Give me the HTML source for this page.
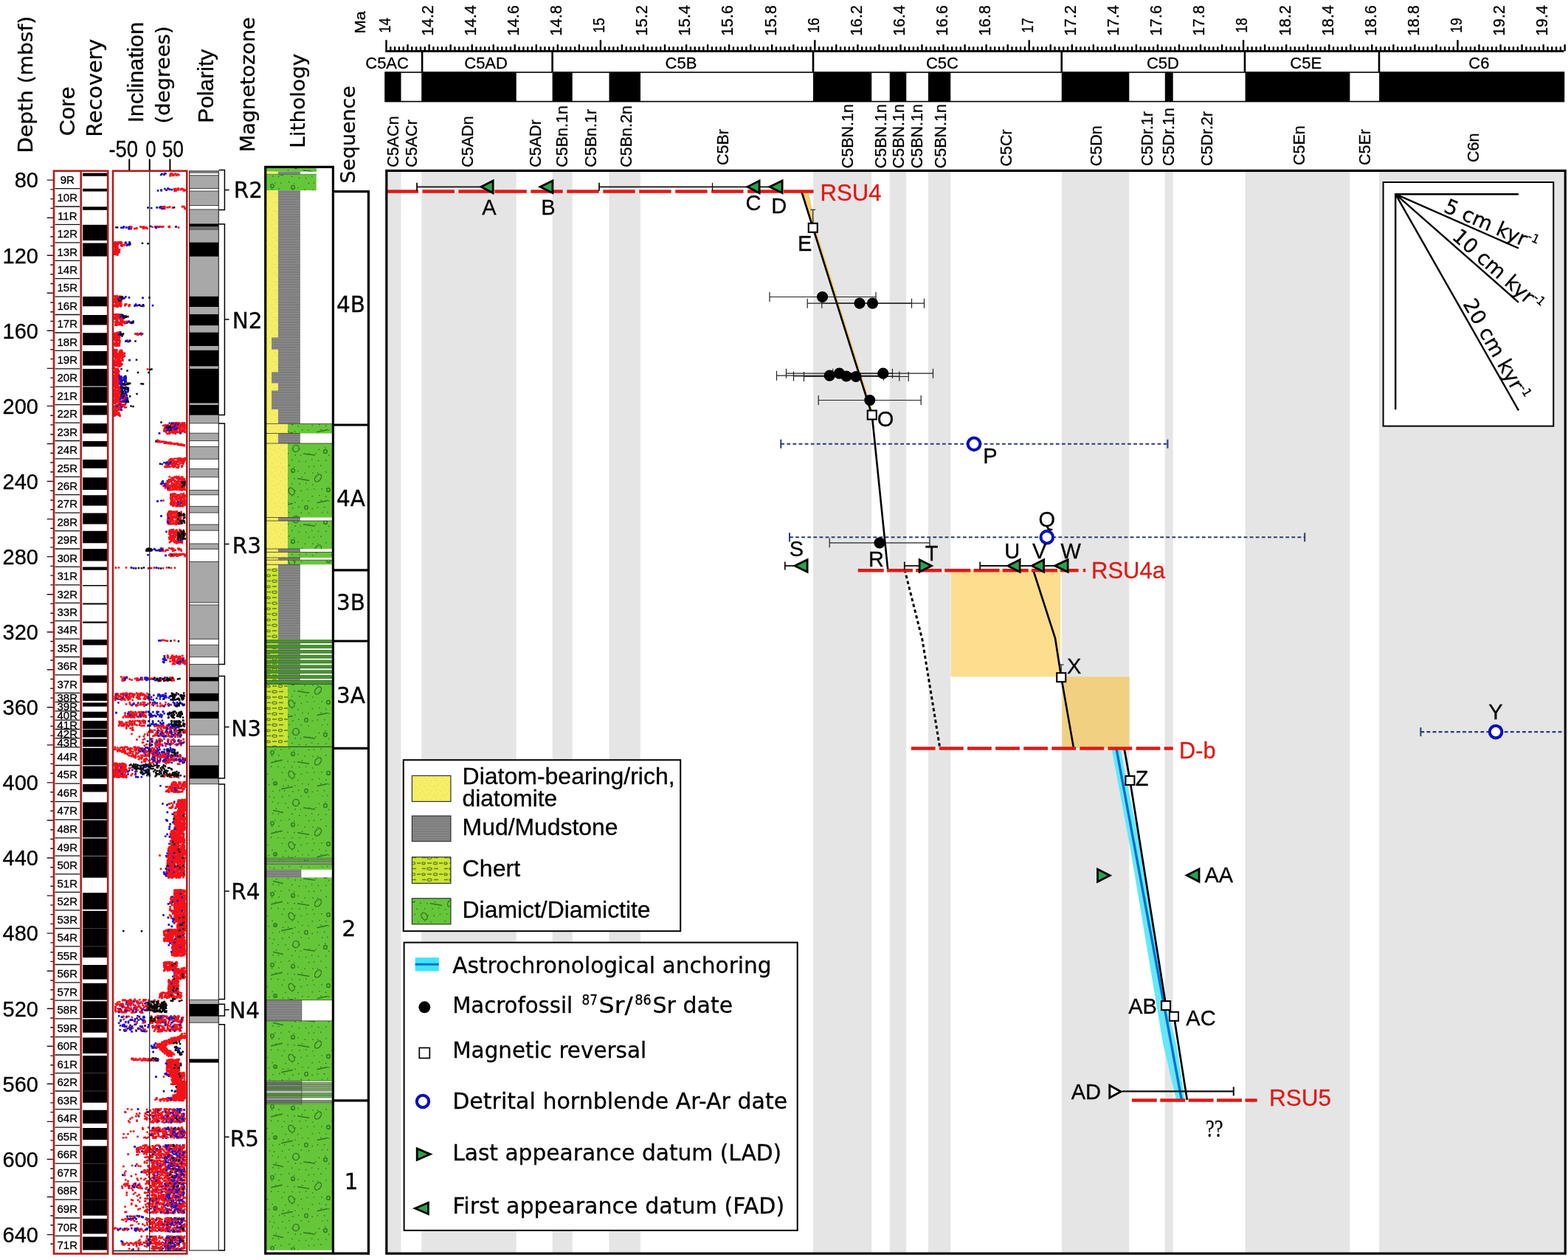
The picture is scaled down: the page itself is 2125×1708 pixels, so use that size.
<!DOCTYPE html>
<html lang="en">
<head>
<meta charset="utf-8">
<title>Age-depth model</title>
<style>html,body{margin:0;padding:0;background:#fff}svg{display:block}</style>
</head>
<body>
<svg width="2125" height="1708" viewBox="0 0 2125 1708" role="img" aria-label="Age-depth model with core recovery, inclination, polarity, lithology and sequence columns">
<defs>
<pattern id="pd" width="90" height="96" patternUnits="userSpaceOnUse" x="361" y="1012"><rect width="90" height="96" fill="#66c63a"/><path d="M11.9 4.0h0M20.0 4.0h0M30.9 2.7h0M37.7 5.0h0M57.5 4.4h0M64.4 4.1h0M74.0 3.2h0M7.6 12.4h0M17.0 11.9h0M35.2 11.4h0M42.8 10.6h0M52.2 13.1h0M63.0 13.1h0M69.6 13.3h0M81.0 11.7h0M88.9 12.9h0M12.8 18.8h0M19.7 18.6h0M29.0 20.2h0M38.0 20.7h0M48.5 18.8h0M6.6 27.2h0M16.0 27.3h0M24.2 28.3h0M34.8 27.6h0M45.0 27.9h0M53.7 27.0h0M62.8 29.0h0M88.8 27.7h0M1.5 37.5h0M21.3 35.3h0M30.7 34.6h0M39.2 37.1h0M47.3 37.3h0M55.5 35.3h0M64.6 35.0h0M75.2 34.8h0M85.3 37.5h0M8.1 44.3h0M26.1 45.5h0M34.9 43.9h0M42.9 45.6h0M62.3 44.7h0M71.8 43.5h0M80.8 45.2h0M89.4 45.2h0M3.4 51.6h0M12.3 50.7h0M22.6 53.2h0M29.6 52.8h0M38.8 53.1h0M48.8 50.5h0M56.9 51.1h0M74.2 50.4h0M84.6 51.0h0M8.8 60.5h0M17.8 59.4h0M24.5 59.8h0M35.8 61.2h0M43.8 59.4h0M62.2 61.4h0M69.4 59.8h0M78.6 59.7h0M4.5 67.8h0M10.5 69.2h0M21.7 68.2h0M30.9 66.5h0M47.2 66.9h0M57.4 67.8h0M75.6 67.0h0M83.0 66.4h0M8.2 75.0h0M16.0 76.6h0M25.9 76.8h0M35.4 77.3h0M44.9 76.7h0M71.4 77.4h0M80.0 75.1h0M89.5 76.5h0M13.5 84.1h0M29.5 82.7h0M39.2 84.9h0M46.5 85.0h0M58.0 83.0h0M66.9 82.8h0M84.6 85.4h0M8.9 90.7h0M16.6 91.3h0M34.7 91.4h0M44.6 93.3h0M53.6 93.5h0M61.7 91.0h0M70.5 92.3h0M81.0 92.1h0M89.5 92.2h0" stroke="#2c7a1c" stroke-width="1.7" stroke-linecap="round" fill="none"/><path d="M6.7 21.8L21.3 18.2M42.6 20.7L57.4 23.3M69.2 53.5L82.8 50.5M20.7 57.6L35.3 54.4M50.6 83.0L65.4 85.0M9.6 86.6L22.4 89.4" stroke="#2c7a1c" stroke-width="1.5" stroke-linecap="round" fill="none"/><ellipse cx="8" cy="8" rx="2.2" ry="2.4" transform="rotate(0 8 8)" fill="none" stroke="#2c7a1c" stroke-width="1.4"/><ellipse cx="36" cy="10" rx="2.3" ry="2.6" transform="rotate(0 36 10)" fill="none" stroke="#2c7a1c" stroke-width="1.4"/><ellipse cx="70" cy="20" rx="3.6" ry="5.6" transform="rotate(38 70 20)" fill="none" stroke="#2c7a1c" stroke-width="1.4"/><ellipse cx="34" cy="38" rx="3.6" ry="5.2" transform="rotate(-30 34 38)" fill="none" stroke="#2c7a1c" stroke-width="1.4"/><ellipse cx="84" cy="36" rx="2.3" ry="2.5" transform="rotate(0 84 36)" fill="none" stroke="#2c7a1c" stroke-width="1.4"/><ellipse cx="12" cy="50" rx="2.3" ry="2.3" transform="rotate(0 12 50)" fill="none" stroke="#2c7a1c" stroke-width="1.4"/><ellipse cx="54" cy="60" rx="2.2" ry="2.6" transform="rotate(0 54 60)" fill="none" stroke="#2c7a1c" stroke-width="1.4"/><ellipse cx="40" cy="76" rx="4.2" ry="4.6" transform="rotate(15 40 76)" fill="none" stroke="#2c7a1c" stroke-width="1.4"/><ellipse cx="80" cy="80" rx="2.3" ry="2.5" transform="rotate(0 80 80)" fill="none" stroke="#2c7a1c" stroke-width="1.4"/></pattern>
<pattern id="py" width="12" height="12" patternUnits="userSpaceOnUse"><rect width="12" height="12" fill="#f5ee66"/><path d="M2 2h1.2M8 4h1.2M5 8h1.2M10.5 10h1.2M1 10.5h1" stroke="#dcd250" stroke-width="1.2"/></pattern>
<pattern id="pm" width="16" height="3.4" patternUnits="userSpaceOnUse"><rect width="16" height="3.4" fill="#898989"/><path d="M0 1.7h16" stroke="#6e6e6e" stroke-width="0.9"/></pattern>
<pattern id="pc" width="30" height="15" patternUnits="userSpaceOnUse" x="361" y="770"><rect width="30" height="15" fill="#cce432"/><path d="M1 2.5h5M17 2.5h6M8 10h6M24 10h5" stroke="#5f7f14" stroke-width="1.3"/><ellipse cx="11" cy="2.8" rx="3.2" ry="1.6" fill="none" stroke="#5f7f14" stroke-width="1.2"/><ellipse cx="19" cy="10.2" rx="2.6" ry="1.5" fill="none" stroke="#5f7f14" stroke-width="1.2"/><ellipse cx="3" cy="10.2" rx="2.2" ry="1.4" fill="none" stroke="#5f7f14" stroke-width="1.2"/></pattern>
</defs>
<rect x="0.00" y="0.00" width="2125.00" height="1708.00" fill="#fff" />
<text transform="translate(44.3 207.5) rotate(-90)" font-family='"DejaVu Sans", Verdana, sans-serif' font-size="27.2" fill="#000" stroke="#000" stroke-width="0.3" textLength="185.7" lengthAdjust="spacingAndGlyphs" >Depth (mbsf)</text>
<text transform="translate(101.2 184.2) rotate(-90)" font-family='"Liberation Sans", Arial, Helvetica, sans-serif' font-size="30" fill="#000" stroke="#000" stroke-width="0.3" textLength="66.7" lengthAdjust="spacingAndGlyphs" >Core</text>
<text transform="translate(137.6 185.7) rotate(-90)" font-family='"DejaVu Sans", Verdana, sans-serif' font-size="28.5" fill="#000" stroke="#000" stroke-width="0.3" textLength="133" lengthAdjust="spacingAndGlyphs" >Recovery</text>
<text transform="translate(194.1 166.3) rotate(-90)" font-family='"Liberation Sans", Arial, Helvetica, sans-serif' font-size="29" fill="#000" stroke="#000" stroke-width="0.3" textLength="136.3" lengthAdjust="spacingAndGlyphs" >Inclination</text>
<text transform="translate(230 167.5) rotate(-90)" font-family='"DejaVu Sans", Verdana, sans-serif' font-size="27" fill="#000" stroke="#000" stroke-width="0.3" textLength="132.2" lengthAdjust="spacingAndGlyphs" >(degrees)</text>
<text transform="translate(288.8 166.8) rotate(-90)" font-family='"Liberation Sans", Arial, Helvetica, sans-serif' font-size="29" fill="#000" stroke="#000" stroke-width="0.3" textLength="100.1" lengthAdjust="spacingAndGlyphs" >Polarity</text>
<text transform="translate(344.9 206.2) rotate(-90)" font-family='"DejaVu Sans", Verdana, sans-serif' font-size="27.2" fill="#000" stroke="#000" stroke-width="0.3" textLength="183" lengthAdjust="spacingAndGlyphs" >Magnetozone</text>
<text transform="translate(413.4 200.7) rotate(-90)" font-family='"DejaVu Sans", Verdana, sans-serif' font-size="27.2" fill="#000" stroke="#000" stroke-width="0.3" textLength="128" lengthAdjust="spacingAndGlyphs" >Lithology</text>
<text transform="translate(481.2 248.6) rotate(-90)" font-family='"DejaVu Sans", Verdana, sans-serif' font-size="27.2" fill="#000" stroke="#000" stroke-width="0.3" textLength="132.4" lengthAdjust="spacingAndGlyphs" >Sequence</text>
<text x="52" y="254.4" font-family='"Liberation Sans", Arial, Helvetica, sans-serif' font-size="29" fill="#000" stroke="#000" stroke-width="0.3" text-anchor="end" >80</text>
<text x="52" y="356.5" font-family='"Liberation Sans", Arial, Helvetica, sans-serif' font-size="29" fill="#000" stroke="#000" stroke-width="0.3" text-anchor="end" >120</text>
<text x="52" y="458.6" font-family='"Liberation Sans", Arial, Helvetica, sans-serif' font-size="29" fill="#000" stroke="#000" stroke-width="0.3" text-anchor="end" >160</text>
<text x="52" y="560.7" font-family='"Liberation Sans", Arial, Helvetica, sans-serif' font-size="29" fill="#000" stroke="#000" stroke-width="0.3" text-anchor="end" >200</text>
<text x="52" y="662.8" font-family='"Liberation Sans", Arial, Helvetica, sans-serif' font-size="29" fill="#000" stroke="#000" stroke-width="0.3" text-anchor="end" >240</text>
<text x="52" y="764.9" font-family='"Liberation Sans", Arial, Helvetica, sans-serif' font-size="29" fill="#000" stroke="#000" stroke-width="0.3" text-anchor="end" >280</text>
<text x="52" y="867.0" font-family='"Liberation Sans", Arial, Helvetica, sans-serif' font-size="29" fill="#000" stroke="#000" stroke-width="0.3" text-anchor="end" >320</text>
<text x="52" y="969.1" font-family='"Liberation Sans", Arial, Helvetica, sans-serif' font-size="29" fill="#000" stroke="#000" stroke-width="0.3" text-anchor="end" >360</text>
<text x="52" y="1071.2" font-family='"Liberation Sans", Arial, Helvetica, sans-serif' font-size="29" fill="#000" stroke="#000" stroke-width="0.3" text-anchor="end" >400</text>
<text x="52" y="1173.3" font-family='"Liberation Sans", Arial, Helvetica, sans-serif' font-size="29" fill="#000" stroke="#000" stroke-width="0.3" text-anchor="end" >440</text>
<text x="52" y="1275.4" font-family='"Liberation Sans", Arial, Helvetica, sans-serif' font-size="29" fill="#000" stroke="#000" stroke-width="0.3" text-anchor="end" >480</text>
<text x="52" y="1377.5" font-family='"Liberation Sans", Arial, Helvetica, sans-serif' font-size="29" fill="#000" stroke="#000" stroke-width="0.3" text-anchor="end" >520</text>
<text x="52" y="1479.6" font-family='"Liberation Sans", Arial, Helvetica, sans-serif' font-size="29" fill="#000" stroke="#000" stroke-width="0.3" text-anchor="end" >560</text>
<text x="52" y="1581.8" font-family='"Liberation Sans", Arial, Helvetica, sans-serif' font-size="29" fill="#000" stroke="#000" stroke-width="0.3" text-anchor="end" >600</text>
<text x="52" y="1683.9" font-family='"Liberation Sans", Arial, Helvetica, sans-serif' font-size="29" fill="#000" stroke="#000" stroke-width="0.3" text-anchor="end" >640</text>
<path d="M63.7 244.1H72M68.3 256.9H72M68.3 269.6H72M68.3 282.4H72M63.7 295.2H72M68.3 307.9H72M68.3 320.7H72M68.3 333.4H72M63.7 346.2H72M68.3 359.0H72M68.3 371.7H72M68.3 384.5H72M63.7 397.3H72M68.3 410.0H72M68.3 422.8H72M68.3 435.5H72M63.7 448.3H72M68.3 461.1H72M68.3 473.8H72M68.3 486.6H72M63.7 499.4H72M68.3 512.1H72M68.3 524.9H72M68.3 537.6H72M63.7 550.4H72M68.3 563.2H72M68.3 575.9H72M68.3 588.7H72M63.7 601.5H72M68.3 614.2H72M68.3 627.0H72M68.3 639.8H72M63.7 652.5H72M68.3 665.3H72M68.3 678.0H72M68.3 690.8H72M63.7 703.6H72M68.3 716.3H72M68.3 729.1H72M68.3 741.9H72M63.7 754.6H72M68.3 767.4H72M68.3 780.1H72M68.3 792.9H72M63.7 805.7H72M68.3 818.4H72M68.3 831.2H72M68.3 844.0H72M63.7 856.7H72M68.3 869.5H72M68.3 882.2H72M68.3 895.0H72M63.7 907.8H72M68.3 920.5H72M68.3 933.3H72M68.3 946.1H72M63.7 958.8H72M68.3 971.6H72M68.3 984.4H72M68.3 997.1H72M63.7 1009.9H72M68.3 1022.6H72M68.3 1035.4H72M68.3 1048.2H72M63.7 1060.9H72M68.3 1073.7H72M68.3 1086.5H72M68.3 1099.2H72M63.7 1112.0H72M68.3 1124.7H72M68.3 1137.5H72M68.3 1150.3H72M63.7 1163.0H72M68.3 1175.8H72M68.3 1188.6H72M68.3 1201.3H72M63.7 1214.1H72M68.3 1226.9H72M68.3 1239.6H72M68.3 1252.4H72M63.7 1265.1H72M68.3 1277.9H72M68.3 1290.7H72M68.3 1303.4H72M63.7 1316.2H72M68.3 1329.0H72M68.3 1341.7H72M68.3 1354.5H72M63.7 1367.2H72M68.3 1380.0H72M68.3 1392.8H72M68.3 1405.5H72M63.7 1418.3H72M68.3 1431.1H72M68.3 1443.8H72M68.3 1456.6H72M63.7 1469.3H72M68.3 1482.1H72M68.3 1494.9H72M68.3 1507.6H72M63.7 1520.4H72M68.3 1533.2H72M68.3 1545.9H72M68.3 1558.7H72M63.7 1571.5H72M68.3 1584.2H72M68.3 1597.0H72M68.3 1609.7H72M63.7 1622.5H72M68.3 1635.3H72M68.3 1648.0H72M68.3 1660.8H72M63.7 1673.6H72M68.3 1686.3H72" stroke="#3a0d0d" stroke-width="1.4" fill="none"/>
<rect x="73.00" y="231.50" width="73.20" height="1468.00" fill="#fff" />
<path d="M112 234.4H145V238.8H112zM112 255.8H145V259.6H112zM112 280.2H145V284.8H112zM112 304.8H145V326.0H112zM112 329.4H145V347.5H112zM112 402.0H145V415.2H112zM112 426.9H145V440.6H112zM112 451.2H145V468.1H112zM112 475.9H145V495.6H112zM112 500.0H145V523.4H112zM112 524.4H145V546.0H112zM112 549.4H145V562.5H112zM112 574.0H145V587.5H112zM112 598.1H145V605.6H112zM112 623.1H145V634.8H112zM112 647.2H145V664.0H112zM112 671.2H145V685.6H112zM112 695.6H145V710.6H112zM112 719.8H145V736.2H112zM112 744.0H145V760.6H112zM112 768.5H145V772.8H112zM112 793.0H145V794.4H112zM112 817.5H145V819.4H112zM112 842.5H145V844.8H112zM112 866.9H145V874.4H112zM112 891.2H145V901.0H112zM112 915.6H145V925.6H112zM112 940.0H145V950.0H112zM112 952.5H145V957.8H112zM112 964.8H145V973.1H112zM112 976.9H145V988.3H112zM112 989.0H145V999.4H112zM112 1001.5H145V1012.5H112zM112 1014.0H145V1037.2H112zM112 1038.5H145V1055.6H112zM112 1063.1H145V1073.5H112zM112 1087.5H145V1110.6H112zM112 1111.9H145V1135.2H112zM112 1136.5H145V1160.0H112zM112 1160.6H145V1189.8H112zM112 1210.2H145V1232.8H112zM112 1234.8H145V1298.1H112zM112 1308.1H145V1327.5H112zM112 1332.8H145V1355.6H112zM112 1357.2H145V1380.0H112zM112 1381.5H145V1399.8H112zM112 1406.5H145V1428.1H112zM112 1431.0H145V1494.8H112zM112 1504.8H145V1523.1H112zM112 1529.1H145V1545.0H112zM112 1553.5H145V1647.8H112zM112 1651.9H145V1672.5H112zM112 1676.5H145V1694.4H112z" fill="#000"/>
<line x1="112.00" y1="523.90" x2="145.00" y2="523.90" stroke="#666" stroke-width="0.6" />
<line x1="112.00" y1="1111.20" x2="145.00" y2="1111.20" stroke="#666" stroke-width="0.6" />
<line x1="112.00" y1="1160.30" x2="145.00" y2="1160.30" stroke="#666" stroke-width="0.6" />
<line x1="112.00" y1="1258.50" x2="145.00" y2="1258.50" stroke="#666" stroke-width="0.6" />
<line x1="112.00" y1="1282.90" x2="145.00" y2="1282.90" stroke="#666" stroke-width="0.6" />
<line x1="112.00" y1="1454.60" x2="145.00" y2="1454.60" stroke="#666" stroke-width="0.6" />
<line x1="112.00" y1="1479.00" x2="145.00" y2="1479.00" stroke="#666" stroke-width="0.6" />
<line x1="112.00" y1="1577.25" x2="145.00" y2="1577.25" stroke="#666" stroke-width="0.6" />
<line x1="112.00" y1="1601.80" x2="145.00" y2="1601.80" stroke="#666" stroke-width="0.6" />
<line x1="112.00" y1="1626.25" x2="145.00" y2="1626.25" stroke="#666" stroke-width="0.6" />
<path d="M74.5 255.6H108M74.5 280.0H108M74.5 304.4H108M74.5 328.9H108M74.5 353.3H108M74.5 377.7H108M74.5 402.1H108M74.5 426.5H108M74.5 451.0H108M74.5 475.4H108M74.5 499.8H108M74.5 524.2H108M74.5 548.6H108M74.5 573.1H108M74.5 597.5H108M74.5 621.9H108M74.5 646.3H108M74.5 670.7H108M74.5 695.2H108M74.5 719.6H108M74.5 744.0H108M74.5 768.4H108M74.5 792.8H108M74.5 817.3H108M74.5 841.7H108M74.5 866.1H108M74.5 890.5H108M74.5 914.9H108M74.5 939.4H108M74.5 951.6H108M74.5 963.8H108M74.5 976.2H108M74.5 988.5H108M74.5 1000.6H108M74.5 1012.9H108M74.5 1037.5H108M74.5 1062.1H108M74.5 1086.6H108M74.5 1111.2H108M74.5 1135.9H108M74.5 1160.2H108M74.5 1184.8H108M74.5 1209.4H108M74.5 1233.8H108M74.5 1258.5H108M74.5 1282.9H108M74.5 1307.5H108M74.5 1331.9H108M74.5 1356.2H108M74.5 1380.9H108M74.5 1405.6H108M74.5 1430.0H108M74.5 1454.6H108M74.5 1479.0H108M74.5 1503.6H108M74.5 1528.1H108M74.5 1552.6H108M74.5 1577.2H108M74.5 1601.8H108M74.5 1626.2H108M74.5 1651.0H108M74.5 1675.4H108" stroke="#111" stroke-width="1.3" fill="none"/>
<text x="91.3" y="249.2" font-family='"Liberation Sans", Arial, Helvetica, sans-serif' font-size="15" fill="#000" stroke="#000" stroke-width="0.3" text-anchor="middle" >9R</text>
<text x="91.3" y="273.2" font-family='"Liberation Sans", Arial, Helvetica, sans-serif' font-size="15" fill="#000" stroke="#000" stroke-width="0.3" text-anchor="middle" >10R</text>
<text x="91.3" y="297.6" font-family='"Liberation Sans", Arial, Helvetica, sans-serif' font-size="15" fill="#000" stroke="#000" stroke-width="0.3" text-anchor="middle" >11R</text>
<text x="91.3" y="322.0" font-family='"Liberation Sans", Arial, Helvetica, sans-serif' font-size="15" fill="#000" stroke="#000" stroke-width="0.3" text-anchor="middle" >12R</text>
<text x="91.3" y="346.5" font-family='"Liberation Sans", Arial, Helvetica, sans-serif' font-size="15" fill="#000" stroke="#000" stroke-width="0.3" text-anchor="middle" >13R</text>
<text x="91.3" y="370.9" font-family='"Liberation Sans", Arial, Helvetica, sans-serif' font-size="15" fill="#000" stroke="#000" stroke-width="0.3" text-anchor="middle" >14R</text>
<text x="91.3" y="395.3" font-family='"Liberation Sans", Arial, Helvetica, sans-serif' font-size="15" fill="#000" stroke="#000" stroke-width="0.3" text-anchor="middle" >15R</text>
<text x="91.3" y="419.7" font-family='"Liberation Sans", Arial, Helvetica, sans-serif' font-size="15" fill="#000" stroke="#000" stroke-width="0.3" text-anchor="middle" >16R</text>
<text x="91.3" y="444.1" font-family='"Liberation Sans", Arial, Helvetica, sans-serif' font-size="15" fill="#000" stroke="#000" stroke-width="0.3" text-anchor="middle" >17R</text>
<text x="91.3" y="468.6" font-family='"Liberation Sans", Arial, Helvetica, sans-serif' font-size="15" fill="#000" stroke="#000" stroke-width="0.3" text-anchor="middle" >18R</text>
<text x="91.3" y="493.0" font-family='"Liberation Sans", Arial, Helvetica, sans-serif' font-size="15" fill="#000" stroke="#000" stroke-width="0.3" text-anchor="middle" >19R</text>
<text x="91.3" y="517.4" font-family='"Liberation Sans", Arial, Helvetica, sans-serif' font-size="15" fill="#000" stroke="#000" stroke-width="0.3" text-anchor="middle" >20R</text>
<text x="91.3" y="541.8" font-family='"Liberation Sans", Arial, Helvetica, sans-serif' font-size="15" fill="#000" stroke="#000" stroke-width="0.3" text-anchor="middle" >21R</text>
<text x="91.3" y="566.2" font-family='"Liberation Sans", Arial, Helvetica, sans-serif' font-size="15" fill="#000" stroke="#000" stroke-width="0.3" text-anchor="middle" >22R</text>
<text x="91.3" y="590.7" font-family='"Liberation Sans", Arial, Helvetica, sans-serif' font-size="15" fill="#000" stroke="#000" stroke-width="0.3" text-anchor="middle" >23R</text>
<text x="91.3" y="615.1" font-family='"Liberation Sans", Arial, Helvetica, sans-serif' font-size="15" fill="#000" stroke="#000" stroke-width="0.3" text-anchor="middle" >24R</text>
<text x="91.3" y="639.5" font-family='"Liberation Sans", Arial, Helvetica, sans-serif' font-size="15" fill="#000" stroke="#000" stroke-width="0.3" text-anchor="middle" >25R</text>
<text x="91.3" y="663.9" font-family='"Liberation Sans", Arial, Helvetica, sans-serif' font-size="15" fill="#000" stroke="#000" stroke-width="0.3" text-anchor="middle" >26R</text>
<text x="91.3" y="688.4" font-family='"Liberation Sans", Arial, Helvetica, sans-serif' font-size="15" fill="#000" stroke="#000" stroke-width="0.3" text-anchor="middle" >27R</text>
<text x="91.3" y="712.8" font-family='"Liberation Sans", Arial, Helvetica, sans-serif' font-size="15" fill="#000" stroke="#000" stroke-width="0.3" text-anchor="middle" >28R</text>
<text x="91.3" y="737.2" font-family='"Liberation Sans", Arial, Helvetica, sans-serif' font-size="15" fill="#000" stroke="#000" stroke-width="0.3" text-anchor="middle" >29R</text>
<text x="91.3" y="761.6" font-family='"Liberation Sans", Arial, Helvetica, sans-serif' font-size="15" fill="#000" stroke="#000" stroke-width="0.3" text-anchor="middle" >30R</text>
<text x="91.3" y="786.0" font-family='"Liberation Sans", Arial, Helvetica, sans-serif' font-size="15" fill="#000" stroke="#000" stroke-width="0.3" text-anchor="middle" >31R</text>
<text x="91.3" y="810.5" font-family='"Liberation Sans", Arial, Helvetica, sans-serif' font-size="15" fill="#000" stroke="#000" stroke-width="0.3" text-anchor="middle" >32R</text>
<text x="91.3" y="834.9" font-family='"Liberation Sans", Arial, Helvetica, sans-serif' font-size="15" fill="#000" stroke="#000" stroke-width="0.3" text-anchor="middle" >33R</text>
<text x="91.3" y="859.3" font-family='"Liberation Sans", Arial, Helvetica, sans-serif' font-size="15" fill="#000" stroke="#000" stroke-width="0.3" text-anchor="middle" >34R</text>
<text x="91.3" y="883.7" font-family='"Liberation Sans", Arial, Helvetica, sans-serif' font-size="15" fill="#000" stroke="#000" stroke-width="0.3" text-anchor="middle" >35R</text>
<text x="91.3" y="908.1" font-family='"Liberation Sans", Arial, Helvetica, sans-serif' font-size="15" fill="#000" stroke="#000" stroke-width="0.3" text-anchor="middle" >36R</text>
<text x="91.3" y="932.6" font-family='"Liberation Sans", Arial, Helvetica, sans-serif' font-size="15" fill="#000" stroke="#000" stroke-width="0.3" text-anchor="middle" >37R</text>
<text x="91.3" y="950.9" font-family='"Liberation Sans", Arial, Helvetica, sans-serif' font-size="15" fill="#000" stroke="#000" stroke-width="0.3" text-anchor="middle" >38R</text>
<text x="91.3" y="963.1" font-family='"Liberation Sans", Arial, Helvetica, sans-serif' font-size="15" fill="#000" stroke="#000" stroke-width="0.3" text-anchor="middle" >39R</text>
<text x="91.3" y="975.4" font-family='"Liberation Sans", Arial, Helvetica, sans-serif' font-size="15" fill="#000" stroke="#000" stroke-width="0.3" text-anchor="middle" >40R</text>
<text x="91.3" y="987.8" font-family='"Liberation Sans", Arial, Helvetica, sans-serif' font-size="15" fill="#000" stroke="#000" stroke-width="0.3" text-anchor="middle" >41R</text>
<text x="91.3" y="999.9" font-family='"Liberation Sans", Arial, Helvetica, sans-serif' font-size="15" fill="#000" stroke="#000" stroke-width="0.3" text-anchor="middle" >42R</text>
<text x="91.3" y="1012.1" font-family='"Liberation Sans", Arial, Helvetica, sans-serif' font-size="15" fill="#000" stroke="#000" stroke-width="0.3" text-anchor="middle" >43R</text>
<text x="91.3" y="1030.6" font-family='"Liberation Sans", Arial, Helvetica, sans-serif' font-size="15" fill="#000" stroke="#000" stroke-width="0.3" text-anchor="middle" >44R</text>
<text x="91.3" y="1055.2" font-family='"Liberation Sans", Arial, Helvetica, sans-serif' font-size="15" fill="#000" stroke="#000" stroke-width="0.3" text-anchor="middle" >45R</text>
<text x="91.3" y="1079.8" font-family='"Liberation Sans", Arial, Helvetica, sans-serif' font-size="15" fill="#000" stroke="#000" stroke-width="0.3" text-anchor="middle" >46R</text>
<text x="91.3" y="1104.3" font-family='"Liberation Sans", Arial, Helvetica, sans-serif' font-size="15" fill="#000" stroke="#000" stroke-width="0.3" text-anchor="middle" >47R</text>
<text x="91.3" y="1129.0" font-family='"Liberation Sans", Arial, Helvetica, sans-serif' font-size="15" fill="#000" stroke="#000" stroke-width="0.3" text-anchor="middle" >48R</text>
<text x="91.3" y="1153.5" font-family='"Liberation Sans", Arial, Helvetica, sans-serif' font-size="15" fill="#000" stroke="#000" stroke-width="0.3" text-anchor="middle" >49R</text>
<text x="91.3" y="1177.9" font-family='"Liberation Sans", Arial, Helvetica, sans-serif' font-size="15" fill="#000" stroke="#000" stroke-width="0.3" text-anchor="middle" >50R</text>
<text x="91.3" y="1202.5" font-family='"Liberation Sans", Arial, Helvetica, sans-serif' font-size="15" fill="#000" stroke="#000" stroke-width="0.3" text-anchor="middle" >51R</text>
<text x="91.3" y="1227.0" font-family='"Liberation Sans", Arial, Helvetica, sans-serif' font-size="15" fill="#000" stroke="#000" stroke-width="0.3" text-anchor="middle" >52R</text>
<text x="91.3" y="1251.5" font-family='"Liberation Sans", Arial, Helvetica, sans-serif' font-size="15" fill="#000" stroke="#000" stroke-width="0.3" text-anchor="middle" >53R</text>
<text x="91.3" y="1276.1" font-family='"Liberation Sans", Arial, Helvetica, sans-serif' font-size="15" fill="#000" stroke="#000" stroke-width="0.3" text-anchor="middle" >54R</text>
<text x="91.3" y="1300.6" font-family='"Liberation Sans", Arial, Helvetica, sans-serif' font-size="15" fill="#000" stroke="#000" stroke-width="0.3" text-anchor="middle" >55R</text>
<text x="91.3" y="1325.1" font-family='"Liberation Sans", Arial, Helvetica, sans-serif' font-size="15" fill="#000" stroke="#000" stroke-width="0.3" text-anchor="middle" >56R</text>
<text x="91.3" y="1349.5" font-family='"Liberation Sans", Arial, Helvetica, sans-serif' font-size="15" fill="#000" stroke="#000" stroke-width="0.3" text-anchor="middle" >57R</text>
<text x="91.3" y="1374.0" font-family='"Liberation Sans", Arial, Helvetica, sans-serif' font-size="15" fill="#000" stroke="#000" stroke-width="0.3" text-anchor="middle" >58R</text>
<text x="91.3" y="1398.7" font-family='"Liberation Sans", Arial, Helvetica, sans-serif' font-size="15" fill="#000" stroke="#000" stroke-width="0.3" text-anchor="middle" >59R</text>
<text x="91.3" y="1423.2" font-family='"Liberation Sans", Arial, Helvetica, sans-serif' font-size="15" fill="#000" stroke="#000" stroke-width="0.3" text-anchor="middle" >60R</text>
<text x="91.3" y="1447.7" font-family='"Liberation Sans", Arial, Helvetica, sans-serif' font-size="15" fill="#000" stroke="#000" stroke-width="0.3" text-anchor="middle" >61R</text>
<text x="91.3" y="1472.2" font-family='"Liberation Sans", Arial, Helvetica, sans-serif' font-size="15" fill="#000" stroke="#000" stroke-width="0.3" text-anchor="middle" >62R</text>
<text x="91.3" y="1496.7" font-family='"Liberation Sans", Arial, Helvetica, sans-serif' font-size="15" fill="#000" stroke="#000" stroke-width="0.3" text-anchor="middle" >63R</text>
<text x="91.3" y="1521.2" font-family='"Liberation Sans", Arial, Helvetica, sans-serif' font-size="15" fill="#000" stroke="#000" stroke-width="0.3" text-anchor="middle" >64R</text>
<text x="91.3" y="1545.8" font-family='"Liberation Sans", Arial, Helvetica, sans-serif' font-size="15" fill="#000" stroke="#000" stroke-width="0.3" text-anchor="middle" >65R</text>
<text x="91.3" y="1570.3" font-family='"Liberation Sans", Arial, Helvetica, sans-serif' font-size="15" fill="#000" stroke="#000" stroke-width="0.3" text-anchor="middle" >66R</text>
<text x="91.3" y="1594.9" font-family='"Liberation Sans", Arial, Helvetica, sans-serif' font-size="15" fill="#000" stroke="#000" stroke-width="0.3" text-anchor="middle" >67R</text>
<text x="91.3" y="1619.4" font-family='"Liberation Sans", Arial, Helvetica, sans-serif' font-size="15" fill="#000" stroke="#000" stroke-width="0.3" text-anchor="middle" >68R</text>
<text x="91.3" y="1644.0" font-family='"Liberation Sans", Arial, Helvetica, sans-serif' font-size="15" fill="#000" stroke="#000" stroke-width="0.3" text-anchor="middle" >69R</text>
<text x="91.3" y="1668.6" font-family='"Liberation Sans", Arial, Helvetica, sans-serif' font-size="15" fill="#000" stroke="#000" stroke-width="0.3" text-anchor="middle" >70R</text>
<text x="91.3" y="1692.9" font-family='"Liberation Sans", Arial, Helvetica, sans-serif' font-size="15" fill="#000" stroke="#000" stroke-width="0.3" text-anchor="middle" >71R</text>
<rect x="73" y="231.7" width="73.2" height="1467.8" fill="none" stroke="#b81a1a" stroke-width="2.6"/>
<line x1="109.70" y1="231.70" x2="109.70" y2="1699.50" stroke="#b81a1a" stroke-width="2.6" />
<rect x="153.00" y="231.70" width="100.30" height="1467.80" fill="#fff" />
<path d="M219.3 236h0M218.1 237h0M222.5 236.6h0M224.6 235.2h0M223.5 235.1h0M232.9 257.1h0M218.2 257.7h0M214 258.4h0M229.9 256.8h0M223.2 256h0M227.7 255.6h0M225.3 257.8h0M218.8 258.1h0M225.9 257.6h0M216.5 281.1h0M219.2 282.9h0M217.6 281.5h0M205.2 282h0M221.2 282.7h0M221.6 282.6h0M212.8 281.2h0M218 280.3h0M174.8 308h0M174.9 309.1h0M167.1 308.5h0M177.8 309.9h0M175.3 310.1h0M174.4 310h0M171.2 308.2h0M164.4 308.6h0M167.9 307.6h0M211.9 309h0M210.6 307.4h0M204.2 306.8h0M211.8 308.9h0M215.2 307.8h0M238.5 307.4h0M164.4 332.9h0M172.3 331.6h0M175.4 328.2h0M172 332.5h0M175 331.7h0M170.4 328.7h0M175.4 330.5h0M175.2 332h0M176.3 330.9h0M173.1 331.4h0M166.9 404.4h0M168.4 404.1h0M170.4 402.4h0M160.5 404.9h0M165.9 402.5h0M163.4 404h0M175 403.4h0M193.5 403.9h0M183 413.8h0M189.1 413.6h0M184 412.6h0M192.9 414.9h0M190.9 414.8h0M194.4 414.5h0M182.5 414.7h0M185.7 414.1h0M207 414.1h0M167.6 431.5h0M166.7 427.5h0M170.6 428.6h0M164.7 427.7h0M163.1 429.9h0M170.6 429.6h0M164.4 429.1h0M166.8 428.8h0M163.1 426.9h0M164.6 426.8h0M174.8 436.4h0M171.2 437.6h0M180.6 435.8h0M171.7 437.6h0M173.9 436.2h0M176.8 437.4h0M179 438h0M178.1 436.8h0M178.4 437.6h0M163.5 454.3h0M163.2 450.8h0M162.6 450h0M161 453.5h0M161.4 455.8h0M162.7 452.5h0M186 453.5h0M190 452.4h0M193 452.5h0M171.5 462.2h0M174 463.3h0M176 462.1h0M171.7 462.1h0M170.5 462.6h0M172.4 461.6h0M175.5 488.1h0M164.5 500.2h0M162.5 519.6h0M163.1 510.4h0M169.3 516.3h0M169.2 517.6h0M161.6 509.9h0M164.6 519.8h0M164.9 519h0M164 511.4h0M170.1 510.4h0M164.8 517.2h0M165.2 515.3h0M170 509.8h0M170.6 517.2h0M167.4 515.2h0M161.9 512.5h0M169.6 522h0M170 513.4h0M164.4 520.4h0M170.6 517.4h0M170.5 515.9h0M165.2 512.4h0M163.6 519.1h0M169.8 513.3h0M169 515.8h0M163.1 512.4h0M163.3 514h0M164.3 522.6h0M162.6 516.9h0M165.2 516.5h0M162.1 514.6h0M169.3 510.7h0M163.8 513.9h0M164.2 511.7h0M161.8 512.3h0M164.7 518.3h0M168.2 511.2h0M164.1 510.3h0M162.7 520.7h0M169.4 515.2h0M163 520.3h0M168.4 513.9h0M170.6 514.3h0M170.5 511.9h0M163.7 516.1h0M162.7 515.3h0M164 518.9h0M167.1 521.6h0M163.8 514.2h0M163.5 517.5h0M162.7 521.2h0M172.1 544h0M173.2 543.4h0M165.6 526.9h0M170.8 524.7h0M166.6 538.6h0M170.6 533.1h0M165.2 539.4h0M166.6 542.6h0M164.4 537.8h0M173.9 526.5h0M171.3 540.1h0M162.5 524.9h0M164.6 527.6h0M166.9 530.7h0M166 524.9h0M164.3 538h0M169.4 542.5h0M165.3 539.8h0M170.9 533.6h0M162 531.7h0M172.1 542.4h0M162.6 530.3h0M169.9 542.8h0M165.2 525h0M172.3 526.4h0M173.9 528.6h0M163.1 540.5h0M167.1 539.3h0M172.8 540.4h0M163.2 530.2h0M167.5 544.8h0M171 544.5h0M172.8 540.2h0M167.9 537.8h0M171.1 525.2h0M168.7 533.4h0M163.7 544.4h0M162.6 540.8h0M172.5 539.5h0M169.1 529.7h0M170.3 545.3h0M165.2 536h0M166.7 525.3h0M164.6 533.1h0M163.8 530.8h0M170.7 539.6h0M165.1 529.2h0M167.8 535.3h0M166.6 544.6h0M173.5 530.6h0M169.3 527.1h0M172.6 531.3h0M171.9 536.1h0M170.7 527.7h0M168 537.2h0M172.8 540.9h0M158.6 550.8h0M159.6 548.7h0M164.8 551.7h0M163.9 555.3h0M164.7 555.8h0M163.5 553h0M162.4 548.5h0M159.4 552.9h0M236.4 578.8h0M231.5 576.6h0M226.4 583.6h0M236.9 575.3h0M227.4 578.4h0M232 580.9h0M232.7 580h0M235 579.4h0M227.8 577.8h0M240.2 575.2h0M227.8 579.6h0M230.1 583.3h0M234.5 574.1h0M233.8 576h0M229.6 579.6h0M227.8 579.9h0M235.4 579.2h0M232.5 574h0M233 573.9h0M234.8 583.4h0M238.1 581.6h0M241.9 574.4h0M227.6 581.7h0M232.3 583h0M241.4 575.1h0M238.4 579.8h0M238.4 574.6h0M229.8 573.7h0M226.2 577.5h0M229.4 580.1h0M237.3 576.6h0M240.2 578.1h0M240 580.5h0M240.7 579.8h0M228.7 583.4h0M231.5 581.9h0M236.9 582.2h0M228 582.9h0M216 587.2h0M230 587.2h0M244.5 587.1h0M226.1 626.7h0M226.9 627h0M225 629h0M225.4 627.2h0M222.4 627.2h0M230.6 627.4h0M230.8 629h0M231.4 626.1h0M229.7 628.9h0M228.6 629.4h0M219.5 629.3h0M218.9 655.7h0M226.6 655.4h0M223.4 658.5h0M219.7 654.1h0M221 654.8h0M227.3 652.3h0M223.1 656.2h0M226.9 652.4h0M220.7 652.4h0M226.8 656.7h0M227.5 661.7h0M229.9 661.4h0M213.5 679.4h0M218.5 678.7h0M245.4 681.6h0M243.9 682.8h0M241.6 680.4h0M239.6 681.9h0M240.9 684h0M245.9 680.7h0M227.6 707.8h0M228.2 702.4h0M228.3 702.2h0M227.4 699.3h0M228.5 708.9h0M231.3 705.6h0M227.5 707.1h0M230.8 709h0M218.5 699.6h0M225.5 720.8h0M244.8 730.9h0M246.9 730.3h0M245.2 733.2h0M244.5 730.8h0M241.7 732.3h0M206.4 745.3h0M219.5 744.1h0M216.3 745.2h0M219.1 744.4h0M218.9 744.3h0M220.4 745.6h0M212.9 746.2h0M217.8 745.4h0M201.2 745.1h0M216.7 746.7h0M215.4 745.9h0M209.2 744.3h0M220.2 746.4h0M202.5 746.7h0M211.2 745.9h0M202.7 744.9h0M209.3 744h0M204.9 745.2h0M200.5 752.3h0M224.5 753h0M231 752.7h0M178 769.5h0M181 770.3h0M184 770.3h0M203 770h0M212 769.6h0M215 770.2h0M215.5 868.2h0M217.5 868.4h0M222.9 889.3h0M225.4 894.8h0M221.1 893.6h0M222.8 890.9h0M223.3 892.7h0M221 897.1h0M222.2 897.9h0M222.2 896.7h0M223.4 894.3h0M227.2 889.3h0M242.7 897.3h0M244.8 897h0M240.5 898.9h0M242.3 893.4h0M247.8 895.6h0M245.5 897.6h0M248 893.5h0M242.6 890.9h0M244.4 896.8h0M240.9 898.9h0M169.7 919.5h0M167.7 920.9h0M171.7 918h0M166.7 919.7h0M169.2 921.4h0M196.5 920.5h0M191.1 919h0M200.5 921.2h0M199.6 919.3h0M199 918.7h0M197.2 918.9h0M197.9 919.6h0M196.7 918.7h0M190.4 921.1h0M200.2 919.5h0M199.1 920.7h0M198.3 921.9h0M230 918.8h0M220.2 920.4h0M212.7 921.9h0M216.5 921.6h0M210.3 922.1h0M223.3 919.4h0M217 920.4h0M213.2 920.9h0M208 920.2h0M214.1 922h0M233.9 940.5h0M220.7 943.6h0M201.8 948.1h0M224.4 940.1h0M225.4 945.4h0M216.9 942.3h0M214.6 941.4h0M220.3 942.3h0M208.4 942.5h0M201.3 945.9h0M216.8 947.5h0M202.4 941.8h0M217.1 944.6h0M212.2 946.7h0M231.9 943.6h0M235.3 942.2h0M235.6 948.4h0M207.8 948.9h0M221.3 947.6h0M235.9 941.5h0M228.8 946h0M201 945.1h0M204.7 948.1h0M221.4 942.1h0M215.6 941.4h0M201.6 946.6h0M202 946.1h0M222.7 944.3h0M199.6 946.4h0M234.5 941.4h0M214.1 943.4h0M224.5 943.2h0M222.7 946.9h0M219.6 943.5h0M205.1 944.7h0M234.7 949h0M235.7 947.3h0M229.9 944.2h0M166.9 942h0M158 947.1h0M163.9 941.1h0M171.2 942.7h0M163.1 948h0M166.1 946.3h0M171.5 941.4h0M157.2 941.4h0M247.6 955.1h0M249.8 955.1h0M234.9 952.2h0M242.4 955h0M239.5 957.3h0M239.8 954.6h0M241.7 954.9h0M222.4 957.2h0M246.5 953.8h0M244.1 952.3h0M240.1 952.2h0M228.7 956.4h0M228.3 954.1h0M236.8 955.9h0M231.1 955.3h0M248.7 955.2h0M248.6 956.3h0M236.4 953.4h0M160.5 952.5h0M181.2 953.6h0M187.1 952.7h0M198.2 955.5h0M207.1 952.6h0M180.7 954.5h0M207.8 956.1h0M212.6 953.1h0M184.2 956.1h0M209.7 952h0M178.9 956.1h0M204.5 967.9h0M212.8 967h0M229.3 968.1h0M203 969h0M201.4 964.9h0M222.6 967.3h0M204 971.6h0M211 970.7h0M214.1 968.8h0M198.3 964.8h0M219.4 969.8h0M227.2 967.5h0M206.3 971.1h0M214.8 965h0M203.6 969.7h0M212.6 964.9h0M221 964.8h0M205.5 969.5h0M203.9 968.1h0M202.2 966h0M211.4 971h0M207.8 970.2h0M216.3 971h0M209.4 969.7h0M202.5 969h0M218.9 972.3h0M217.7 968.8h0M207.4 965.3h0M157.5 966.1h0M177.9 968.1h0M190.1 968.7h0M178.9 970.1h0M190.6 971.4h0M182.4 968.9h0M173.5 967.3h0M185.8 971.2h0M194.1 965.7h0M170.9 971.2h0M176.2 969.9h0M219.9 976.8h0M218.8 981.1h0M215 983.1h0M203.8 983.7h0M201.4 983.4h0M211.5 981.8h0M200.4 983.9h0M217.4 979.8h0M221.4 984.1h0M201.5 977.6h0M214.8 977.5h0M212.9 983.6h0M209.4 983.9h0M219.9 981.8h0M213.1 982.7h0M208.8 982.1h0M210.9 983.7h0M207.1 977.7h0M207.2 980.5h0M205.4 981.8h0M207.1 980.2h0M221.3 980h0M227.8 983.1h0M240.5 982.4h0M237.6 987.9h0M231.1 985.8h0M227.6 982.9h0M226.8 987.9h0M232.3 985.3h0M233.8 982.3h0M230.5 987.5h0M237.3 982.2h0M235.2 985.6h0M241.7 982.3h0M229.1 981.8h0M235.2 982.7h0M236 984.3h0M242.1 986.1h0M226.8 984.3h0M226.3 986.8h0M228.6 983.2h0M240.1 985.2h0M231.3 981.9h0M238.4 987h0M238.4 981.8h0M233.4 986.6h0M237.9 982.1h0M228.4 983.2h0M233.2 982.2h0M232.9 981.9h0M245.5 996.4h0M214.2 990.1h0M225.2 992.5h0M217.6 995h0M224.8 997.4h0M224.5 998.1h0M219.6 992.1h0M232.9 998.7h0M216 997.3h0M237.5 994.4h0M244 998.8h0M225.9 990h0M231.1 999h0M222.1 998.6h0M244.3 989.3h0M231.9 991.6h0M232.5 992.6h0M244.3 998.3h0M222.2 997.8h0M214.6 997.2h0M244.2 993.2h0M225.8 991.5h0M221.6 994.8h0M234.9 996.1h0M243.4 990h0M236.3 989.7h0M218.6 992.5h0M245.9 989.8h0M228.7 997h0M245 996.9h0M231 998.3h0M230.6 991.7h0M237.4 998.8h0M241 995.7h0M231.9 993.1h0M220.4 997.5h0M214.8 997.6h0M232.4 994.4h0M243.5 990.5h0M219.9 993.4h0M232.9 993.1h0M214.1 993.3h0M204.5 1001.6h0M240.6 1009.5h0M211.5 1006.4h0M205.9 1009.6h0M200.1 1004.6h0M220.3 1010.8h0M239.3 1008.8h0M248.4 1007h0M245.4 1008.9h0M204 1010.7h0M211.1 1008.6h0M216.7 1004.6h0M203 1010.9h0M206.3 1005.6h0M224.3 1011h0M225.5 1008.2h0M216.5 1008.8h0M236.5 1005.4h0M243.5 1008.2h0M241.6 1004.4h0M228.1 1008.5h0M227.8 1005.4h0M204.8 1002.2h0M206 1004.5h0M235.1 1002h0M230.2 1008.4h0M235.4 1003.5h0M230.3 1009.3h0M227.7 1003.7h0M213.2 1005.3h0M242.4 1002.9h0M245.7 1007.5h0M214.4 1016.5h0M196.1 1015.7h0M215.7 1013.1h0M202.9 1019.8h0M204.7 1015.5h0M212.7 1018.2h0M190.2 1018.6h0M199.5 1013.9h0M208.4 1015.6h0M234.4 1015.7h0M216.5 1016.1h0M219.5 1019.7h0M228.1 1017.2h0M191.7 1015.3h0M214.6 1019.7h0M193.1 1017.1h0M207.2 1018.2h0M203 1017.5h0M207 1019.4h0M231.1 1014.9h0M202.5 1014.6h0M235.1 1016.4h0M199.7 1013.8h0M193.5 1018.6h0M226 1015.9h0M226.5 1018h0M230.9 1013.8h0M227.5 1015.5h0M231 1016.3h0M201.9 1016.3h0M212.8 1014.1h0M197.5 1013.3h0M234.9 1024.7h0M217.2 1029.4h0M211.8 1022.6h0M229.2 1017.2h0M225.1 1027h0M241.1 1024.7h0M203.1 1017.1h0M227.4 1027h0M208.9 1024h0M222.6 1019.6h0M238.9 1021.5h0M250.6 1030.4h0M216.1 1020.4h0M204.1 1017.7h0M210.4 1017.2h0M245.5 1031.3h0M206.4 1021.8h0M209.4 1030.9h0M247.4 1029.5h0M232.8 1017.1h0M219.1 1026.3h0M224.6 1022.8h0M240.1 1024.4h0M222.2 1030.3h0M222.7 1016.1h0M232.4 1026.4h0M189.1 1017.2h0M224.2 1030.4h0M244 1023.6h0M220.1 1019.1h0M213.1 1017h0M209.8 1027.8h0M250.6 1028.2h0M243.7 1029.2h0M243 1031.2h0M238.4 1024.8h0M235.1 1028.9h0M209.1 1026.7h0M208.2 1021.4h0M244 1029.7h0M240.5 1020.7h0M188.1 1016.9h0M195.6 1021.2h0M225.2 1031.2h0M236 1022.2h0M228.3 1024.5h0M217.5 1023h0M221.3 1031.3h0M220.6 1024.4h0M194.3 1018.3h0M236.1 1024.1h0M197.3 1022.9h0M213.8 1031h0M207.9 1030.1h0M207 1026.4h0M211.1 1020.2h0M224.1 1028.1h0M214.1 1022.7h0M210.6 1024.3h0M216.8 1031.2h0M214.2 1018.1h0M228.4 1021.6h0M214 1032.9h0M238.1 1029.2h0M230.4 1030.1h0M206 1029.1h0M234.4 1030.1h0M249.6 1033.3h0M228.5 1033.6h0M248.1 1029.1h0M243.6 1032.4h0M242.6 1029.3h0M214.8 1032.3h0M208.4 1031.8h0M214.9 1033.1h0M212.8 1033.9h0M232.8 1033.8h0M247.8 1034h0M235.7 1031.1h0M245.2 1031.8h0M191.8 1053.3h0M180.8 1038.9h0M201 1043.1h0M183.8 1049h0M176.1 1041.4h0M173.4 1046h0M160.1 1046.6h0M201.4 1044.2h0M179.3 1043.8h0M193.4 1049.8h0M173.5 1049.5h0M165.2 1049.1h0M156.7 1047.5h0M164.1 1040.3h0M190 1043h0M196.3 1037.4h0M199.7 1038.6h0M184.3 1053.1h0M199.3 1051.3h0M195.4 1044.6h0M191.9 1037.6h0M191.7 1048h0M159.8 1039.5h0M183.9 1045.9h0M164.2 1048.7h0M200.6 1046.7h0M193.7 1041.3h0M186.9 1053.3h0M175.2 1044.5h0M161.7 1044.9h0M168.9 1038.3h0M197.4 1040h0M217.5 1065.3h0M237.1 1068.5h0M236.9 1066.8h0M239.1 1071.3h0M233.3 1066.8h0M237.6 1071.4h0M232.5 1070.6h0M230 1134.2h0M232.5 1135.4h0M228.7 1174h0M229.5 1143.9h0M233.9 1103.8h0M236.3 1086.7h0M226.4 1091.1h0M230.1 1163.5h0M230.8 1117.1h0M233 1182.8h0M237.3 1123.5h0M225.3 1111.4h0M235.2 1162.4h0M229.6 1168.8h0M226.9 1156.9h0M237.2 1113.8h0M237.2 1174.5h0M233.9 1143.4h0M229.6 1123.7h0M234.4 1182.4h0M226.1 1183.7h0M236.8 1129h0M235.5 1182.4h0M227.7 1178.1h0M225.5 1160.3h0M224.2 1133.7h0M226.7 1131h0M233.4 1128.6h0M236.3 1156.3h0M228.3 1183.1h0M229.9 1120.7h0M235.8 1112.4h0M233.3 1168.5h0M228.1 1153.4h0M234.6 1114.9h0M237.9 1095.6h0M226.9 1101h0M236.8 1165.1h0M226.5 1112.5h0M228 1183.1h0M222.8 1184.5h0M225.9 1178.5h0M224.2 1185.3h0M223.8 1184.9h0M228.8 1179.6h0M228.7 1178.4h0M222.2 1182.6h0M226.3 1181.6h0M225 1177.5h0M225.8 1181.8h0M225.1 1187.1h0M244.4 1233.6h0M240.8 1221.1h0M246.2 1275h0M244.4 1211.7h0M249.3 1221h0M246.8 1234.7h0M249.7 1222h0M232.9 1255.9h0M245.4 1290.3h0M237.4 1272.9h0M242 1228.1h0M244.2 1284.2h0M229.4 1271.7h0M234.4 1249.1h0M242.7 1255.6h0M228.1 1261.6h0M234.3 1234.9h0M234.3 1245.4h0M232.9 1224.5h0M247.4 1251.7h0M249.1 1226.7h0M247.7 1267.4h0M244.6 1287.5h0M232.3 1290.3h0M235.9 1264.5h0M234 1222.2h0M230.9 1265.8h0M246.6 1216.5h0M228.7 1281.2h0M228.1 1225.2h0M249.7 1255.5h0M240.7 1220.9h0M244 1247.1h0M244.1 1260.6h0M249.5 1216.7h0M230.4 1278.5h0M245.9 1207.9h0M236.4 1277.6h0M241.9 1291.5h0M228.9 1253.6h0M236.3 1251.1h0M235.6 1246.7h0M236.1 1284.3h0M233.5 1215.8h0M239.4 1283.1h0M228 1243.9h0M237 1336.7h0M235 1343.8h0M233.7 1335.8h0M234.1 1315.1h0M234.4 1323.8h0M232.3 1333.3h0M236.8 1319.5h0M238.3 1342.9h0M181.9 1365.8h0M161.2 1372h0M166.6 1361.9h0M184.5 1371.4h0M196.5 1360.2h0M180.2 1370.6h0M169 1371.2h0M201.7 1367.1h0M189.5 1359.7h0M196.3 1369.3h0M176.1 1360.3h0M181.3 1357.8h0M172.5 1369.8h0M171.1 1370.1h0M187.8 1363.5h0M199.6 1369h0M176.4 1361.7h0M193.4 1368.1h0M171.2 1368.6h0M192.1 1369.8h0M174.1 1365.5h0M162.9 1367.6h0M177.6 1367.8h0M184.7 1368.2h0M173.3 1361.7h0M165.7 1364h0M186.8 1360.1h0M198.6 1359.1h0M173.5 1364.5h0M171.6 1358.8h0M165.7 1362.3h0M200.5 1360.9h0M186.5 1377.2h0M194.2 1379.4h0M187.5 1382.8h0M194.1 1383.9h0M196.7 1385.2h0M170.2 1385.3h0M174.1 1384.5h0M182.3 1384.5h0M163.7 1382.7h0M165.1 1378.8h0M194.7 1378h0M174 1386.1h0M183 1381.6h0M163.4 1384h0M161.2 1386.7h0M188.9 1378.1h0M185.6 1380.3h0M179.2 1382.6h0M192.6 1382.2h0M190.6 1381.1h0M195.4 1382.9h0M171.8 1378.1h0M161.2 1377.2h0M178.2 1382.4h0M166.2 1378.8h0M195.6 1379h0M176.7 1382.6h0M177.3 1382.7h0M241 1379.3h0M231.7 1377.8h0M232.2 1386.4h0M214.6 1379.4h0M217 1385.1h0M224.3 1386.3h0M237.8 1378h0M235.2 1384.4h0M221.7 1377.1h0M246.2 1381.9h0M224.4 1377.9h0M233.2 1380.5h0M219.3 1381.5h0M229.5 1381.8h0M219.4 1377.4h0M217.5 1379.5h0M217.4 1380.6h0M235.8 1380.7h0M247.9 1379.3h0M218.3 1377.8h0M234.4 1384.3h0M217.8 1380.1h0M221.9 1384.1h0M245.9 1385.1h0M235.3 1378.5h0M230.4 1379.3h0M233.6 1386h0M220.3 1385.8h0M229.4 1379.8h0M228.6 1380.6h0M169.3 1397.8h0M176.4 1395.6h0M190.1 1391.3h0M169.3 1391.7h0M177.9 1393h0M201.4 1389.3h0M175.2 1392.5h0M166.2 1389.8h0M163 1390.3h0M187.1 1394h0M171 1397h0M191.4 1396.5h0M168.3 1389.1h0M196.6 1390.5h0M162.6 1396h0M166.8 1390.9h0M178 1394.8h0M195.2 1397.9h0M171.4 1391.4h0M177 1393.5h0M168.1 1396.4h0M184.7 1397.2h0M200.6 1392.4h0M192.4 1392h0M197.5 1398.1h0M178.6 1398.3h0M195 1396.2h0M179 1391.5h0M192.8 1397.7h0M192.5 1391.6h0M176.5 1389.7h0M172.9 1394.2h0M184.1 1388.6h0M187.8 1394.6h0M163 1390.2h0M182.8 1388.9h0M168.6 1388.9h0M175.8 1393.5h0M211.6 1390.6h0M224.2 1389.2h0M218.4 1395.7h0M236.8 1397.5h0M237.3 1390.3h0M234.9 1390.9h0M238 1389.4h0M234.1 1392.1h0M227.5 1389.6h0M215.1 1392.5h0M244 1392.8h0M243.7 1389.3h0M238.2 1392.1h0M230.4 1396.3h0M243.9 1394.6h0M206.4 1420.3h0M210.7 1414.4h0M209.4 1420h0M208.2 1419.3h0M207.7 1426h0M207.7 1419.4h0M207.7 1420.4h0M205.4 1417.9h0M209.1 1416.8h0M211.9 1420.6h0M240.6 1420.5h0M241.7 1422.4h0M245.4 1429.1h0M245.5 1427.2h0M242.9 1425h0M243.8 1421.3h0M211 1437.8h0M204 1437.3h0M214.1 1436.9h0M214 1435.4h0M213.8 1435.4h0M210.2 1435.3h0M223.8 1455.7h0M226.8 1456.6h0M227.5 1456.4h0M227.9 1443.6h0M225.5 1456.2h0M224.6 1455.7h0M226.1 1441.9h0M224.9 1441.4h0M228.9 1458.5h0M225.2 1455h0M211.5 1459.8h0M227.6 1490.4h0M230.8 1489h0M227.8 1488.4h0M231.9 1490.5h0M231.6 1488.7h0M233 1478.5h0M238 1478.8h0M242.3 1504h0M240 1503.4h0M244.3 1503.3h0M235.7 1503.8h0M243.4 1505.8h0M241.4 1503.5h0M249.7 1504.3h0M240 1503.8h0M237 1504.6h0M234.9 1505.1h0M240.2 1505.5h0M229.4 1503.9h0M214.3 1505.1h0M211.2 1503.6h0M187 1503.5h0M239.5 1507.4h0M243.8 1507.3h0M230.6 1509.2h0M249.2 1510h0M227.8 1508.1h0M231.5 1508.4h0M227.4 1509.5h0M234.6 1508.5h0M234.4 1509.5h0M224.4 1507.4h0M233.8 1508.3h0M243 1508.3h0M213.8 1508.1h0M200.2 1507.3h0M224.1 1512.2h0M235.5 1511.6h0M249 1513.4h0M226.5 1513.7h0M238.7 1511.2h0M227.3 1512.5h0M248.2 1512.5h0M235.6 1512.4h0M240.2 1511.9h0M239.3 1513.9h0M242 1512h0M239.8 1512.6h0M202.5 1512.2h0M208.1 1513.3h0M188.1 1513.2h0M248.4 1516.9h0M231.3 1516.9h0M232.4 1517.7h0M236.8 1516h0M246.9 1515.7h0M226.5 1516.3h0M243.5 1515.8h0M225.6 1517.6h0M246.4 1517.1h0M238.1 1514.8h0M240.3 1517.6h0M242.4 1517.7h0M222.1 1515.6h0M203 1516.3h0M233 1520.2h0M245.6 1520.8h0M225.4 1520.7h0M234.8 1519.9h0M231.8 1521.8h0M225.7 1519.6h0M233.2 1518.8h0M238.5 1520h0M248.7 1518.8h0M228.5 1521.3h0M242.8 1520.1h0M230 1519h0M214.1 1519.4h0M220.8 1521h0M225 1530.2h0M237.2 1529.4h0M228.1 1528.7h0M224.1 1529.4h0M237.4 1529.1h0M237.5 1528.9h0M236.1 1530.9h0M241.7 1529.3h0M227.1 1530.8h0M247.6 1530.7h0M228.9 1530.9h0M232.7 1530.9h0M207.4 1529.2h0M216.5 1530.6h0M234.6 1535h0M224.1 1533.8h0M234.9 1533.7h0M243.3 1534.4h0M249.7 1534.2h0M232.9 1532.1h0M247.7 1533.9h0M244.2 1533h0M236.7 1534.5h0M243.4 1534.2h0M245.9 1534.1h0M245.6 1532.2h0M215.3 1532.2h0M213.7 1533.1h0M239.2 1536.9h0M249.6 1538.8h0M240.2 1537.2h0M226.8 1538h0M238.9 1536.7h0M235.2 1538.6h0M238.9 1538.4h0M248.1 1538.5h0M234.1 1536.9h0M244.6 1536h0M246.7 1537.5h0M235.7 1536.2h0M205.3 1538.5h0M222.7 1537.6h0M231.2 1540.2h0M232.4 1541.1h0M246.2 1541.8h0M240.5 1542.4h0M241.2 1541.5h0M242.3 1540.7h0M248.1 1540.3h0M243.3 1542.2h0M239.5 1541.3h0M241.2 1541.2h0M237.2 1540h0M246.8 1541.1h0M222.5 1540.1h0M224.9 1542.7h0M234.8 1552.1h0M248.1 1552.4h0M224.7 1554.7h0M242.9 1554h0M224.7 1552.4h0M243.8 1552.8h0M227.9 1552.5h0M236 1554.3h0M226.8 1553.8h0M234.1 1552.5h0M234.7 1553.7h0M242.9 1554.7h0M217.1 1554.3h0M215.4 1553.1h0M182.6 1554.4h0M239.2 1558.3h0M243.5 1558.5h0M226.7 1556.9h0M242.9 1558.8h0M238.2 1556.7h0M232.3 1557.3h0M243.1 1556.4h0M225.8 1556.8h0M232.5 1557.2h0M229.3 1558.7h0M248.9 1556.1h0M231.2 1557.5h0M212.4 1558.6h0M212.8 1557.2h0M186.9 1558.1h0M248.3 1562.5h0M234.2 1560.4h0M239.4 1563h0M234 1562.9h0M242 1560.4h0M244.2 1562.2h0M249.7 1562.3h0M242.1 1562.8h0M236.5 1560.9h0M234.7 1560.2h0M233.2 1561h0M225.8 1562.4h0M209.2 1561.2h0M217.8 1560.9h0M192.6 1560.6h0M238.9 1565.1h0M240.9 1566.2h0M233.1 1566.8h0M243.9 1564.5h0M240.2 1566.8h0M238.5 1564.3h0M235.8 1564.5h0M230.2 1566.6h0M240.9 1566.8h0M228.5 1565.7h0M247.2 1565.1h0M247.7 1565.8h0M223.8 1566.2h0M207.1 1564.8h0M247.2 1570.2h0M243.1 1568.2h0M243.9 1569.9h0M233.8 1570.2h0M245.5 1568.8h0M235.7 1570h0M239.8 1569.1h0M227.5 1568.1h0M239.5 1569.5h0M226 1570h0M225.5 1570.1h0M224.5 1568.6h0M217 1568.2h0M222.8 1570h0M239.5 1573.3h0M224.3 1573h0M232.2 1574.6h0M235.7 1573h0M231.1 1572.5h0M248 1572h0M234.3 1573.9h0M225.2 1574.3h0M244.2 1573.7h0M242 1574.3h0M241.5 1572h0M234.7 1572.9h0M217.4 1573.9h0M204.9 1573h0M247.1 1576.3h0M231.7 1577h0M233.2 1576.5h0M246 1577h0M236.9 1576.2h0M227.9 1575.9h0M234.3 1576.9h0M245.8 1576.4h0M225.3 1575.6h0M224.4 1575.7h0M230.7 1576.5h0M232.8 1577.8h0M213 1575.8h0M213.5 1578.4h0M224.3 1580.1h0M228.1 1579.7h0M249.1 1582.5h0M235.5 1579.9h0M244.7 1581.9h0M227.2 1582.2h0M240 1580.6h0M230.9 1580.7h0M233.2 1580.6h0M242.5 1582.2h0M238.1 1580.5h0M240.4 1580.5h0M209.7 1581.9h0M217.3 1580.4h0M183.8 1580.4h0M249.7 1585.3h0M237.2 1583.5h0M242.4 1585.1h0M224.7 1583.3h0M238.6 1584.9h0M241.3 1584.9h0M229.4 1583.5h0M232.2 1584.4h0M246.1 1586.3h0M240.6 1585.7h0M244.7 1585.9h0M233.7 1584.2h0M225.9 1585.7h0M225 1585.5h0M244.8 1587.9h0M233.7 1589h0M231.1 1588.5h0M246.5 1588.7h0M238 1589.2h0M225.4 1587.5h0M238.6 1587.9h0M244.9 1588.4h0M249 1587.9h0M241.4 1587.4h0M246.2 1588.7h0M244.5 1587.4h0M214 1589.5h0M217.3 1589.5h0M191.9 1589h0M229.5 1592h0M246.1 1592.7h0M237.4 1594.2h0M245 1591.6h0M226.6 1593.6h0M239.7 1593.2h0M226.8 1592.9h0M237.6 1593.9h0M229.7 1592.7h0M239.4 1592h0M241.3 1591.9h0M249.3 1593.4h0M212.8 1593.4h0M209.6 1593.4h0M233.1 1595.2h0M237.7 1595.9h0M244.1 1597.9h0M236.5 1597.2h0M237.7 1596.5h0M244.7 1597.6h0M226.2 1596h0M235.6 1596h0M228.8 1598.1h0M238.6 1595.2h0M239.2 1595.3h0M242.9 1595.8h0M206.9 1596.3h0M208.5 1597.2h0M230.6 1599.5h0M232.5 1599.8h0M240.5 1601.5h0M245.4 1598.9h0M244.4 1599.4h0M248.9 1599.7h0M240 1600.9h0M246.1 1599.8h0M245.5 1599.1h0M234.6 1600.6h0M224.6 1600.2h0M236.4 1600.4h0M205.2 1600.1h0M211.7 1600.7h0M238.7 1603.5h0M247 1605.2h0M232.5 1605.1h0M248.7 1605.1h0M226.2 1604.8h0M236.3 1604.5h0M231.6 1602.8h0M236.3 1605.4h0M246.2 1605.7h0M237.9 1604.3h0M241 1603.4h0M238 1603.3h0M218.1 1604.3h0M224 1605h0M233.2 1607.5h0M239.5 1608h0M228.2 1607.5h0M228.4 1606.8h0M246.2 1609.4h0M235.8 1607.7h0M238.6 1607.9h0M225.1 1607.4h0M249 1608.4h0M240 1609.3h0M234.8 1607.1h0M249.7 1608.2h0M218.6 1608.6h0M219.4 1608.2h0M250 1611.2h0M235 1611.1h0M236.2 1611.9h0M243 1612.7h0M229.4 1613.2h0M240.8 1613.6h0M232.6 1612.8h0M224.5 1612.3h0M233.8 1613.3h0M238.5 1612.6h0M231 1612.4h0M229.4 1612.8h0M212.3 1613.4h0M200.9 1613.4h0M237.6 1615.6h0M240.6 1614.9h0M230.7 1616.4h0M236.1 1617.6h0M248.9 1614.6h0M238.8 1615.8h0M245.5 1616.9h0M247.9 1616.7h0M249.5 1617.4h0M232.4 1616.2h0M240.9 1615.6h0M240.4 1616.7h0M207.2 1614.7h0M219.6 1615.8h0M239.6 1620.5h0M229.3 1620.5h0M236.2 1619.9h0M228.7 1618.7h0M235.9 1620.4h0M248.3 1619.8h0M238.4 1621.1h0M244.6 1620.3h0M239.9 1621.4h0M226.3 1619.9h0M225.2 1620.7h0M229 1619.3h0M216.4 1621.1h0M200.3 1620.2h0M237.5 1623.4h0M241.8 1622.4h0M228 1625.1h0M229.7 1623h0M238.5 1623.1h0M240.1 1622.4h0M231.5 1624.8h0M230.5 1624.3h0M233 1624.4h0M226.8 1622.7h0M242.5 1623.1h0M224.8 1625.3h0M204.2 1624.8h0M212.3 1625h0M241.5 1627h0M245.5 1626.3h0M233.8 1627.9h0M245.7 1627.5h0M235.3 1627.1h0M232.6 1628.2h0M247.1 1627.7h0M248 1628.8h0M234.7 1627.8h0M246.7 1626.7h0M242.8 1626.3h0M242.7 1628h0M202.9 1626.2h0M206.8 1627.8h0M234.8 1632.2h0M238.8 1631.2h0M232.7 1631.8h0M243.5 1631.3h0M236.7 1631.3h0M230.7 1630.4h0M247.2 1632.3h0M232.8 1631.8h0M244.7 1632h0M225.1 1633.2h0M235.3 1630.3h0M238 1630.2h0M200.7 1631.2h0M213.5 1630.5h0M246.9 1635.8h0M234.6 1635.8h0M245.2 1635.5h0M237.7 1636.5h0M231.7 1635.8h0M237.9 1634.5h0M231.9 1634.4h0M239.7 1634.2h0M227.5 1634.6h0M233.3 1634.1h0M235.8 1636.9h0M235.6 1635.6h0M222.4 1634.6h0M210.2 1636.2h0M238.7 1638h0M239.4 1638.6h0M248.1 1640.7h0M236.9 1640.3h0M231.5 1640.6h0M230 1639.6h0M240.8 1640.7h0M226.4 1640.7h0M225.5 1639.3h0M244.4 1640.9h0M226 1638.4h0M241.8 1639.5h0M204.5 1638.2h0M209.5 1640.3h0M242.1 1643.9h0M227.7 1643.3h0M241 1642.2h0M236.9 1642.5h0M246.2 1643.4h0M248.5 1642.5h0M249.6 1643.8h0M225.5 1643.8h0M227.6 1644.7h0M234.6 1643.6h0M248.4 1642.5h0M249.7 1643.5h0M203.2 1643.9h0M218.3 1643.5h0M249.1 1653.6h0M244.2 1652.3h0M236.6 1651.3h0M246.1 1653.7h0M239.8 1653.6h0M233.3 1653.1h0M239 1653.9h0M236.9 1651.4h0M227.1 1651.5h0M237.3 1651.2h0M231.8 1651.4h0M248.6 1652.2h0M203.4 1654.1h0M211.9 1653.7h0M199.5 1654h0M239.4 1657.4h0M246.5 1657.1h0M233.7 1656.9h0M233.4 1657.9h0M227.9 1657.1h0M226.1 1657.4h0M237.1 1656.7h0M243.9 1657.5h0M246.6 1656.4h0M231.9 1657.2h0M241.7 1656.6h0M237.7 1657.8h0M223.6 1655.7h0M205.7 1658h0M226.4 1660.6h0M249.2 1660.3h0M231.6 1659.2h0M232.2 1660.7h0M226.8 1660.5h0M235.8 1660.9h0M246.1 1661.8h0M226.5 1659.4h0M244.4 1659.3h0M229.4 1659.9h0M233.4 1659.1h0M249.3 1660.8h0M221 1659.9h0M210.4 1661.9h0M248.8 1665h0M248.4 1663.7h0M240 1663.4h0M226 1664.8h0M227 1665.3h0M230.6 1663.2h0M248.8 1664.8h0M225.5 1664.7h0M242.9 1664.1h0M240.3 1663h0M240.6 1664.3h0M239.6 1664h0M202.4 1663.2h0M210.4 1663.1h0M228.6 1669h0M243.7 1668.3h0M240.5 1669.4h0M239.8 1669.2h0M242 1669.2h0M234.3 1669.7h0M236.7 1669.6h0M244.2 1668.6h0M235.2 1668.1h0M232 1667.9h0M227.6 1668.9h0M228.9 1668.5h0M215.4 1667.3h0M203.4 1668.2h0M184.2 1668.2h0M232.5 1676h0M242.5 1677.2h0M235.7 1676.3h0M228.9 1678h0M228 1675.7h0M236.1 1677.1h0M225 1678.6h0M226.5 1677.2h0M229.8 1676.3h0M237.6 1677.4h0M230.3 1678.4h0M242.2 1677.6h0M220.1 1677.4h0M204.8 1676.4h0M236.3 1680.9h0M245.5 1679.6h0M225.9 1681.6h0M243.2 1681.4h0M246.2 1680.1h0M232.6 1681.6h0M243.3 1681.2h0M245.7 1682.1h0M238.1 1680.4h0M243.8 1682.4h0M227.6 1680h0M224.3 1682.4h0M200.9 1679.9h0M200.9 1681.4h0M233.9 1684.9h0M231.8 1685.3h0M237.7 1683.9h0M224.9 1684.4h0M235.6 1685.2h0M228.3 1684.6h0M248.8 1686.1h0M244.5 1683.8h0M228.9 1686.2h0M242.6 1686h0M240 1684.9h0M233.5 1684.5h0M222.6 1685.5h0M204.3 1684.3h0M225.5 1689.6h0M232.1 1689.7h0M227.7 1689.4h0M235.5 1690h0M237.8 1689h0M236.6 1687.5h0M226.4 1689h0M236.4 1689.2h0M230 1689.8h0M233.3 1689h0M227.5 1688h0M227.6 1688.7h0M220.4 1688h0M223.5 1689.7h0M230.9 1693.7h0M227.8 1691.9h0M249.7 1691.6h0M228 1693.8h0M226.5 1691.5h0M243.8 1693.2h0M231 1692.8h0M230.2 1692h0M225.1 1692.9h0M244 1693.9h0M248 1692.4h0M238.6 1694h0M214.6 1691.3h0M220.7 1692.2h0M180.6 1693.5h0M181.8 1609.5h0M185.6 1609.2h0M183.6 1604.5h0M175.2 1609.9h0M187.3 1606.7h0M174.7 1610.5h0M179.8 1607.5h0M174.1 1608.1h0M166.5 1592.9h0M172.5 1648.9h0M175.2 1652.6h0M180.6 1649.1h0M182.5 1650.6h0M188.9 1648.5h0M186 1648.1h0M177.1 1651.7h0M192.3 1649.6h0M178.1 1652.4h0M188.9 1648.6h0M175.9 1648.8h0M184.6 1652.2h0M174.1 1652.2h0M193.7 1650h0M179.9 1652.2h0M183.6 1667.4h0M199 1666.7h0M183.5 1665.8h0M174 1666.2h0M186.5 1666.3h0M185.9 1664.8h0M169 1665.7h0M198 1666.8h0M197.6 1666.9h0M178.4 1665.1h0M163.1 1665.3h0M166.4 1666.8h0M182.9 1667.4h0M198.6 1666h0M199.4 1665.6h0M189.8 1667h0M182.9 1667.3h0M191.3 1665.8h0M160 1667.3h0M164.5 1682.5h0M166 1683.5h0M199.4 1684.7h0M200.6 1688h0M199.7 1685.6h0M199.7 1686.1h0M203.8 1686.3h0" stroke="#1a10c8" stroke-width="2.6" stroke-linecap="square" fill="none"/>
<path d="M231.2 235.2h0M240.7 236.5h0M232.9 235.4h0M242.3 237.2h0M235.2 237h0M230.6 238.4h0M233.8 238h0M231.5 235.5h0M240.6 236.1h0M237.6 235.6h0M234.8 237.2h0M230.8 236.9h0M232.7 235.2h0M235.6 237.4h0M237.6 236.1h0M233.9 236.6h0M239.1 237.8h0M237.5 235.9h0M241.8 257.5h0M250.1 258.4h0M245.3 257.2h0M245.9 255.7h0M250.6 257.8h0M238.8 258.4h0M245.4 256.9h0M241.8 255.6h0M236 256.1h0M247.1 255.7h0M238.2 256h0M248.8 256.9h0M241.6 255.8h0M249 257.4h0M248.7 258.4h0M241.1 256.5h0M249 256.8h0M236.6 258.9h0M237.9 256.1h0M242.2 256.3h0M238.5 257.6h0M241.1 255.5h0M220.2 280.2h0M223.4 280.7h0M219.7 281.2h0M223 280h0M230 280.4h0M246.9 280.1h0M222.9 282.1h0M229.5 280.9h0M222.1 281.3h0M250.6 283h0M234 281.6h0M221.4 280.3h0M226.7 281.2h0M223.3 282.9h0M249.4 280.1h0M222.8 281.8h0M218.9 281.9h0M250.3 281.8h0M191.4 307.8h0M184.5 309.9h0M199.7 309.8h0M182.2 309.9h0M178.4 307.7h0M177.7 307.6h0M197.2 308.9h0M185.4 309.5h0M194.4 309h0M190.5 307.3h0M193.9 309.7h0M185.4 309.3h0M194.1 307.5h0M194.4 308h0M183.1 309.9h0M198.5 308.2h0M176.8 309.2h0M176.2 307.4h0M194.6 309.7h0M195.1 307.4h0M228.7 307.6h0M211.5 308.6h0M213.6 307.1h0M221.2 307.1h0M216.9 307.1h0M229.7 306.8h0M217.9 307.4h0M229.5 308h0M229.9 307.6h0M219.8 307.8h0M206.5 307.8h0M210.8 307.6h0M242 308.4h0M157.2 331.1h0M157.6 341.1h0M157.4 333.9h0M158.8 338h0M157.6 329.9h0M156.1 332.5h0M157.3 341.9h0M158.7 338.1h0M157 344.4h0M157.3 339h0M158.3 337.2h0M157.5 336.1h0M159.7 336.6h0M159.3 340.6h0M156 345h0M159.7 338.1h0M155.3 343.1h0M157 330.2h0M155.9 329.3h0M158.2 329.3h0M159.4 342.1h0M158.5 330.8h0M155.4 339.9h0M159.8 343.9h0M159.7 332h0M157.2 335.2h0M159.1 345.8h0M156.9 330.9h0M156.4 337.3h0M156.3 331.5h0M154.7 341h0M157 338h0M156.4 328.3h0M157.4 339.2h0M159.9 329.2h0M159.8 342.2h0M156 329.9h0M158.8 328.7h0M155.3 332.9h0M159.5 335.6h0M156 342.7h0M159.6 330.7h0M158.4 338.3h0M154.9 329.6h0M156.9 340.4h0M159.7 329.3h0M158.9 339.4h0M159.2 329.5h0M159.3 329.2h0M156.4 336.2h0M159.6 338h0M155.3 332.8h0M155.9 337.5h0M155.5 330h0M155.7 328.9h0M156.2 333.6h0M156.2 341.7h0M155.6 337h0M154.7 334.2h0M154.7 332.5h0M157.6 341.2h0M157.2 331.4h0M155.2 344.8h0M156.9 342.7h0M159.1 336.9h0M157.3 335.1h0M159.9 340.4h0M159.1 334.2h0M158 340.7h0M156.5 335.3h0M155.3 329h0M158.6 329.3h0M155.5 332.6h0M159.1 329.5h0M158.2 343.7h0M162.4 329.7h0M164.6 329.8h0M164.5 328.9h0M169.6 329.6h0M165.5 333.8h0M169.7 329.5h0M163.6 329.9h0M163.8 328h0M165 330.8h0M165 329.2h0M162.6 328h0M164 328.5h0M160.2 328.3h0M162.3 329.8h0M165.3 331.5h0M166.6 332.5h0M168.8 332.3h0M163.3 330.3h0M158.2 339.1h0M159.8 338.7h0M162.2 338.5h0M161.1 340.8h0M161.4 341.1h0M158 340.4h0M161.7 342h0M160.7 340.5h0M158.3 341.3h0M159.3 341.7h0M162 404.1h0M159.5 415.6h0M159.4 406.7h0M162.3 411.3h0M161 410.3h0M156.1 402.2h0M162 404.8h0M160.3 405.6h0M155.2 401.2h0M161.3 405h0M161.4 411.4h0M159.8 405.4h0M159.3 408h0M163.5 402.8h0M164.4 404h0M154.8 415h0M162.8 407.9h0M159.1 415.5h0M156.7 405h0M156.7 415.2h0M156 409.7h0M164.1 408.9h0M162.8 403h0M163.5 408.6h0M156.9 411.6h0M159.5 414.5h0M154.6 401.4h0M159.1 408.4h0M156 405.5h0M157.8 406.2h0M154.6 413.6h0M163 412.3h0M163.9 402.8h0M163.6 411.7h0M158.3 405.3h0M164.6 406.9h0M158.2 409.8h0M157.4 407.4h0M155.6 401.7h0M157.5 413.5h0M157.1 415h0M159.7 405h0M158.3 403.8h0M163.4 415.3h0M160.9 413.2h0M164 414.7h0M161.8 409.2h0M161.9 401.7h0M162.1 407.8h0M157.5 410.7h0M163.9 401.7h0M159.3 402.9h0M157.6 406.2h0M164.4 412.1h0M161.2 404.9h0M160.2 405.5h0M156.3 406.9h0M156.7 403.4h0M159.6 414.6h0M163.7 404.3h0M159.1 415.9h0M156.5 403.1h0M158 402.4h0M157 402.4h0M160.3 404.9h0M162.1 414.3h0M158.7 407.2h0M158.4 408.9h0M155.2 406.1h0M164.3 405.2h0M159.6 402.9h0M163.2 410.4h0M157.3 404.2h0M158.6 404.7h0M164.1 407.7h0M163.3 413.7h0M154.9 401.3h0M163.6 411.6h0M160.5 408.1h0M158.5 401h0M162.9 414.9h0M164.3 413.8h0M155.7 404.7h0M159.8 403.3h0M164 411.2h0M161.1 411.8h0M159.2 412.5h0M155 409.3h0M157.4 437.7h0M162.3 439.8h0M156.1 430.6h0M162.2 429.8h0M155.9 436.5h0M160.9 427.1h0M159.3 434.7h0M161.8 429.4h0M158.2 426.2h0M166.1 432.9h0M165.2 435.7h0M157.4 433.1h0M166.1 429.7h0M158.3 436.6h0M160.6 426.3h0M159.6 436.1h0M162.6 429.9h0M157.3 439.9h0M158.7 426.5h0M162.8 432.3h0M164.2 429h0M160.7 437.1h0M166.2 429.1h0M164.4 430.7h0M157.3 429.5h0M158.1 437.4h0M160.5 440.3h0M157.3 428.8h0M162.6 432.3h0M156.4 440.2h0M157.2 431.9h0M156.3 440.6h0M155.3 426.8h0M165.4 431.9h0M163.4 439.3h0M165.8 441h0M156.8 430.9h0M163.6 440h0M162.6 426.5h0M159.1 431.7h0M156.6 431h0M158 426h0M166.1 431.3h0M166.2 427.9h0M158.9 429.1h0M164.5 438.3h0M155.2 432.5h0M159.1 433.1h0M156.9 439.8h0M165.4 431.5h0M159.5 426.5h0M163.8 438.2h0M155 426.6h0M165.6 426.9h0M163.6 429.9h0M158.7 439.5h0M166.1 430.1h0M157.7 435.3h0M158.4 436.7h0M154.6 430.1h0M165.6 437.3h0M165.9 435.5h0M157.4 426.4h0M166.1 433.1h0M159.2 440.3h0M159.8 429.8h0M165.7 433.4h0M164.2 428.7h0M164.5 437.1h0M161.9 437.6h0M158.4 430.9h0M164 431.4h0M157 427.2h0M157.6 437.3h0M155 427h0M158.5 434.3h0M165.2 440.7h0M157.8 440.8h0M155.8 427.3h0M163.1 433.5h0M157.4 432.7h0M162 432.3h0M163.6 436.1h0M162.6 438.7h0M164.7 427.8h0M161.4 430.4h0M163.5 431.6h0M157.6 429h0M155.8 454.7h0M159.2 466.8h0M157.8 456.2h0M158.7 468.9h0M161.1 454.4h0M162.5 462.4h0M158.4 451.9h0M161.3 465.6h0M154.9 467.4h0M155.6 455.6h0M162.4 453.6h0M162 461.1h0M161.5 457.1h0M156.7 458.5h0M162.2 464.8h0M159.4 452h0M156.3 461.8h0M155.7 457h0M156.6 453.9h0M159.8 461.4h0M154.7 453.9h0M160 456.2h0M157.1 453.5h0M161 453.9h0M155.1 460.4h0M157.8 451.9h0M159.7 460.5h0M155.9 451.7h0M157.9 463.2h0M157.1 455.4h0M157.1 468.1h0M157.5 460.8h0M161.5 457.9h0M157.5 468.9h0M160.4 453.7h0M154.6 453.9h0M158 467.1h0M157.8 465.6h0M158.3 466.8h0M154.7 453.1h0M159.7 460.5h0M155.3 467.3h0M157.6 461.8h0M155.8 459.6h0M158.8 455.4h0M155.5 467.6h0M161 459.3h0M156.2 468.4h0M162.1 452.4h0M158.5 468.5h0M162 451h0M161.8 457.4h0M161.2 461.8h0M160.9 453h0M157.8 454.2h0M161.2 466.1h0M156.3 453.5h0M158.7 457.6h0M155.6 457.3h0M160.4 454.7h0M154.9 467h0M160.7 460.7h0M161.3 450.7h0M159.4 452.2h0M159.6 460.5h0M158 455.8h0M158 461.1h0M158.2 462.5h0M154.8 458.3h0M158.5 461.8h0M160.7 454.5h0M158.3 464.8h0M158.4 453.4h0M155.6 452h0M155.3 458.2h0M158.7 458.4h0M159.7 450.8h0M160.5 451.6h0M158.7 464.8h0M158.6 451h0M162.2 457.2h0M161.5 452.6h0M160.5 468.9h0M156.1 465.5h0M158.5 468.7h0M161.9 468.2h0M160.9 453.1h0M155.1 467.7h0M160.6 456.7h0M161.8 453h0M161.1 455.2h0M158.6 452.7h0M156.3 467.5h0M158.6 455h0M154.9 456.1h0M155.9 453.5h0M160 467.8h0M155.9 467h0M155.5 464.9h0M159.7 460.1h0M165.1 482.3h0M161.6 486.8h0M155.9 494.3h0M162.2 496.8h0M164.2 483.1h0M166.5 480.1h0M158.9 487.3h0M159.9 491.6h0M163.5 478.1h0M164.4 475.1h0M162.3 479.8h0M161.6 496.6h0M158.4 489.3h0M155 474h0M162 477.4h0M160.8 483.9h0M156.2 494.6h0M162.4 479.2h0M154.6 474.5h0M155.9 482.2h0M157.3 482.2h0M161.7 487.4h0M162.1 478.7h0M156.2 484.9h0M157.5 495.5h0M155.7 477.4h0M165.1 488.7h0M159.4 492h0M154.7 480.1h0M161.3 488.8h0M162.3 482.1h0M165.8 484.2h0M157.6 490.9h0M155.1 494.8h0M159.5 486.2h0M155.3 479.5h0M154.7 491.9h0M165.9 486.7h0M157 477.3h0M160.7 488h0M164.4 488.8h0M158.3 478h0M155.2 480.9h0M164 494.5h0M154.7 490.5h0M163.5 493.4h0M163.5 484.7h0M157.3 484.4h0M157.4 476.4h0M158.6 474.9h0M162.9 491.2h0M163.1 493.4h0M161.2 480.1h0M164.1 484h0M157.8 486h0M166.2 488.8h0M165.2 479h0M157.7 474.4h0M163.5 479.4h0M163.6 495.7h0M165.2 481.5h0M157.5 481.6h0M162.2 494.9h0M162.6 489.9h0M160.2 496.5h0M163 493.3h0M159.8 493.7h0M161.4 490.7h0M157.1 481.1h0M155.5 488.3h0M156.3 494.9h0M155.9 474.6h0M158.7 495.4h0M154.9 477.3h0M162.9 475h0M163 488.6h0M155.4 490.9h0M159 487.6h0M164.4 492.8h0M155.4 494.5h0M165.6 494h0M155.9 495.7h0M155.9 478.7h0M164.8 474.8h0M162.2 492.7h0M162.2 493h0M155.8 480.6h0M163.7 476.3h0M158.4 478.7h0M154.9 483.7h0M158 479.9h0M159 490.5h0M166.2 481.4h0M164.8 485.6h0M155 488.2h0M159.8 483.5h0M158.8 491.8h0M161.1 490.2h0M164.9 479h0M164.4 476.1h0M154.6 477.9h0M163.7 478.6h0M154.7 496.5h0M160.5 485.3h0M156.8 492.3h0M158.8 485.4h0M157.7 493.1h0M158 495.7h0M163 478.9h0M155.9 485.5h0M155.6 488.6h0M163 492.1h0M162.1 492.1h0M159.4 482.2h0M165.3 483.1h0M165.3 476h0M157.1 474.6h0M165.4 480.1h0M159.2 485.5h0M157.4 494.3h0M161 484.6h0M163.6 491.4h0M158.8 488.9h0M156.5 481.5h0M162.5 493.4h0M155.8 517.5h0M160 510h0M155.5 513.5h0M160.8 510.6h0M155.9 504.9h0M159.5 506.5h0M155.7 520.1h0M156.3 502.9h0M158.3 507.2h0M156.9 503h0M161.4 503.7h0M155.3 517.2h0M155.3 523.1h0M161.5 508.6h0M159.7 518.9h0M156 509.9h0M155.3 514.9h0M157.3 504.2h0M157.4 499.8h0M159.5 518.8h0M159 511.5h0M155.6 510.6h0M157.4 514.1h0M161 517.5h0M158.6 509.8h0M157.5 517.7h0M159.7 504.7h0M160 521h0M160.6 516.5h0M159.1 516h0M156.8 510.3h0M155.3 514.7h0M160.1 509.5h0M159 516.8h0M157.6 505.3h0M159 510.4h0M159.3 509.2h0M155.9 522.3h0M160 515.4h0M158 508.7h0M154.9 523.4h0M155.7 512.6h0M161.2 518.5h0M155.3 512h0M158.4 513.4h0M158.2 516.9h0M160.4 515h0M157.5 512h0M156.1 522.7h0M157.3 516.1h0M155.5 518.1h0M157.1 523.6h0M156.5 500.4h0M154.7 509h0M157.5 509.5h0M157.1 516.5h0M156.2 505.6h0M161.2 517.5h0M156.1 512.2h0M157.3 519h0M155.5 504.3h0M160.3 518.4h0M157.9 514.9h0M156.2 513.1h0M157.1 523.1h0M160.3 515h0M157.9 519.4h0M158.4 506.4h0M160.4 502.1h0M160.6 507.9h0M157.2 505.7h0M157.6 505.3h0M154.6 503.6h0M156.6 517h0M156.7 505.1h0M157.6 511h0M159.2 514.9h0M161.1 508.1h0M155 520.4h0M160.9 519.7h0M155.6 518.6h0M159 519.8h0M154.7 499.4h0M159.2 522.8h0M155.3 505.3h0M156.2 502.6h0M157 518.4h0M160.9 502.8h0M155.8 518.8h0M158.9 521.3h0M159.3 518.5h0M160.1 521.3h0M156 520h0M158.3 516.3h0M157.7 517.5h0M158.5 521.1h0M156.2 505.6h0M158.1 502.5h0M157.9 500.5h0M158 502.6h0M158.4 511.5h0M154.6 520.6h0M157.9 520h0M159.3 513.1h0M157.2 520h0M161.3 509.5h0M159.1 500.9h0M154.8 514.9h0M159.4 514.2h0M156.9 522.3h0M158.2 523.5h0M160.9 511.1h0M159.6 499.8h0M157 514.6h0M157.2 520.5h0M158.3 510.9h0M156.1 518.3h0M157.6 509.9h0M160.4 512.9h0M160.4 506.3h0M158.1 509.1h0M158.1 505.8h0M159.2 523.4h0M156.9 518.8h0M156.7 506.9h0M160.3 537.5h0M155 542h0M162.6 540.6h0M155 536.5h0M154.7 530.9h0M162.9 528.4h0M160.5 538h0M162.8 542.1h0M160.2 538.1h0M160.9 538.4h0M160.7 537.7h0M160.6 528.9h0M161.5 534.5h0M156.2 526.3h0M161.6 524.9h0M160.5 545h0M162 532.5h0M159.7 542.1h0M157.3 529.9h0M157.5 533.7h0M160.4 533.9h0M155.1 545.5h0M155 537.1h0M161.9 526.7h0M162.9 537.2h0M154.7 534.3h0M159.9 532.9h0M163.4 545.6h0M158.3 534.9h0M160.4 526.3h0M156 528.9h0M154.6 524.4h0M155.7 539.7h0M155.4 546.2h0M155.8 544h0M161.1 524.4h0M161.2 529.6h0M155.1 528.3h0M161 541.8h0M161.2 543.7h0M160.3 525.9h0M158.7 540.3h0M156.9 545.4h0M161.1 546.2h0M154.7 524.3h0M162 539h0M157.4 525.8h0M156.1 540.8h0M159 543.8h0M157.9 525.4h0M158.5 537.2h0M155.9 539.6h0M157.9 542.3h0M160.3 538.8h0M158.1 533.6h0M163.1 542.1h0M159.7 542h0M155.1 530.7h0M160.9 546.4h0M157.6 543h0M163.4 537.9h0M160 543.1h0M158.5 531.1h0M158 544.4h0M160 539.8h0M161.9 544.6h0M154.6 530.5h0M158.4 530.1h0M161.9 537.5h0M155 544.4h0M161.9 543.2h0M159.7 543.9h0M162.3 530.3h0M160.8 542.6h0M157.7 545h0M159.6 526h0M156.4 542.3h0M163 541.3h0M160.1 529.4h0M158.8 539.6h0M156.9 528.8h0M161.7 541.3h0M155.4 534.6h0M161.5 542.6h0M159.8 529.4h0M162.6 544.6h0M158.9 536h0M156.3 537.6h0M156.2 528.4h0M157.9 540.1h0M158.2 537h0M155.9 535.9h0M163.6 525h0M155.6 532.6h0M161.7 538.6h0M160 527.6h0M159.3 531.9h0M154.9 524.5h0M162.4 546.8h0M159.7 535.2h0M161.6 530h0M163.1 533.8h0M162 541.6h0M156.9 546.2h0M156.4 524.9h0M155.4 528.2h0M159.6 525.2h0M158.7 544h0M162.8 545.8h0M160 525.5h0M155.7 533.1h0M156.9 546.1h0M160.4 537h0M160.6 546h0M158.6 533h0M163.3 527.7h0M156.6 546.8h0M156.9 524.9h0M162.7 532.1h0M162.1 544.8h0M161.7 525.1h0M160.4 540.3h0M155.1 546.7h0M161.4 527.3h0M160.7 545.6h0M159.3 552.8h0M155.4 560.1h0M156.7 553.2h0M158.5 550h0M156.5 550.7h0M160 550.3h0M160.3 548.2h0M154.9 551.1h0M156.4 562.8h0M161.5 562.9h0M155.7 562.2h0M155.4 555.2h0M161.3 562.9h0M158.2 558.1h0M161.2 553.4h0M159.6 555.6h0M156.4 550.3h0M160.3 548.9h0M155.8 556.9h0M156.7 561.9h0M155.8 554.6h0M161.3 552.3h0M155.9 553.4h0M157.1 555.9h0M155.5 562.5h0M155.1 563.7h0M159.9 562.3h0M158.4 551.4h0M156.7 552.6h0M157.5 551.2h0M162.6 563.9h0M155.4 562.8h0M161.8 552.6h0M160.4 548.9h0M162.4 552.7h0M161.1 548.3h0M155.7 553.5h0M161.3 548h0M156.1 556.4h0M161.9 555h0M159.2 551.5h0M156 550.2h0M160.3 560.3h0M155.2 551.1h0M159.5 549.4h0M156.8 555.9h0M159.5 551.3h0M161.1 559.3h0M156.2 557.3h0M160.5 549.1h0M160.4 554.5h0M161.1 548.9h0M161.3 553.4h0M158.5 561.8h0M161.9 548.2h0M161.6 555.6h0M156.1 552.3h0M157.5 561.3h0M157.6 550.6h0M154.6 557.5h0M158.2 556.3h0M155.6 556.3h0M161.1 559.4h0M157.2 561.8h0M157.7 559.4h0M155.1 560h0M162.2 562h0M158.7 555.9h0M158.9 556.5h0M162.3 548.3h0M156.1 551.6h0M156.6 549.6h0M154.8 561.1h0M160.2 549.5h0M154.7 551.1h0M175.4 413.2h0M169.4 414.3h0M169.4 412.7h0M175.8 413.3h0M175.1 414.4h0M174.5 414.4h0M171.2 412.2h0M175.3 414.9h0M170.2 412.7h0M169.6 413.9h0M168.2 435.8h0M169.8 436.8h0M166.1 437h0M174.6 436.2h0M171.6 435.8h0M168.8 436.7h0M169 438.5h0M167.6 437.7h0M174.7 435.2h0M166.6 436.5h0M187 454h0M183.8 452.8h0M183.4 452.4h0M187.8 453.2h0M191.2 451.8h0M190.4 452.5h0M191.6 454h0M186.3 452.1h0M164.7 481.4h0M163.4 476.8h0M165.1 479.2h0M167.9 480.6h0M164.4 483.7h0M165.6 479.5h0M163.1 484h0M167.3 480.2h0M162.9 477.4h0M167.4 483.8h0M161 480.1h0M166.2 483.2h0M168.9 482.6h0M163.8 483.1h0M162.6 477.3h0M164.5 480.1h0M161.6 477.5h0M165.4 481h0M168.9 478.8h0M160.4 481.1h0M167.1 479.3h0M166.2 478.5h0M162.7 476h0M165.3 482.7h0M161.8 481.3h0M166.5 488h0M200 500.5h0M170 536.3h0M165.7 544.4h0M168.7 537.9h0M171.3 544.5h0M170.1 537.7h0M169.7 544.3h0M164.7 539.3h0M165.9 544.3h0M168 539.7h0M170.5 539.7h0M163.4 538.4h0M168.7 541.7h0M169.4 544.2h0M171.5 545.1h0M167.5 540.9h0M167 549.5h0M168.3 548.4h0M165.3 548.8h0M161.1 552.8h0M165.3 548.2h0M168.7 549h0M170.1 548h0M169.4 552.3h0M163.4 550.1h0M166.2 551.3h0M164.1 550.1h0M168 550.2h0M170.8 552.1h0M163.5 548.8h0M166.8 550.2h0M246.1 578h0M245.8 585.8h0M243.4 573.6h0M242.3 574.3h0M233.3 583.8h0M244.8 585.5h0M235 576.4h0M248.2 579h0M233.3 580.8h0M233.3 573.3h0M234.8 583.8h0M236.9 580.5h0M238.8 582.3h0M248.9 574.9h0M245.1 580.3h0M250.4 583.9h0M238 573.2h0M241.3 575h0M247.4 584.8h0M234.7 573.5h0M244.9 584h0M240.8 578.3h0M248.3 575.1h0M248.9 578.3h0M232.6 581.2h0M235.4 577.4h0M243.1 585.1h0M234.5 573.6h0M240.6 577.9h0M239 580.8h0M231.1 577.8h0M237.8 580.8h0M240.4 573.3h0M231.9 586.3h0M244.8 575h0M236.6 576.7h0M236.4 579.8h0M241.8 580.7h0M250.6 585.9h0M242.5 573.5h0M248.9 583.4h0M244 583.5h0M238.4 581.6h0M247.3 576.8h0M250.2 584.8h0M237.2 582.2h0M246.2 583.3h0M244 579.9h0M242.3 577.7h0M232.2 578.5h0M237.6 577.6h0M240.9 586.3h0M236 578h0M238.2 576.2h0M231.1 574.8h0M240.3 584.8h0M242.7 579h0M234.5 577.1h0M237.2 573.9h0M245.9 577.2h0M250.2 580.4h0M249.9 577.6h0M232.6 580.9h0M242.9 575.4h0M238.3 586.3h0M239.8 583.5h0M232.4 584.7h0M249.4 579.5h0M236.3 576.7h0M234.4 573.3h0M245.4 576.6h0M239.2 575.9h0M243.4 575.7h0M244.3 584.7h0M246 575.7h0M243.3 586h0M247.6 574.1h0M238 584.8h0M234.9 574.8h0M248.9 580.2h0M249.9 581.6h0M237.7 575.9h0M244.3 583.1h0M244.9 578.5h0M232.2 577.6h0M231.9 578.6h0M237.9 581.5h0M243.3 579.7h0M240.5 576.5h0M250 573.2h0M250.6 580.6h0M243.6 573.8h0M237.7 582.8h0M234.2 574.3h0M246.7 574.9h0M247.7 574.2h0M242 578.7h0M242.4 580.9h0M243.3 581.9h0M246.2 577.5h0M245.6 576.5h0M246.9 583.3h0M246.8 577.2h0M240.3 586.2h0M241.7 576.8h0M233.7 585.7h0M240.8 573.1h0M246.9 581.8h0M250.6 577.9h0M246.5 576.1h0M231.6 574.2h0M232.2 574.8h0M242.4 579.8h0M250.3 575.5h0M234.1 577.9h0M246.1 575.4h0M234.3 585.4h0M247 573.4h0M250.6 576.3h0M244 579.7h0M247.4 577.6h0M237.6 579.2h0M233.2 585.2h0M232.3 582.9h0M239.2 581.7h0M232.2 584.7h0M239.4 580.6h0M250.4 585.4h0M235.6 581.5h0M236.4 576.4h0M235.7 578.9h0M246.6 575.7h0M237.1 581.7h0M235.4 586.4h0M234.2 580.7h0M248.8 584.7h0M246.4 576.6h0M236.8 584.1h0M241 577.5h0M234.3 585h0M243.3 582.2h0M242.9 579.1h0M235.3 584.9h0M238.4 584.9h0M248.7 583.5h0M248.7 575.5h0M237.1 586.4h0M233.3 573.3h0M231.2 586.2h0M234.1 585.3h0M222.3 583.4h0M229.9 577.7h0M225.4 576.9h0M230.3 585.2h0M233.7 584.8h0M224 576.3h0M230 583.9h0M227.6 576.4h0M226.6 578.3h0M221.3 577h0M225.1 585.9h0M222.6 584.8h0M222.8 580.9h0M223.3 580.3h0M222.9 582.9h0M227.5 583.4h0M225.6 577.1h0M232.9 581h0M223.8 579.5h0M232.5 585.7h0M224.5 583.3h0M224.4 577.8h0M221.6 576.7h0M226.3 581.1h0M225.7 581.6h0M234.4 587.1h0M237.7 588h0M229.2 587.4h0M229.5 586.6h0M229 587.9h0M229.4 586.8h0M240 586.3h0M232.9 586h0M226.6 587.9h0M228.8 587.2h0M212.1 597.6h0M213.7 596.9h0M214 599.1h0M214.3 598.6h0M216.1 597.8h0M216.1 599.1h0M216.4 599.2h0M217.2 598.8h0M218.4 599.3h0M218.6 599.3h0M219.8 598.5h0M220.8 598.7h0M222.1 599.3h0M222.5 599.5h0M222.8 598.9h0M222.9 600.7h0M224.5 599.9h0M225.2 600.7h0M225.4 599.2h0M227.4 600h0M227.8 601h0M229.1 601.2h0M228.1 600.2h0M230.5 601.3h0M229.9 599.9h0M230.9 599.9h0M231.9 601.6h0M233 600.9h0M232.9 600.9h0M235.5 601.7h0M235.2 601.3h0M236.6 602.1h0M236.1 602h0M237.3 601.8h0M237.8 601.5h0M238.8 601.6h0M239 601.3h0M240.8 601.1h0M240.8 602.8h0M241.8 602h0M242.5 603.3h0M243 602.9h0M245.3 602h0M245.2 603.5h0M246.4 602.6h0M246 602.9h0M247.4 603.7h0M248 603.1h0M249.5 604.1h0M249.7 603.2h0M227.2 633h0M239.3 633.6h0M243 625.8h0M229.1 625.3h0M233.1 630.8h0M237.7 627.8h0M241 632.7h0M244 621.3h0M237.4 627h0M233.2 631.9h0M247.6 627.2h0M238.3 626.7h0M245.7 627.7h0M242.4 629.7h0M227.8 626.2h0M237.9 629.8h0M242.3 631h0M234.4 622.5h0M249 622h0M231.3 622.3h0M237.5 630.8h0M245.9 621.7h0M235.9 630.2h0M246.1 621.7h0M240.7 626.4h0M241.6 634h0M226.5 632.3h0M239.8 625.3h0M250.6 621.1h0M234.1 624.6h0M233.6 625.1h0M236.5 632.2h0M236 627.6h0M236.9 621.7h0M242.3 632.3h0M229.3 632.1h0M229.6 623.6h0M234.7 628h0M238 627h0M234.1 628.6h0M228.4 631.4h0M236 633h0M237.1 621.7h0M235.5 627.9h0M233.2 628.3h0M246.9 624.6h0M244.7 624.8h0M237.8 631.4h0M248.8 626.9h0M247.5 626.8h0M239.9 621.8h0M226.1 629.3h0M224.8 632.2h0M229.6 628.8h0M236.1 633h0M235.6 631.4h0M240.8 629.8h0M232.7 624.8h0M226.8 631.9h0M227.6 632.9h0M231.5 622.3h0M246.5 631.2h0M242.5 626.4h0M249.7 624.3h0M228.2 629.9h0M246.2 621.7h0M249.7 621.5h0M233.2 624.8h0M233 628.6h0M229.2 628.3h0M230.5 632.9h0M226.9 631.9h0M247.1 631.4h0M227.7 626.1h0M242.3 625.9h0M241.3 623.9h0M240.4 622.2h0M234.5 630.5h0M227.3 629.8h0M226.3 631.8h0M246.5 633h0M235.1 633.2h0M236 624.8h0M235.9 630.8h0M224.8 633.1h0M246.9 627.3h0M238.2 628.8h0M232.6 622.1h0M249.3 624.5h0M228.7 632h0M223.4 633h0M248.4 628.8h0M249.9 625.5h0M225.9 629.5h0M238.1 625.3h0M245.8 624.2h0M247.5 623.3h0M229.3 624.9h0M227.8 628.3h0M244.5 628.2h0M236.3 628.7h0M242.1 621.4h0M244.7 622.3h0M242.8 622.7h0M236.2 625.6h0M228.6 629.6h0M250.6 623.2h0M247.6 625.3h0M234.5 632.4h0M231.1 622.9h0M225.8 632.4h0M238.9 627.4h0M233.5 648.8h0M236.6 646.6h0M234.2 655.6h0M229.1 662.5h0M232.7 656.7h0M246.2 657h0M228.5 659.1h0M241.7 650.5h0M228 664.2h0M244 657.4h0M235.4 661.1h0M238.3 661h0M227.3 663h0M237.1 663.4h0M229.2 653.5h0M245 650.5h0M230.7 658.6h0M230.4 652.4h0M232.4 649.7h0M250.6 652.1h0M246.4 664.4h0M239.2 654.9h0M249.2 660.4h0M242.6 659.9h0M242.3 649.7h0M246.3 661.6h0M244.6 647.7h0M231 652.5h0M243.5 663.9h0M230.3 659.8h0M250 661.3h0M245.3 662.7h0M246.7 661.4h0M237.7 656.9h0M246.2 661.3h0M234.3 662.1h0M240 663.8h0M229.8 663.5h0M246.3 663.9h0M247.5 650.7h0M231.9 650.3h0M232.8 654.5h0M249.2 655.1h0M244.4 658.7h0M246.2 653.3h0M243.7 660.7h0M247.2 663.4h0M229.1 653.5h0M247.5 658.1h0M241.6 652.3h0M246.4 661.5h0M239 646.1h0M229.7 646.3h0M237.3 661h0M238.2 657.2h0M232.2 652.2h0M247.7 652.5h0M234.2 657.5h0M233.6 647.6h0M237.8 659h0M246.8 658.2h0M243.7 648.2h0M247.2 646.8h0M233.7 649.4h0M235.9 663.7h0M248.8 650.1h0M248.9 657.3h0M239.2 653.3h0M239.4 663.7h0M231.6 664.3h0M231 661.4h0M227 655.8h0M250.2 649.2h0M246.8 654.4h0M235.6 650.6h0M240.5 647.9h0M239.6 662h0M249.8 653h0M243.3 662.5h0M242.3 647.4h0M250.5 654.2h0M243.2 652.7h0M236.2 657.7h0M243.6 655.7h0M239.2 662.8h0M250.6 652.7h0M247.5 647.1h0M240.7 658.6h0M245.4 654.3h0M244.9 662.5h0M227.9 659.9h0M230.4 652h0M248.8 663.6h0M241.4 648.7h0M228.1 656.7h0M245.3 653.3h0M233.9 657.9h0M234.1 660.1h0M237.3 656.1h0M242.9 664.1h0M243.6 660.9h0M250.6 653h0M243.9 659.1h0M231 651.1h0M247.2 656.6h0M235.5 660.7h0M239.6 648.6h0M231 662.2h0M231.2 659.7h0M228.3 651.8h0M236.4 651.5h0M250.6 663.9h0M234.6 649.5h0M231.8 663.5h0M237.7 651.9h0M233.4 648h0M236.4 653.3h0M233.5 663.8h0M249.3 649.8h0M247.5 654.3h0M246.1 657.8h0M230.7 651.8h0M238.5 660h0M243.4 656.3h0M233.7 659.9h0M249.5 652.7h0M234.1 655.8h0M233.4 657.7h0M228 660.3h0M240.9 661.3h0M250 652.5h0M233 650.9h0M240.4 647.3h0M243.6 659.9h0M246.8 653.6h0M234.5 648.1h0M250.6 657.9h0M244 657.7h0M236.7 660.3h0M245.2 663.4h0M236.6 652.3h0M235.6 660.9h0M248.4 649.4h0M239.8 655.8h0M249.1 658.4h0M235.3 648.5h0M237.1 647.2h0M247.9 655.3h0M241.2 658.4h0M241.1 653.5h0M247.7 651.1h0M247.5 660.6h0M243.5 648.8h0M239.3 660h0M249 662.6h0M247.1 659.7h0M248.5 658h0M244.3 648.4h0M242 659h0M228.6 651.1h0M247.2 657.2h0M232.2 651.1h0M229.3 650.1h0M250.6 658.5h0M235.8 660.8h0M228.8 658.9h0M235 661.5h0M242.4 646.1h0M233.7 648.6h0M237.9 647.1h0M246.8 656.3h0M247.3 646.7h0M232.5 648h0M235.3 657.6h0M240.9 652.1h0M246.4 650h0M247.6 649.9h0M240.2 661h0M246.1 646.6h0M239.4 646.5h0M228.5 653.8h0M244.8 657.7h0M236.8 656.8h0M241.4 655.5h0M248.3 650.2h0M246.7 664.4h0M235.1 663.8h0M228.7 664.2h0M218 655.7h0M224 656.1h0M225.9 658.3h0M224.2 661.4h0M224.4 658.3h0M218 655.9h0M221.6 658.9h0M219.3 656.5h0M225.2 655.1h0M225.5 660h0M240.2 686.2h0M239.1 681.8h0M248.7 683.2h0M231.3 671.3h0M243.3 672.7h0M231.2 675.6h0M247.5 683.5h0M231.9 677.1h0M242.2 684.6h0M237.8 670.2h0M249.6 679.9h0M244.4 677.5h0M236.1 672.6h0M239 684.9h0M243.4 670.8h0M235.2 671.2h0M243.3 677h0M245.8 680.1h0M232.4 676.7h0M232.1 681.7h0M239.4 677.2h0M246 680.8h0M244.6 673.2h0M240.9 681.1h0M250.1 671.5h0M232.3 679.5h0M250.6 673.2h0M239.2 673h0M248.3 682.8h0M246.6 680.1h0M233 669.7h0M247.9 686.1h0M232 669.7h0M250.5 673.2h0M245.1 672.8h0M244.4 685.3h0M236.5 685.1h0M231.4 671.7h0M233.2 682.2h0M245.9 686h0M247.9 672.3h0M241.8 671.8h0M247.5 670.9h0M250.2 684.6h0M248.9 669h0M248.2 678.7h0M244 677.8h0M247.8 679.4h0M232.1 670.4h0M237.1 678.5h0M231.2 675.9h0M231.5 682h0M248 683.5h0M233.6 677h0M235.3 680.4h0M233.3 676.5h0M242.5 686.1h0M233 675.2h0M248.8 681.8h0M233.1 683.8h0M237.4 675.4h0M234.1 682.3h0M250.6 679.6h0M231.1 682.5h0M233.4 670.3h0M243.6 681.1h0M240.6 678.1h0M243.8 676.1h0M250.2 680.4h0M247.7 681.8h0M248.6 685h0M231.6 681.5h0M248.8 680.9h0M249.4 676.5h0M250.6 672.1h0M245.8 676.7h0M237.3 673.4h0M237.8 675.1h0M240.3 670.7h0M244.7 686.2h0M247 685.3h0M250.6 683.6h0M236.8 682.2h0M239.7 673.4h0M235.8 669.4h0M250.3 684.5h0M247.2 674.8h0M249.7 682.6h0M242.2 682.9h0M248.3 670.8h0M244.2 674.5h0M242.3 675.4h0M234.4 685.9h0M244.6 678.3h0M250.6 678.4h0M250.2 676.1h0M250.6 681.1h0M235.5 670.6h0M250 674h0M236.5 669.2h0M250.6 681.5h0M240.2 672.1h0M245.5 681h0M246.8 682.1h0M236.4 673.3h0M245.5 669.5h0M236.4 672.7h0M244.5 685.9h0M244.8 679.3h0M245.6 679.5h0M232.3 674.3h0M231.3 670.2h0M234 675.3h0M241.4 671h0M245.4 686h0M247.2 673.8h0M233.1 672.1h0M239.6 674.3h0M240.3 681.1h0M233 681.7h0M238.2 685.3h0M231.6 683.6h0M235.8 683.5h0M247.9 684h0M236.8 680.7h0M235 669.2h0M234.3 684.8h0M243.3 680.5h0M234.8 680.6h0M233 671.5h0M239 686.2h0M243 680.4h0M232.4 672.9h0M248.9 669.3h0M250.6 671.3h0M246.2 675.4h0M247.5 671.4h0M238.7 673.4h0M233.3 678.2h0M247.7 673.3h0M239 674h0M235.7 682.4h0M235.6 672.4h0M238.7 675.7h0M240.9 680.2h0M232.1 684.2h0M248.6 680.6h0M231.6 673.1h0M233.4 676.7h0M245.9 677h0M233.5 670.6h0M234.7 677.4h0M240.2 673h0M232.4 671.1h0M240.9 675.3h0M242.7 685.4h0M235.7 670.3h0M242.8 682h0M250.6 684.2h0M233.3 684h0M242 685.5h0M234.6 673.2h0M221.5 678.5h0M230.4 701.7h0M239.4 693.2h0M227.5 702.3h0M241.1 701.5h0M231.4 702.7h0M238.5 702h0M229.8 704.7h0M245 707.5h0M243.3 706.3h0M244.2 699.6h0M231.3 696.3h0M244.1 703.8h0M231.1 694.5h0M235.3 693.6h0M230.6 695.5h0M238.1 706.5h0M234.6 709.9h0M227.2 705.2h0M231.4 710.1h0M236.7 701.6h0M236.3 710.1h0M238.8 710.9h0M242.8 696.9h0M246 696.6h0M231.3 701.2h0M233.1 710.3h0M233.5 700.3h0M227.4 705h0M230.1 699.7h0M227 707.9h0M231.9 703.9h0M237.7 701.2h0M229.6 705.8h0M229.3 697.3h0M229.8 710.3h0M236.9 695.5h0M243.8 703.5h0M231.5 694h0M238.1 696h0M234.8 701.1h0M239.6 709h0M245.2 708.5h0M244.9 697.8h0M228 700.3h0M229 709.5h0M232.5 693.3h0M245.4 698.2h0M235 708.7h0M243.1 702.5h0M239.4 707.5h0M229.2 702.2h0M239.5 697.4h0M242.2 703.6h0M245.3 709.2h0M228.4 696.5h0M237.8 709.2h0M240.1 696.3h0M231.5 697.6h0M237 699.6h0M228.4 705.2h0M238.9 706.3h0M239.8 701.5h0M227.2 707.4h0M239.9 701.6h0M239.3 705.8h0M245.2 696.2h0M231.4 707.1h0M245.2 700.8h0M234.8 696.7h0M244.1 710.3h0M241 697.2h0M239.6 699.5h0M229.4 706.8h0M231.1 697h0M227.7 697.8h0M234.7 695.4h0M228.5 700.6h0M244.9 703.5h0M233.8 703.4h0M235.3 705.7h0M236.2 696.2h0M239.8 693.3h0M234 695.9h0M241.6 710.3h0M239.2 708h0M240.4 704.4h0M230.7 710.4h0M232.7 706.8h0M242.6 697.6h0M243.1 703.8h0M238.2 708.8h0M227.3 696.6h0M240.8 702.6h0M228.3 697.9h0M230.3 693.1h0M227.1 705.5h0M232 697.1h0M245.8 705.8h0M229.2 693.3h0M245.4 709.8h0M233.4 695.7h0M233.1 702.4h0M236.1 700.5h0M228 697.7h0M230.1 694.5h0M238.9 694.6h0M232 705.5h0M240.8 707.3h0M236.3 699.2h0M244.7 696.4h0M228 703.1h0M240.2 695.8h0M240.6 699.9h0M242.1 697.1h0M228.8 707.4h0M230.6 703.6h0M242.3 705.7h0M231.4 707.2h0M239.6 694.7h0M229.6 703.2h0M238.1 696.5h0M239 694.9h0M231.9 697.3h0M237.1 700.6h0M227.6 706h0M231.2 706h0M239.2 698.2h0M238.7 705.4h0M230.9 709.2h0M239.6 698.6h0M230 697.7h0M241.7 697.1h0M240.6 707.9h0M242.1 710.3h0M233 698.6h0M228.1 706h0M228.7 704h0M236.8 693.9h0M244.7 695.7h0M235.8 708.8h0M229.3 696.6h0M236.9 702.1h0M240.6 699.5h0M241.7 702.5h0M228.3 694.9h0M236.2 700h0M239.7 697.5h0M233 697h0M240.5 701.6h0M234.1 706.9h0M244.6 701h0M238.8 709.8h0M235.7 694.9h0M232.3 704.5h0M245.6 693.7h0M229.5 709.4h0M238.8 701.4h0M228.3 698.4h0M241.6 706.5h0M228.6 700.9h0M228.8 700.1h0M228 710.3h0M242.6 731.5h0M233.6 733h0M235.9 730.1h0M231.4 733.5h0M235.1 728h0M235.2 733.2h0M244.3 733.6h0M231.5 734.3h0M242.4 735.4h0M240.7 730.5h0M244.7 718.9h0M237.2 728.1h0M243.1 724.3h0M244.7 732.5h0M235.1 722h0M230.8 722.6h0M229.5 724.1h0M233.1 732.7h0M230.2 719.3h0M232.6 731.7h0M236.2 726.5h0M246.2 732.8h0M240.4 723.7h0M237.5 734.6h0M242.2 734.6h0M244.7 723.8h0M230.9 728.6h0M243.9 728.9h0M237.7 727.6h0M244.8 725.7h0M232.7 730.3h0M235.5 724.7h0M241.5 735.7h0M245.5 720.3h0M239.6 718.6h0M241.9 726h0M230.7 725.9h0M243.8 727.7h0M235.4 732.6h0M242.4 722.1h0M232.9 732.8h0M246.9 734.3h0M235.9 726h0M245.7 731.1h0M234.4 721.7h0M242.2 724.1h0M238.8 721.5h0M241 727.3h0M246.2 720.7h0M239.1 736.5h0M232.3 732.7h0M238.9 734.8h0M244.6 732.1h0M245.6 724.7h0M229.4 721.8h0M245.2 727.3h0M246.2 734.7h0M245.8 727.4h0M231.6 728.4h0M243.5 729.7h0M239.8 725.8h0M234 722.8h0M238.2 725.8h0M230.7 726.7h0M235.1 718.1h0M242.5 731.3h0M233.6 722.4h0M232.2 727.6h0M245.3 729.2h0M239.5 721.7h0M242.5 731.3h0M241.8 731.2h0M244.1 723h0M229.9 735.1h0M237 735.5h0M230.3 719.6h0M241.2 732.7h0M237.3 720.6h0M247 729.8h0M242.8 724.2h0M232.6 722.5h0M236.4 721h0M234.5 729.4h0M232.9 721h0M232.5 719.6h0M238.1 723.8h0M237.6 721.4h0M246.5 726.1h0M246 727h0M232.6 726.7h0M231.6 729h0M230.3 721.1h0M246.4 731h0M235.4 725.5h0M235.3 725.9h0M236.1 730.8h0M244.6 720.8h0M229.1 728.6h0M242.1 733.7h0M240.3 724.6h0M236.2 735h0M234.4 726h0M240.9 728.3h0M246.1 731.6h0M235.6 720.7h0M243.2 733.8h0M241.2 728.9h0M246 724.3h0M236.2 728.2h0M231.1 721.4h0M243.4 734.6h0M234.8 718.5h0M237.9 726.9h0M245.1 724.7h0M238.6 724.5h0M240.5 735.2h0M235 726.8h0M240 725.2h0M233.7 732.5h0M236 724.9h0M245.4 724.7h0M234 728h0M243.8 724.1h0M241.4 721h0M232.5 718.4h0M243.5 719.1h0M233.1 720.7h0M233.7 719.1h0M242 731.6h0M246 734.8h0M245.6 728.2h0M245.7 719.7h0M232.5 726h0M244.5 731.8h0M230.7 725.1h0M242.6 734.1h0M246.6 729h0M230 718.7h0M229.4 720.3h0M240.3 731.1h0M231.9 720.1h0M240 721.3h0M246.5 730.4h0M246.6 724.7h0M236 726h0M233.2 722.7h0M246.9 736h0M232.2 731.1h0M231.7 721.3h0M242.3 724.5h0M238.5 719.1h0M229.6 730.6h0M243.2 726.1h0M237.1 728.7h0M239.8 734.3h0M236.1 724.2h0M244.5 735.5h0M239.1 734.9h0M232.2 720.6h0M241.4 725.1h0M243.4 718.1h0M238.3 732.5h0M233.1 744.5h0M234.1 746h0M242.7 743.6h0M244.8 744.5h0M221.1 746.9h0M245 745.3h0M232.9 744.5h0M217.8 744.3h0M220.6 743.8h0M235.3 744.1h0M244.5 745.3h0M227.5 745.7h0M235.4 746.8h0M242 745.2h0M227.5 745.7h0M225.7 745.4h0M224.1 746.9h0M218.9 746.9h0M233 743h0M231.7 743.8h0M241.3 743.5h0M236.8 745.7h0M245.8 746.7h0M237.7 745.7h0M218.4 743h0M245.1 744.7h0M233.5 744.3h0M229.1 743h0M234.1 746.6h0M217.4 746.3h0M233.1 751.2h0M231.3 753.4h0M235.2 753.8h0M240.9 753.6h0M250.6 751.6h0M245 751.9h0M248.1 750.7h0M231.5 753.9h0M235.2 753.1h0M237.4 751h0M250.6 752.8h0M250.6 754h0M244 752.7h0M245.7 751.1h0M237.3 752.4h0M234.9 753.7h0M232.6 751h0M242.5 751h0M232.7 753.3h0M242.2 752.3h0M238.5 752.5h0M229.3 752.4h0M238.7 750.7h0M246.4 751.3h0M248 751.3h0M231.1 751.3h0M237.9 752.2h0M246.6 751.7h0M244.4 751.3h0M239.4 753.4h0M250.2 752.3h0M233.2 752.6h0M230.9 750.7h0M231 751.7h0M238.7 752.8h0M240.8 751.6h0M234.6 753.8h0M236 751h0M157 769.6h0M161 769.5h0M171 769.5h0M201 770.4h0M205 770.2h0M209 769.6h0M221 770.2h0M226 769.5h0M232 770h0M237 769.8h0M219.5 867.9h0M222 867.8h0M224.5 868.5h0M227 868.9h0M236.5 868.1h0M236 891.2h0M240.4 896.8h0M227.9 890.4h0M250.6 895h0M234.7 899.5h0M240.3 894.5h0M242 890.8h0M247.6 894.4h0M248.8 892h0M242.4 898.3h0M237.3 890.2h0M241.8 890h0M243.9 896.9h0M233.9 900.2h0M249.1 897.1h0M233.3 889.9h0M238.8 889.1h0M238.8 897.2h0M239 896.8h0M237.1 897h0M242.9 900.2h0M227.1 888.5h0M250.6 897.2h0M233.7 896.1h0M248.5 899h0M234.7 889.9h0M230.5 896.6h0M233.5 889h0M250.6 899h0M248.5 892.3h0M250.6 897.9h0M250.6 895.6h0M250.6 896.2h0M234 895.3h0M240.3 894.7h0M236.3 892.5h0M242.6 894.6h0M233.2 891.2h0M240.6 894.5h0M243.6 893.5h0M238.7 890.7h0M244.9 891.8h0M248.6 896.9h0M234.9 894.7h0M244.2 899.6h0M234.7 893h0M244.5 893.3h0M242.6 898.3h0M235.7 897.3h0M236.8 893.9h0M235.7 892.2h0M247.9 897.6h0M232 891h0M246.3 897.9h0M245 896.6h0M236.8 896.8h0M233.8 889.2h0M247.4 888.9h0M244.6 894.8h0M250.6 900.1h0M234.6 891.3h0M244.2 889.8h0M242.1 897.3h0M234.2 892.9h0M245.3 894.3h0M250.6 899.2h0M242 898.9h0M235.6 893.6h0M237 900.2h0M232.7 890.4h0M250.6 899.6h0M247.2 892.5h0M242 899.2h0M244.3 890.8h0M230.7 893h0M242.3 899.3h0M241.9 893.3h0M227.5 891.6h0M236.8 893.2h0M233.6 888.6h0M238.7 897.6h0M244.8 896.7h0M227 890.8h0M244.4 896.6h0M232 892h0M250.6 898.8h0M240.3 891.3h0M237 895.4h0M165.8 920.3h0M164.2 917.5h0M167.8 918h0M169.6 920.1h0M172.1 919.2h0M175.8 920.6h0M169.6 918.5h0M167.8 920.5h0M165.7 922.7h0M167.7 922.8h0M185.2 919.6h0M185.4 922.2h0M199.1 920.1h0M186.8 919.8h0M192.6 918.8h0M187.8 921.3h0M183.1 920h0M188.1 921.9h0M186.2 922.2h0M178.6 921.7h0M199.1 919.1h0M192.9 921.4h0M218.2 919.1h0M222.1 922.2h0M215.6 921.8h0M235 920.2h0M224.9 922.1h0M223.6 918.5h0M233.9 918.2h0M227.3 922.9h0M231.1 919.3h0M230.5 918.9h0M204.5 920.6h0M218.1 922.5h0M226 922.2h0M231.6 920.7h0M232.8 919h0M204.8 919.7h0M206.1 919.7h0M224 918.4h0M209.1 918.6h0M212.9 919.5h0M233 922.6h0M235.7 922.4h0M229.5 920.2h0M233.6 919.4h0M227.4 922.1h0M185 945.5h0M192.3 940.8h0M196.4 942.4h0M187.6 947.4h0M176 947.7h0M200.7 946.2h0M159.8 941.4h0M179.5 943.6h0M165.6 941h0M173.6 948.2h0M163.8 941h0M164.1 945.3h0M180.8 944.3h0M179.2 943.9h0M155.8 947.9h0M164.6 948.8h0M191.8 939.9h0M180.8 945.2h0M192.5 941.7h0M189.9 942.6h0M182.5 941.8h0M172.8 946h0M158.1 944.3h0M188.2 945.9h0M181.4 941h0M159.9 946.8h0M196.8 947.9h0M166.9 940h0M167.1 940.3h0M178.5 940.4h0M169.4 942h0M172.8 944.1h0M189.7 947.4h0M165.7 940.6h0M170.8 939.6h0M188.5 940.6h0M202.8 947.3h0M156.8 941.6h0M174.8 947.1h0M173.8 948.8h0M158.5 942.6h0M179.6 949h0M176 943.9h0M194.9 947.2h0M163.6 944.3h0M197.8 943.6h0M186.7 943.6h0M177.1 945.1h0M166.8 945.2h0M196.5 945.1h0M172.7 940.3h0M202 948.3h0M185.1 939.6h0M195.5 945.8h0M161.3 944.2h0M189.2 942.5h0M164.8 946.8h0M186.5 945.9h0M156.1 946.1h0M170.6 943.9h0M171.2 945.5h0M187.2 940.8h0M193 942.4h0M181.2 942.6h0M160.5 947.6h0M158.3 946.8h0M156.2 948.9h0M172.7 946.7h0M174 941.3h0M174.9 944.5h0M180.1 940.7h0M201.4 942.5h0M175.9 943.3h0M201.5 941.8h0M186 942.7h0M173.9 947.8h0M168.4 947.1h0M157 940.6h0M196.9 944h0M176.1 941.5h0M168.3 947.1h0M179.9 941h0M200 943.8h0M166.4 948.5h0M175 945.1h0M176.3 939.8h0M169.5 948.7h0M189.1 945.4h0M199.4 940.1h0M169.5 940.6h0M155.9 946.7h0M161.1 943.3h0M155.8 944.2h0M165.7 941h0M159.3 940.3h0M179.8 941.4h0M194.4 940.9h0M167.1 943.7h0M195.3 941.9h0M190.6 940h0M171.1 954.5h0M195.5 954.6h0M195.6 957.2h0M218.3 956.7h0M184.7 955.2h0M200.5 953.7h0M210 954.2h0M190 954.8h0M231.8 955.3h0M190.8 953.1h0M175.8 952.1h0M196.2 952.3h0M213.3 956.6h0M221.9 957.3h0M206 955.2h0M193.8 952.1h0M208.5 953.4h0M203.6 952.4h0M200.5 954.1h0M176.3 954.2h0M219.6 956h0M177.2 955.3h0M224 955.3h0M217 957.4h0M224.5 952.3h0M187.1 955.7h0M221.2 957.1h0M185.3 956.9h0M193.5 955.2h0M217.2 953.6h0M190.6 955.4h0M227.6 955h0M192.3 970.6h0M194.3 969.6h0M177.1 972.4h0M197.3 971.2h0M189.2 967h0M194.9 970h0M175.4 969h0M184.5 966.5h0M195.2 965.6h0M174.2 971.6h0M188.9 970.1h0M192.5 965.5h0M176.4 970.6h0M175.6 965.3h0M181.9 970.7h0M171.4 971h0M177.9 965.4h0M171.5 971.5h0M191.6 965.1h0M188.7 965.2h0M174.4 965.2h0M195.7 969.8h0M181.3 967.8h0M177.6 964.7h0M192.8 966.4h0M192.7 970.2h0M189.8 968.8h0M179.1 965.5h0M175.6 966.8h0M173.3 970.4h0M175.6 967.1h0M187.7 971.4h0M178.9 968.3h0M197.9 971.9h0M185.3 968.1h0M174.7 971.4h0M169.5 966.6h0M192.1 968.5h0M180.7 965.8h0M182.4 972.4h0M194.5 967.6h0M178.8 971.6h0M187.6 965.5h0M197.4 970.4h0M176.5 969.8h0M175.8 968.6h0M181.9 968.1h0M196.8 971.8h0M182.3 971.9h0M170.7 972.2h0M187.8 971.9h0M180.1 971.5h0M166.9 972.4h0M193.9 971.3h0M194.2 967.5h0M191.6 966.2h0M180 968.2h0M193.2 966.1h0M169 970.3h0M173.5 972.3h0M180.1 967.5h0M196.3 969.1h0M187.5 972.1h0M169.7 967.4h0M183.6 965.1h0M181.2 969.2h0M180.1 972.4h0M180.2 967.3h0M197.9 965.9h0M184.5 969.2h0M191 980.5h0M178.9 979.1h0M167.9 981.5h0M176.3 981.2h0M167.8 983.9h0M162.5 981.8h0M165.2 978.6h0M180 977.6h0M189.6 977.8h0M183.4 977.2h0M165.6 983h0M188.5 978.1h0M194.6 980h0M175.3 979h0M173.4 983.7h0M193.1 983.7h0M180.6 978h0M165.2 983.6h0M188.9 982.9h0M182.6 982.1h0M195.5 977.2h0M189.2 977.3h0M172.4 981.9h0M175.8 981.6h0M162.6 982.1h0M174.8 983.5h0M178 982.5h0M171.8 982.6h0M161.9 980.6h0M163.9 980.2h0M185.4 982.9h0M196.1 979.7h0M195.4 983.6h0M186.3 977.1h0M182.8 982h0M194.3 976.6h0M182.4 979.8h0M170.9 982.6h0M194.2 976.7h0M162.5 978.5h0M196.8 977.5h0M168.6 982h0M193.3 977.6h0M182 981.5h0M175.9 977.5h0M161.1 983.6h0M163.1 979.6h0M164.8 984h0M191.3 983.7h0M162.5 982h0M178.7 981.7h0M166.2 980.2h0M189.9 980.3h0M192.5 977.5h0M170.6 979.6h0M177.6 978.3h0M181.5 981.4h0M179.4 983.2h0M196.6 980.3h0M161.6 978.1h0M172.3 979h0M176.1 977.4h0M218.9 985.5h0M213.7 986.7h0M225.9 983.6h0M214.1 987.4h0M212.7 983.2h0M221.3 983.3h0M239.7 984.4h0M227.4 984.4h0M240.3 984.4h0M225.3 987.4h0M217.8 987.5h0M229.6 987.9h0M223.4 986.1h0M212.8 983.6h0M222.5 987.3h0M226.8 986.2h0M215.9 985.2h0M221.5 983.1h0M230.4 986.1h0M237.6 982h0M210 984.6h0M216.1 983.6h0M230.7 986.9h0M217.7 984h0M219 983.7h0M241 984.1h0M237 986.7h0M235.1 987.3h0M208.9 982.7h0M218.1 983h0M242.3 985.2h0M225.5 985.5h0M249.2 983.5h0M221.7 986.5h0M249.2 982.3h0M243.5 983.5h0M235.1 982.7h0M245.2 984.1h0M176.6 987.3h0M179.6 986.4h0M174 984.5h0M180.4 989.6h0M179.2 989.5h0M179.5 987.2h0M171.4 987.4h0M171.2 985.5h0M207.7 997.8h0M227.1 993.1h0M241.2 990h0M235.1 997h0M207.4 997.8h0M243.6 990.5h0M213.3 995.9h0M207 992.4h0M216 997.3h0M209.7 997.1h0M227.1 992.2h0M240.6 996.5h0M236.5 992.5h0M244.9 993h0M222.4 996.6h0M213.3 992.6h0M233.9 997.8h0M203.8 992.1h0M250.6 991h0M247.9 989.4h0M226 994.3h0M217.9 994.4h0M200 994.6h0M194.9 998.2h0M238.8 990.4h0M238.1 995.4h0M244.1 995.9h0M203.8 989.5h0M243 991.4h0M230.8 990.5h0M200.3 996.7h0M245.1 994.3h0M213.9 996.5h0M211.6 993.8h0M231.7 998.6h0M209.8 995.8h0M219.1 996.3h0M211.2 997h0M227.6 997.8h0M227.7 993.5h0M220.2 997h0M189 998.6h0M228.9 998h0M242.9 993.9h0M220.2 990.5h0M237.9 996.1h0M250.6 992.7h0M196.1 995.5h0M206.2 990.2h0M212.6 994.7h0M224.4 991.6h0M250.6 989.8h0M221.3 997.4h0M213.9 993.4h0M213.4 995h0M241 998.8h0M237.8 996.3h0M209.6 989.8h0M205.4 992.5h0M250.6 993.2h0M243.4 997.3h0M212.7 991.2h0M218.7 989.2h0M232.1 989.6h0M236.2 992h0M227.9 994.6h0M239.6 992h0M232.3 995.9h0M222 993.7h0M201.6 991.9h0M230.4 993.7h0M248.3 990.9h0M236.9 997.8h0M217.8 997.2h0M216.1 990.8h0M178.5 995h0M217.5 1003.6h0M210.8 1010.9h0M219.6 1004.5h0M215.3 1003h0M210.8 1008.2h0M202.7 1009.1h0M228.4 1002.5h0M245.3 1005.8h0M235.3 1002.5h0M213.5 1007.9h0M227.5 1002.7h0M219.4 1008.7h0M231.8 1006h0M216.6 1007.3h0M218.9 1003.3h0M244 1006.7h0M224.3 1011h0M204.9 1004.6h0M234.8 1007.5h0M232 1003.9h0M214.7 1011h0M217.3 1010.4h0M242.3 1007.7h0M212 1003.4h0M195.8 1010.8h0M219.6 1004.4h0M228.6 1008.6h0M230.8 1010.3h0M196.1 1001.5h0M217 1001.8h0M222.5 1001.8h0M203.7 1007.5h0M216 1009.6h0M212.8 1010.6h0M223.4 1007.4h0M237.2 1004h0M206.5 1001.5h0M243.2 1004.5h0M194.1 1006.3h0M227.4 1004.3h0M198.3 1009.2h0M214.7 1008.9h0M216.4 1006.5h0M249.4 1005.7h0M245.2 1010.2h0M232.6 1008.5h0M194 1002.8h0M231 1009.4h0M210.1 1007.5h0M245.4 1004h0M193.1 1006.6h0M212.2 1004.7h0M248.7 1002.1h0M239.3 1010.1h0M216.2 1001.5h0M234.1 1002.6h0M237.8 1009.2h0M199 1009h0M185.5 1002.6h0M184 1014.2h0M172.2 1012.9h0M182.5 1016h0M187.9 1018.4h0M188.4 1016.6h0M175.9 1017.6h0M210.9 1012.5h0M162.2 1017.7h0M167.7 1013.2h0M162.5 1016.8h0M183.2 1012.6h0M169.8 1012.5h0M166.7 1015h0M169.8 1012.5h0M173.5 1014.1h0M175.5 1015.2h0M156.1 1014.6h0M197.1 1017.9h0M155.2 1015.7h0M206.3 1014h0M166.7 1015.5h0M205.8 1017.8h0M183.6 1013.3h0M161.7 1016.1h0M190.2 1014.6h0M190.8 1016.9h0M176.5 1016.5h0M155.9 1012.9h0M204.3 1017.9h0M159.3 1018.4h0M164.8 1017.5h0M166.4 1014.8h0M201.7 1018.1h0M176.7 1017.9h0M169.8 1018.6h0M193.4 1016.2h0M176.8 1014h0M200.4 1013.2h0M162.8 1013.7h0M191.5 1014.3h0M184.9 1016.6h0M197.9 1018h0M185.5 1013.9h0M168.8 1013.6h0M159.4 1013.5h0M205.5 1014.8h0M160 1016.8h0M188.7 1013.9h0M156.5 1015.9h0M187.3 1013.1h0M159.6 1016.4h0M168.7 1017.5h0M185.2 1016.3h0M208.9 1014.7h0M179.1 1015.1h0M202.9 1016h0M198.9 1018.9h0M195.9 1016h0M209.7 1016.6h0M198.3 1018.8h0M187.4 1013.9h0M168.2 1015.4h0M167.6 1017.6h0M182.9 1017.1h0M195.3 1015.3h0M211.4 1017.2h0M200.6 1019h0M193.1 1014.2h0M208.6 1015.7h0M175.4 1015.4h0M181.8 1012.7h0M172.6 1016h0M182.6 1013.2h0M164.8 1013h0M174.8 1015.4h0M228.5 1029.4h0M198.1 1029.2h0M207.6 1024.2h0M180.4 1019.4h0M240.7 1030h0M218.6 1024.6h0M250.6 1029.2h0M181.8 1025.7h0M199.3 1029.3h0M175.9 1021.1h0M216.8 1024.7h0M207 1024h0M213.8 1019.8h0M198.2 1025h0M250.6 1028.8h0M250.6 1030h0M187.9 1018.9h0M191.5 1023.8h0M247.5 1027.7h0M198.6 1019.8h0M250.6 1030.6h0M180.8 1023.9h0M210.3 1023.9h0M197.9 1028.2h0M237.4 1021.6h0M201.8 1018.2h0M214.5 1019.2h0M238.1 1023.5h0M227.9 1020.9h0M169.1 1021h0M166.3 1019.1h0M240.2 1023.1h0M221 1022.6h0M195.8 1018.4h0M183.3 1025h0M209.4 1025.5h0M228.1 1022.3h0M190.1 1027h0M165.3 1019.4h0M212.2 1021.4h0M250.6 1030.6h0M196.2 1029.2h0M239 1028.3h0M244.8 1024.1h0M186.8 1025.8h0M174.5 1020.8h0M223.1 1025.9h0M187.9 1029.2h0M227.4 1018.1h0M185.7 1021.4h0M195.4 1029.3h0M248.6 1028.3h0M220.3 1025.3h0M201.3 1018.1h0M233.6 1026h0M183.7 1024.7h0M211.9 1020.9h0M168.3 1019h0M223.1 1021.3h0M201.9 1025.1h0M232 1030.5h0M206.3 1021.1h0M213.2 1029.1h0M213.8 1023.6h0M236.9 1030.8h0M205.5 1020.4h0M202.5 1022.2h0M183.7 1027.3h0M197.6 1024.6h0M236.6 1025.8h0M218.6 1024.1h0M186 1021.8h0M213.2 1024.6h0M219.9 1020.9h0M200.2 1024.5h0M226 1021.3h0M250.6 1029.7h0M171.5 1021.2h0M181.2 1026.2h0M235.3 1029.1h0M200.8 1022.4h0M192.6 1026.9h0M226.3 1022.7h0M222.7 1026.8h0M176.9 1019.3h0M169 1021.3h0M220.4 1026.3h0M228.8 1030h0M222.5 1029.9h0M195.6 1024.7h0M240.3 1024h0M174.7 1024.3h0M184.1 1022.6h0M215.4 1026.1h0M240 1024.2h0M190.1 1027.9h0M208.8 1018.4h0M224.6 1025.8h0M177.6 1024.5h0M232.7 1023.9h0M181.6 1025.8h0M226.5 1019.6h0M188.2 1025.1h0M247.7 1027.2h0M233.2 1029.2h0M191.7 1028.5h0M231.3 1024h0M179.8 1022.4h0M237.5 1029.3h0M162.8 1018.1h0M244.7 1025.2h0M241.2 1026h0M202.5 1019.4h0M187.7 1020.4h0M196 1019.9h0M206.2 1018.6h0M244.2 1026.4h0M189.5 1028h0M226.1 1029.3h0M224.8 1030.2h0M210.8 1019.1h0M233.8 1020.3h0M240.4 1025h0M197.9 1024.4h0M230.9 1026.6h0M193.2 1024h0M223 1023.5h0M177 1021h0M221.2 1024.3h0M179.5 1018.9h0M210 1030.6h0M205.9 1028h0M195.4 1019.1h0M242.7 1029.3h0M209.6 1018.6h0M213.4 1026.1h0M217.6 1026.6h0M213.6 1020.4h0M184.4 1019.7h0M227.3 1029.1h0M225.8 1024.6h0M202 1024.4h0M178.4 1025.2h0M172.8 1022.6h0M250.6 1030.9h0M191.5 1026.5h0M207.2 1029.1h0M231.6 1028.5h0M231.2 1025.9h0M226.3 1021.5h0M225.3 1033.8h0M239.4 1030.8h0M216.1 1033.7h0M230.1 1033.3h0M195.6 1032.1h0M247.7 1031.6h0M229 1031.6h0M237.2 1029.6h0M212.8 1035h0M221.3 1031.6h0M202.8 1030.8h0M231.9 1029.9h0M248.3 1032.6h0M243.3 1035.7h0M241.1 1035.6h0M197.9 1029.2h0M243.3 1035.8h0M227.8 1033.3h0M215.9 1032.1h0M223.4 1030h0M197.4 1030.9h0M225.1 1035.1h0M207.9 1035.1h0M206.9 1033h0M202.7 1034.8h0M223.8 1033.5h0M194.9 1031.3h0M221.9 1032.4h0M202.4 1034.7h0M208.6 1030.3h0M204.2 1034.6h0M192 1033.4h0M233.2 1029.6h0M196.9 1032.5h0M247.4 1032.3h0M224 1031.7h0M220.8 1031.9h0M243.9 1029.3h0M211.2 1033.1h0M201.4 1031h0M241.3 1035.5h0M226.8 1031.6h0M167.9 1050.6h0M159.2 1046.2h0M171.5 1052.2h0M160.5 1053h0M166.4 1050.5h0M168.6 1050.9h0M161.5 1043.4h0M166 1050h0M169.8 1045h0M154.8 1035.1h0M156.3 1043.6h0M156.1 1050.9h0M158.5 1051.7h0M167.7 1037.1h0M161.7 1047.7h0M164.2 1046.1h0M163.4 1053h0M162.6 1045h0M166.6 1042.5h0M166.6 1036.7h0M167.8 1052.6h0M160.7 1045.1h0M156.2 1036.4h0M169.9 1045h0M157.8 1051.4h0M168.6 1049.1h0M169.5 1043.9h0M160.4 1038.1h0M167.2 1044.5h0M159.9 1043.3h0M161.4 1051.4h0M158.5 1042.7h0M166.9 1043.9h0M166.1 1041.6h0M154.8 1044.1h0M159.6 1053.3h0M171.3 1045.1h0M155.7 1038.5h0M157.3 1038.5h0M163.6 1051.1h0M159.3 1035.3h0M157.6 1044.5h0M170.3 1040.5h0M158.7 1043.2h0M156.6 1046.2h0M165.9 1044.6h0M164.1 1036.2h0M167.6 1040.5h0M170.4 1046.5h0M157.8 1046.3h0M166.8 1038.1h0M155.7 1050.3h0M159.5 1042.6h0M169.8 1043.6h0M167.5 1045.4h0M159.4 1049.4h0M161.1 1046.6h0M163.8 1043.7h0M157.5 1047.5h0M157.4 1050.8h0M169.4 1040.6h0M161 1053.7h0M155.3 1053.1h0M158.1 1053.1h0M167.9 1035.2h0M167.7 1037.6h0M156.8 1034.6h0M156.1 1041.5h0M160.6 1043.7h0M163.2 1048.9h0M169.3 1053.3h0M170.6 1037.8h0M164.4 1051.9h0M157.6 1044.8h0M158.4 1040.8h0M165.3 1038.3h0M168 1040.8h0M169 1045.7h0M169.3 1036.2h0M165.6 1044.4h0M166.7 1039.1h0M167.2 1042.4h0M157 1045.9h0M167.7 1040.4h0M165.6 1034.8h0M167 1045.1h0M162.9 1040.9h0M167.6 1043.8h0M163.5 1035.9h0M164.9 1039.6h0M158.2 1039.6h0M170.2 1039h0M169.9 1041.6h0M159.3 1048.8h0M154.8 1045.3h0M165.6 1052.7h0M163.6 1036.7h0M166.3 1044.2h0M170.4 1040.1h0M155.9 1046.6h0M170 1050.5h0M167 1040.4h0M169.9 1051.3h0M169.2 1035.9h0M168.6 1039.3h0M162.7 1047.9h0M168.6 1052.1h0M171.3 1053.9h0M167.4 1045.7h0M161.6 1047.6h0M163.4 1044.2h0M159.1 1038.7h0M169.3 1051h0M166.6 1048.1h0M164.6 1044.4h0M154.7 1047.5h0M171.5 1043.2h0M162.7 1038.5h0M159 1036h0M155.2 1050.6h0M168.5 1050.1h0M159.1 1051.4h0M161.1 1052.7h0M171.1 1043.3h0M166.4 1045.1h0M154.7 1036.7h0M156.4 1039.7h0M158.9 1050.6h0M166.4 1053.2h0M167 1038.2h0M163.8 1040.7h0M169.1 1036h0M164.7 1049.9h0M160.5 1048h0M160.3 1037h0M164.4 1048.9h0M158.8 1037.1h0M154.9 1043.8h0M162.4 1035.4h0M170.1 1037.1h0M167.6 1037h0M160.1 1050h0M171.9 1045.1h0M161.3 1046.5h0M159.1 1053.5h0M160 1053.1h0M160.1 1042.7h0M170 1047.2h0M157.8 1047.9h0M167.2 1053.8h0M169.4 1044.4h0M165 1036.6h0M168.1 1049.8h0M155.7 1047.6h0M159.3 1043.8h0M161.5 1046.4h0M164 1043.4h0M170.1 1046h0M159.4 1040h0M156.6 1038.1h0M170.6 1051.1h0M160.9 1037h0M239.5 1049.5h0M240 1050.9h0M236.2 1053.3h0M226.9 1050.1h0M228.2 1050.9h0M222.9 1052.8h0M228.8 1051.5h0M232.8 1049.9h0M241.9 1053.9h0M241.1 1049.5h0M232.5 1053.7h0M226 1050.9h0M231.7 1052.5h0M240.4 1052.3h0M235.9 1051.4h0M224.6 1050.8h0M223.2 1050.2h0M241.6 1048.3h0M183.3 1050.1h0M178.9 1049.5h0M183.8 1046h0M175.1 1041.4h0M178.9 1040.2h0M185.4 1045.4h0M177.7 1051.2h0M173.5 1046h0M179.3 1049h0M184.3 1042h0M238 1060.6h0M250.6 1066.7h0M238.7 1061.9h0M233.8 1071.1h0M225.1 1073h0M238.7 1063.3h0M227.9 1071.9h0M247.7 1069.4h0M242.8 1073.6h0M244.6 1060.7h0M234.6 1063.1h0M248.5 1063.4h0M231.2 1068.1h0M232.7 1064h0M242.1 1073h0M250.6 1066.6h0M229 1073.7h0M235.9 1063.6h0M241.4 1068.8h0M246.6 1067.3h0M235.9 1067.4h0M249.1 1069.4h0M244.7 1060.7h0M249.8 1062h0M249 1066h0M249.4 1069.4h0M241.9 1068.1h0M242.7 1073.6h0M233 1064.7h0M226.2 1072.9h0M246.2 1072.9h0M249.2 1069.3h0M245.1 1068.5h0M233.2 1068.3h0M250.3 1061.1h0M232.4 1066.3h0M234.5 1067.8h0M250.6 1063.7h0M245 1068.7h0M235.9 1071.4h0M239.4 1066.3h0M248.3 1065h0M232 1072.4h0M231.8 1070h0M249.7 1060.1h0M233.8 1070.9h0M240.6 1073.9h0M248.3 1064.5h0M228.8 1071.8h0M234.9 1072.8h0M239.9 1063.8h0M240.8 1067.4h0M232.4 1064.1h0M244.2 1068.8h0M236.2 1069.7h0M225.8 1072h0M233.1 1061.8h0M240.5 1067.8h0M243.8 1063.2h0M234.8 1060.1h0M244.7 1073.5h0M248.4 1061h0M241.3 1067.1h0M240.3 1071.8h0M240.3 1073.2h0M227.5 1072.8h0M233.1 1071.5h0M243 1072.9h0M241.7 1073.5h0M242.1 1065.5h0M227.5 1071h0M241.7 1067.5h0M234.7 1070.1h0M244.9 1068.5h0M245.9 1065.3h0M233.5 1072.6h0M239.9 1067.4h0M231.8 1071.7h0M240.2 1064h0M231 1069.1h0M235.8 1073.7h0M236.2 1070.2h0M242.6 1060.4h0M230.4 1068h0M237.7 1073.7h0M230.1 1066.4h0M239.3 1063.5h0M231.5 1069.1h0M235.4 1066.8h0M244.2 1067.9h0M246.1 1067.3h0M229.7 1068.7h0M238.6 1069.2h0M248 1070.6h0M250 1064.9h0M246.7 1063.2h0M250.6 1060.1h0M240 1066.2h0M237.6 1067h0M247.6 1063.2h0M229 1068.8h0M250.6 1063.8h0M237.9 1064h0M236.8 1068.1h0M247.1 1073.3h0M237.9 1061.8h0M242.5 1062.4h0M246.7 1064h0M226.8 1072.4h0M236.3 1060.4h0M234 1064.3h0M238 1066h0M225 1066.6h0M227 1066.6h0M241.3 1093.9h0M249.7 1095.8h0M241 1089.2h0M250.6 1095.7h0M245 1093.9h0M249.9 1089.3h0M245 1099.5h0M250.6 1087.5h0M245.9 1090.8h0M249 1089h0M246.2 1099.7h0M245.4 1097.7h0M249.8 1090.8h0M249.3 1099.5h0M250.1 1095.3h0M250.6 1098.7h0M245.3 1092.5h0M246.8 1084.1h0M241 1089.7h0M244.4 1099.9h0M241.2 1098.9h0M249.6 1089.8h0M248.4 1094.8h0M242 1091.8h0M249.4 1097.3h0M247.2 1091.6h0M246.4 1096.9h0M246.3 1091.6h0M249.1 1095.8h0M249.5 1089.4h0M248.4 1090h0M250.6 1090h0M249.6 1099h0M244.9 1090.1h0M247.7 1090.9h0M247 1084.5h0M241.7 1098.9h0M247.3 1098.3h0M249 1100h0M249.3 1095.5h0M242.3 1090.7h0M250.6 1097.7h0M243.4 1095.5h0M246.7 1092h0M246.4 1089.8h0M250.6 1091.3h0M250.6 1094h0M243 1098.5h0M245.2 1096.3h0M247.2 1093.6h0M244.3 1095.8h0M245.1 1094.8h0M246.4 1096.5h0M250.6 1094.3h0M241.1 1088.5h0M246.8 1098.3h0M250.1 1094.3h0M245.2 1098.2h0M245.3 1099.8h0M250.2 1095.6h0M245.6 1089.8h0M244.8 1089.9h0M250.3 1090.6h0M250.6 1085h0M247.2 1096.6h0M244.3 1094.3h0M250.6 1096.2h0M246.5 1090.1h0M243.8 1087.5h0M248.1 1097.6h0M248 1091.2h0M241 1087h0M247.3 1089.7h0M247 1087h0M243.9 1089.2h0M245 1095.8h0M249.2 1095.9h0M241.3 1090h0M247.1 1097.5h0M248.5 1093.3h0M250.6 1092.8h0M250.6 1084.1h0M245.5 1093.9h0M250.6 1098.5h0M241.1 1093.5h0M245.5 1094h0M250.1 1093.2h0M250.3 1086.1h0M243.8 1089h0M242.2 1084.6h0M246.8 1088.3h0M242.9 1099h0M245.1 1088.6h0M244.9 1094.2h0M242.7 1094.7h0M247.4 1084.7h0M242.5 1095.6h0M248.4 1084.8h0M250.6 1085h0M242.8 1095h0M241.6 1090.6h0M244.9 1085.4h0M250.6 1098h0M248 1096.1h0M246.6 1093.3h0M246.5 1094.5h0M250.2 1090.4h0M245.5 1088.8h0M250.6 1094.9h0M245.8 1089.5h0M243.3 1090.4h0M249.7 1089.7h0M246.3 1087h0M247.4 1088.5h0M242.3 1096.4h0M243.1 1091.8h0M248.5 1094.3h0M243.5 1087.5h0M244.6 1088.8h0M250.6 1098.3h0M245.3 1096.7h0M243.2 1091.3h0M250.6 1091.4h0M245.3 1085.5h0M250.3 1087.1h0M246.4 1088.8h0M248.6 1084.8h0M249.8 1092.2h0M249.2 1095.5h0M243.8 1088.2h0M241.5 1093.6h0M248.9 1099h0M245 1091.9h0M247.1 1085.2h0M242.3 1096.4h0M248.5 1085.6h0M249.7 1091.5h0M250.6 1090.6h0M244.5 1098h0M247.5 1092.6h0M250 1091.2h0M250 1095.3h0M246.6 1088h0M247.4 1092.7h0M249.9 1084.3h0M242.7 1091.2h0M247.1 1097.7h0M249.1 1095.8h0M250.6 1094h0M244.7 1084.9h0M248 1086.6h0M241.3 1087.5h0M242.9 1086.2h0M246 1092.6h0M241.1 1091.4h0M243.8 1092.5h0M241.6 1085.5h0M245.4 1086.4h0M246.1 1086.7h0M249.1 1086.6h0M244.6 1098h0M250.6 1085.1h0M235.8 1088.7h0M233.8 1094.1h0M229.8 1095.1h0M238.9 1093.8h0M238.2 1095.2h0M234.1 1091.5h0M232.6 1094.8h0M228.4 1090h0M229.7 1089.6h0M231.7 1095.4h0M239.7 1090.8h0M233.2 1093.5h0M232.4 1088.8h0M239.4 1090.3h0M239.7 1091.4h0M236.7 1106.8h0M237.1 1122.5h0M244.9 1119.7h0M248.5 1107.1h0M250.6 1110.7h0M250.2 1114h0M241.6 1123.3h0M246.9 1117.3h0M236.3 1116.4h0M247.4 1117.2h0M237.4 1104.8h0M244.2 1101.7h0M248.7 1102.7h0M250.6 1110.4h0M242.4 1118.3h0M242.4 1104.6h0M248.9 1115.2h0M240.9 1122.3h0M246 1100.6h0M245.7 1117.2h0M248.2 1120.1h0M248.3 1115.6h0M250.2 1103.1h0M237.4 1116.7h0M245.6 1104.2h0M250.1 1107.7h0M243.3 1107h0M250.1 1112.6h0M249.4 1107.6h0M244.5 1118.1h0M249.3 1123.7h0M244.2 1118.7h0M239.3 1101.1h0M237.8 1116.3h0M241.2 1116.1h0M248.3 1109.7h0M247.2 1121h0M244 1111.2h0M249.9 1124.6h0M237.2 1115.2h0M236.7 1122.5h0M245.9 1102.9h0M247.3 1104.9h0M238.5 1117.2h0M250.6 1122.7h0M250.6 1116.4h0M243.1 1120h0M250.1 1120.6h0M237.3 1117.4h0M246.6 1109.3h0M238.5 1109.1h0M238.1 1111.4h0M237.5 1111.9h0M239.2 1118.2h0M237.6 1123.4h0M245.7 1115.8h0M245.4 1105h0M245.2 1113.7h0M243.2 1104.6h0M245.3 1120.9h0M241 1106.1h0M236.8 1122h0M243.7 1112h0M236 1110.8h0M248.6 1102.7h0M240.4 1111.4h0M236.8 1111.3h0M248.4 1102h0M239 1119h0M237.2 1107.9h0M243.8 1107.9h0M243.6 1118.8h0M250.6 1121.2h0M236.7 1114.2h0M246.1 1103.4h0M249.5 1103.3h0M236.8 1101.4h0M242.1 1124.9h0M244.9 1113.9h0M241 1103h0M247.1 1109.2h0M246.4 1119.6h0M242.9 1104.5h0M238.6 1122.9h0M245.2 1108.7h0M236.4 1124.9h0M242.9 1117.3h0M248.6 1113.2h0M245 1102.4h0M247.3 1107.9h0M242.2 1117.9h0M247.5 1103.8h0M244.5 1117.5h0M250.2 1118.6h0M246.3 1106.1h0M240 1120.2h0M240.7 1122.6h0M244.7 1123.9h0M249.3 1124.3h0M241.6 1119.5h0M244.8 1111.5h0M242.2 1120.1h0M239.3 1122.5h0M238.2 1113h0M240.4 1104.3h0M244.5 1101.2h0M241.9 1115.5h0M244.2 1119.9h0M237.3 1117.1h0M236.3 1108.2h0M248.7 1104h0M244.9 1103.4h0M246.1 1109.4h0M248.4 1121.8h0M250.5 1124.1h0M250.6 1110h0M240.2 1119.1h0M243.9 1108.2h0M237.5 1121.1h0M246.1 1122.3h0M242.1 1114.8h0M242.1 1109.5h0M242.6 1117.9h0M249.1 1117.8h0M236.3 1102.2h0M238.9 1123.5h0M242.1 1120.4h0M236.2 1105.6h0M245 1110.7h0M236.2 1101.4h0M249.2 1107.2h0M239.8 1118.8h0M242.2 1110.1h0M240.3 1117.7h0M243.6 1108.9h0M242.4 1105.9h0M243.6 1118.7h0M241.2 1101.4h0M239.5 1114.3h0M244.4 1109.7h0M238.7 1109.1h0M237 1121.9h0M237.4 1122.7h0M244.2 1113.8h0M245.4 1110.2h0M240.8 1122.1h0M239 1101.5h0M245 1122h0M241.8 1118.9h0M246.4 1108.1h0M249.7 1114.2h0M241.1 1104h0M249.6 1117.3h0M247.8 1111.7h0M245.6 1102.7h0M246.4 1108.2h0M238.8 1107.4h0M246.9 1106.7h0M249.7 1117.8h0M237 1110.3h0M239.8 1120.2h0M243.3 1117.9h0M236.5 1111.1h0M247.2 1105.7h0M249.2 1111.5h0M244 1120.2h0M236 1124.6h0M244 1110h0M249.1 1101.3h0M244.7 1103.7h0M241.7 1106.8h0M240.3 1111.6h0M246 1104.3h0M237.2 1115.7h0M237.6 1124.3h0M240.2 1105.6h0M243.4 1109.1h0M237.5 1122.6h0M245.4 1114.4h0M241.3 1106.4h0M249.3 1111.1h0M243.2 1119.4h0M241.4 1101.7h0M242.5 1120.4h0M245.6 1109.8h0M245.7 1101h0M237.7 1117.1h0M248.8 1110.4h0M244 1106.6h0M244.3 1108.6h0M241.2 1109.8h0M246.4 1123.1h0M241 1125h0M241.5 1111.7h0M241.5 1121.7h0M238.7 1117h0M240 1113.6h0M241.5 1122.8h0M244.5 1123.8h0M244.3 1108.5h0M246.4 1123.3h0M244.5 1120.6h0M238.1 1115.5h0M245.6 1120.8h0M240.6 1116.2h0M243.9 1119.1h0M250.6 1108h0M246.2 1119.3h0M246.4 1121h0M250.3 1109.6h0M246.1 1122.6h0M243.5 1110.9h0M249.3 1101.1h0M244.9 1120.8h0M248.1 1111.6h0M242 1100.5h0M245.1 1106.3h0M245.1 1108.9h0M242.2 1122.4h0M236.2 1102.9h0M243 1120.9h0M236.4 1111h0M236 1102.6h0M236.7 1122.4h0M243.1 1108h0M239.3 1114.3h0M245.6 1116.1h0M237.4 1124.6h0M237.5 1107.4h0M239.2 1107.2h0M248.1 1100.8h0M247.2 1106.9h0M247.9 1120.3h0M244.8 1100.6h0M245.5 1121.3h0M242.4 1115.1h0M244 1120.6h0M243.4 1108.8h0M238.8 1111.8h0M248.5 1116.8h0M236.2 1116.3h0M247.5 1110.1h0M243.6 1103.3h0M244 1117.1h0M236.3 1108.3h0M238.5 1117.6h0M243.9 1115h0M237.7 1118.1h0M247.2 1124.3h0M238.8 1121.8h0M241.7 1118h0M246.5 1117.5h0M250.2 1110.2h0M243 1111h0M238.3 1117.9h0M241 1122.4h0M238.2 1122.2h0M244.9 1103.1h0M242.6 1106h0M246.9 1105h0M246.3 1118.4h0M236.7 1103.4h0M237.2 1114.6h0M244.2 1117.9h0M248.3 1123.3h0M248.4 1116.4h0M240.4 1112.7h0M246.6 1101.5h0M245.5 1116.6h0M242.8 1112.8h0M241.6 1123h0M250.3 1103.5h0M249.4 1119h0M242.5 1124.6h0M243.4 1103.9h0M238.4 1136.3h0M235.8 1143.1h0M235 1147.3h0M246.8 1131.5h0M244.8 1130.4h0M238.8 1131.3h0M235.7 1135.8h0M248.9 1143.9h0M234 1146.3h0M239.4 1125.6h0M241.4 1142h0M249.8 1147.1h0M236 1140.7h0M232.2 1134.2h0M245.3 1134.1h0M234.5 1132.3h0M248 1137.4h0M233.1 1139.9h0M235.4 1134.9h0M238.9 1143.7h0M247.7 1135.2h0M239.5 1131.8h0M236.8 1147.5h0M243.3 1137.4h0M243 1132.7h0M246.8 1134.7h0M244.8 1137.8h0M244.2 1138.2h0M233.8 1134h0M237.2 1133.4h0M245.6 1125.3h0M240.1 1137.1h0M232.3 1141.2h0M244.6 1127.9h0M247.5 1125.9h0M249.4 1136.7h0M238.8 1144.8h0M239.2 1132.9h0M239.8 1142.7h0M249.8 1141.6h0M240.8 1142.2h0M240.4 1142.1h0M239 1138.4h0M249.8 1146.5h0M241.6 1138.1h0M241.7 1127.4h0M235.6 1146.4h0M235.8 1142.8h0M236.4 1141.4h0M245.7 1138.7h0M247 1125.7h0M235.6 1137h0M241.5 1132.1h0M234.4 1142h0M235.4 1126.6h0M238.7 1139.6h0M244.8 1142.5h0M242.2 1133.5h0M242.6 1128.4h0M235.5 1139.9h0M233.6 1140.3h0M241.4 1147.4h0M243.7 1146.2h0M244.9 1129.9h0M238.2 1139.1h0M245.4 1140.9h0M235.1 1140.6h0M248.3 1147.2h0M248.6 1135h0M237.5 1147.9h0M235.6 1129.4h0M233.7 1136.3h0M244.9 1130.5h0M242.6 1125.4h0M244.5 1134.4h0M240.1 1131h0M231.3 1129.9h0M238 1144.9h0M248.8 1131.8h0M241.3 1133.5h0M238.8 1128.2h0M246.7 1145.1h0M248.4 1143.8h0M232 1130.3h0M243.4 1128h0M238 1137.5h0M235.2 1141.4h0M238.9 1139h0M245.7 1128.2h0M246.2 1129.2h0M239.3 1142.5h0M234.9 1135.4h0M244.2 1128.2h0M241.7 1133.5h0M236.1 1133.5h0M245.5 1128.7h0M233.9 1135h0M233.9 1145.1h0M234 1130.3h0M245.8 1137.9h0M248.6 1125.7h0M246.8 1141.2h0M239.3 1134.7h0M236 1127.2h0M236.4 1145h0M246.8 1145.7h0M233.7 1146.2h0M246.8 1134.7h0M235.7 1132.2h0M241.1 1125.5h0M235 1137.7h0M243 1131h0M245.9 1129h0M239 1145.1h0M241.8 1128h0M233 1131.8h0M241.6 1141.3h0M235.7 1131.2h0M248.4 1141.6h0M242.1 1133.1h0M239.8 1130.1h0M236.8 1138.4h0M241.3 1138.9h0M233.3 1126h0M233.8 1134.5h0M242.3 1137.6h0M247.8 1139.4h0M245.7 1139h0M247.6 1127.7h0M242.2 1146.4h0M241.5 1144h0M234 1135h0M244.6 1136.1h0M248 1143.3h0M249 1136.9h0M231.4 1133.6h0M241.3 1134.8h0M235.4 1142.8h0M244.7 1125.6h0M247.2 1129.4h0M233.6 1138h0M245.7 1137h0M249.2 1130.1h0M233.8 1126.3h0M243.9 1138.7h0M248.5 1138.9h0M231.9 1129.6h0M237.7 1137.4h0M238.5 1134.1h0M236.4 1145.3h0M241.8 1140.9h0M248.3 1131.5h0M236.7 1130.9h0M244.3 1129.4h0M237.9 1140.9h0M242.3 1127.7h0M241.5 1132.8h0M231 1140.1h0M246.6 1126.1h0M232.7 1145h0M239.1 1130.1h0M236.9 1144.2h0M232.7 1147h0M232.1 1145.8h0M249.5 1138.8h0M248.4 1141.6h0M249.1 1133.1h0M236.2 1145.8h0M248.4 1142.7h0M238.4 1129.9h0M241.9 1142.7h0M239.2 1146.1h0M234.2 1135.3h0M247.6 1131.3h0M248 1131h0M241.8 1143.5h0M231 1131.9h0M246.7 1127.7h0M249.3 1147h0M248.8 1131.4h0M238 1135.1h0M246.6 1145.9h0M236.4 1140.6h0M234.5 1127.5h0M234.6 1131.1h0M237 1138.1h0M247.7 1130h0M231.1 1133.5h0M241.5 1125.2h0M241.6 1125.7h0M239.9 1125.6h0M241.3 1139.2h0M246.9 1130h0M246.5 1147.4h0M249.5 1146.4h0M241.3 1133.5h0M245.9 1134.5h0M235.3 1128.9h0M241.3 1135.4h0M237.4 1147.8h0M238.4 1125.1h0M232.8 1145.2h0M242.4 1136.9h0M237.2 1144.3h0M249.1 1139h0M241.7 1147.4h0M243.4 1132.8h0M243.9 1141.8h0M238.3 1140.5h0M237.7 1141.5h0M232.9 1130.3h0M234.2 1137.7h0M236.7 1131.5h0M238.9 1133.6h0M241 1147.4h0M238.6 1137.6h0M246.5 1137.6h0M240.7 1137h0M234.5 1133.1h0M232.7 1129.9h0M231.8 1131.5h0M241.9 1134.6h0M245.4 1127.6h0M242.9 1135.4h0M246.1 1134.9h0M233.3 1140.6h0M236 1137.6h0M238 1142.2h0M231.6 1130.2h0M233.3 1147.7h0M248.7 1130.8h0M238.8 1126.2h0M243.9 1135h0M249.5 1143h0M232.6 1132.3h0M231.1 1130h0M242.8 1131.2h0M232.9 1145.6h0M247.9 1131.2h0M238.6 1138.5h0M232.1 1126.7h0M242.7 1130h0M240.6 1126.3h0M231 1143.8h0M238.9 1131.6h0M245 1139h0M239.2 1140.6h0M242.9 1132.8h0M248.7 1135.6h0M242.1 1137.2h0M240.2 1140.3h0M243.6 1136.3h0M250 1138.8h0M240.4 1132h0M246.5 1147.4h0M236.8 1137.7h0M238.9 1129.1h0M239.2 1134.8h0M240.1 1130.9h0M232.9 1138.2h0M244.5 1140.2h0M235.7 1129.5h0M238.8 1148.7h0M237.5 1160.2h0M241.9 1158.6h0M229.2 1148.8h0M249.3 1157.1h0M238.3 1160.7h0M231 1152.7h0M245.6 1159.6h0M230 1155.1h0M244.3 1153h0M237.2 1161.9h0M237 1164h0M232.7 1148.4h0M244.2 1164h0M234.6 1149.6h0M239.1 1155.1h0M249.2 1148.5h0M234.1 1157.6h0M241.1 1148.6h0M244.5 1164.8h0M248.1 1163.5h0M229.3 1160h0M241.4 1153.6h0M233 1155.5h0M247.9 1149.2h0M234.9 1160h0M248.1 1156.5h0M242.5 1150.6h0M248.8 1152.2h0M249.8 1162.4h0M239.7 1154.9h0M236.1 1153.8h0M250.3 1165.2h0M248.9 1165.9h0M243.2 1156.8h0M237.9 1164.3h0M246.3 1164.5h0M236.3 1153.1h0M231.8 1160.4h0M232.5 1152.6h0M248.9 1149.9h0M246.9 1166h0M245.2 1157.1h0M238.2 1160.4h0M230.9 1157.4h0M235.9 1152.4h0M243.2 1154.4h0M233.5 1152.3h0M246 1163.7h0M245.9 1164.8h0M239.2 1151.5h0M246.5 1163h0M239.1 1152.1h0M228.3 1158.6h0M245.1 1152.4h0M238.3 1160h0M240.1 1158.3h0M230 1154.2h0M245.8 1161.4h0M245.7 1155.8h0M243.9 1162.9h0M250.2 1162.5h0M249.7 1148.7h0M245.9 1156.1h0M230.3 1161.3h0M230.1 1158.6h0M235.8 1161.2h0M234.3 1154.8h0M242.7 1162.6h0M245 1153.4h0M246.4 1151.3h0M245.6 1158.9h0M250.6 1159.1h0M238.7 1160.5h0M241 1158.6h0M235 1153.1h0M246.8 1162.4h0M243.8 1165.4h0M237.1 1157.1h0M242.9 1160.7h0M245.2 1165h0M234.4 1154.9h0M245.9 1148.8h0M237.1 1155.7h0M239.4 1149h0M234.4 1164.2h0M245.5 1161.4h0M241.7 1159.9h0M243.5 1152.5h0M250.2 1158.5h0M236.2 1157.3h0M242.4 1164.3h0M242.9 1154.1h0M232.3 1150.7h0M238.7 1163.9h0M232.9 1162.4h0M233.5 1156.5h0M241.7 1162.4h0M236.8 1155.1h0M232.8 1151.8h0M235.2 1160.4h0M236.9 1149.9h0M250.6 1156.2h0M237.3 1154.9h0M244.6 1165.5h0M237.2 1156.3h0M231.5 1152.1h0M242.7 1156.5h0M239 1149.9h0M241.8 1151.1h0M243.3 1154.2h0M237.3 1162.1h0M229.8 1154.9h0M242.3 1151.8h0M231.2 1162.5h0M249 1165.6h0M240.4 1154.6h0M235.6 1160.1h0M244.6 1154.6h0M238 1156.7h0M230.7 1158.1h0M234.8 1156.5h0M240.1 1151h0M240.1 1160.6h0M243.4 1157h0M250.6 1155.6h0M228.2 1151.9h0M244 1158.2h0M237.2 1154.9h0M233.6 1154.2h0M247.9 1162.3h0M241 1153h0M231 1156.3h0M240.2 1161.2h0M248.9 1165.8h0M234 1164.3h0M246.6 1150h0M243.8 1149.9h0M244.2 1151.2h0M230 1149h0M239.9 1163.6h0M250.4 1156.1h0M233.2 1162.1h0M236.9 1160.7h0M235.2 1156.4h0M235 1152.1h0M232.3 1152.9h0M236.7 1163.7h0M246.7 1158.1h0M231.6 1160.2h0M249.4 1165.2h0M235.6 1163.1h0M242.8 1162.9h0M236.7 1148.6h0M240.5 1160.6h0M246.2 1165.1h0M250.5 1163.1h0M248.9 1154.2h0M246.4 1148h0M239.5 1149.6h0M229.7 1155.9h0M246.1 1159.5h0M233.6 1152h0M240.2 1161.9h0M235.1 1148.3h0M234.3 1165h0M238.4 1153.2h0M246.6 1164h0M243.3 1154.9h0M229.5 1148.5h0M242.6 1154.7h0M229 1150.5h0M232.3 1163.4h0M230 1149h0M234.6 1149.4h0M243.1 1158.4h0M239.9 1153.1h0M241.3 1154h0M242.4 1150h0M249.2 1148h0M240.8 1151.8h0M238.2 1151.4h0M242.7 1152.8h0M247.4 1162h0M238.5 1165.5h0M236.1 1157.9h0M239.7 1153.2h0M229.3 1165.5h0M235.4 1161.5h0M234.1 1158.8h0M239.4 1160.9h0M238.3 1153.6h0M230.3 1148.1h0M229.9 1164.3h0M243.4 1155.2h0M249.4 1148.7h0M250.1 1151.7h0M241.5 1155.8h0M230 1158.9h0M245.2 1157.1h0M244.9 1162.2h0M230.9 1160.2h0M239.7 1155.4h0M245.6 1148.7h0M241 1149.8h0M231.7 1152.8h0M242.3 1165.1h0M241.9 1161.2h0M248.1 1158.2h0M236.7 1149.1h0M241.7 1151.9h0M249.2 1155.1h0M234.2 1152.2h0M244.6 1164.5h0M236.6 1155.7h0M231.4 1161.2h0M233.2 1161h0M229.7 1162.5h0M247.8 1164.5h0M231.7 1148.4h0M246.8 1164.5h0M246.4 1153.3h0M233.7 1158.4h0M237.5 1160.4h0M247.6 1150.6h0M233.6 1160.9h0M243.7 1155.7h0M233.9 1154.7h0M249.9 1157.5h0M233.8 1149.7h0M250.6 1156.7h0M228.2 1165.9h0M231.2 1159.6h0M231.1 1151.7h0M250.6 1157h0M236.4 1165.4h0M243.8 1164.2h0M248.7 1149.3h0M250.5 1152.9h0M248.7 1150.4h0M239.9 1157.2h0M239.2 1151.3h0M240.8 1161.7h0M240.3 1165.6h0M231.1 1164.3h0M241.8 1161.3h0M235.7 1163.9h0M246.7 1156.3h0M236.5 1152.6h0M242.9 1163.2h0M228.4 1156.8h0M237.5 1161.7h0M236.9 1152.3h0M247.3 1150.5h0M250.2 1162.4h0M231.7 1160.1h0M250.6 1155.6h0M235.9 1148h0M231.9 1150.7h0M242.2 1153h0M247.9 1149.2h0M232 1155.7h0M240.1 1149.8h0M239.5 1154.3h0M236.2 1149.9h0M229.9 1157.1h0M247.3 1157h0M231 1158.6h0M229.9 1159.4h0M228.2 1150.6h0M232.1 1157.5h0M230.8 1153h0M231.3 1164.1h0M246.5 1160.1h0M241.4 1156.1h0M245.6 1170h0M227.9 1180.6h0M229.4 1181.1h0M230.4 1174.4h0M241.7 1174.5h0M233.8 1182h0M236.8 1161.6h0M239.2 1187.4h0M244.4 1178.6h0M248.8 1179.1h0M243.7 1188.6h0M229.4 1184.2h0M243.1 1167.9h0M246.7 1177.4h0M234 1183.2h0M241.8 1165.1h0M237.9 1163.3h0M235.6 1168.3h0M241.2 1179.6h0M227.5 1178.5h0M242.9 1186.8h0M240.7 1187.2h0M247.3 1179.4h0M241.2 1182.4h0M226.6 1161.2h0M246.3 1181.5h0M231.1 1171.6h0M246.2 1173.2h0M229.1 1182.7h0M231 1166h0M232 1182.4h0M235.9 1186.7h0M236 1165.8h0M247.1 1164.2h0M236 1160.7h0M226.9 1171.4h0M249.7 1166.7h0M236.1 1185.8h0M247.8 1186.2h0M243.4 1185.7h0M238.3 1177h0M240.4 1181.5h0M230.3 1189.2h0M244.1 1187h0M246.4 1173.3h0M235.4 1168.6h0M249.3 1177.3h0M246.3 1167.3h0M248.1 1179.7h0M241.9 1169h0M247.2 1186.7h0M246.2 1180.9h0M239.3 1179h0M238.4 1165.8h0M248.7 1189.3h0M233.3 1161.3h0M246.2 1167.2h0M244.4 1165.5h0M234.2 1165.9h0M229 1189.2h0M232.6 1177.5h0M227.6 1182.7h0M232.2 1180.3h0M233.9 1188.7h0M226.7 1180.1h0M241.2 1188.2h0M243.8 1187.4h0M243.8 1161.8h0M230.8 1171.4h0M241.9 1186.7h0M227.7 1170.5h0M227.4 1179.5h0M227.2 1167.2h0M243.9 1165.2h0M249.7 1168h0M245.2 1168.4h0M241.4 1182.1h0M229.4 1178.1h0M248.1 1184.9h0M230.5 1175.9h0M232.1 1162.6h0M233.6 1189.2h0M238.6 1168.4h0M245 1161h0M233.4 1183.4h0M247.6 1160.9h0M244.3 1184.3h0M248.9 1166.3h0M226.8 1179.2h0M242.8 1189.4h0M247.4 1165.5h0M241.3 1177.9h0M231.1 1160.8h0M226.3 1183.8h0M227.7 1165.8h0M229.3 1177.5h0M236.8 1183.5h0M247.9 1183.5h0M230.6 1189.2h0M245.1 1170.9h0M248.5 1170h0M241 1170.1h0M243.4 1167.7h0M236.1 1168.5h0M245.9 1181.7h0M230.2 1164.2h0M244.4 1166.4h0M243.2 1180.2h0M231.6 1184.2h0M226.1 1174.9h0M240.4 1170.6h0M245.1 1167.8h0M236.6 1166.4h0M231.3 1180.5h0M235.6 1179.9h0M228.5 1161.5h0M245.7 1179.6h0M246.7 1180.4h0M244.7 1180h0M240.3 1185.1h0M229.9 1175.9h0M228.1 1167.1h0M235.4 1163.3h0M239.5 1168.8h0M232.5 1184.8h0M246 1186.8h0M240.2 1165.8h0M227.6 1165.9h0M230.9 1166.6h0M226.6 1160.2h0M246.8 1184.2h0M227.8 1185.9h0M246.6 1160.7h0M234.3 1171.2h0M238.7 1181h0M229.6 1169.9h0M243.1 1163.4h0M226.9 1187.2h0M238.6 1166.7h0M237.7 1168h0M232.3 1175.1h0M236.1 1163.5h0M229.3 1184.3h0M245.5 1176.1h0M234.3 1177.1h0M244.8 1187.8h0M233.2 1189.9h0M236.8 1174.5h0M240.9 1185.2h0M238.4 1176.5h0M234.5 1186.7h0M230.2 1163.9h0M228.3 1167.3h0M239.3 1189.3h0M236.9 1183.9h0M231.4 1175.6h0M236.1 1186.7h0M243.8 1172.2h0M249.9 1186.1h0M236.2 1174.4h0M236.2 1184.8h0M237.5 1166.1h0M232.2 1169.2h0M234.4 1183.2h0M233.3 1178.8h0M244.7 1163.4h0M242.9 1183.2h0M230.2 1178.3h0M246 1175h0M240.2 1183.5h0M230.1 1178.9h0M246.3 1161.7h0M232.1 1160.5h0M242.8 1172h0M246.8 1180.9h0M232.5 1187.9h0M228.9 1167.5h0M228.5 1169.9h0M239.8 1188.8h0M227.4 1174.7h0M231.9 1187.4h0M230.9 1183.1h0M229.3 1168.1h0M232.8 1176h0M243.2 1177.1h0M229.2 1166.8h0M235.6 1175.5h0M234.8 1173.4h0M228.9 1164.9h0M241.2 1181.8h0M241.3 1180.6h0M230.7 1175.4h0M238.8 1187.4h0M232.3 1173.7h0M249.5 1171.3h0M245.3 1172.2h0M240.4 1163.7h0M231.6 1168.2h0M235.5 1169.1h0M235.8 1179.3h0M229.7 1185.8h0M236.5 1185.7h0M235.5 1183.8h0M247.5 1167.7h0M243.3 1179.1h0M243.1 1175.7h0M243.8 1188.7h0M234.4 1189.1h0M247.2 1168.9h0M247.3 1185h0M235.9 1173.1h0M230.9 1188.4h0M230.1 1165h0M236 1169.1h0M237 1171.5h0M234.2 1161.1h0M227.3 1175.2h0M247.7 1174.4h0M248.7 1179.6h0M237.9 1185.8h0M227.4 1160.6h0M246.2 1177.3h0M229.2 1170h0M238.9 1182.8h0M229.1 1174h0M239.8 1176.6h0M247.7 1181.3h0M245.9 1162.3h0M236 1169.6h0M245.4 1170.3h0M227.7 1173.2h0M229.6 1174.2h0M227.2 1160.5h0M236.8 1171.4h0M229.3 1160h0M239.1 1187.1h0M239 1189.4h0M242.6 1188.6h0M227.2 1171.6h0M245 1164.4h0M233.1 1179.9h0M241.4 1164.9h0M232 1187.9h0M238.8 1189.9h0M230.4 1166.2h0M248.3 1181.3h0M231.7 1166.1h0M231 1164.3h0M236 1166.8h0M241.9 1167.1h0M232.4 1167.2h0M230.1 1172.6h0M228.2 1161.5h0M242.2 1160.1h0M237.5 1161.5h0M240.7 1186.7h0M235.7 1169.2h0M233.7 1172.8h0M229.8 1161.6h0M231 1164.3h0M228.5 1169.9h0M230.8 1178.5h0M242.6 1175.3h0M243.8 1174.9h0M236.7 1183.4h0M227 1166.4h0M234.8 1180.8h0M228 1168.7h0M247.4 1165.4h0M246.3 1174.2h0M232 1185.3h0M247.3 1166.8h0M240.4 1167.1h0M237.2 1188.1h0M249 1172.7h0M248.2 1185.9h0M231.4 1181.2h0M226.5 1161.4h0M239 1187.7h0M249 1186.5h0M249.3 1167.1h0M230.3 1168.2h0M249.9 1168.2h0M234.5 1188.2h0M245.8 1174.5h0M247.5 1184.1h0M231.6 1170.9h0M248.4 1175.4h0M246.9 1178.4h0M238.2 1165.9h0M239.7 1187.5h0M245.4 1183.8h0M242.5 1173.3h0M236.5 1180.8h0M245.4 1175.6h0M249.7 1186.4h0M242.2 1171h0M246.4 1176.5h0M237.2 1167.2h0M245.3 1167.7h0M226.2 1181.3h0M229.4 1163.3h0M244.6 1177.7h0M227.9 1170.3h0M240.7 1177.6h0M232.5 1172.9h0M231.6 1170.4h0M235.2 1184.4h0M239.2 1181.4h0M232.7 1166.9h0M246.7 1180.1h0M229.7 1187.5h0M228.4 1167.8h0M235.3 1165.7h0M248 1181.5h0M229.5 1177.7h0M229.4 1171.3h0M239.8 1168.4h0M230.1 1175.1h0M247.5 1168.3h0M240.4 1178.9h0M233.2 1169.7h0M226.4 1182.8h0M248.9 1179.6h0M227.2 1179.1h0M244.8 1161h0M236.1 1165.6h0M242.2 1179.5h0M242.4 1168.6h0M237.2 1187.4h0M242.5 1171.9h0M242.5 1186.2h0M244.8 1187.8h0M232 1188.7h0M231 1180.2h0M234.2 1163.5h0M233.1 1188.4h0M248.2 1169.3h0M244.2 1189.5h0M245.8 1170.6h0M226.2 1162h0M234 1161.9h0M246.6 1167.2h0M246.4 1173.4h0M234.9 1174.6h0M227.1 1170.2h0M248.8 1173.6h0M248.4 1189.1h0M236.6 1162.9h0M229.7 1185h0M230.9 1162h0M243.8 1162.5h0M249.7 1181.4h0M242.9 1161.5h0M230.3 1183.8h0M249.5 1162.4h0M227.7 1183.7h0M241.8 1165.6h0M236.5 1165.1h0M228.2 1164.5h0M239 1174.5h0M226.1 1185.4h0M227.7 1170.6h0M230 1176.6h0M249.3 1169.9h0M242 1179.5h0M230.8 1178.2h0M249.3 1180.5h0M246.1 1162.7h0M230.8 1170.3h0M246.4 1179.7h0M230.7 1165h0M230.9 1175h0M249.8 1175.2h0M236.3 1160.8h0M230 1166.1h0M248.7 1177.7h0M239.4 1174.1h0M246.6 1181h0M234 1189h0M248 1165.3h0M247.2 1178.2h0M244.9 1164.4h0M229.2 1163.5h0M234.7 1163.6h0M241.8 1172.5h0M236.3 1188.1h0M235.9 1177.4h0M232.4 1171.5h0M232.1 1160.2h0M245.2 1181.7h0M236.6 1180.6h0M230.5 1172.3h0M249.9 1167.3h0M235.7 1177.6h0M237.8 1176.1h0M236 1168.8h0M247.6 1172.9h0M232.9 1186.7h0M231.3 1173.7h0M229.3 1188.6h0M226.3 1174.4h0M237 1173.8h0M229.6 1160.4h0M237.4 1175h0M227.3 1169.1h0M234.3 1169.7h0M240.4 1163.1h0M238.8 1166.6h0M226.3 1181.3h0M241.3 1174.9h0M242.6 1186.8h0M241.9 1185.1h0M245.5 1166.7h0M237.7 1182.7h0M227.2 1187.8h0M234.6 1187.2h0M245.1 1176.3h0M237.9 1165h0M226.9 1160.5h0M231.3 1188.7h0M228.9 1172.8h0M238.2 1188h0M232.5 1185.7h0M231.9 1173.9h0M243 1177.7h0M240 1177.2h0M248.9 1169.3h0M230 1160.6h0M249.4 1180h0M231.9 1185.4h0M237 1188.3h0M241.5 1177.1h0M247.1 1178.5h0M233.6 1187h0M233.6 1186.8h0M229.8 1180.5h0M233.2 1179.1h0M242 1189.8h0M249.1 1171.6h0M243.9 1163.5h0M226.4 1179.5h0M228.8 1173.8h0M228.4 1190h0M239 1179.1h0M248.4 1163.8h0M240.8 1177.2h0M229.7 1167.9h0M226.8 1169.8h0M237.9 1166h0M248.2 1223.2h0M239.3 1212.2h0M247 1229h0M239.3 1219.8h0M241.8 1211.5h0M248.8 1222.7h0M241.4 1216.6h0M239.3 1238.8h0M250.6 1207.7h0M241.1 1246.2h0M243.4 1218.5h0M248.6 1215.3h0M247.4 1244.9h0M249.4 1223.6h0M238.9 1247.2h0M238.8 1235.4h0M248.7 1249.4h0M247.9 1224h0M237 1218.9h0M237.2 1228.6h0M249.6 1226.1h0M240.3 1231.4h0M244.9 1215.3h0M250.5 1228.4h0M243.5 1213.5h0M242 1225.7h0M242.1 1214.2h0M239.1 1229.9h0M244.4 1220.1h0M243.7 1247.4h0M236.6 1221.2h0M241.5 1228.8h0M243.6 1211.1h0M241.6 1233.1h0M246.1 1238.3h0M236.8 1208.8h0M245.7 1229.1h0M239.7 1230.5h0M247.5 1221.2h0M244.5 1223.5h0M246.1 1216.1h0M236 1227.1h0M248.8 1239.2h0M250.6 1249.4h0M243.5 1236.9h0M247.3 1217.7h0M241.2 1224.4h0M245.7 1211.1h0M248.3 1237.3h0M239.3 1212.7h0M238.1 1234h0M250.6 1245h0M240.2 1233.8h0M248.3 1230.7h0M246.4 1221.2h0M250.5 1232.5h0M246.7 1240.1h0M250.2 1230h0M247 1232.5h0M237.7 1219.7h0M239.6 1230.5h0M239.5 1248.7h0M241.3 1245.4h0M245.2 1214.4h0M250.6 1220.2h0M237.6 1233.2h0M237.8 1219.6h0M244.4 1227.7h0M246.8 1219.9h0M249.1 1225.6h0M240.1 1235.9h0M236.5 1242.5h0M236.5 1216.4h0M244.6 1247.9h0M250.6 1243h0M250.4 1210h0M247.2 1206.9h0M242.2 1240.9h0M248.3 1245.2h0M240.5 1227.9h0M237.2 1213h0M244.4 1229.8h0M244.5 1214.3h0M240.8 1209.5h0M238.4 1235.4h0M238.1 1229h0M239.4 1244.8h0M250.6 1247h0M240.5 1248.4h0M237.1 1236h0M247.1 1248.8h0M238.2 1207.6h0M241.6 1210.6h0M248.6 1247.2h0M249 1220.3h0M244.7 1206.5h0M237.2 1223.1h0M246.5 1246.5h0M246.2 1249.8h0M238 1233.3h0M250.3 1227h0M246.2 1230.6h0M241.7 1226.2h0M239.5 1206.5h0M237.5 1214.2h0M248.1 1208.4h0M247.2 1249.8h0M239.4 1242.5h0M242.1 1243.4h0M239.8 1243.6h0M244.4 1219.2h0M240.1 1215.8h0M248.6 1238h0M246.5 1249.3h0M243.5 1221.4h0M245.5 1231.8h0M245.1 1246.4h0M243.6 1248.3h0M236.5 1225.6h0M243.7 1220.3h0M243 1206.5h0M240.3 1211.1h0M250.6 1244.9h0M245.4 1211h0M236.9 1227.4h0M244.5 1219.1h0M245.1 1224.7h0M245.8 1208.9h0M239 1232.9h0M250.6 1230.9h0M245.9 1245.2h0M248 1228.9h0M247.3 1226h0M244.9 1222.4h0M245.4 1238.3h0M242.1 1232.5h0M246.5 1221.4h0M243.1 1225.6h0M240.7 1222.7h0M250 1233.5h0M246.4 1214.6h0M246.2 1229.4h0M242.4 1235.2h0M241.8 1206.5h0M246.1 1228.9h0M246.5 1246.8h0M241.6 1234.7h0M238.1 1241h0M243.8 1244.9h0M247.1 1226h0M250.6 1229.9h0M237 1211.3h0M239.6 1232.2h0M250.6 1216h0M240.7 1229.3h0M239.6 1222h0M238.2 1217.1h0M247.8 1249h0M237.7 1221.8h0M250.2 1248.9h0M249.9 1210.2h0M250.6 1230.3h0M243 1225.4h0M245.2 1206.4h0M250.1 1216.5h0M250.1 1215.8h0M248.9 1220.7h0M250.6 1237.4h0M241.8 1231.3h0M239.8 1217.6h0M240.8 1210.5h0M249.2 1220h0M244 1206.3h0M238.5 1228.3h0M239.3 1236.5h0M238.7 1238.7h0M241 1244.7h0M238.4 1210.2h0M238.1 1215h0M250.6 1219.8h0M242.3 1222.5h0M237.2 1239.1h0M249.9 1209.9h0M238.8 1220.4h0M247.9 1214.1h0M242.4 1249h0M243.4 1237.3h0M241 1215h0M240 1220.9h0M237.5 1240.9h0M247.8 1223h0M250.6 1207.5h0M246.4 1233.1h0M239.3 1214.5h0M250.6 1243.1h0M249.1 1206.7h0M237.2 1214.8h0M237.5 1232.3h0M249.5 1243h0M238.3 1218.6h0M248 1228.6h0M247.3 1207.7h0M242 1211.4h0M237.3 1213.3h0M240.8 1229.5h0M250.5 1246.1h0M244.2 1238h0M241.3 1234.5h0M244.8 1226.6h0M243.1 1224.5h0M250.6 1243.5h0M249.7 1238.4h0M237.2 1219.4h0M244 1215.8h0M247.7 1239.6h0M248.5 1246.3h0M236.9 1219.1h0M241.3 1227.2h0M250.5 1244.3h0M248.4 1229.7h0M244.3 1238h0M250.6 1225.4h0M245.1 1241.1h0M238.4 1249.4h0M244.8 1239.9h0M238 1220.1h0M249.9 1231.6h0M250.4 1213.7h0M239.1 1249.4h0M243.8 1230.3h0M237.9 1220.8h0M250.6 1217.8h0M250.6 1243h0M244 1227.9h0M242.8 1208.7h0M250.6 1231.6h0M246.5 1208.8h0M250.6 1208.1h0M247.1 1214.9h0M239.3 1233.9h0M242.8 1226.3h0M242.3 1213.9h0M247.3 1208.8h0M244.7 1248.7h0M244.2 1223.6h0M247.8 1212.3h0M237.7 1236.4h0M238 1222.6h0M236.2 1236.8h0M237 1244.3h0M239.1 1242.8h0M247.4 1229.3h0M250 1247.3h0M247.5 1212.7h0M238.7 1224.9h0M250.6 1226.3h0M247.2 1206.9h0M250.1 1229.9h0M240 1226.9h0M237.7 1243.4h0M240.7 1236.3h0M238.7 1208.4h0M238.5 1243.4h0M238.4 1246.4h0M236.8 1246.8h0M244.5 1235h0M250.6 1232.3h0M250.6 1216h0M248.9 1231.1h0M250.6 1217h0M243.5 1237.7h0M250.1 1215.6h0M250.6 1230.6h0M248 1244.9h0M238.7 1237.8h0M247.4 1242.5h0M237.1 1210.3h0M239.5 1210.5h0M248.3 1239.6h0M241.9 1236.6h0M238.4 1247.3h0M243.1 1216h0M247.8 1217.5h0M247.9 1242.7h0M245.3 1220.2h0M244.8 1219.9h0M238.4 1229.4h0M249 1243.2h0M237.5 1240.2h0M248 1216.3h0M245.9 1241.5h0M242.8 1247.1h0M243.6 1216h0M242.1 1219.3h0M241.2 1240.4h0M245.5 1237.4h0M244.2 1207h0M246.4 1244.2h0M246.2 1243.5h0M236.6 1249.8h0M239.2 1224.7h0M240.7 1239.3h0M246.5 1235.3h0M245.8 1206.8h0M240 1220.5h0M246.1 1234.4h0M247.4 1215.4h0M236.9 1209.3h0M250.6 1245.1h0M250.6 1247.7h0M245.1 1238.6h0M244.6 1229.3h0M250.6 1247.5h0M239.2 1225.2h0M242.8 1229.7h0M250.6 1241.6h0M237.3 1233.3h0M238.1 1229.5h0M249.1 1229.6h0M243.5 1235.6h0M250.6 1213h0M243.8 1244.3h0M246.8 1208.3h0M242.4 1223.6h0M240.4 1222.6h0M246.4 1212.2h0M242.9 1228.8h0M244 1239h0M240.3 1213.1h0M246.7 1230.6h0M247.9 1233.9h0M248.3 1221.7h0M240.1 1231.7h0M246 1211.5h0M250.6 1243.3h0M249.2 1241.9h0M239.9 1232h0M249.8 1219h0M243.7 1218h0M236.3 1230.2h0M239.2 1210.9h0M248.6 1241h0M238.6 1209.8h0M238.7 1249.4h0M245.4 1241.2h0M247.8 1244.4h0M248.3 1210.3h0M236.7 1237.5h0M240.7 1247.5h0M244.4 1226.4h0M245.1 1230.4h0M249.7 1208.9h0M237.6 1229h0M239 1228.1h0M247.5 1225h0M238.6 1239.2h0M250.6 1218.7h0M239 1233.7h0M240 1232.8h0M246.5 1209.3h0M238.2 1210.9h0M250.6 1235.8h0M248 1209h0M236.9 1212.3h0M236.3 1206.7h0M250.5 1238.2h0M238.4 1206.6h0M242.5 1208.1h0M239.1 1220.2h0M237.7 1241.9h0M238.3 1233.8h0M238.1 1234.8h0M250.6 1214.7h0M243.2 1217.7h0M250.6 1235.1h0M237.9 1230.2h0M246.9 1235.4h0M242.2 1231.7h0M237 1242.1h0M244.7 1230h0M248.5 1246.4h0M242.1 1216.5h0M242.1 1232.2h0M250.6 1208.8h0M238.2 1226h0M236.2 1212.7h0M238.2 1246.1h0M250.6 1230.8h0M245.5 1239.8h0M246.8 1218.5h0M239.3 1241.5h0M242.6 1216.1h0M250.2 1232.3h0M240.3 1232h0M238.4 1237.9h0M236.2 1210.7h0M245.3 1231.4h0M244.9 1226.4h0M239.4 1214.3h0M242.5 1231.7h0M250.6 1228h0M247.9 1226.6h0M243.8 1208.7h0M239.2 1208.4h0M242.1 1214.3h0M250.6 1213h0M240.9 1219.2h0M241.9 1209.1h0M244.7 1240.5h0M245.9 1245.3h0M242.8 1234.3h0M243.2 1242.8h0M239.6 1212.1h0M236.9 1241.1h0M246 1213.9h0M243.5 1236h0M242.7 1234.7h0M236.6 1231.9h0M250.6 1224.1h0M241.5 1231.3h0M250.6 1233.4h0M242.7 1226.5h0M249.6 1242.1h0M246.7 1215.9h0M241.7 1219.1h0M241.8 1241.3h0M243.8 1246.2h0M238.1 1244.2h0M236.5 1223.8h0M250.2 1243.8h0M243.4 1227.4h0M242.2 1248.7h0M238.2 1219.5h0M248.8 1246.4h0M247.7 1229.2h0M246.7 1242.8h0M246.4 1210.8h0M243.6 1244.4h0M246.3 1224.8h0M239.6 1214.4h0M250.6 1235.9h0M246.6 1211h0M236.6 1228.1h0M240.9 1213.1h0M238.1 1236.5h0M245.9 1222.4h0M250.6 1239.2h0M239.1 1242.9h0M245.7 1230.6h0M245.6 1230.3h0M239.8 1222.8h0M250 1235.4h0M246.5 1236h0M240.1 1248.1h0M249.2 1231.3h0M236 1234.7h0M249.1 1228.5h0M242.3 1214.9h0M243.3 1249.2h0M245.6 1229.9h0M243.3 1243.4h0M247.3 1245.5h0M245.8 1223.7h0M236.8 1219.2h0M236.7 1227.4h0M249.5 1219.2h0M239.2 1248.7h0M241.7 1213.3h0M238.3 1225.8h0M238.5 1241.5h0M240.4 1229.7h0M237.9 1234.5h0M249.6 1227.7h0M239.1 1206.7h0M249.4 1209.2h0M232.4 1235.1h0M231.7 1242h0M237.3 1229.7h0M230.7 1233h0M231.8 1216.4h0M239 1243.4h0M230.5 1224h0M232 1234h0M239.2 1241.8h0M237.8 1238.5h0M238.3 1238.4h0M237.2 1226.4h0M236.9 1215.4h0M239.8 1228.3h0M234.5 1238.6h0M235.9 1236.2h0M230.1 1233.5h0M232.6 1221.7h0M239.2 1236.1h0M237.6 1233.9h0M231.5 1234.1h0M235.8 1222.7h0M234.2 1237.6h0M233.3 1235.8h0M231.7 1224.4h0M235.8 1227.4h0M239.3 1218.3h0M237.3 1215.3h0M239.4 1225.4h0M230.3 1223.6h0M233.8 1235.7h0M236.7 1239.5h0M236.6 1228.2h0M233.3 1235.4h0M236.5 1220.8h0M230.5 1232.1h0M234.3 1219.9h0M235.2 1217.7h0M233 1226.9h0M237.4 1237.5h0M236 1217h0M236.1 1244.8h0M232.3 1244.5h0M233.3 1221.6h0M231.6 1222h0M235 1222.6h0M237.7 1239.3h0M237.7 1216.2h0M232.7 1234.1h0M238.6 1215.2h0M232.5 1219h0M238 1224.1h0M239.2 1243.4h0M238.5 1240.5h0M230.6 1229.2h0M231.4 1222h0M231.3 1218.5h0M230.5 1224.6h0M238.6 1223.9h0M235.1 1222.3h0M230.2 1240.5h0M235.4 1236.8h0M250.6 1250.4h0M241.2 1259.5h0M246.9 1261.5h0M242.5 1257.6h0M248.5 1250.4h0M242.2 1258.6h0M246.9 1250.4h0M244.1 1253.7h0M246.8 1260.4h0M248.4 1251.4h0M246.8 1258.6h0M245.7 1261.4h0M240.7 1257.8h0M243.6 1253.6h0M246.1 1255.2h0M248.3 1251.4h0M243 1250.7h0M240.3 1257h0M249.7 1253.9h0M244.5 1258.8h0M249 1252h0M241 1260.4h0M246.6 1255h0M242.4 1258.3h0M247.3 1259.9h0M250.6 1259.6h0M248 1258.2h0M243.3 1253.6h0M249.7 1254.5h0M243.3 1257.2h0M246.2 1260.8h0M247.8 1261.7h0M244.1 1258.8h0M245.8 1261.9h0M244.8 1258.1h0M242.1 1256.3h0M245 1254.4h0M241.9 1258.9h0M247.7 1252.4h0M250.6 1255.7h0M245.3 1250.2h0M249.1 1260h0M246.2 1254.2h0M240.1 1254.8h0M242.7 1251h0M242.3 1260.5h0M246.7 1253.4h0M247.8 1258.4h0M244.1 1253.7h0M249.5 1250.2h0M243.5 1254.5h0M245.9 1252.5h0M243.9 1251.8h0M242.3 1251.3h0M243.9 1256.3h0M250.5 1251.3h0M245 1250.7h0M240.7 1253.5h0M245.3 1253.5h0M243.1 1258.3h0M250.6 1254.6h0M245.3 1257.6h0M249.4 1252.5h0M242.9 1261.2h0M244.5 1260.2h0M240.3 1255.7h0M242.9 1252.9h0M249.9 1252.4h0M243.8 1261.4h0M243.6 1259.6h0M242.3 1257h0M246.2 1260.9h0M249.5 1257.1h0M245.9 1256.3h0M245.7 1258.5h0M243.6 1256.9h0M242.7 1251.8h0M247.1 1261.7h0M242.2 1250.2h0M246.1 1257h0M250.6 1261.9h0M249.7 1250.9h0M249 1261.8h0M244.6 1261.4h0M248.2 1257.5h0M248.6 1259.6h0M244 1259.8h0M247.2 1259.5h0M243.9 1261.5h0M250.3 1257.4h0M248.4 1259.1h0M241.9 1251.7h0M247.8 1253.8h0M247.9 1250.4h0M242.3 1251.4h0M246.6 1253.3h0M250.6 1258.6h0M241 1252.7h0M247.1 1260.3h0M248.6 1261h0M244.3 1251.6h0M245.4 1252.6h0M250.3 1253.4h0M242.3 1260.8h0M250.6 1262h0M250.5 1254.6h0M248.8 1261.4h0M247.6 1254.4h0M244.1 1259.2h0M241.1 1255.7h0M249.5 1251.9h0M248.4 1253.7h0M248.5 1255.2h0M241 1253.4h0M243.1 1258h0M245.6 1252.5h0M250.6 1256h0M245.2 1258.4h0M247.2 1255.3h0M243.6 1251.6h0M250.6 1257.2h0M242.5 1257.2h0M249.6 1261.6h0M244.4 1252.7h0M249.1 1250.4h0M245.1 1263.5h0M243.7 1271.5h0M228.8 1269h0M238.6 1260.6h0M236.5 1260.2h0M225.9 1272.4h0M237.2 1267h0M227.6 1262.4h0M226.9 1269.8h0M228.2 1262.4h0M247.1 1275h0M238 1261.8h0M222.9 1266.6h0M240.2 1264h0M248.8 1260.3h0M231.7 1264.6h0M225.9 1275.2h0M235.2 1262.1h0M230.9 1265h0M248.6 1269.3h0M223.2 1266.6h0M245.9 1266h0M223.7 1266.9h0M228.4 1264h0M230.9 1265.6h0M242.1 1270.7h0M226.1 1260.7h0M246.5 1273.2h0M227 1272.6h0M224.1 1271.1h0M228.2 1270.8h0M245.6 1273.4h0M242.3 1267.5h0M247 1275.1h0M239.2 1270.4h0M241.1 1265.7h0M234.8 1262.3h0M224.6 1261.4h0M233.9 1270.7h0M248.6 1263.3h0M237.1 1264.6h0M227.2 1267.8h0M243.2 1275.9h0M230.4 1274.3h0M247.5 1274.6h0M227 1275.1h0M224.3 1262.5h0M241.6 1261.4h0M235 1260.8h0M242.4 1265.7h0M242.2 1260.7h0M230.3 1275.3h0M242.7 1266.5h0M245.7 1264.9h0M228.2 1275.9h0M226.1 1267.5h0M233 1268.9h0M242.4 1275.6h0M244.7 1275.9h0M232.7 1273.2h0M225.2 1270.6h0M247.8 1265.6h0M226.9 1275.7h0M233.3 1267.9h0M238.6 1269.9h0M246.6 1264.2h0M243.7 1267.2h0M249.4 1271.6h0M238.5 1268.2h0M228.4 1272.4h0M244.8 1260.7h0M243 1271.1h0M227.6 1272.8h0M239.9 1274h0M237.6 1275.1h0M223.6 1273.8h0M237.5 1262.6h0M232.8 1270.7h0M246.8 1261.2h0M246.9 1261.1h0M241.8 1263.7h0M228.6 1269.5h0M228.8 1265.3h0M229.8 1268.5h0M229.9 1268.7h0M241.5 1261.9h0M248.6 1264.2h0M229.3 1266.5h0M247.2 1271.5h0M242.5 1265.9h0M249.8 1265.3h0M223 1264.8h0M237.2 1260.1h0M230 1270h0M233.4 1266.6h0M227.3 1265.8h0M240.7 1268.7h0M246.7 1260.4h0M235.3 1264.2h0M240.9 1263.5h0M238.3 1266.5h0M236.2 1266.5h0M249.5 1261.4h0M231.3 1266.8h0M230.2 1273.5h0M233.9 1272.7h0M238.1 1261.9h0M227.6 1264.5h0M248.2 1275.8h0M244.6 1267.5h0M230.5 1270.7h0M238.3 1262.1h0M243.1 1263.1h0M228.2 1269.5h0M249.1 1272.4h0M249.2 1267.7h0M222.5 1267.2h0M231.9 1267.4h0M236.6 1274.7h0M226.6 1275.4h0M222.4 1266.1h0M241.9 1260.8h0M228.2 1260.5h0M247.8 1266.9h0M222.1 1263.8h0M241.5 1271.2h0M248 1262.2h0M248.2 1273.8h0M237.3 1273.2h0M225.5 1271.2h0M231.9 1270.3h0M230.8 1265.4h0M244.7 1261.3h0M222.3 1272.2h0M222.6 1268.2h0M226.7 1268.7h0M230.9 1275.4h0M229.3 1268.4h0M222.2 1274.5h0M228.3 1264.8h0M232.4 1271.9h0M231.2 1273.8h0M234.7 1262h0M226.3 1261.4h0M238.1 1268.4h0M227 1263.4h0M234.5 1268.3h0M240.8 1267.7h0M222.3 1262.3h0M244.3 1261h0M226.3 1271.2h0M230.6 1265.3h0M233.5 1274.8h0M224.4 1271.4h0M228.3 1260.7h0M234.5 1270.3h0M245 1274h0M249.9 1270.6h0M246.7 1275.4h0M233.2 1261.4h0M239.1 1262.3h0M224.6 1268.1h0M235 1261.3h0M233.4 1270h0M239.8 1267.5h0M241.8 1271.2h0M226.8 1266.6h0M223.1 1273.9h0M227.3 1263.3h0M239.4 1269.5h0M236.4 1261.6h0M241.2 1269.2h0M242.4 1261.2h0M232.8 1264.3h0M245.6 1262h0M244.8 1269.9h0M225.1 1268.2h0M224.2 1266.4h0M244.6 1261.6h0M232.9 1260h0M243.4 1260.7h0M222.9 1275.9h0M249.3 1265.8h0M230.7 1264h0M247.8 1275.8h0M240.8 1266.2h0M231.9 1272.7h0M232.5 1260h0M249 1271.1h0M233.5 1267.1h0M239 1266.1h0M247.6 1260.4h0M222.9 1275.3h0M230.8 1260.1h0M243.5 1262.3h0M237.3 1273.9h0M228.4 1275.1h0M232.7 1263.1h0M227.5 1267.2h0M243 1274.7h0M228.3 1264.6h0M233.1 1264.5h0M243.7 1270.5h0M224.3 1275.2h0M232.6 1263.1h0M234.8 1275.2h0M245.2 1271.5h0M232.6 1267.4h0M239.9 1272.4h0M229.6 1275.9h0M235.6 1275.3h0M240 1273.9h0M245.9 1269h0M229.9 1261.3h0M245 1267.8h0M243.8 1263h0M231.8 1261.4h0M242 1267.4h0M245.8 1268.4h0M232.7 1271.1h0M232.9 1268.3h0M230.5 1274h0M228.8 1262.9h0M244.7 1264h0M228.9 1271h0M247.1 1266.7h0M228.2 1275.4h0M223.6 1275.1h0M231 1276h0M222.9 1275.3h0M247.9 1271h0M238 1273.1h0M228.6 1262.5h0M246.3 1275.1h0M231.6 1263.5h0M230.5 1269.8h0M246.3 1263.4h0M239.7 1261.8h0M235.2 1266.5h0M242.9 1273.9h0M222.5 1272.4h0M244.2 1273h0M228.3 1260h0M246.3 1271.7h0M246.9 1268.6h0M229.3 1261.4h0M244.2 1273.1h0M237.9 1263.6h0M242.7 1267h0M230.9 1266.4h0M245.5 1290.8h0M245.9 1282h0M242 1279.8h0M239.2 1278.1h0M234.6 1283.2h0M239.3 1280.9h0M242.1 1281.2h0M248.3 1293.8h0M235.4 1280.5h0M248.9 1275.9h0M246.3 1290.7h0M240.2 1294h0M234.6 1277.8h0M246.8 1282.8h0M240.9 1275.9h0M236.9 1275.8h0M244.7 1286.2h0M238.8 1294.7h0M234.1 1279.1h0M233.6 1278.1h0M235.1 1274h0M241.2 1285.8h0M241.7 1293.9h0M235.6 1275.9h0M250.6 1289.4h0M237.2 1290.5h0M240.9 1281.6h0M238.1 1283.5h0M233.5 1277.4h0M250.6 1293.4h0M239.8 1295.5h0M236.7 1289.1h0M233 1276.5h0M247.4 1281.3h0M237.2 1285.6h0M242.7 1284.6h0M241.1 1278.3h0M241.1 1294.4h0M246 1295.8h0M249.5 1276.8h0M241 1289.2h0M244.9 1278.2h0M241.3 1278.2h0M240.4 1277.3h0M243.8 1295.3h0M244.1 1285.3h0M243.8 1288.4h0M236.8 1280.3h0M249.7 1287.3h0M241.8 1293.2h0M243.6 1280.5h0M241.9 1275h0M250.4 1291.2h0M236.6 1276h0M244 1284.6h0M234.9 1295.2h0M241.7 1276.8h0M233.5 1291.5h0M245.8 1282.4h0M236.2 1283.3h0M246.7 1275.6h0M242.7 1285.2h0M246.7 1289h0M239.6 1282.8h0M234.4 1294.2h0M241.3 1291.1h0M237.5 1285.7h0M238.5 1294.7h0M234.1 1281.1h0M247.9 1293.6h0M235.7 1275.1h0M233.5 1280.3h0M248.3 1284.9h0M242.1 1289.8h0M238.5 1295.5h0M237.8 1281h0M241.4 1287.3h0M241.9 1276.7h0M248.8 1295.3h0M248.5 1287.7h0M241.9 1284.7h0M236.6 1289.3h0M242 1287.1h0M242 1280.6h0M244.6 1277.9h0M241 1276.5h0M242.7 1275.2h0M247.8 1276.1h0M247.5 1274.4h0M250.2 1280.6h0M235.6 1281.2h0M237.4 1288.7h0M241.6 1291.9h0M243.6 1279.9h0M237.8 1278.9h0M237.3 1275.8h0M235.9 1278.8h0M241.1 1283.2h0M242.9 1287.1h0M244 1289h0M248.4 1284.4h0M237.9 1277.1h0M249.4 1274.3h0M240.3 1293.4h0M243.1 1292.5h0M249.2 1294.5h0M238 1281.3h0M250.2 1283.1h0M239.5 1284.3h0M239.9 1274.5h0M240.5 1294.4h0M249.1 1291.5h0M246.2 1294.6h0M238.4 1284.9h0M247.5 1294.7h0M234 1290.4h0M245.4 1288.3h0M238.9 1277h0M237.6 1284h0M235.7 1276.4h0M233.2 1284.1h0M240.5 1291.5h0M237.5 1280.1h0M243.8 1281h0M240.7 1289.7h0M243.3 1289.7h0M246.1 1291.8h0M233.4 1290.8h0M235.1 1281.7h0M236 1292.3h0M239.2 1294.3h0M245.6 1277.4h0M239.5 1278.1h0M244.4 1283.7h0M244.9 1285.4h0M250.4 1291.4h0M240.7 1287.7h0M239.3 1284.9h0M242.8 1292.3h0M247.7 1289.3h0M249 1289.3h0M245.5 1284h0M241.8 1293.5h0M238 1292.1h0M248.3 1277.5h0M250.3 1286.1h0M237.6 1287.2h0M249.2 1276.7h0M236 1279.6h0M245.9 1285.6h0M233.9 1286.6h0M245.2 1291.2h0M249.6 1281.1h0M246.8 1284.9h0M238.5 1276h0M245.3 1290.6h0M245.5 1289.4h0M248.4 1274.6h0M237.4 1274.9h0M242 1280.7h0M240.7 1276.1h0M239 1277.1h0M235 1281.6h0M233.6 1291.7h0M249.1 1278.4h0M250 1282.9h0M242.3 1280.8h0M240.3 1285.6h0M240.2 1295.8h0M242.1 1291.5h0M248.2 1281.7h0M233.3 1294.3h0M246.6 1287.2h0M240.3 1285.2h0M235.8 1289.8h0M236.6 1284.4h0M247.1 1293h0M247.1 1282.7h0M244.8 1285.9h0M246.9 1279.3h0M250.6 1288.3h0M240.2 1279.8h0M237.7 1291.1h0M248.3 1290.8h0M246.1 1277.7h0M237.9 1280.4h0M247 1281.7h0M239.9 1288h0M247.6 1289h0M248.6 1278.3h0M244.4 1285.5h0M236.8 1292.9h0M245.8 1284.3h0M240 1274.4h0M241.1 1285.9h0M248.1 1285.1h0M246 1276.5h0M234.5 1280.2h0M235.3 1284.2h0M236 1284.1h0M235.5 1283.8h0M236.8 1295.9h0M243.9 1283.8h0M235.3 1288.8h0M239.7 1292.7h0M240.7 1275.8h0M239.5 1287.7h0M238.6 1290h0M249.8 1291.9h0M234.1 1292h0M242.6 1283.2h0M236.3 1282.4h0M235.1 1286.9h0M240.5 1277.7h0M239.9 1295.9h0M245.1 1295.2h0M249.4 1288.2h0M246.3 1286.8h0M247.3 1284.4h0M233 1293.3h0M233.6 1294.6h0M234.3 1288.1h0M240.8 1290.6h0M248.2 1277h0M249.2 1279.4h0M243.1 1282.4h0M246.7 1283.8h0M242.2 1281.8h0M239.1 1279.1h0M237.7 1276.4h0M245.4 1280.1h0M235.8 1277.2h0M244.6 1295.4h0M248.6 1275.9h0M244 1290.7h0M242.6 1295.2h0M233.2 1277.1h0M241.3 1276h0M248 1286.2h0M234.3 1275.6h0M239.5 1276.1h0M247.1 1294.6h0M243.6 1275h0M237 1278h0M237.4 1281.1h0M237 1280.5h0M243.6 1281.6h0M246.1 1286.4h0M233.5 1280.2h0M238.6 1286.6h0M240.4 1278.6h0M243.8 1294.8h0M233.8 1289.8h0M245.6 1286h0M246.7 1293h0M250.6 1275.1h0M246.9 1274.4h0M249.7 1284.4h0M246.5 1294.8h0M244.6 1275.8h0M240.6 1276.6h0M238.4 1276.9h0M242.7 1275.2h0M237.4 1276h0M238.3 1291.1h0M248.6 1286.7h0M247.7 1288h0M237.4 1294.5h0M250.6 1278.1h0M238.8 1294.2h0M234.6 1294.4h0M248.5 1279h0M248.5 1276.3h0M246.9 1278.9h0M242 1276.8h0M243.1 1286.6h0M233.6 1293h0M248.3 1289.6h0M237.2 1285.5h0M240.7 1291.5h0M246.9 1279.8h0M247.8 1290.8h0M233.3 1284.9h0M242.9 1274.5h0M244.2 1274.8h0M247 1276.9h0M245.4 1274.4h0M250.6 1278.9h0M231.3 1309.7h0M227.1 1314.2h0M227.3 1315.7h0M227 1304.4h0M232.7 1308.4h0M238.3 1304.8h0M235.4 1313.3h0M222.9 1315.9h0M237.4 1312.2h0M229.4 1306.1h0M238.7 1306.4h0M236.9 1309.7h0M232.8 1307h0M228.2 1313h0M223.5 1307.2h0M229.4 1311.5h0M227.8 1306.4h0M224.2 1307.8h0M224.8 1311.1h0M228.5 1306.6h0M234.8 1315.9h0M237.2 1306.5h0M227.9 1315.3h0M233.3 1313.6h0M238.3 1310.6h0M233.7 1312h0M230.2 1315.2h0M222.1 1305.3h0M230.5 1312.7h0M239.5 1314.5h0M225.6 1307.1h0M222.4 1310.9h0M223.3 1305.2h0M229.9 1307.6h0M234.4 1306.4h0M237 1313.1h0M235.6 1310.6h0M235.1 1313.6h0M232.4 1307.8h0M226.4 1313.9h0M222.2 1308.3h0M224.1 1311.2h0M225.4 1309.3h0M238 1305.4h0M239.2 1307.9h0M232.6 1312.9h0M233.7 1309.8h0M225.4 1313.7h0M226.9 1310.5h0M225.9 1306.2h0M238.8 1313.5h0M225.1 1309.2h0M227.5 1306.1h0M237.9 1308.5h0M230.8 1310.3h0M225.2 1311.5h0M229.9 1308.4h0M227.5 1304.8h0M232.9 1310.9h0M223.3 1307.2h0M224.8 1310.9h0M239.3 1304h0M238.9 1312.8h0M235.9 1307.8h0M233.3 1314.2h0M226.9 1304.4h0M229.9 1308.5h0M225.3 1310.9h0M222.4 1306.7h0M224.1 1308.8h0M222.3 1306.8h0M226.1 1314.1h0M232.4 1310.1h0M231.8 1304.5h0M226.3 1313.6h0M235 1311.6h0M228.4 1310.7h0M234 1310.1h0M235.3 1309.2h0M235.5 1313h0M224.6 1309.2h0M227.3 1306.1h0M223.1 1310.7h0M224.7 1307.7h0M225.6 1310.4h0M223.1 1313.9h0M235.4 1308.3h0M229 1314h0M237.8 1315.3h0M227.9 1310.8h0M234.4 1306.3h0M233.7 1304.7h0M225.4 1306.8h0M229 1311.4h0M224.7 1304.7h0M229 1313.5h0M233.1 1313.4h0M228.2 1304h0M226.4 1311.2h0M240 1305.6h0M233.9 1307.9h0M239.8 1309.3h0M222.6 1306.7h0M234.5 1311.8h0M224 1314h0M230.5 1306.1h0M224.3 1307.3h0M222.8 1305.7h0M224.4 1309.1h0M223.7 1304.3h0M233.6 1312.4h0M236.5 1308.1h0M229.5 1304.5h0M223 1315.2h0M230.6 1305.8h0M223.2 1308.2h0M236.2 1314.1h0M229.5 1311h0M231 1310.7h0M227.8 1310.8h0M231.4 1313.8h0M232.5 1306.8h0M231 1313.3h0M231.8 1307.9h0M225.3 1312.3h0M229.4 1314.6h0M231.3 1309h0M225.1 1313.1h0M230.8 1306.2h0M229.8 1304.2h0M225.6 1305.5h0M238.1 1308.4h0M227 1311.3h0M231.2 1311.7h0M229.9 1304h0M236.5 1312.4h0M222.3 1315.6h0M228.8 1310.2h0M248.3 1318.9h0M244.1 1318.8h0M249 1323.8h0M243.9 1321h0M241.6 1313.6h0M247.6 1315h0M238 1322.4h0M249.1 1321h0M241.6 1325.1h0M244 1317.7h0M250.6 1318.5h0M249.4 1325.2h0M237.6 1327.5h0M241.4 1326.7h0M245 1316h0M239.1 1318.2h0M238.7 1327.1h0M241.9 1313.3h0M248.1 1324.8h0M242.1 1319h0M248 1314.2h0M239.3 1323.7h0M249.4 1322.4h0M239.5 1317.6h0M245.3 1323.5h0M236.1 1318.1h0M246.6 1317h0M243.2 1314.9h0M241.2 1323.9h0M246.1 1313.9h0M245.1 1322.6h0M241.6 1326.1h0M242.8 1319.9h0M241 1325.3h0M241.5 1315.7h0M247.1 1324.8h0M248.3 1314.9h0M241.1 1327.3h0M246.4 1324.2h0M239.5 1321.6h0M249 1312h0M248.3 1317.1h0M248.9 1325.2h0M246.9 1323.4h0M250.1 1324.7h0M249.2 1326.3h0M249.8 1317h0M238.8 1313.4h0M244.2 1325.4h0M241 1326.8h0M238.2 1313h0M248.1 1325.7h0M245.8 1318.6h0M250.1 1312.6h0M239 1316.4h0M243.2 1319.5h0M246.8 1319.6h0M247.9 1314.9h0M242 1317h0M247.1 1325.9h0M247.9 1323.3h0M241.2 1318.6h0M248.7 1320.1h0M246.5 1314.7h0M250.2 1319.4h0M249.8 1323h0M242.9 1318.4h0M239.1 1315.9h0M239.2 1316.9h0M244.5 1321.7h0M247.3 1323.4h0M243.9 1327h0M243.9 1321.5h0M241.1 1319.4h0M241 1316.8h0M242.7 1319.9h0M246 1320.5h0M244.7 1327.3h0M240.7 1327.4h0M244.7 1321.4h0M242.9 1319h0M250.6 1315.7h0M248.1 1313.2h0M241.2 1319.4h0M250.2 1316.8h0M244.7 1317.2h0M245.9 1318.4h0M244 1320.6h0M236.4 1313.6h0M236 1322.1h0M240.2 1320h0M240.9 1323.5h0M238.4 1312.8h0M245.7 1317.1h0M248.5 1322.9h0M244.4 1326.8h0M246 1312.7h0M245.1 1317.5h0M242 1314.7h0M246.2 1315.8h0M241.5 1326.7h0M245.5 1319.8h0M241.4 1323.8h0M245.8 1316.2h0M243.5 1316.8h0M244.3 1321.8h0M241.2 1327.1h0M242.1 1315.3h0M248.8 1325.9h0M238.6 1312.9h0M247.7 1315.7h0M238.5 1322.7h0M249 1324.2h0M241.2 1324.6h0M239.9 1324.7h0M238.1 1326.4h0M240.6 1318.1h0M247.5 1324.7h0M244.1 1320.2h0M244.8 1316.5h0M246.8 1312.7h0M242.9 1326.8h0M244.8 1319.2h0M249.9 1317.9h0M243.3 1315.3h0M247.2 1322.7h0M237.8 1316.8h0M237.9 1322.7h0M236.3 1324.8h0M248.2 1325.7h0M249.4 1319.8h0M246.1 1324.1h0M237.3 1316h0M237.4 1313.8h0M246.5 1322.5h0M241.7 1326.7h0M248.9 1317.6h0M250.6 1324.3h0M250.3 1312.1h0M248 1318.4h0M244.1 1315.2h0M246.8 1323.7h0M237.3 1322.8h0M236.8 1326.2h0M244.5 1324.7h0M239.3 1321.6h0M247.4 1324.2h0M249.9 1315.9h0M248.9 1318.4h0M241.6 1315.6h0M228.5 1331.8h0M230.1 1330.6h0M234.8 1337.3h0M240.8 1329.9h0M235.3 1339.4h0M233.8 1332.9h0M233.9 1344.4h0M240.9 1337.1h0M239.9 1335.2h0M237.9 1329.2h0M231.8 1330.2h0M240.3 1329.5h0M239.1 1344.1h0M229.6 1337h0M240.6 1337.4h0M228 1341h0M241.3 1345.8h0M228.3 1338.6h0M236.7 1340.8h0M234.2 1328.1h0M228.9 1328.3h0M238.7 1340.2h0M230.2 1333.9h0M231.2 1332.9h0M231.8 1338h0M228.2 1344.4h0M236.7 1332.1h0M229.2 1336.1h0M231.9 1335h0M231.4 1342.4h0M237.4 1339.5h0M228.6 1335.5h0M229.5 1337.6h0M240.9 1332.3h0M241.4 1331.2h0M228.4 1330.9h0M239.7 1328.6h0M231.8 1344.1h0M232.8 1334.2h0M232.3 1339.4h0M237.1 1336.4h0M229.9 1333h0M237.1 1339.8h0M234.1 1328.1h0M236.3 1343.2h0M241.7 1340.2h0M233.5 1331.7h0M240.6 1330.7h0M240.2 1338.6h0M232.8 1339.8h0M231.8 1340.8h0M236.8 1337.1h0M231.4 1342h0M235.6 1341.6h0M229.3 1339.3h0M229.3 1337.5h0M239.1 1339.3h0M234.1 1334.9h0M235.8 1339.2h0M239.8 1345.6h0M232.9 1340.3h0M237.5 1329h0M237.9 1332h0M240 1339.7h0M234.7 1329.1h0M232.8 1334.1h0M239.7 1332.6h0M235.7 1336.2h0M235.8 1330.1h0M229.7 1339.4h0M231.7 1334.1h0M229.1 1337.9h0M233.4 1345.7h0M228.5 1344.7h0M240.6 1341.5h0M233.2 1335.9h0M232.3 1339.2h0M240.8 1332.4h0M235 1339.6h0M239.1 1336.3h0M231.9 1341.3h0M233.7 1333.6h0M233.9 1329h0M237.3 1330.1h0M232.6 1334h0M231.5 1331.9h0M240.4 1332.1h0M235.6 1336.2h0M241.3 1333.7h0M230.4 1338.8h0M228 1340.2h0M238.4 1345.9h0M234 1331.8h0M238.8 1344.4h0M236.1 1342.1h0M237.1 1331.5h0M230.1 1338.4h0M235.4 1329h0M232.6 1344.5h0M229.5 1339.5h0M240.4 1343.8h0M238.1 1333.4h0M234 1341.3h0M228.7 1343.8h0M229.6 1333.2h0M238.3 1342.9h0M237.2 1332.1h0M235.9 1337.2h0M235.9 1335.5h0M232.5 1338.1h0M230.3 1334.6h0M239.5 1339.4h0M236.2 1332.1h0M230.5 1335h0M228.5 1329.1h0M229.9 1341.4h0M235.1 1333.1h0M236.1 1331.6h0M231.1 1336.5h0M237 1340.2h0M232.7 1345.1h0M236.7 1342h0M228.5 1338.3h0M234 1333.5h0M229.4 1328.8h0M229.6 1342.8h0M231.3 1338.1h0M233.5 1337.5h0M234.4 1332.8h0M241.2 1333h0M229.8 1336.3h0M230.3 1341.4h0M238.9 1341.4h0M235.3 1344.6h0M239.1 1341.4h0M236.5 1342.7h0M238.4 1344.1h0M233.2 1334.9h0M241 1343.1h0M240.9 1334.8h0M237.7 1342.3h0M231.9 1334.1h0M237.6 1333.2h0M231.1 1336.3h0M239.3 1330.6h0M230.4 1331.4h0M228.8 1337.6h0M230.8 1335.3h0M235.8 1343.5h0M234.6 1336.9h0M239.8 1328.3h0M228.1 1345h0M239 1338.2h0M241.4 1343.2h0M240.4 1344.3h0M241.9 1330.6h0M237 1345.7h0M231.7 1343.8h0M229.5 1335.8h0M241.9 1336.5h0M234.4 1340.7h0M231 1333.7h0M224.7 1348.4h0M233.1 1348.9h0M233.8 1348.2h0M230.9 1348.3h0M241.3 1348.9h0M233.5 1352.2h0M225.1 1351.1h0M225.4 1346.3h0M239 1346.1h0M235.3 1352.3h0M219.9 1346.7h0M233.2 1351.2h0M245.8 1346.2h0M244.9 1351h0M239.5 1352.9h0M244.3 1352.4h0M226.4 1346.3h0M235.1 1349.3h0M224.2 1346.2h0M245 1351.2h0M244 1348.8h0M243 1352h0M227.5 1346.5h0M240.4 1350.3h0M219.6 1351.7h0M216.8 1350.4h0M217.6 1347.5h0M219.8 1349.1h0M228.2 1350.3h0M225.7 1351.5h0M219.6 1352.9h0M231 1345.7h0M241.3 1349h0M221.4 1345.2h0M229 1347h0M235.9 1351.6h0M227.6 1346.9h0M232.7 1351.1h0M226.8 1345.9h0M229.7 1345.2h0M225 1346.9h0M241.9 1347.7h0M218.7 1345.7h0M228.8 1346.1h0M243.9 1348.5h0M224.1 1350.8h0M232.4 1346.1h0M222.7 1351.7h0M226.9 1351.1h0M244.7 1352.7h0M240.2 1346.4h0M227.6 1349.7h0M243.2 1349.1h0M232.9 1348.9h0M216.7 1349h0M219.1 1351.1h0M216.2 1352.2h0M223.7 1349.5h0M234.8 1350.5h0M240.6 1351h0M219.5 1352.9h0M230.5 1346.8h0M227.9 1352.4h0M231.7 1346.7h0M218.4 1347.5h0M229.7 1351.5h0M219.1 1351.7h0M219.5 1347.7h0M229.4 1351.8h0M217.5 1349.8h0M227.6 1348.5h0M223.1 1350.6h0M225.9 1352.9h0M230.1 1349.1h0M217.7 1347.7h0M243.4 1345.3h0M234.4 1352.8h0M221.8 1346.1h0M217 1347.6h0M224.5 1347.7h0M241.1 1347.6h0M246 1349.5h0M218.1 1347.5h0M237.8 1351.1h0M227.2 1351.5h0M219 1351.5h0M236.8 1350.8h0M234.5 1349.5h0M216.5 1159.6h0M218 1177.9h0M183.4 1362.8h0M196.7 1355.5h0M190.9 1367h0M174.2 1356.9h0M193.1 1360.4h0M163 1368.7h0M165 1372.4h0M180.7 1357.4h0M198 1362.9h0M195.9 1355.8h0M170 1367.8h0M187.1 1357.7h0M168.9 1355.6h0M171.3 1356.5h0M193.2 1372.9h0M184.4 1364.9h0M190.6 1366.4h0M198.4 1370h0M171.1 1372h0M167 1372.1h0M184.7 1357h0M194.5 1355.8h0M191.3 1372.6h0M179.3 1359.6h0M175.6 1356h0M164.6 1369.8h0M171.6 1357.8h0M170.7 1361.3h0M159.1 1360.8h0M177.6 1366.6h0M170.3 1366h0M190.1 1371.3h0M172.9 1365h0M175.2 1370.3h0M181 1362.5h0M177.8 1356h0M196.4 1356.5h0M161.4 1369.2h0M185.3 1358.8h0M173.8 1364.8h0M165.9 1362.3h0M158.2 1362.4h0M166.4 1356.2h0M166.5 1355.5h0M171.6 1358.6h0M199.6 1365.7h0M192.1 1367.7h0M189.5 1365.1h0M156.4 1366.4h0M161.8 1361.6h0M172 1367.3h0M162.8 1362.8h0M168.2 1372.5h0M172.4 1357.5h0M164.3 1360.7h0M175 1367.5h0M197.7 1355.2h0M194.2 1357.2h0M180 1372.8h0M156.2 1368.8h0M190.9 1358.6h0M161.3 1367.5h0M159.3 1359.8h0M184.2 1369.3h0M180.9 1361.3h0M167.5 1364h0M156.3 1364.6h0M198.1 1367.9h0M175.2 1358h0M186.1 1365.7h0M170.5 1368.9h0M171.8 1368.5h0M178.3 1369h0M195.3 1365.3h0M177.9 1358.2h0M158.7 1361.2h0M164.6 1369h0M162 1358h0M187 1369h0M177.5 1360.9h0M177.7 1361.4h0M168.6 1355.7h0M170.1 1372.2h0M183.3 1367.6h0M183.3 1363.4h0M181.3 1367.5h0M169.2 1369.2h0M176.2 1359.1h0M177.9 1369.2h0M176.4 1355.1h0M163.4 1371.1h0M168.5 1365.3h0M189.6 1364.8h0M163.6 1360.9h0M199.3 1363.1h0M169.4 1355.5h0M176.8 1358.9h0M180.7 1369.2h0M165.8 1365.6h0M189 1364.6h0M156.9 1361h0M178.2 1372.5h0M182.9 1372.4h0M163.8 1361.1h0M189.5 1371.8h0M156.8 1365.4h0M174.6 1360.4h0M176.8 1356.7h0M165 1363.5h0M197.9 1364.5h0M192.2 1370.7h0M166.2 1360.5h0M197.1 1363.6h0M159.3 1358.8h0M156.5 1370.3h0M199.3 1364.2h0M156.4 1365.3h0M189 1360.5h0M159.8 1367.2h0M177.2 1363.3h0M161.7 1358h0M173.6 1360.6h0M170.4 1372.2h0M156.9 1371.1h0M162.6 1363.4h0M168.8 1356.1h0M182.7 1367.5h0M188 1360.2h0M194.1 1367.7h0M160 1367.4h0M198 1369.1h0M184.9 1370.8h0M194.1 1357.3h0M188.1 1363.9h0M165.4 1371.7h0M197.2 1355.4h0M159.8 1371h0M193.7 1363.2h0M195.6 1355.6h0M181.9 1356h0M209.6 1355.8h0M182.7 1354.8h0M201.4 1355.7h0M194.6 1355.4h0M214.8 1356.8h0M186 1357h0M189.3 1355.3h0M201.6 1356.8h0M183 1355.9h0M214.2 1356.5h0M207.3 1364.3h0M221.1 1362.1h0M204.2 1364.4h0M216.9 1370.7h0M206.1 1366.4h0M208.6 1371.6h0M216 1369.4h0M224.3 1365.9h0M206.5 1366.2h0M200.9 1364.3h0M223.3 1366.5h0M208.7 1369.3h0M220.1 1365h0M207.8 1370.2h0M206.6 1364.5h0M211.9 1370.1h0M216.9 1368.7h0M213.5 1370h0M167.6 1381.9h0M185.5 1386.8h0M196.5 1384.2h0M167.1 1378h0M171 1379.2h0M178.8 1379h0M185.7 1385.3h0M182.5 1384.2h0M195.8 1386.3h0M188.6 1378.3h0M193.7 1386.5h0M178.9 1382.5h0M174.5 1377.9h0M167.4 1377.9h0M182.6 1384.8h0M236.4 1380.7h0M246 1380.2h0M212.3 1379.3h0M247.8 1379.2h0M212.5 1385.8h0M204.6 1386.3h0M224.6 1384h0M231 1379.3h0M227.7 1379.2h0M222.8 1384.5h0M245 1386h0M212.9 1378.8h0M219.6 1377.1h0M217.2 1377.7h0M225.6 1378.2h0M246.5 1379.6h0M219.7 1385h0M207 1382.4h0M241.5 1377.6h0M220.3 1377.9h0M212.9 1379.4h0M213.4 1379.2h0M214.3 1386.3h0M214.3 1383.5h0M245 1386.3h0M247.4 1382.1h0M245.1 1384.3h0M206.7 1382.2h0M242.5 1377.8h0M222.7 1386.6h0M245.6 1385.9h0M238.7 1380.1h0M234.4 1384.8h0M205.4 1379.3h0M215.6 1380.3h0M219.6 1382.2h0M217.8 1381h0M216.1 1378.4h0M216.2 1383.7h0M244 1385.9h0M216.9 1381.6h0M244.8 1383.5h0M212.9 1385.2h0M205.3 1379.1h0M216.1 1386.4h0M239 1380.9h0M236.9 1379.9h0M222.1 1377.2h0M241.6 1377.3h0M241.2 1379.9h0M208.2 1384.6h0M240.3 1380h0M222.8 1383.8h0M210.9 1378.3h0M226.1 1380.5h0M243.8 1383.5h0M229.1 1383.9h0M231.8 1382.3h0M205 1377.5h0M223.2 1382.4h0M213.9 1385.7h0M214.8 1380.5h0M240.7 1383.5h0M221.1 1378h0M237.7 1383.8h0M210.7 1384.7h0M224.2 1384.2h0M212.2 1385.9h0M246 1385.4h0M211 1383.1h0M220.3 1380.5h0M211.1 1385.8h0M220.3 1381.1h0M237.2 1382.3h0M214 1377.3h0M226.2 1377.8h0M239.9 1383.5h0M210.6 1384.3h0M203.8 1386.9h0M232.6 1378.9h0M221.3 1383.5h0M224.2 1383.8h0M217.7 1380.1h0M208.1 1381.3h0M210.9 1384.1h0M246.6 1382.8h0M241.4 1385.1h0M240.8 1378.9h0M213.6 1377.1h0M234.9 1379.8h0M213 1386.8h0M216.5 1382h0M203.5 1384.2h0M217.1 1386.1h0M241.8 1378.8h0M240 1384.3h0M224.3 1385.8h0M240.2 1381.3h0M214.5 1381.9h0M223.6 1383.1h0M244 1384.6h0M206.2 1384.9h0M224 1382.5h0M216.5 1377.5h0M236.2 1377.1h0M211.4 1379.1h0M215.6 1385.7h0M234.2 1383.9h0M206.6 1383.3h0M241.7 1379.2h0M217.2 1380.9h0M204.6 1382h0M239.3 1384.1h0M217.8 1386.7h0M247.1 1383.9h0M224.7 1385.6h0M228.5 1386.6h0M230 1382.6h0M221.4 1378.9h0M240 1382h0M219.3 1382.6h0M206.7 1386.7h0M219.4 1378.8h0M225 1386.8h0M241.7 1381h0M169.7 1395.4h0M179.8 1393.7h0M196.8 1390.5h0M198.8 1397.8h0M165.9 1391h0M196.5 1395.5h0M175.4 1392h0M184.4 1396.6h0M189.9 1394.4h0M193.7 1393.7h0M235.5 1394.1h0M225.3 1388.6h0M225.5 1397.5h0M227.2 1395.4h0M209 1397.8h0M212.7 1391.3h0M245 1397.2h0M217.4 1390.4h0M230.2 1391h0M216.2 1395.6h0M224.1 1396.8h0M220.6 1393.5h0M207.3 1393.1h0M244.7 1388.9h0M220 1391.4h0M218.4 1398.3h0M240.8 1389.4h0M231.9 1392.5h0M211.1 1391.5h0M236.7 1390.7h0M232.5 1393.9h0M228.9 1395.8h0M213.7 1395.3h0M223.5 1390.3h0M215 1396.9h0M239.1 1396.3h0M210.3 1395.9h0M238.3 1389.8h0M206.9 1390.7h0M233.9 1394.3h0M234.6 1396.7h0M220.4 1394.5h0M216.7 1397.8h0M210.5 1393h0M233.5 1394.3h0M221 1393.7h0M231.4 1388.9h0M236.4 1388.9h0M240.5 1394.7h0M236.5 1395.1h0M243.6 1391.3h0M227.9 1394.4h0M239.7 1392.3h0M228.2 1394.8h0M237.4 1394.6h0M213.9 1398.4h0M217.3 1398.1h0M235.4 1392.8h0M219.7 1396.6h0M227.2 1391.6h0M222.1 1393.3h0M206.5 1391.5h0M220 1397.8h0M231.1 1397.6h0M213.1 1389.6h0M213.9 1392.2h0M236.6 1389.5h0M212.1 1393.4h0M233.2 1393.7h0M223.4 1396.9h0M207.5 1390.6h0M227.1 1394.4h0M215.9 1398.4h0M227.2 1389h0M215.4 1395.4h0M213.5 1391.3h0M229 1396.9h0M220.4 1391.2h0M206.9 1391h0M236.7 1396.8h0M219.8 1391.7h0M216.6 1397.8h0M242.6 1395.5h0M237.4 1391.5h0M245.2 1391.7h0M213 1389.9h0M219.8 1395.5h0M240.3 1393.1h0M215 1390.1h0M215.4 1394.7h0M214.7 1393h0M232.2 1394.9h0M237.5 1389h0M218 1397.9h0M218.3 1396.4h0M244.2 1397.5h0M222.4 1395.6h0M213.4 1392h0M243.3 1397.3h0M242.7 1395.6h0M209.3 1391.8h0M246 1393.3h0M239.5 1394.4h0M222.5 1395h0M215.7 1393.4h0M244.4 1392.4h0M230.5 1397.7h0M219 1395.6h0M242.1 1394.9h0M245 1389.3h0M235.8 1410.1h0M241.3 1406.4h0M217.2 1415.4h0M215.3 1417.8h0M216.9 1420h0M226.3 1416.2h0M215.8 1415h0M234 1411.7h0M237.4 1407.7h0M234.2 1409.6h0M223 1411.1h0M218.3 1415.4h0M219.3 1413.8h0M234.4 1411.4h0M234.2 1413h0M234.6 1409.5h0M243.6 1406.8h0M231.9 1407.3h0M217.1 1418.4h0M229.8 1414.6h0M217 1418.8h0M228.9 1411.6h0M232.6 1409.9h0M229.3 1414.8h0M232.8 1410.8h0M247.1 1401.2h0M220.6 1417.8h0M241.3 1405.5h0M230.8 1412.6h0M248.2 1406.2h0M211.6 1419.3h0M223.5 1413.9h0M240.6 1409.8h0M246.6 1404.3h0M218.9 1416.5h0M233.5 1408.1h0M223.9 1418h0M250.9 1405.3h0M233.2 1410.8h0M229 1411.7h0M249.8 1407.2h0M226.6 1412.3h0M235.3 1413.2h0M224.6 1412.9h0M230.3 1410.5h0M240.8 1405.6h0M213.4 1415.7h0M212.4 1415h0M236.2 1410.4h0M221.3 1413.2h0M219.5 1415.9h0M218.1 1415.8h0M215.9 1417.9h0M221.6 1412.4h0M222.2 1416.3h0M233 1408.6h0M230.3 1412.4h0M245.4 1405.5h0M223.1 1412h0M215.5 1418h0M216.6 1416.9h0M240.8 1407.6h0M245.8 1407.9h0M244.3 1406.7h0M244.5 1404.8h0M219.3 1417.3h0M241.4 1408.8h0M227.4 1412.1h0M234.7 1411.4h0M234.4 1410.5h0M246.9 1404.7h0M224.3 1410.9h0M223.8 1411.2h0M251.1 1404.6h0M242.4 1406.3h0M231.6 1410.3h0M232.2 1408.8h0M250.5 1401.1h0M231 1413.3h0M228.8 1409.3h0M218.8 1416.1h0M236.2 1408.1h0M226.9 1411.7h0M239.2 1411.9h0M224.2 1413.9h0M224.8 1417.1h0M238.3 1407.4h0M223.4 1416.7h0M243.7 1408.9h0M213.9 1419.2h0M244.8 1403.8h0M222.3 1412.2h0M214.9 1419.8h0M217.5 1416.5h0M225.5 1411.6h0M251.5 1406.5h0M224.5 1416h0M236.8 1410.4h0M218.5 1416.6h0M227.2 1412.2h0M248 1406.8h0M238.5 1410.3h0M223.3 1413.3h0M230.6 1409.6h0M244.5 1407.2h0M244.6 1405h0M224.6 1412.3h0M233.2 1413.6h0M232 1414h0M225.2 1415.5h0M246.3 1404.2h0M229.5 1409.7h0M233.3 1414.1h0M215.6 1419.5h0M233.7 1408.3h0M226 1411.1h0M243.3 1409.7h0M234.1 1412.6h0M224.4 1414.6h0M219.5 1412.8h0M221.9 1412.9h0M215.9 1416.9h0M245.1 1406.9h0M225 1414.1h0M238.9 1411.9h0M245.4 1406.9h0M226.9 1411.5h0M235.1 1406.9h0M227.6 1411.9h0M219.9 1417.4h0M222.3 1412h0M224.8 1416.6h0M233.8 1409.6h0M244.1 1404.4h0M230.3 1412.4h0M220.2 1414.7h0M249.6 1404.2h0M212.6 1418.4h0M218 1415.4h0M237.8 1410.4h0M237.5 1406.6h0M217.5 1418.6h0M237.4 1408h0M234.2 1407.8h0M246.1 1402.3h0M244.6 1407.9h0M227.2 1410.7h0M218.1 1419.7h0M237.9 1407.5h0M227.1 1413.5h0M213.8 1416.7h0M222.8 1423.6h0M224.4 1423.2h0M221.8 1422.5h0M229.4 1425.5h0M222.5 1423h0M233.2 1430.2h0M224.1 1425.9h0M220.2 1420.7h0M236 1429.4h0M220.8 1425.8h0M222.6 1419.4h0M225.8 1424.7h0M233.2 1429.6h0M221.2 1422.2h0M226.1 1427.6h0M224.4 1428.3h0M224.4 1420.6h0M231.8 1426.9h0M227.4 1427.1h0M228.5 1427h0M230.1 1430.4h0M227 1423.6h0M228.7 1425.3h0M216.7 1421.6h0M219.2 1421.8h0M222.6 1425h0M225 1422.7h0M218.1 1418h0M224.2 1426.6h0M218.6 1418.5h0M214.6 1419.2h0M225.3 1425.2h0M220.1 1420.2h0M217 1422.1h0M217.6 1417.2h0M229.4 1430.5h0M214.3 1419.8h0M226.4 1430.5h0M216.1 1417.8h0M220.4 1418.1h0M232 1430.6h0M223.7 1425h0M220.8 1419.4h0M230 1428.3h0M229.9 1429.9h0M224.4 1423.6h0M218 1421.4h0M219 1416h0M225.6 1421.4h0M222 1422.3h0M229.2 1425.1h0M230.1 1430.7h0M228.1 1430.3h0M219.2 1419.2h0M229.5 1429.1h0M229.5 1429.2h0M227.9 1425h0M228.7 1431.8h0M217.7 1417.2h0M228 1427.2h0M228.2 1426.7h0M231 1427.4h0M226.2 1422.8h0M225.2 1422.8h0M230.2 1429.9h0M220.2 1423.8h0M221.6 1421.1h0M220.6 1425h0M229 1431.5h0M232.4 1431.7h0M223.2 1422.2h0M227 1427.7h0M229.4 1427.9h0M223 1427.9h0M234.3 1427.1h0M219.2 1424h0M214 1417.1h0M220.9 1421.4h0M229.2 1426.5h0M216.2 1417.8h0M214.9 1418.5h0M216.8 1418h0M217.1 1420.8h0M232.2 1430h0M217.8 1422.6h0M216.2 1417.5h0M214.9 1418.7h0M225.3 1426.6h0M230.2 1424.6h0M219.3 1419.5h0M220.1 1420.4h0M222.5 1422.2h0M231.9 1430.3h0M229.1 1424.5h0M230.4 1430.3h0M227.4 1428.4h0M220.5 1422.7h0M230.9 1428.5h0M227.1 1427.2h0M217.5 1418.5h0M225.1 1425.3h0M229.7 1428.6h0M218.3 1419.6h0M231.2 1425h0M216 1419h0M229.5 1430.3h0M222.1 1423.6h0M229.1 1428.3h0M226.3 1425h0M197.4 1435.4h0M195.9 1435.3h0M208.8 1435.9h0M204.8 1436.3h0M195.7 1435.4h0M188.9 1436.3h0M178.7 1435.9h0M189.6 1435h0M198.3 1436.9h0M181.2 1437h0M210.5 1435.3h0M184.1 1435h0M194.1 1436.4h0M208 1437.6h0M193.7 1436.5h0M212.5 1436.1h0M194.9 1434.9h0M201.5 1437.2h0M206.4 1434.8h0M204.1 1437.7h0M209.4 1435.1h0M178.6 1435h0M202.2 1437h0M196.5 1437.2h0M179.3 1434.7h0M204.6 1436.8h0M204.7 1435.7h0M194 1435.8h0M202.1 1436.9h0M182.8 1436.8h0M205.3 1436.9h0M200.1 1437.1h0M186.5 1436.6h0M212 1438h0M201 1435.4h0M194.5 1437.1h0M190.3 1435.5h0M206.1 1435h0M213 1436.3h0M212.4 1435.2h0M197.2 1436.8h0M180.3 1434.9h0M182.3 1436.2h0M186.2 1436.7h0M200.7 1437.7h0M208.1 1434.7h0M185.6 1436.9h0M201.6 1435.8h0M192 1437.6h0M210.9 1437.3h0M227.1 1438.6h0M241.2 1438.2h0M234.8 1451.6h0M236.6 1448.7h0M234.1 1438.3h0M226.5 1456h0M227.2 1451.6h0M229 1447.8h0M227.1 1437.6h0M242.5 1445.4h0M233.5 1439.2h0M232.2 1442.7h0M232.7 1440.8h0M228.4 1457.6h0M239.5 1454.3h0M237.8 1446.1h0M242.8 1448.1h0M238.9 1437.2h0M237.1 1454.1h0M226.9 1457.4h0M238.7 1449.5h0M235.1 1437.6h0M237.4 1454h0M239.9 1444.4h0M229.9 1456.1h0M240 1441.5h0M233.3 1452.6h0M242.6 1457.8h0M232.5 1449.1h0M226.2 1437.9h0M233.4 1444.6h0M229.8 1437.9h0M238.7 1455h0M227.8 1443.9h0M241.4 1456.5h0M237.6 1452.8h0M230.6 1451h0M226 1448.3h0M229.1 1443.1h0M238.3 1438.4h0M231.4 1445.7h0M236.9 1453.2h0M241.4 1450.8h0M233.6 1440.1h0M238.5 1437.6h0M226.5 1452.5h0M227.2 1443.5h0M236.3 1454h0M237.9 1441.4h0M240.9 1456.5h0M226.4 1444.5h0M230.5 1444.1h0M231.6 1451.5h0M230.7 1454.6h0M241.8 1455.7h0M226.6 1447.9h0M240.6 1453.3h0M238.4 1439h0M231.4 1438h0M228.7 1442.4h0M242.8 1450.1h0M242 1447.1h0M228.2 1441.8h0M239.9 1442.2h0M231.9 1443.2h0M236.3 1455.2h0M240.8 1444.7h0M229.4 1439.1h0M234.4 1449.6h0M239.8 1451.1h0M229 1451.1h0M230 1451.9h0M231 1438.1h0M234.6 1444.5h0M236.8 1438.6h0M242.8 1444.4h0M240.1 1446.6h0M236.3 1453.8h0M227.5 1450.6h0M242.4 1456h0M227.4 1456.3h0M231.4 1440.7h0M230.4 1439.8h0M236 1438.1h0M231.7 1455.2h0M240.7 1454.4h0M240.7 1448.6h0M236.4 1441.6h0M226.1 1450.2h0M230.4 1457.7h0M239.4 1447.4h0M228.1 1446.5h0M240.8 1457.8h0M231.5 1446.8h0M231.3 1436.1h0M238.9 1457.6h0M237 1439.2h0M234.4 1437.9h0M226.5 1457h0M242.5 1447h0M233.6 1438.2h0M240.3 1453.6h0M235.8 1447.8h0M237.4 1447.9h0M237.2 1457.5h0M229.9 1440.9h0M237.3 1446.8h0M230.6 1453.5h0M227.5 1440.2h0M226.5 1452.7h0M233.5 1436.2h0M242.7 1453.7h0M232 1441.9h0M228.3 1438.4h0M239.5 1440.3h0M237.9 1451.6h0M229.4 1453h0M235 1457.3h0M239.7 1441.8h0M226.3 1441.5h0M228.2 1452.7h0M240.3 1457.8h0M242.4 1443.4h0M235.2 1449h0M241.3 1442.2h0M230.9 1449.5h0M231.1 1442.9h0M241.9 1443.2h0M236.7 1448.7h0M227.1 1452.4h0M239.3 1449.3h0M241.8 1437.8h0M226.3 1446.8h0M232.9 1457.4h0M242.6 1454.2h0M230.7 1436.7h0M231.1 1446.8h0M232.2 1451.7h0M233 1446.5h0M235.2 1453.1h0M240.8 1444.5h0M242.9 1445.7h0M227.6 1438.9h0M241.1 1451.3h0M231.8 1437.1h0M238.3 1452h0M237.7 1448.2h0M235.8 1455.2h0M229.5 1444.3h0M239.9 1443.3h0M232.2 1454.9h0M242.6 1441.2h0M232.6 1437.2h0M237.9 1445h0M237.6 1436.9h0M229.5 1436.8h0M239 1445.7h0M237.1 1440.2h0M228.7 1436.5h0M227.3 1442.7h0M235.8 1453.8h0M233.9 1454.2h0M226.5 1448.3h0M231.3 1456.5h0M240.4 1450.1h0M231.9 1445h0M239.7 1452.8h0M232.9 1456h0M234.6 1443.5h0M237.4 1449.1h0M236.7 1454.2h0M239.2 1441.5h0M240.2 1453.1h0M232.8 1438.2h0M232.7 1454.8h0M226.6 1439.5h0M226.5 1451.5h0M233.8 1443.6h0M233.8 1439.7h0M227.2 1452.2h0M237.4 1443.1h0M235.6 1449.6h0M232 1442.2h0M234.2 1456.5h0M234 1442.3h0M235.7 1438.5h0M237.1 1456.7h0M240.3 1436.1h0M226.6 1440.3h0M235.1 1442.1h0M242.8 1436.1h0M226.2 1445h0M242.6 1451h0M228.7 1436.5h0M232.2 1438.6h0M226.5 1444.4h0M239 1457.2h0M236.7 1442.2h0M239.6 1446.5h0M242.2 1441.3h0M236.6 1452.1h0M237.1 1448.5h0M241.1 1436.5h0M229.4 1446.7h0M238.3 1443.9h0M229.7 1453.3h0M242.8 1444.5h0M232.7 1437.4h0M238.3 1457h0M233.6 1447.4h0M238.8 1437.5h0M227.3 1443.5h0M227.5 1457.3h0M237.8 1446.3h0M232.7 1447.9h0M230.2 1452.3h0M233.1 1451.4h0M240.5 1457.2h0M241.2 1440.9h0M231.8 1445.8h0M229 1439.3h0M229.7 1436.8h0M237.6 1444.5h0M237.7 1455.9h0M242.1 1457.2h0M230.9 1455.1h0M236.1 1437h0M242.7 1444.1h0M242.1 1436.5h0M237.5 1442.2h0M234.2 1452h0M240.3 1453h0M239.9 1438.7h0M240 1457.7h0M236.2 1449h0M235.5 1438.2h0M230 1442.5h0M230.4 1456.5h0M240.6 1440.4h0M240.9 1447.8h0M241.3 1439.8h0M241 1445.2h0M231.8 1449.4h0M227.9 1443.8h0M227.2 1448.2h0M230.4 1455.9h0M232.6 1443h0M241.7 1446.5h0M232 1437.7h0M234.8 1447.9h0M241.7 1468h0M244 1464.7h0M240 1460h0M234 1457.4h0M244.2 1469.4h0M247.2 1455.9h0M239.4 1460.6h0M237.3 1466.6h0M246.1 1464.9h0M235 1464.7h0M245.6 1455.9h0M238.5 1463.7h0M242 1469h0M235.3 1469.8h0M249.7 1467.3h0M235.6 1456.7h0M237.7 1461.6h0M233.9 1463.4h0M233.7 1454.6h0M238.1 1455.8h0M242.5 1466.6h0M242.7 1456.6h0M249.3 1469.8h0M244.6 1456.2h0M247.5 1455.4h0M243.4 1459.2h0M240.1 1468.6h0M233 1459.1h0M244.1 1464.7h0M233.5 1464.9h0M236.9 1459.4h0M234 1456.5h0M247.5 1457.7h0M243 1467.9h0M237.9 1459.2h0M234.5 1468.4h0M249 1455.8h0M249.2 1458.4h0M233.8 1458.7h0M247.5 1459.1h0M243 1467.7h0M239.9 1462.5h0M248.9 1459.5h0M234 1460.3h0M238.8 1463.4h0M249 1459.1h0M240.4 1464.6h0M235.3 1468.8h0M249.5 1456.9h0M245.4 1455.8h0M233.9 1458.6h0M245 1469.1h0M235.8 1459.2h0M245.6 1465.5h0M232.7 1458.7h0M241.8 1459.6h0M245.8 1458.9h0M235.9 1461.5h0M234.5 1462.7h0M249.6 1465.3h0M235.2 1457.7h0M236.4 1463.3h0M241.1 1455.8h0M244.2 1457h0M236 1462.1h0M241.8 1468.5h0M246.2 1466.7h0M236 1458.1h0M241.2 1458.6h0M234.2 1465.8h0M232.3 1458.2h0M248.7 1466.8h0M242.5 1463.5h0M237.9 1460.9h0M232 1460h0M240.6 1457.7h0M243.1 1459.4h0M238.9 1456.4h0M236 1468.9h0M232 1469.8h0M249.5 1469.5h0M249.9 1468.6h0M241 1469.6h0M235.2 1467h0M235.1 1467.1h0M245.8 1467.7h0M246 1464.9h0M246.6 1459.2h0M243.5 1468.8h0M236.2 1464.9h0M244.8 1460.4h0M241.9 1463.4h0M232.3 1456.2h0M246.8 1461.7h0M234.6 1469.9h0M237.1 1469.7h0M239.5 1469.6h0M242.3 1466.8h0M233.2 1464.3h0M248.3 1456.1h0M243.1 1454.9h0M243.5 1469.2h0M244.7 1463.2h0M237.2 1466.6h0M237.5 1455.8h0M235.9 1464.1h0M240.4 1459.6h0M243.7 1459.5h0M241.7 1469h0M236.2 1466.8h0M247.4 1468.3h0M232.3 1455.8h0M236.5 1460.7h0M234.9 1454.1h0M240.8 1467.1h0M240.9 1464.2h0M249.7 1455.7h0M240 1469h0M244.1 1469.5h0M234.1 1460.7h0M232.7 1469.8h0M237.8 1460.7h0M238.9 1465.7h0M239 1454.9h0M242.6 1454.4h0M244 1468.9h0M242.2 1469.3h0M242.3 1462.9h0M237.7 1454.4h0M241.7 1461.5h0M244.7 1468.4h0M249.7 1459.4h0M233.3 1463.7h0M237.3 1462.3h0M243 1460.4h0M245 1467.4h0M242.3 1469.2h0M242.5 1455.8h0M238 1468h0M233.3 1469.6h0M236.1 1463.8h0M236.3 1463.4h0M235.4 1462.5h0M248.6 1468.8h0M235.1 1462.2h0M235.7 1462.8h0M247.2 1468.8h0M234.6 1456h0M236.6 1464.3h0M235.1 1456h0M247.6 1454.6h0M233.3 1456.2h0M232.5 1458.5h0M245.8 1466.5h0M249.7 1462.5h0M242.5 1468.8h0M245.5 1456.5h0M249.2 1454.1h0M244.1 1466.6h0M246.5 1456h0M249 1466.6h0M238.7 1460.9h0M239.6 1468h0M245.6 1464.8h0M242.2 1457.3h0M249.7 1466.9h0M238.1 1458h0M235 1461.4h0M243.9 1454h0M239.5 1465.9h0M239.3 1456.2h0M243.2 1456h0M236.9 1455.1h0M241 1454.9h0M244.3 1468.7h0M234.5 1456h0M233.6 1464.7h0M232.7 1463.5h0M247.9 1455.6h0M237.8 1460.4h0M245.1 1454.8h0M244.9 1462.9h0M238.9 1455.6h0M232.2 1459.1h0M241.5 1460.9h0M245 1462h0M240.5 1461.2h0M239.3 1456.9h0M239.7 1457.7h0M240.6 1464.5h0M245.5 1457.6h0M247 1456.2h0M235.6 1468.1h0M242.1 1456.9h0M241.2 1454.6h0M246.2 1461.8h0M245.5 1457h0M241.3 1455.2h0M238.7 1460.7h0M238 1461.7h0M248 1482.2h0M245.1 1466.1h0M247.9 1472.9h0M249.4 1485.1h0M250.6 1486.7h0M240.2 1478.6h0M250.6 1482.3h0M245.2 1487h0M245.9 1468.8h0M243.5 1469.6h0M250.1 1470.2h0M249.9 1488.2h0M250.6 1479.5h0M245.1 1487h0M243.6 1474.7h0M249.8 1470.4h0M244.9 1473.4h0M247.1 1485.8h0M247.4 1466.9h0M246 1468.2h0M249.3 1471.6h0M245.4 1479.1h0M250.6 1483.4h0M248.4 1475.6h0M250.6 1469.5h0M247.8 1467.8h0M241.2 1474.9h0M244.8 1469h0M246.3 1469.4h0M249.1 1488.9h0M245.5 1486.2h0M240.5 1470.2h0M244.9 1479h0M243.7 1481.6h0M247.6 1472.5h0M245.4 1486.9h0M240.3 1483.7h0M250.5 1477.7h0M249.3 1466.6h0M241 1476h0M250.6 1480.7h0M241.6 1474.5h0M240.7 1478.2h0M247.6 1488.4h0M240.9 1477h0M240 1474.6h0M245.8 1469.1h0M245.7 1472.9h0M240.5 1481.6h0M247.5 1487.6h0M240.5 1478.7h0M244.5 1488h0M248.4 1471.6h0M242.5 1477h0M250.5 1468.3h0M250.6 1484.6h0M245.2 1481.7h0M240.8 1487.1h0M250.4 1476.5h0M249.6 1478.4h0M243.5 1483.9h0M240.4 1488h0M240.1 1483.6h0M240.4 1468.7h0M246.7 1470.3h0M246.8 1475.6h0M244 1486.8h0M250.6 1467.5h0M250.6 1488.5h0M246.5 1486.9h0M250.6 1468.4h0M244.3 1487.9h0M240.6 1470.1h0M242.8 1475.3h0M244.1 1474h0M244.9 1484.4h0M247.1 1469.9h0M240.9 1477.2h0M243.5 1476.8h0M250.6 1471.9h0M245.9 1489h0M245.1 1486.5h0M246.1 1485.9h0M243.8 1473h0M250.4 1486.7h0M250.6 1487.4h0M240.4 1471.7h0M247 1481.7h0M242.9 1473.7h0M249.3 1482.7h0M243.9 1469.4h0M243.4 1473.5h0M240.2 1483.5h0M249.5 1473.7h0M245.2 1467.6h0M250.6 1488.3h0M249.4 1482.2h0M244.9 1480.3h0M245.8 1466.7h0M241.1 1466.1h0M250.6 1477.8h0M246.1 1475.1h0M247.4 1469h0M250.6 1486.9h0M242.9 1467.3h0M245.7 1476.7h0M248.6 1487.1h0M242.1 1479.7h0M246 1481.5h0M240 1481.7h0M243.9 1474.8h0M246.1 1475.3h0M246.3 1484.1h0M245.8 1470.7h0M240.6 1479.1h0M246.7 1479.4h0M248.1 1480.8h0M241 1483.4h0M243.3 1473.3h0M250.6 1480.6h0M249.4 1474.4h0M243 1466.4h0M250.6 1478.4h0M250.6 1482.8h0M243.2 1488.2h0M241.9 1487.6h0M242.4 1479.3h0M243.9 1468.5h0M248.3 1482.1h0M244.2 1469.7h0M247.1 1488.2h0M250.6 1484.8h0M240.6 1468.7h0M249.8 1485h0M249.7 1473.2h0M244 1482h0M249.5 1481.9h0M246.5 1477.7h0M240.9 1470.6h0M249.5 1467.5h0M249.7 1488.8h0M245.6 1485.9h0M250.6 1468.5h0M247 1478.5h0M242.8 1482.6h0M246.8 1487.5h0M244.1 1480h0M250.6 1479.1h0M242.6 1469.9h0M248.5 1482.1h0M249 1477.3h0M242.5 1478.2h0M243.8 1473.1h0M241.8 1474.4h0M244.1 1486.8h0M241.4 1470.5h0M240.8 1477h0M241.7 1476.2h0M241.6 1476.9h0M250.6 1471.6h0M246.1 1467.1h0M249.2 1484.9h0M243.7 1469.3h0M248.8 1479h0M246.5 1487.1h0M240.4 1469.2h0M250.5 1479.1h0M248.3 1471.9h0M240 1483.3h0M245.9 1470.5h0M241.3 1471.2h0M241.8 1481h0M250.6 1480.2h0M243 1466.8h0M245.7 1468.3h0M249.1 1484h0M243.9 1473.3h0M246.5 1478.5h0M250.6 1467.8h0M248.9 1484.5h0M246.7 1468h0M250.6 1469.2h0M241.2 1470.2h0M245.9 1477.8h0M248.7 1476.2h0M245.1 1478.9h0M242.5 1486.2h0M240.8 1478.1h0M242.4 1484.2h0M248.4 1479h0M241.1 1467.9h0M247.3 1477.6h0M244.1 1470.5h0M247.8 1487.7h0M247.4 1470h0M240.4 1472.1h0M249.6 1466.2h0M242.8 1488.2h0M249.2 1482.8h0M250.6 1469.7h0M240.6 1486.4h0M248.7 1471.5h0M241.6 1475h0M250.6 1466.7h0M245.4 1487.6h0M248 1483h0M243.6 1488.8h0M247.3 1477h0M250.6 1487.6h0M246.4 1484h0M250.6 1473.8h0M250.6 1483.1h0M245.6 1472.5h0M245.1 1476.5h0M245.9 1486.3h0M246.1 1482.9h0M250 1486.8h0M250.6 1473h0M249.6 1485.7h0M245.3 1481.7h0M241.2 1469.2h0M247.5 1474.2h0M244.6 1486.1h0M247.1 1482.2h0M250.6 1486.7h0M248.8 1466.2h0M250.6 1472.7h0M244.5 1467.5h0M247.4 1466.9h0M241 1467.1h0M241.8 1479.4h0M250.5 1466.2h0M246 1485.3h0M247 1485.6h0M241.3 1486.1h0M248.2 1466.9h0M246.9 1472.9h0M246.1 1483.1h0M250.6 1472.8h0M245.4 1474.8h0M240.4 1477.9h0M247.4 1478.5h0M248.4 1469.9h0M250.6 1476.4h0M241 1474.7h0M243.4 1487.2h0M247.9 1488h0M246 1474h0M250.5 1484.4h0M243.5 1469.1h0M242.2 1484.7h0M238.5 1486.2h0M249.5 1489.3h0M242.4 1485.6h0M243.1 1487.4h0M236.9 1486.6h0M248.7 1486.3h0M249.2 1488h0M237 1484.1h0M235.8 1491.4h0M236.8 1488.7h0M241.6 1485.1h0M243 1491h0M237.4 1484.1h0M246.6 1491.9h0M239.2 1488.2h0M234.6 1486.5h0M247.6 1485.8h0M247.6 1486.9h0M244.9 1491.7h0M241 1486.3h0M237.7 1485h0M234.6 1486.8h0M242 1490.8h0M244 1486.8h0M239.1 1487.6h0M241.1 1487.1h0M239.9 1486.4h0M247.8 1487.7h0M247.8 1490.5h0M249.2 1487.7h0M247.5 1484.5h0M234.4 1489.4h0M239.3 1490.8h0M234.9 1488.9h0M244.5 1489.2h0M239.3 1486.8h0M248.6 1490.4h0M238.8 1484h0M239.1 1488.2h0M243 1486.6h0M246.9 1490.8h0M248 1487.1h0M236.3 1491.8h0M249.6 1485.5h0M238.1 1484.8h0M247.1 1492h0M240.5 1485.6h0M238 1492h0M238 1490.2h0M249 1487.4h0M240.8 1489.3h0M248.4 1491.7h0M242.4 1491.6h0M239.1 1485h0M238.5 1485.4h0M244.8 1485.2h0M234.3 1490.2h0M246.9 1490.5h0M249.7 1488.1h0M234.6 1484.8h0M236.3 1484.9h0M244.1 1490.1h0M247.2 1485h0M243.2 1489.7h0M240.2 1486.2h0M243.7 1491.8h0M240.9 1484.4h0M245 1488.5h0M237.4 1488.3h0M242.1 1489.4h0M249.8 1489.3h0M239.1 1491.3h0M237.4 1490.1h0M234.9 1486.8h0M222 1459.5h0M232.6 1488.1h0M216.6 1490.7h0M221 1489.3h0M226.9 1489.9h0M226.6 1488.8h0M234 1490.9h0M231.2 1491.7h0M210.5 1490.6h0M227.9 1492h0M219.5 1490.7h0M212.2 1488.4h0M222.4 1492.1h0M235 1489.8h0M218.5 1490.2h0M223.4 1489.8h0M229.6 1490.8h0M230.8 1488.2h0M235.7 1491.2h0M212.6 1489.6h0M217.4 1492.4h0M235.7 1491.8h0M217.3 1491.3h0M225.5 1490.3h0M225.8 1489.2h0M226 1492.4h0M245.5 1503.5h0M246.1 1505.1h0M225.7 1503.2h0M212.3 1505.8h0M233.7 1504.2h0M215.8 1505.8h0M207.8 1503.8h0M235 1504.9h0M211.8 1503.2h0M234.3 1504.5h0M245.7 1503.2h0M233.8 1504.8h0M223 1505.1h0M223.6 1504.9h0M229.1 1505.4h0M222.9 1503.3h0M246.1 1503.3h0M225.9 1503.3h0M224.8 1505.4h0M215.1 1503.2h0M217.3 1504.4h0M215.8 1505.7h0M236.8 1506h0M224.9 1503.8h0M213.3 1504.9h0M212.3 1505.9h0M228.9 1505.2h0M209.9 1505.7h0M231.3 1503.5h0M217.2 1503.9h0M240.5 1504.1h0M212.5 1504.8h0M213.3 1505.1h0M218.2 1503.1h0M228 1504.3h0M212.7 1503.8h0M210.9 1505.7h0M242.3 1504.7h0M235.7 1504.2h0M235.2 1503.9h0M211.4 1503.3h0M211.4 1506h0M203.3 1505.2h0M208.9 1505h0M203.9 1505.9h0M199.1 1504.1h0M178.4 1504h0M173.1 1503.3h0M207.8 1507.7h0M233.5 1508.6h0M238.5 1507.1h0M234.4 1508.7h0M234.4 1507.7h0M246.3 1510.1h0M207 1508.2h0M240.2 1508.1h0M233.7 1508.3h0M225.5 1509.1h0M239.7 1507.7h0M229.5 1508.5h0M230.5 1508.1h0M243.3 1508.9h0M230.9 1509.2h0M240.5 1509.6h0M210.4 1509.4h0M226.3 1509.9h0M239.6 1507.8h0M233.9 1507.5h0M236.4 1507.2h0M238.7 1509.4h0M241.1 1508.7h0M227.4 1507.6h0M218.6 1508.7h0M247.9 1509.9h0M206.8 1508.7h0M238.8 1508h0M238.3 1508.6h0M241.7 1508.7h0M248.7 1509.7h0M239.6 1508.5h0M217.4 1509.6h0M210.6 1509.9h0M209.5 1508.4h0M239.3 1509.7h0M221.1 1507.2h0M215.9 1509.2h0M220.1 1507.6h0M228.6 1508.2h0M200.6 1507.8h0M196.8 1509.8h0M199.3 1507.6h0M206.3 1508.5h0M211.1 1508.5h0M197.7 1508.5h0M189.2 1509.1h0M185.2 1509.9h0M170.2 1507.8h0M169.4 1507.4h0M246.5 1513.6h0M240.9 1512.3h0M234.6 1513.2h0M233.2 1512.7h0M234.5 1511.1h0M245.7 1512.8h0M228.1 1513.3h0M218.5 1512.8h0M213.1 1511.6h0M219.4 1512.7h0M238.7 1511.6h0M211.7 1513.7h0M222 1513.9h0M236.5 1512.2h0M244.1 1513.7h0M233.6 1513.5h0M206.3 1512.8h0M208.7 1512.6h0M218.7 1513.7h0M208.6 1512.9h0M214.7 1513.4h0M219.5 1511.1h0M232.6 1513h0M224.6 1511.8h0M214.3 1510.9h0M249.1 1511.2h0M235.5 1511.5h0M209.6 1512.9h0M242.1 1513.3h0M210.5 1513.3h0M235.5 1511.1h0M238.6 1513.9h0M236 1511h0M215.1 1511.2h0M237.3 1512.1h0M217.7 1512h0M221.5 1513.2h0M209.9 1512.1h0M240 1511.8h0M229.4 1510.9h0M206.4 1511.8h0M203.7 1511.7h0M210.9 1512.9h0M204.1 1511.3h0M196.3 1512.8h0M199.5 1511.3h0M187.5 1512h0M184.4 1513.1h0M219.3 1516.6h0M221 1515.3h0M250.3 1516.6h0M228.6 1516.9h0M239.9 1517.1h0M208.1 1516h0M212.6 1517.5h0M219.8 1515.3h0M225.1 1517h0M213.1 1516.1h0M239.2 1517.2h0M246.4 1516.7h0M242.8 1514.9h0M227.5 1517.2h0M250.3 1516h0M248.7 1517.3h0M239.5 1514.9h0M207.6 1515.7h0M246.1 1517.3h0M230.4 1517.2h0M210.2 1516.6h0M218.8 1516.9h0M209.7 1517.3h0M217.9 1515.4h0M220 1516.4h0M228.2 1516h0M230.1 1515.3h0M225.5 1514.9h0M229.6 1516.7h0M229.5 1514.9h0M222.8 1517.6h0M243.3 1515.6h0M242.1 1517.4h0M215.8 1516.2h0M234.4 1515.2h0M235.7 1515.3h0M226 1515.2h0M235.1 1516.8h0M232.5 1515.8h0M240.3 1517.6h0M196.6 1516.2h0M199.2 1515.1h0M206.8 1514.9h0M196.7 1516.8h0M203.3 1517.8h0M199.1 1517.6h0M198.2 1514.9h0M198.1 1514.9h0M179.3 1515h0M176.6 1516.6h0M221.1 1520.4h0M229 1519.1h0M207 1520.8h0M236.3 1519.8h0M249.7 1519.6h0M239.9 1520.4h0M243.6 1519.3h0M211.9 1519.8h0M214.5 1520.1h0M246.9 1520.1h0M215.2 1519.9h0M221.8 1521h0M242.1 1520.5h0M216 1519.5h0M235.5 1519h0M247.5 1518.9h0M244.3 1518.9h0M239.9 1521.1h0M223 1521.7h0M232.3 1520.9h0M230.5 1518.7h0M219.8 1520.8h0M210.3 1519.6h0M213.7 1518.8h0M207.2 1518.9h0M229 1519.7h0M212.5 1520.9h0M244 1521.6h0M210.6 1520.1h0M206.8 1520.4h0M233.4 1519.1h0M247.4 1519.8h0M236.9 1520.6h0M228.4 1521.3h0M235.1 1520h0M214.1 1519h0M240.9 1519h0M214.2 1520.6h0M212.8 1521.4h0M220.9 1519.3h0M205.7 1521.1h0M207.8 1521.8h0M207.5 1521.1h0M204.4 1521h0M207.8 1521.7h0M205.8 1520.3h0M185.6 1518.8h0M185.5 1519.8h0M175.6 1521.2h0M174.3 1519.6h0M210 1530.3h0M245.6 1530.6h0M213.2 1529.5h0M242.6 1530.2h0M243.1 1531.1h0M213.5 1528.8h0M244.9 1531h0M208.6 1530.2h0M231.9 1528.5h0M239 1531.1h0M232.8 1529.9h0M244 1529.6h0M245.9 1529.6h0M227.2 1529.5h0M235.8 1531.2h0M206.5 1529.5h0M216.2 1529.4h0M208 1529.4h0M222.8 1529.4h0M220.4 1530.6h0M232.4 1530.4h0M241.5 1530h0M212.1 1530.8h0M207.7 1529h0M208.4 1529.9h0M246.7 1529h0M224.1 1529.3h0M241.5 1528.9h0M227.8 1529.7h0M213.3 1530.8h0M246.3 1528.2h0M239.3 1530.5h0M229.5 1530.6h0M214.7 1528.4h0M212.2 1530.3h0M224.2 1530h0M240.5 1531h0M211.5 1529.2h0M234.6 1529.8h0M227.7 1528.2h0M201.2 1528.5h0M210.7 1530.4h0M201.6 1528.4h0M211.1 1529.7h0M208.7 1530.9h0M208.1 1528.6h0M193.3 1529h0M193.7 1530.7h0M223.9 1533h0M225.9 1534.9h0M224.5 1532.6h0M237.9 1532.7h0M237.9 1532.7h0M224.7 1533.4h0M250 1533.8h0M215.4 1533.8h0M212.5 1533h0M246.9 1534h0M218.1 1532.2h0M229.8 1532.4h0M212.8 1534.6h0M224 1534.6h0M233.1 1533.7h0M248.4 1534.9h0M232.2 1535h0M241.4 1535h0M232.7 1533.8h0M213 1533h0M217.4 1533.4h0M248 1532h0M249.5 1532.7h0M217.6 1533.6h0M210.2 1533.2h0M220 1533.7h0M215.9 1532h0M247.2 1533.3h0M243.2 1532.7h0M221.6 1533.4h0M229.1 1533.2h0M233.5 1533h0M245.9 1534.3h0M232.2 1533.3h0M229.3 1532.5h0M214.5 1534.7h0M206.3 1532.2h0M222.9 1532.8h0M223.6 1533.7h0M231.4 1535.1h0M199.7 1534.7h0M204.6 1532.8h0M207.3 1532h0M207.4 1533h0M209.5 1533.6h0M211 1532.6h0M181.1 1533.6h0M177.1 1533.7h0M225.5 1536.2h0M207.7 1538.4h0M222 1538.3h0M240.3 1536.5h0M239 1538h0M239.7 1538.2h0M244.3 1539h0M209.8 1536.1h0M221.1 1537.9h0M247.1 1536.9h0M224.7 1536.7h0M236.3 1538.9h0M215 1537.8h0M224.3 1538.4h0M222.6 1538.9h0M224.8 1537.1h0M239.4 1538.7h0M207.7 1537.8h0M221 1536.4h0M221.5 1538.1h0M225.1 1537h0M242.5 1535.9h0M249.4 1536.8h0M232.5 1538.7h0M238.1 1537.7h0M250.6 1536.1h0M231.2 1537.8h0M232.3 1538.1h0M229.3 1538.5h0M213.8 1536.9h0M223.3 1536.8h0M230.6 1536.9h0M221.3 1537.8h0M237.1 1537.3h0M214.8 1539h0M237.2 1536.1h0M239.5 1538.3h0M209.4 1537h0M243.2 1537h0M235.9 1536.6h0M210.4 1537h0M205.6 1535.9h0M207.6 1536.8h0M202.7 1537.6h0M203.3 1539h0M206.2 1537.9h0M173.5 1537.3h0M167.6 1537.2h0M236.1 1542.5h0M222 1540h0M219.4 1540.3h0M240.9 1542.2h0M240.1 1539.9h0M206.8 1539.9h0M210.1 1542.6h0M242.4 1541.7h0M243.1 1540h0M243.9 1540.9h0M227.4 1542.2h0M225.1 1541.7h0M232.7 1540.1h0M209.1 1541.7h0M217.1 1541.3h0M233.5 1541h0M221.6 1540.6h0M238.2 1539.9h0M250.6 1542.3h0M223.6 1541.2h0M233.9 1540.9h0M209.6 1541.6h0M247.5 1541.2h0M233.5 1540.8h0M211.3 1542.8h0M221 1542.7h0M219.9 1541.4h0M226.1 1540.7h0M231.5 1541.8h0M238.5 1540.1h0M209.6 1541.2h0M248 1541h0M247.2 1542h0M211.5 1540.7h0M215.3 1540h0M207.8 1542.6h0M207.6 1541.9h0M249 1539.8h0M245.5 1542.2h0M212.2 1540.6h0M208.2 1542.3h0M207.2 1540.6h0M196.7 1541.7h0M198.6 1542.8h0M200.9 1541.8h0M208.7 1541.3h0M186.5 1540.7h0M195.4 1542.3h0M171 1542h0M167.2 1542.2h0M229.3 1554.9h0M240.6 1552.5h0M207.2 1554.3h0M212.3 1552.5h0M230.7 1553.4h0M247.3 1553.9h0M230.4 1553.6h0M249.1 1554.3h0M229.9 1555h0M210.8 1553.3h0M214.9 1552.6h0M233.1 1553.5h0M229.5 1552.4h0M245.8 1554.8h0M243.4 1554.8h0M228.4 1553.6h0M249.6 1552.3h0M206.6 1553.4h0M239.5 1554.8h0M215.9 1554.2h0M232.2 1552.3h0M230.3 1552.8h0M222.5 1554.3h0M245.5 1554.7h0M207.6 1555.1h0M239.6 1553.6h0M238.9 1553.2h0M228.4 1552.5h0M223.4 1555.2h0M230.9 1552.3h0M229.1 1552.6h0M249.5 1554.9h0M237.3 1554.3h0M235.2 1553.4h0M224.2 1553.8h0M227.1 1553.1h0M239.1 1552.1h0M221.3 1554h0M239.2 1554.4h0M230.5 1553.6h0M196.7 1552.4h0M200.5 1554.6h0M202.5 1554.4h0M209.9 1554.5h0M198.4 1552.3h0M197.5 1553.5h0M190.2 1554.9h0M195.7 1554h0M227 1556.6h0M243.2 1556.3h0M246.6 1557.9h0M229.3 1556.9h0M243.7 1557.5h0M234.6 1557.3h0M225.9 1559h0M237.7 1556.2h0M235.2 1556.8h0M246.5 1559.1h0M209.9 1556.4h0M221.7 1558.9h0M229.1 1556.9h0M232.3 1556.8h0M240.9 1556.7h0M243.4 1558.8h0M217 1558.9h0M225 1557.1h0M229.2 1556.2h0M244.6 1556.5h0M216.6 1556.5h0M238.3 1556.6h0M219.8 1557.6h0M231.9 1557.8h0M211.5 1558.7h0M217.4 1557.7h0M248.3 1556.5h0M216.5 1558.4h0M214.3 1558.5h0M217.8 1556.5h0M246 1558.9h0M218.8 1558.3h0M235.1 1558.8h0M247.4 1556.5h0M245.1 1557.3h0M248 1556h0M245.3 1556.8h0M206.9 1557.7h0M226.6 1557.2h0M237.5 1558.9h0M202.4 1556.3h0M207.6 1559.1h0M200.2 1557.4h0M198.3 1558.9h0M203.5 1557.2h0M209.5 1557.9h0M199.5 1556h0M193.6 1557.4h0M241.1 1561.5h0M212.3 1560.2h0M250.6 1560.6h0M231.2 1561.7h0M248.4 1562.3h0M216.7 1563h0M250.6 1563h0M206.1 1561.2h0M215.1 1562.1h0M228.8 1560.1h0M209.9 1562.7h0M244 1561.6h0M247.9 1561.6h0M210.4 1562.7h0M238.6 1560.6h0M228.5 1560.4h0M209.9 1561.8h0M245.3 1561h0M228.2 1563h0M212.6 1560.1h0M236.3 1560.1h0M224.5 1562.2h0M250.6 1561.8h0M230 1560.8h0M216.4 1561.6h0M241.4 1560.5h0M248.1 1561.5h0M222.7 1560.9h0M241.4 1562.1h0M250.3 1561.8h0M226.9 1562h0M248.6 1561h0M237 1561.5h0M230 1559.9h0M245.3 1561.4h0M233.1 1560.7h0M240.8 1562h0M228.3 1562.1h0M215.6 1560.5h0M206.1 1561.7h0M209.1 1561.9h0M206.4 1560.6h0M211.4 1560.5h0M211 1562h0M196.6 1560.8h0M210.1 1562h0M196.3 1562.6h0M198.4 1562.3h0M215 1565.8h0M232 1566.9h0M218.2 1563.8h0M218.5 1565.8h0M231.2 1565.7h0M206.8 1566.8h0M218.6 1563.9h0M222.8 1566.3h0M244.2 1565.1h0M242.8 1566.8h0M230.4 1566.5h0M223.8 1565.2h0M225 1564.1h0M227.3 1563.8h0M206.7 1565.1h0M222.8 1565.5h0M245.6 1565.6h0M222.7 1566.6h0M249.4 1565.6h0M218.3 1566.9h0M213.3 1564.6h0M229.5 1566.8h0M245.1 1564.5h0M218.8 1566.5h0M222.7 1565.6h0M248.3 1566.4h0M217.6 1566.6h0M215.2 1563.9h0M240 1565.5h0M245.3 1565.4h0M229.2 1564.9h0M243.3 1565.3h0M226.8 1565.6h0M249.2 1564.9h0M207.4 1565.2h0M250.3 1566.6h0M222.1 1566.1h0M211.4 1565.8h0M221.2 1564.3h0M228.7 1564.5h0M205.4 1566h0M209.5 1565.1h0M198.6 1564.9h0M203.9 1566.5h0M206.9 1564.1h0M208.9 1564h0M195.2 1564.2h0M187.1 1565h0M173.6 1564.6h0M185.4 1565.5h0M231.3 1570.1h0M212.6 1569.3h0M220 1569.4h0M223.2 1567.7h0M228 1567.9h0M212 1569.2h0M226.3 1570.5h0M234.2 1568.7h0M225.7 1568h0M212.7 1569.4h0M212.9 1568.1h0M234.5 1570.4h0M233.1 1570.4h0M226.2 1569.5h0M228.7 1568.7h0M248.8 1568.2h0M216.1 1569.1h0M246.9 1570.4h0M245.7 1568.3h0M230.2 1570.5h0M206.7 1568.7h0M230.3 1569.7h0M235.7 1570.5h0M237.1 1570.4h0M248.7 1569.9h0M250.6 1568.9h0M217.3 1569.5h0M240.2 1570.3h0M227.5 1568.5h0M240.4 1568.2h0M237 1570h0M212 1568.5h0M226.3 1569.4h0M247.1 1568.5h0M224.7 1569.7h0M215 1569.9h0M211.8 1570.1h0M235.1 1569.5h0M249.4 1568.9h0M234.4 1570.8h0M199.7 1568.3h0M201.9 1570.2h0M204.3 1568.9h0M197.9 1568.7h0M202.1 1568.7h0M196.6 1568.7h0M241.1 1574.1h0M218.6 1574.5h0M232 1574.4h0M237.7 1574.2h0M207.9 1573.3h0M234.6 1574.4h0M228.5 1572.2h0M248.5 1572.8h0M207.2 1572.6h0M244.7 1574.7h0M235.8 1572.1h0M244.2 1571.9h0M216.3 1572.9h0M243.7 1573.5h0M210 1573.5h0M222.6 1573.6h0M246.8 1574.4h0M233.8 1574.1h0M221.4 1574.1h0M249.7 1573.6h0M240.9 1572h0M208.4 1573.4h0M238.6 1574h0M250.6 1572.3h0M241 1573.8h0M213 1573.1h0M241.9 1572.5h0M220.1 1574.3h0M211.6 1574.2h0M241 1572.6h0M213.7 1573.8h0M235.9 1574.6h0M250.3 1574.1h0M232.8 1574.2h0M223.5 1572.6h0M250.4 1574.2h0M233.9 1574.6h0M228.1 1572.6h0M213.2 1573.8h0M208.3 1573.5h0M204.3 1572.6h0M209.5 1574.5h0M199.3 1573.3h0M200.2 1573.1h0M196.2 1574.7h0M200.4 1573h0M229.8 1577.5h0M221 1577.6h0M250.5 1578.5h0M236.8 1578.1h0M221.8 1575.7h0M247.8 1576.4h0M235.9 1577.5h0M250.6 1577.4h0M216.5 1577.1h0M218 1578.5h0M231 1577.5h0M240.5 1578.5h0M241.3 1578.6h0M212.2 1577.4h0M222.2 1576h0M214.1 1576.6h0M246.3 1577.5h0M240.2 1577.2h0M223.1 1576.7h0M212.9 1577.5h0M237.2 1577.7h0M247.9 1576.6h0M238.3 1578h0M231.5 1576.9h0M250.6 1577.5h0M217.7 1577.5h0M232.9 1578.1h0M233.4 1576.9h0M223.6 1577h0M244.5 1577.2h0M248.1 1578.3h0M206.5 1577.6h0M206.9 1578.1h0M224 1578.2h0M223 1577h0M243.2 1577.9h0M219.4 1578.4h0M222.9 1578.6h0M232.4 1577.2h0M230.3 1576h0M199.2 1576.4h0M205.6 1575.6h0M207.4 1575.7h0M207.6 1577.5h0M209.5 1576.5h0M206.8 1578.3h0M185.4 1578h0M195.9 1576.3h0M228.7 1579.6h0M213 1580.8h0M216.9 1581.7h0M220.2 1580.2h0M229.5 1581.1h0M224.4 1581.7h0M224.8 1580.7h0M246.6 1579.4h0M240.4 1580.3h0M243.8 1581.8h0M245.3 1581.6h0M236.9 1580.3h0M250.6 1579.9h0M225 1582.3h0M217 1581.2h0M234.7 1581.3h0M209.2 1579.6h0M207.4 1582.2h0M238.3 1580.8h0M219.3 1580.2h0M224 1581.8h0M230.4 1579.7h0M217.9 1580.3h0M214.6 1582.1h0M218 1581.9h0M234.6 1582.3h0M245.8 1579.9h0M215.9 1580.1h0M248.4 1582.1h0M247.3 1579.5h0M229.6 1580.9h0M246.7 1579.4h0M241.7 1579.7h0M216.9 1580.7h0M243.8 1582.3h0M212.2 1581.8h0M212.3 1581.1h0M247 1581.1h0M244.2 1581.2h0M229.5 1580.4h0M206.2 1580.6h0M200.9 1581.5h0M208.1 1580.9h0M200.7 1580.2h0M210.4 1581.6h0M206.8 1580h0M187.5 1580.4h0M190.5 1580.9h0M179.2 1580h0M167.4 1581.1h0M211.8 1585.1h0M208.3 1583.6h0M208.8 1584.9h0M233.8 1585.1h0M230.9 1585.3h0M249.7 1583.8h0M207.2 1585h0M208.6 1585.4h0M226.5 1584.3h0M233.4 1585.8h0M219 1585.8h0M222.9 1586h0M217.5 1585.8h0M210.3 1584.3h0M236.8 1585.9h0M222.4 1585.3h0M240.4 1584.8h0M208.4 1585.3h0M244.9 1584.3h0M250 1585.5h0M210.9 1584.5h0M225.6 1584.9h0M247.8 1584.9h0M221.3 1585.7h0M236.4 1585.2h0M229.5 1584.3h0M213.4 1585.7h0M222.5 1584.3h0M226.2 1585.3h0M217.6 1583.3h0M232.5 1586.3h0M212.3 1584.4h0M207 1583.5h0M227.4 1585.1h0M220.7 1585.1h0M237.5 1586.1h0M214.9 1583.7h0M243.1 1584.6h0M210.6 1583.8h0M225.1 1584h0M199.8 1585.9h0M202.7 1585.3h0M203.6 1585.3h0M202.6 1584h0M203.1 1584.2h0M205.4 1583.6h0M237.5 1587.4h0M250.6 1589.3h0M243.9 1589.1h0M237 1589.8h0M236.8 1587.5h0M219.9 1587.9h0M231.3 1588.3h0M213.1 1589.6h0M247.2 1589.3h0M214.4 1588.2h0M213.5 1589.2h0M250.6 1587.7h0M242.9 1588.4h0M206 1588.8h0M219.9 1588.9h0M212 1587.7h0M217.8 1589.1h0M239.8 1587.8h0M215.4 1588.3h0M219.1 1587.4h0M221.5 1588.7h0M226.9 1589.6h0M206.1 1587.2h0M242.4 1588.2h0M221 1589.7h0M229.8 1590.2h0M237.7 1589.2h0M238.4 1589.9h0M213.1 1587.7h0M222.4 1588.3h0M224.9 1590.3h0M215.5 1588h0M232.9 1587.9h0M217.6 1587.3h0M210.3 1589.8h0M223.3 1589.9h0M230.6 1589.5h0M248.6 1587.3h0M211.1 1587.9h0M247.2 1588.4h0M208.6 1588.6h0M201 1588.2h0M199.5 1587.4h0M202.9 1590.2h0M197.2 1589.9h0M204.9 1589.3h0M197.5 1588.2h0M192.7 1588h0M170.2 1587.8h0M168.9 1590h0M245.5 1593.4h0M220.2 1591.3h0M243.4 1592.9h0M248.9 1593.2h0M242 1592.5h0M250.5 1592.2h0M246.4 1591.5h0M231.7 1591.7h0M239.7 1593.9h0M241.8 1594h0M249.8 1593.4h0M241.7 1593.3h0M248 1591.2h0M224.5 1594h0M226.6 1591.4h0M215.2 1592.2h0M233.6 1593.3h0M249.6 1593h0M246.1 1591.7h0M217.7 1593.1h0M232.6 1594.1h0M208.6 1591.1h0M250.2 1592.9h0M208.5 1591.3h0M234 1593.3h0M208.3 1593.6h0M224.7 1592.8h0M247.2 1591.8h0M235.4 1593.9h0M242.1 1593.7h0M249.1 1592.8h0M246.1 1591.3h0M219 1592.4h0M246.3 1592.7h0M239.1 1593.1h0M221.5 1593.2h0M232.7 1593.5h0M213.7 1591.5h0M225.5 1591.4h0M231.7 1591.6h0M208.2 1591.4h0M208.9 1593.8h0M207.1 1592h0M202.1 1592.2h0M208.7 1591.5h0M199.2 1592.5h0M184.2 1592h0M169.1 1593.1h0M227.8 1595.4h0M213.6 1597.6h0M228.3 1595.8h0M250.6 1596.3h0M233.3 1596.2h0M216 1595.3h0M216.7 1597.7h0M239.9 1595h0M220.4 1598h0M228.5 1595.9h0M223.2 1596.6h0M243 1597.1h0M224.3 1595h0M243.2 1596.6h0M249.6 1595.2h0M210.1 1596h0M209 1596.2h0M207.3 1596h0M224 1596h0M246.5 1597h0M242.8 1596.7h0M213.6 1595.7h0M241.9 1597.6h0M240.7 1596.4h0M244.2 1595.2h0M226.1 1595.8h0M244.8 1595.3h0M209.2 1597.6h0M215.9 1596.9h0M231 1596.4h0M226.6 1598h0M225.7 1595.4h0M206.3 1596.7h0M240.8 1597.9h0M218.6 1596.8h0M222.8 1596.2h0M215.5 1597.9h0M244.5 1597.5h0M248.9 1595.8h0M235.4 1597.7h0M203.6 1597.8h0M202 1595.4h0M211.1 1596.1h0M206.5 1596.7h0M202 1595.4h0M197.2 1597.6h0M185.8 1597.5h0M191.1 1597.5h0M212.6 1601.4h0M247.3 1600.4h0M247 1600.6h0M206.3 1601.2h0M244.8 1599.9h0M243.8 1600.1h0M207.9 1600.6h0M211.7 1599.6h0M242.6 1600.3h0M206.4 1600.5h0M206.3 1601.4h0M235.2 1601.7h0M221.8 1600.1h0M223.6 1599.8h0M250.3 1600.5h0M243.2 1599.6h0M234.6 1601.6h0M234.1 1601.7h0M211.2 1601.6h0M239.3 1600.2h0M215.2 1601.8h0M227.6 1600.8h0M228.5 1599.7h0M210 1600.5h0M232 1601.1h0M216.6 1601h0M230.3 1599h0M232.3 1602h0M236 1599.6h0M211.3 1599h0M214.3 1599.2h0M232.3 1601.8h0M223.9 1601h0M234.8 1599.1h0M215.1 1599.9h0M246.4 1599.1h0M222.6 1601.2h0M250.1 1599.6h0M230.6 1601.9h0M243.1 1600.2h0M201.5 1600.7h0M210.8 1601.9h0M211.6 1599.7h0M211.8 1601.5h0M200.9 1601.9h0M199 1601.4h0M186.8 1599.6h0M195.5 1599h0M173.5 1601h0M170.3 1599.2h0M209.8 1604.5h0M226.6 1605.7h0M216 1605.3h0M216.5 1605.7h0M246.4 1604.9h0M210.9 1604.8h0M241.2 1605.5h0M233.9 1604.9h0M219.6 1603h0M216.5 1603.8h0M211.7 1605.3h0M213.9 1603.6h0M245.3 1603.3h0M208.1 1602.9h0M219.5 1605.2h0M213.4 1603.7h0M211 1604.7h0M234.7 1604.1h0M225.8 1602.8h0M207.7 1603.2h0M207.1 1605.3h0M249 1603.4h0M225.7 1602.9h0M231.6 1605h0M225.3 1605.8h0M217.7 1605.5h0M250.6 1604h0M233.1 1604.1h0M245.5 1605.4h0M207 1605.6h0M248.2 1603.9h0M216.3 1603.9h0M243.9 1603.6h0M223.2 1604.6h0M218.1 1603.4h0M228.1 1603.6h0M230.1 1603h0M239.7 1604.7h0M240.2 1604.5h0M243.4 1603.3h0M201.5 1603.5h0M197.7 1604.7h0M209 1605.3h0M201.3 1605h0M199.1 1603.4h0M206.1 1603.5h0M207.1 1607h0M216.3 1607.2h0M224.2 1607.4h0M233.2 1609h0M223 1607.9h0M221.5 1608.1h0M223.9 1609.4h0M230.9 1609h0M232.6 1608.1h0M227.3 1609.1h0M218.8 1608.8h0M216.3 1608.8h0M248 1607.6h0M234.8 1608.8h0M231.8 1607.6h0M215.8 1607.6h0M212 1608.7h0M235.8 1606.8h0M221.3 1607.8h0M245.5 1608.7h0M211.6 1608.7h0M230.6 1609.1h0M210.8 1609.6h0M209.7 1607.8h0M226.7 1607.6h0M221.6 1608.1h0M247.9 1609h0M226.7 1608.5h0M233.6 1609.2h0M217.4 1608.6h0M237.2 1608.4h0M232.5 1607.1h0M231.7 1608.6h0M247.8 1608.9h0M248.1 1609.6h0M213.2 1609.3h0M238.3 1608.9h0M226.3 1608.3h0M223 1607.9h0M215.1 1608h0M205.4 1609.2h0M204.2 1609.7h0M211.3 1609.7h0M204.5 1607h0M210.6 1608.6h0M208.2 1608h0M199.2 1609.7h0M190.5 1608.8h0M241.8 1613.4h0M242 1612.2h0M226.6 1613.3h0M221.3 1611.3h0M249.1 1611.7h0M234 1610.6h0M213.8 1611.2h0M225.2 1611.8h0M217.8 1613h0M208.2 1612.7h0M220.3 1611.7h0M229.7 1611h0M218.9 1611.7h0M240.9 1611.5h0M236.7 1611.8h0M242.8 1612.8h0M236.8 1613.2h0M221.1 1612.2h0M209.6 1613.5h0M210.6 1610.9h0M245.9 1611.8h0M236.8 1613.5h0M216.6 1613.5h0M221.2 1612.3h0M245.8 1612.3h0M229.1 1611.1h0M211.4 1610.8h0M228.7 1611.7h0M243.5 1610.7h0M240.7 1610.6h0M222.2 1611.5h0M207.4 1613.1h0M213 1612h0M239 1612.9h0M241.9 1611.2h0M212.9 1611.1h0M224.7 1611.1h0M218.6 1613.5h0M230.1 1612h0M215.3 1613.2h0M198.3 1611.6h0M207.9 1613.5h0M201.7 1612.2h0M201.8 1612.4h0M207 1611.7h0M197.6 1610.8h0M192 1610.8h0M192.6 1610.9h0M178.5 1610.9h0M180 1613.4h0M233 1616.9h0M211.1 1615.6h0M208.9 1614.9h0M239.2 1617.3h0M245 1615.8h0M236.8 1616.1h0M248.4 1614.7h0M222.5 1615.3h0M227 1615.7h0M218 1616.6h0M227.2 1616.3h0M242.6 1615.2h0M232.1 1614.9h0M240.7 1615.3h0M235.4 1615.3h0M233.1 1615.8h0M226.1 1616.2h0M242.2 1616.8h0M209.1 1614.6h0M240.2 1616.1h0M237.8 1616.8h0M229.7 1615.6h0M210.5 1616.2h0M207.2 1616.6h0M226 1616.1h0M244.1 1616h0M233 1616.7h0M236.5 1616h0M217.5 1616.5h0M213.4 1615.9h0M225.7 1617.4h0M245.8 1616.3h0M224.6 1615.8h0M227.2 1614.7h0M230.9 1615.6h0M230.3 1616.6h0M245.4 1615.3h0M215.2 1616.8h0M225 1617.2h0M232 1614.8h0M205.6 1616.2h0M201 1616.6h0M197.3 1617.3h0M208 1614.6h0M205.3 1614.9h0M201.5 1615h0M199.2 1616.7h0M196.1 1616.6h0M183.4 1616.8h0M171.8 1616.6h0M222.6 1620.2h0M243.8 1619.8h0M246.3 1620.3h0M209.3 1621h0M248.5 1621.2h0M242 1619.1h0M234.9 1620.5h0M245.9 1618.9h0M227.1 1619.5h0M214.6 1618.5h0M219.2 1621.3h0M215 1621.3h0M225.9 1620.6h0M206.3 1620.5h0M227.6 1620.3h0M235 1619.3h0M218.4 1618.9h0M235.2 1618.6h0M246.4 1618.8h0M216 1621.4h0M206.5 1621.2h0M240 1620.5h0M233.7 1620.9h0M242.9 1619h0M221.6 1620.8h0M220.1 1619.6h0M210 1620.6h0M228.2 1620.8h0M225.7 1619.8h0M222.1 1619.6h0M211 1619.9h0M230.7 1619.2h0M207.8 1619.8h0M226.7 1619.9h0M208.5 1619.4h0M245.7 1619.8h0M208.2 1619.1h0M225.7 1619h0M225.8 1620.2h0M235.9 1620.8h0M211.8 1621.1h0M199.5 1621.1h0M207.6 1619h0M209.6 1621.3h0M199.9 1620.8h0M205.5 1619.9h0M186.1 1621.3h0M188.5 1619.6h0M181.1 1618.8h0M171.7 1619.8h0M212.5 1624.3h0M219.9 1622.3h0M244.9 1622.4h0M211.2 1623.6h0M217.7 1624.7h0M233.9 1624.8h0M211.1 1624.8h0M215.2 1624.7h0M242 1625.2h0M217.5 1622.3h0M231.8 1625.1h0M234.2 1623.6h0M229 1622.6h0M250.6 1623.6h0M234.4 1622.3h0M223.8 1623.6h0M240.2 1623.9h0M235.6 1622.9h0M210.1 1624.1h0M232.4 1623.9h0M215.2 1623.8h0M219.7 1623.6h0M214.8 1624.5h0M217.3 1622.7h0M208 1624.1h0M221.8 1622.6h0M243.7 1623.1h0M232.4 1624.4h0M214.9 1623.7h0M249 1623.4h0M231 1625h0M231 1624.8h0M207.1 1624.5h0M248 1625h0M243.3 1624.5h0M212.6 1624.1h0M223.9 1623.1h0M224.5 1624.1h0M234.4 1622.3h0M222.1 1623.8h0M205.6 1624.2h0M207.1 1624.5h0M208.7 1625.3h0M196.8 1625h0M200.2 1624.6h0M198.5 1625h0M196.7 1624.9h0M190 1623.6h0M232.8 1629.1h0M211.6 1628.8h0M223.8 1627.5h0M220.5 1627.4h0M214.9 1628.8h0M206.2 1626.5h0M207.6 1628.2h0M233.3 1629h0M223.7 1626.9h0M212.1 1628.9h0M227.4 1627.9h0M244.2 1627.9h0M230.7 1627h0M228.1 1626.7h0M211.2 1626.4h0M239.2 1627.9h0M207.3 1627.9h0M243.5 1628.2h0M208.1 1628.8h0M207 1628.5h0M226.9 1628.4h0M221.3 1626.4h0M239.3 1627h0M225.2 1627.3h0M206.1 1627.6h0M219.1 1626.2h0M227.4 1628.5h0M210.6 1626.7h0M228.7 1628.3h0M222 1626.3h0M226.9 1629.3h0M249.9 1629.1h0M215.8 1626.3h0M208 1629h0M222.8 1626.7h0M222.9 1628.6h0M232.3 1626.6h0M227.9 1627.6h0M238 1626.4h0M212.5 1627.5h0M203 1628.7h0M197.2 1628.2h0M205.1 1627.1h0M209.7 1628h0M205.8 1627.2h0M196.5 1628.3h0M189.3 1629h0M187 1626.8h0M180 1627.2h0M178.3 1626.4h0M207.1 1631.9h0M219.9 1631.7h0M236.8 1631.7h0M232.3 1631.5h0M248.9 1631.8h0M234.7 1632.3h0M210.8 1631.9h0M234.2 1630.3h0M220.1 1631.1h0M217.3 1630.9h0M211.3 1631.4h0M222.4 1631h0M247.4 1630.5h0M232.9 1633.1h0M237.4 1633.1h0M219.1 1632.4h0M241.4 1632.7h0M214.8 1630.9h0M228.7 1631.5h0M226.3 1631.8h0M233.1 1630.8h0M247 1633h0M241.4 1631.8h0M207.1 1633h0M236.6 1631.9h0M206.9 1630.2h0M247.2 1632.9h0M250.6 1631h0M238 1631.3h0M211.8 1631.5h0M231.1 1633h0M207.5 1631.6h0M238.5 1630.9h0M236.3 1633h0M243.1 1632.8h0M222.4 1632h0M214.2 1631.5h0M220.4 1632.6h0M216.1 1632.7h0M212.5 1630.3h0M206 1632h0M201.6 1633.2h0M197.3 1632.8h0M207.1 1630.2h0M199.7 1631.5h0M203.6 1631.8h0M178.3 1631.3h0M178.2 1632.8h0M244.6 1634.8h0M212 1636h0M210.1 1636.2h0M236.9 1636.4h0M224 1636.7h0M247.9 1634.8h0M228.6 1634.1h0M210.8 1634.9h0M250.6 1634.6h0M248 1634.3h0M238 1635h0M207.2 1635.2h0M211 1635.9h0M212.7 1634.2h0M219.8 1636.8h0M222 1635.8h0M210 1635.1h0M241.6 1634h0M248.2 1634.8h0M244.2 1634.2h0M243.8 1636.6h0M208.7 1635.6h0M242.5 1636.3h0M240.7 1634.7h0M233.1 1634.1h0M211.4 1634h0M246.3 1635.4h0M239.1 1636.6h0M248.2 1634.2h0M235.1 1634.6h0M221.9 1635.6h0M240.3 1635.3h0M247 1634.7h0M219 1636.9h0M244.8 1635.6h0M208.5 1635.6h0M213.2 1635.8h0M212.9 1636.4h0M219.1 1635.7h0M249.5 1636h0M201.7 1636.3h0M206.4 1635.6h0M204.1 1634.8h0M198.3 1635.6h0M198.8 1636.2h0M210.7 1636h0M194.2 1636.6h0M184.1 1634.4h0M184.9 1634.9h0M169.6 1635.8h0M239.6 1640.3h0M218.5 1640h0M212.3 1638.6h0M220.6 1638.7h0M213.9 1639.2h0M242.3 1640h0M225.4 1639.6h0M241.7 1638.5h0M215.5 1638.4h0M242 1638.9h0M214.8 1639.6h0M245.3 1638.1h0M246.7 1640.9h0M229.8 1640.4h0M215.9 1640.5h0M233 1638.1h0M240.6 1639.6h0M217.8 1639.4h0M236.6 1640.6h0M214.9 1638.9h0M223.4 1639.7h0M228.5 1639h0M231.6 1640.5h0M242.6 1638.4h0M210.3 1639.1h0M219.8 1638.3h0M246.2 1637.9h0M208.9 1639.2h0M241 1640.2h0M220.1 1638.1h0M228.4 1639.8h0M237.4 1639.4h0M208 1638.1h0M222.4 1640.9h0M227.3 1639.4h0M244.6 1638.2h0M241.7 1638.7h0M225.6 1639.7h0M244.4 1638.8h0M250.3 1639.4h0M201 1640.3h0M209.5 1640.3h0M201.9 1640.3h0M200 1639.3h0M198 1640.1h0M199.5 1640.2h0M189.7 1638.5h0M187.4 1639.4h0M243.2 1643.7h0M245.1 1642h0M225.6 1644.3h0M210.2 1642.6h0M247.8 1644.4h0M227.1 1644.1h0M249.4 1642.1h0M208.2 1644.2h0M246 1642.2h0M222.9 1642.8h0M208.8 1642.1h0M248.6 1642.9h0M224.4 1644.1h0M244.1 1642.9h0M221.7 1642.4h0M232.4 1644.2h0M218 1644h0M225.6 1643.3h0M217.5 1643.2h0M211.5 1644.3h0M221.2 1643.5h0M234.5 1642.2h0M234.6 1644.6h0M220.7 1643.2h0M213.6 1642.6h0M234.8 1644.3h0M234.9 1642.5h0M206.4 1643.6h0M236.5 1644.1h0M217.7 1642.1h0M223 1644.6h0M230 1643.8h0M206.5 1643.5h0M225.7 1644.4h0M232.5 1643.8h0M222.1 1642.8h0M219.6 1641.8h0M227.7 1642h0M217.1 1642.9h0M234.5 1643.6h0M196.3 1641.8h0M199.7 1643.6h0M205.1 1643.7h0M211.6 1641.9h0M206.5 1642.2h0M207.9 1643.1h0M198.3 1642.3h0M197.7 1642.4h0M169.7 1643.1h0M171.1 1642.9h0M246.5 1651.2h0M231.7 1653.2h0M206.6 1652.6h0M215.2 1651.3h0M237.8 1653.6h0M213.1 1652.7h0M217.2 1654.1h0M223.8 1653.5h0M226.6 1651.1h0M232.4 1652.8h0M207.8 1652.4h0M247.1 1653.9h0M241.3 1653.8h0M226.7 1653.4h0M224.4 1651.9h0M242.9 1651.3h0M217.8 1652h0M236.1 1652.7h0M246.7 1653.3h0M231.5 1653.3h0M235.2 1653.9h0M228.2 1654.1h0M228.1 1651.4h0M238.2 1653.9h0M231.1 1652.6h0M249.3 1651.3h0M223.9 1651.8h0M206.6 1652h0M229.8 1651.2h0M206.5 1652.4h0M239.7 1651.5h0M237.3 1651.2h0M230.6 1652.3h0M219.5 1653.2h0M216.3 1653.4h0M230.1 1652.6h0M229.6 1652.3h0M230.6 1653.5h0M212.5 1651.4h0M233.1 1652.4h0M197.8 1653h0M210.6 1653.6h0M200.7 1652.2h0M206 1651.7h0M198.3 1651.1h0M203.6 1654.1h0M227 1655h0M226.2 1655.6h0M247.8 1655.3h0M215.5 1658h0M227.2 1655.4h0M219.7 1657.3h0M239.4 1657h0M226.4 1655.6h0M213.3 1657.9h0M227.5 1656.4h0M250.6 1655.2h0M233.2 1655.8h0M206 1657.9h0M231.7 1657.4h0M239.3 1658h0M207.6 1655.5h0M223 1657.7h0M216 1656.7h0M229.8 1656.9h0M218.4 1657.9h0M215.5 1657.9h0M216.8 1657.6h0M238.9 1657.9h0M241.9 1655.6h0M239.6 1657.9h0M215.4 1656.4h0M230.3 1655.7h0M215.3 1656.1h0M213.3 1657.2h0M245.1 1655.4h0M215.8 1655.2h0M241.5 1655.9h0M234.2 1656.1h0M219.4 1656.2h0M209.3 1657.6h0M207.7 1656.1h0M218 1657.1h0M237.8 1657.9h0M226.5 1657.4h0M231 1656.7h0M210.4 1655h0M203.3 1655.4h0M205.3 1656.9h0M202 1655.8h0M203.9 1657.4h0M207.2 1657.3h0M199.2 1657.3h0M185.5 1656.3h0M182.3 1655.2h0M170.8 1655.7h0M212 1660.9h0M229 1658.9h0M222.5 1661.5h0M222.1 1661.7h0M238 1660.3h0M233.6 1659.6h0M239.9 1662h0M248.9 1661h0M232 1661.2h0M234.4 1659.1h0M247 1661h0M242.4 1659.2h0M241.9 1659.4h0M220.7 1661.5h0M207.2 1658.9h0M213.2 1660.6h0M250.4 1660.6h0M247.3 1661.2h0M215.3 1661.4h0M250.1 1659.2h0M222.3 1661.9h0M247.3 1660.7h0M223.4 1659.9h0M245.6 1660.5h0M232.5 1659.1h0M223.7 1660.5h0M226.1 1659.5h0M211.6 1660.7h0M227.8 1661.2h0M220.8 1660h0M215.5 1660.9h0M226.3 1660.9h0M217.5 1659.1h0M210.3 1659.1h0M213.8 1659.6h0M218 1660.7h0M239.1 1660h0M217 1658.9h0M218 1659.4h0M221.6 1659.2h0M196.1 1661.3h0M204.3 1659.2h0M203.8 1659.5h0M199.9 1660.4h0M206.9 1660.1h0M199.4 1658.9h0M188 1659h0M193.4 1659.6h0M177.4 1661.1h0M179.3 1660.7h0M226.5 1663h0M226.4 1664.2h0M233.7 1665.2h0M228.7 1663h0M247 1665.3h0M247.2 1663.8h0M242.7 1663.8h0M216.6 1665.4h0M228.7 1664.8h0M248.3 1665h0M250.2 1663.3h0M206.8 1662.9h0M214.1 1664.5h0M229 1663.8h0M218.3 1664.5h0M244.9 1663.2h0M243.5 1664.9h0M245 1665.7h0M208.6 1664.3h0M221.4 1665.6h0M212.9 1664.8h0M236.3 1664h0M211 1664.2h0M225.7 1663.9h0M245.2 1665.7h0M206.1 1665.4h0M237.6 1665.7h0M227.8 1662.9h0M224.5 1665.6h0M219.2 1664.5h0M220.8 1665.8h0M240.3 1663.3h0M243.4 1664.6h0M221.4 1664.8h0M230.1 1665.3h0M220.7 1664.4h0M206.2 1663.9h0M238.2 1665.1h0M215.8 1664h0M210.7 1663.3h0M205.3 1664.6h0M208.8 1664.4h0M203.8 1664.1h0M203.7 1663.7h0M210.3 1662.9h0M205.1 1665.3h0M244.7 1667.7h0M217 1667.6h0M217.9 1667.1h0M225.9 1666.8h0M230.3 1669.8h0M239.6 1667.8h0M216.4 1667.4h0M250.4 1668.8h0M207.5 1667.3h0M244.4 1669.5h0M221 1668.1h0M229.1 1666.8h0M222 1667.2h0M249.2 1667h0M239 1668.9h0M241.6 1668.3h0M222 1668.2h0M247.8 1669h0M226.8 1667h0M238.1 1668.7h0M234.7 1666.8h0M224.5 1668.9h0M239.8 1667.7h0M217.1 1668.3h0M210.6 1668.5h0M240.9 1667.9h0M217.3 1667.4h0M224.6 1668.4h0M244.4 1669.8h0M236.1 1668.9h0M219.8 1667.9h0M219 1668.7h0M243.7 1667.2h0M249.7 1667.5h0M213.2 1668.7h0M243.6 1668.5h0M249 1667.6h0M228 1668.3h0M210.5 1667.3h0M247.7 1668.3h0M204.5 1668.3h0M210 1668.4h0M204.4 1668.9h0M197 1667.3h0M206.2 1669.3h0M205.6 1668.3h0M194.4 1669h0M189.2 1668.8h0M249.2 1678.5h0M218 1678.5h0M233.6 1677.2h0M236.6 1678.2h0M232.9 1676.9h0M242.2 1676.8h0M231.5 1678.4h0M227.5 1676.3h0M247 1678.1h0M236.5 1677.1h0M243.2 1676.1h0M209.2 1678.5h0M227.2 1676.8h0M243.9 1676.4h0M245.4 1675.8h0M219.2 1677.2h0M226.5 1675.7h0M218 1678.3h0M248.6 1677h0M243 1678.6h0M242.7 1678h0M250 1676.1h0M240.6 1678.4h0M206.8 1676.1h0M215.3 1678.2h0M210.9 1675.8h0M237.3 1677.5h0M239.9 1675.7h0M245.8 1676.3h0M233.7 1676.6h0M232.6 1678.4h0M209 1676.6h0M247.8 1677.6h0M235 1676.6h0M238.2 1676.5h0M241.2 1677.2h0M228.1 1676.2h0M231.9 1676.1h0M216.2 1675.7h0M241.3 1675.8h0M203.1 1676.7h0M199 1675.8h0M199 1678.5h0M207.7 1677.8h0M206.4 1676.5h0M211.5 1677.2h0M199.7 1675.7h0M191.8 1676.1h0M209.1 1681.4h0M208.6 1681.7h0M248.1 1679.6h0M206.7 1681.1h0M225.5 1680.3h0M221.8 1680.3h0M223.8 1680.9h0M207.1 1680.5h0M233 1681.3h0M238.9 1680.9h0M230.2 1682.6h0M235.3 1681.2h0M243.8 1682.1h0M208.9 1680.9h0M212.5 1680.8h0M212.4 1679.9h0M232.9 1679.9h0M243.6 1681.3h0M207.5 1680.9h0M227.2 1681.9h0M246.5 1680.6h0M209.1 1680.1h0M249.1 1682.2h0M208 1682.2h0M233.5 1680.3h0M234.2 1681.8h0M241 1681.5h0M230.8 1682.4h0M228.5 1681.1h0M235.4 1680.9h0M207.3 1680.1h0M228.4 1682.4h0M242.9 1682.1h0M244.9 1680h0M227.8 1680.7h0M224.5 1681h0M216.1 1682.2h0M226.8 1681.1h0M209.5 1680.4h0M240 1681.8h0M203.9 1679.7h0M206.9 1681.1h0M210.9 1680h0M198.2 1681.7h0M204.4 1682.6h0M207.1 1681.8h0M188 1682.4h0M189.4 1680.9h0M248.3 1684.8h0M213.7 1685.8h0M228.7 1684.7h0M233.8 1683.9h0M209.5 1685.7h0M240 1685.2h0M243 1686.1h0M210.8 1685.6h0M234.8 1685.5h0M214.4 1684.5h0M210.2 1684.5h0M229.6 1685.4h0M218.1 1686.4h0M213.3 1684.4h0M226.3 1686.2h0M207 1685.8h0M243 1686.1h0M217.1 1685h0M250.3 1685.2h0M228.8 1684h0M239.5 1686.4h0M211.7 1683.5h0M219 1684.8h0M230.8 1684.2h0M234.1 1685.6h0M213.9 1685.9h0M209.6 1684h0M248.7 1685.3h0M220.3 1684h0M213.9 1685h0M216.5 1686.1h0M211.4 1685.6h0M223.6 1686.5h0M224.3 1684.8h0M218.7 1685.1h0M231.5 1685h0M224.5 1683.8h0M224 1686h0M206.1 1685.3h0M209.3 1685.3h0M211.1 1684.5h0M200.3 1684.9h0M203.1 1685.8h0M199.8 1684.7h0M198 1684.2h0M202.7 1685h0M187.6 1685.5h0M184.9 1683.7h0M179.1 1685.5h0M169.8 1686.3h0M227.8 1688.9h0M231.2 1688.2h0M235 1689.1h0M227.8 1687.7h0M211.9 1689.8h0M249.8 1689.4h0M216.2 1687.5h0M230.4 1689.6h0M242.8 1689h0M230.9 1688.3h0M249.7 1690.1h0M227.3 1688.5h0M230 1687.6h0M211.5 1689.5h0M234.3 1689.5h0M224.7 1689.3h0M241.8 1687.7h0M237.2 1689.7h0M212.2 1689.4h0M237 1690.1h0M209.3 1690.3h0M223.5 1690.1h0M239.5 1687.4h0M207.7 1689.3h0M228.5 1688.3h0M219 1690.3h0M250.2 1687.4h0M242.4 1687.8h0M228.8 1687.5h0M232.3 1689.2h0M217.7 1690.3h0M230.9 1688.2h0M238.2 1687.8h0M223.7 1689.5h0M220.5 1688.1h0M226.1 1688.9h0M214.3 1687.5h0M248.8 1689.7h0M226.2 1687.8h0M223.2 1688.7h0M196 1689h0M211.9 1690.4h0M206.6 1689.1h0M199.5 1688.8h0M198.7 1690h0M211.2 1687.4h0M167.4 1687.5h0M185.2 1689.4h0M240.9 1693.8h0M244.4 1693.2h0M235.4 1691.9h0M229.2 1693.6h0M237 1693.7h0M235.7 1692h0M234.8 1693.5h0M208.6 1692h0M239.3 1692.6h0M247.4 1693.5h0M227.9 1693.7h0M229.8 1692.2h0M219.3 1693.9h0M246 1691.8h0M238.7 1694.1h0M242.3 1694.2h0M236.2 1693.1h0M245.4 1692.9h0M241.2 1692h0M224.4 1693.4h0M209.4 1691.3h0M237.7 1693.9h0M230.5 1693.8h0M225.1 1692.2h0M217 1692.4h0M224.7 1692.2h0M212.3 1691.7h0M245 1694h0M217.6 1691.3h0M225.4 1692.8h0M228.4 1693.7h0M232.7 1692.2h0M234.2 1693.4h0M250.3 1691.5h0M214.4 1692.4h0M211.3 1692.3h0M247.7 1691.8h0M246.9 1691.8h0M216.6 1693.7h0M209.1 1694h0M211.8 1692.5h0M209.6 1692.2h0M206.5 1692.9h0M209 1694.1h0M206.8 1691.9h0M205.9 1692.4h0M187.7 1693.6h0M187.7 1692h0M175.2 1692.9h0M178.9 1694.2h0M205.7 1558.4h0M203 1554h0M191.5 1555.4h0M192.1 1556.5h0M194 1561.4h0M185.7 1556.3h0M195.2 1561.4h0M188.9 1561.9h0M196.2 1556h0M202.4 1561h0M185.5 1560.5h0M195.2 1557.4h0M187.7 1559.6h0M199.3 1556.8h0M193.9 1553.1h0M204 1557.1h0M200.4 1561.9h0M203.4 1558.4h0M185.8 1559.4h0M185.1 1557.6h0M200.7 1554.6h0M186.5 1561.3h0M200.4 1559.3h0M198.6 1561.7h0M197.5 1559.6h0M185.8 1561.7h0M191.6 1556.8h0M204.6 1561.8h0M187.8 1555.7h0M189.5 1558.1h0M202.1 1589.8h0M197.5 1588.7h0M200.5 1587.2h0M199.6 1588.4h0M195.4 1586.5h0M202.8 1585.4h0M201.1 1587.9h0M194.9 1589.3h0M197.7 1589.1h0M205.5 1586.3h0M196.3 1586.1h0M202.6 1589.7h0M181.8 1607.3h0M171.5 1604.7h0M185.6 1607.7h0M190.8 1610.4h0M187.7 1610h0M181 1608.7h0M182.1 1604.8h0M174.4 1609.9h0M168.9 1604.8h0M188.2 1610.3h0M168 1606h0M174.8 1609.1h0M189.1 1606h0M181.2 1605h0M166 1610.7h0M165.4 1608.2h0M165.2 1608.3h0M179.9 1607.9h0M174.4 1609.4h0M189 1604.9h0M182.3 1608.5h0M189.9 1607.5h0M169.9 1607.8h0M183.8 1607.3h0M175.6 1607.3h0M171.1 1606.2h0M173.1 1606.6h0M180.1 1608.9h0M173.4 1604h0M183.7 1604h0M187.7 1605.8h0M182.2 1608.6h0M178 1594.4h0M188.2 1649.4h0M167.1 1653.8h0M172.2 1653.5h0M177.8 1648.7h0M181.1 1654h0M180.7 1649.6h0M169.6 1652.3h0M177.5 1653.6h0M182.6 1648.9h0M172.8 1651h0M165.5 1653.3h0M181.4 1649.7h0M159.2 1665.6h0M182.7 1665.3h0M186.6 1665.4h0M155.2 1665.7h0M156.3 1664.6h0M192.3 1666.9h0M189.8 1666.4h0M162.1 1666.4h0M171.7 1665.3h0M191.9 1666.5h0M172.8 1667.4h0M168.8 1667.4h0M185.8 1666.5h0M187.6 1667h0M166.4 1667h0M188.3 1667.5h0M167.5 1667.4h0M170.3 1665.9h0M154.8 1665.6h0M197.1 1684.4h0M173.9 1687.8h0M188.4 1685.3h0M180.9 1687.8h0M182 1685.8h0M194.6 1684.4h0M189.9 1686.6h0M167.7 1687.3h0M188.7 1685.2h0M183.4 1684.7h0M174.1 1686.1h0M184.3 1684.3h0M190.7 1684.4h0M168.1 1687.5h0M184.9 1686.6h0M174.1 1686.4h0M197.9 1685h0M166.9 1687.1h0M176.8 1684.8h0M167.6 1685.7h0M189 1687.6h0M177.5 1685.2h0M171.9 1684.7h0M195.7 1685h0M165.7 1686.2h0M174.8 1687.6h0M190.7 1684.1h0M192.5 1687h0" stroke="#f3111a" stroke-width="2.6" stroke-linecap="square" fill="none"/>
<path d="M219.3 236h0M222.5 236.6h0M223.5 235.1h0M218.2 257.7h0M229.9 256.8h0M227.7 255.6h0M218.8 258.1h0M216.5 281.1h0M217.6 281.5h0M221.2 282.7h0M212.8 281.2h0M174.8 308h0M167.1 308.5h0M175.3 310.1h0M171.2 308.2h0M167.9 307.6h0M210.6 307.4h0M211.8 308.9h0M238.5 307.4h0M172.3 331.6h0M172 332.5h0M170.4 328.7h0M175.2 332h0M173.1 331.4h0M168.4 404.1h0M160.5 404.9h0M163.4 404h0M193.5 403.9h0M189.1 413.6h0M192.9 414.9h0M194.4 414.5h0M185.7 414.1h0M167.6 431.5h0M170.6 428.6h0M163.1 429.9h0M164.4 429.1h0M163.1 426.9h0M174.8 436.4h0M180.6 435.8h0M173.9 436.2h0M179 438h0M178.4 437.6h0M163.2 450.8h0M161 453.5h0M162.7 452.5h0M190 452.4h0M171.5 462.2h0M176 462.1h0M170.5 462.6h0M175.5 488.1h0M162.5 519.6h0M169.3 516.3h0M161.6 509.9h0M164.9 519h0M170.1 510.4h0M165.2 515.3h0M170.6 517.2h0M161.9 512.5h0M170 513.4h0M170.6 517.4h0M165.2 512.4h0M169.8 513.3h0M163.1 512.4h0M164.3 522.6h0M165.2 516.5h0M169.3 510.7h0M164.2 511.7h0M164.7 518.3h0M164.1 510.3h0M169.4 515.2h0M168.4 513.9h0M170.5 511.9h0M162.7 515.3h0M167.1 521.6h0M163.5 517.5h0M172.1 544h0M165.6 526.9h0M166.6 538.6h0M165.2 539.4h0M164.4 537.8h0M171.3 540.1h0M164.6 527.6h0M166 524.9h0M169.4 542.5h0M170.9 533.6h0M172.1 542.4h0M169.9 542.8h0M172.3 526.4h0M163.1 540.5h0M172.8 540.4h0M167.5 544.8h0M172.8 540.2h0M171.1 525.2h0M163.7 544.4h0M172.5 539.5h0M170.3 545.3h0M166.7 525.3h0M163.8 530.8h0M165.1 529.2h0M166.6 544.6h0M169.3 527.1h0M171.9 536.1h0M168 537.2h0M158.6 550.8h0M164.8 551.7h0M164.7 555.8h0M162.4 548.5h0M236.4 578.8h0M226.4 583.6h0M227.4 578.4h0M232.7 580h0M227.8 577.8h0M227.8 579.6h0M234.5 574.1h0M229.6 579.6h0M235.4 579.2h0M233 573.9h0M238.1 581.6h0M227.6 581.7h0M241.4 575.1h0M238.4 574.6h0M226.2 577.5h0M237.3 576.6h0M240 580.5h0M228.7 583.4h0M236.9 582.2h0M216 587.2h0M244.5 587.1h0M226.9 627h0M225.4 627.2h0M230.6 627.4h0M231.4 626.1h0M228.6 629.4h0M218.9 655.7h0M223.4 658.5h0M221 654.8h0M223.1 656.2h0M220.7 652.4h0M227.5 661.7h0M213.5 679.4h0M245.4 681.6h0M241.6 680.4h0M240.9 684h0M227.6 707.8h0M228.3 702.2h0M228.5 708.9h0M227.5 707.1h0M218.5 699.6h0M244.8 730.9h0M245.2 733.2h0M241.7 732.3h0M219.5 744.1h0M219.1 744.4h0M220.4 745.6h0M217.8 745.4h0M216.7 746.7h0M209.2 744.3h0M202.5 746.7h0M202.7 744.9h0M204.9 745.2h0M224.5 753h0M178 769.5h0M184 770.3h0M212 769.6h0M215.5 868.2h0M222.9 889.3h0M221.1 893.6h0M223.3 892.7h0M222.2 897.9h0M223.4 894.3h0M242.7 897.3h0M240.5 898.9h0M247.8 895.6h0M248 893.5h0M244.4 896.8h0M169.7 919.5h0M171.7 918h0M169.2 921.4h0M191.1 919h0M199.6 919.3h0M197.2 918.9h0M196.7 918.7h0M200.2 919.5h0M198.3 921.9h0M220.2 920.4h0M216.5 921.6h0M223.3 919.4h0M213.2 920.9h0M214.1 922h0M220.7 943.6h0M224.4 940.1h0M216.9 942.3h0M220.3 942.3h0M201.3 945.9h0M202.4 941.8h0M212.2 946.7h0M235.3 942.2h0M207.8 948.9h0M235.9 941.5h0M201 945.1h0M221.4 942.1h0M201.6 946.6h0M222.7 944.3h0M234.5 941.4h0M224.5 943.2h0M219.6 943.5h0M234.7 949h0M229.9 944.2h0M158 947.1h0M171.2 942.7h0M166.1 946.3h0M157.2 941.4h0M249.8 955.1h0M242.4 955h0M239.8 954.6h0M222.4 957.2h0M244.1 952.3h0M228.7 956.4h0M236.8 955.9h0M248.7 955.2h0M236.4 953.4h0M181.2 953.6h0M198.2 955.5h0M180.7 954.5h0M212.6 953.1h0M209.7 952h0M204.5 967.9h0M229.3 968.1h0M201.4 964.9h0M204 971.6h0M214.1 968.8h0M219.4 969.8h0M206.3 971.1h0M203.6 969.7h0M221 964.8h0M203.9 968.1h0M211.4 971h0M216.3 971h0M202.5 969h0M217.7 968.8h0M157.5 966.1h0M190.1 968.7h0M190.6 971.4h0M173.5 967.3h0M194.1 965.7h0M176.2 969.9h0M218.8 981.1h0M203.8 983.7h0M211.5 981.8h0M217.4 979.8h0M201.5 977.6h0M212.9 983.6h0M219.9 981.8h0M208.8 982.1h0M207.1 977.7h0M205.4 981.8h0M221.3 980h0M240.5 982.4h0M231.1 985.8h0M226.8 987.9h0M233.8 982.3h0M237.3 982.2h0M241.7 982.3h0M235.2 982.7h0M242.1 986.1h0M226.3 986.8h0M240.1 985.2h0M238.4 987h0M233.4 986.6h0M228.4 983.2h0M232.9 981.9h0M214.2 990.1h0M217.6 995h0M224.5 998.1h0M232.9 998.7h0M237.5 994.4h0M225.9 990h0M222.1 998.6h0M231.9 991.6h0M244.3 998.3h0M214.6 997.2h0M225.8 991.5h0M234.9 996.1h0M236.3 989.7h0M245.9 989.8h0M245 996.9h0M230.6 991.7h0M241 995.7h0M220.4 997.5h0M232.4 994.4h0M219.9 993.4h0M214.1 993.3h0M240.6 1009.5h0M205.9 1009.6h0M220.3 1010.8h0M248.4 1007h0M204 1010.7h0M216.7 1004.6h0M206.3 1005.6h0M225.5 1008.2h0M236.5 1005.4h0M241.6 1004.4h0M227.8 1005.4h0M206 1004.5h0M230.2 1008.4h0M230.3 1009.3h0M213.2 1005.3h0M245.7 1007.5h0M196.1 1015.7h0M202.9 1019.8h0M212.7 1018.2h0M199.5 1013.9h0M234.4 1015.7h0M219.5 1019.7h0M191.7 1015.3h0M193.1 1017.1h0M203 1017.5h0M231.1 1014.9h0M235.1 1016.4h0M193.5 1018.6h0M226.5 1018h0M227.5 1015.5h0M201.9 1016.3h0M197.5 1013.3h0M217.2 1029.4h0M229.2 1017.2h0M241.1 1024.7h0M227.4 1027h0M222.6 1019.6h0M250.6 1030.4h0M204.1 1017.7h0M245.5 1031.3h0M209.4 1030.9h0M232.8 1017.1h0M224.6 1022.8h0M222.2 1030.3h0M232.4 1026.4h0M224.2 1030.4h0M220.1 1019.1h0M209.8 1027.8h0M243.7 1029.2h0M238.4 1024.8h0M209.1 1026.7h0M244 1029.7h0M188.1 1016.9h0M225.2 1031.2h0M228.3 1024.5h0M221.3 1031.3h0M194.3 1018.3h0M197.3 1022.9h0M207.9 1030.1h0M211.1 1020.2h0M214.1 1022.7h0M216.8 1031.2h0M228.4 1021.6h0M238.1 1029.2h0M206 1029.1h0M249.6 1033.3h0M248.1 1029.1h0M242.6 1029.3h0M208.4 1031.8h0M212.8 1033.9h0M247.8 1034h0M245.2 1031.8h0M180.8 1038.9h0M183.8 1049h0M173.4 1046h0M201.4 1044.2h0M193.4 1049.8h0M165.2 1049.1h0M164.1 1040.3h0M196.3 1037.4h0M184.3 1053.1h0M195.4 1044.6h0M191.7 1048h0M183.9 1045.9h0M200.6 1046.7h0M186.9 1053.3h0M161.7 1044.9h0M197.4 1040h0M237.1 1068.5h0M239.1 1071.3h0M237.6 1071.4h0M230 1134.2h0M228.7 1174h0M233.9 1103.8h0M226.4 1091.1h0M230.8 1117.1h0M237.3 1123.5h0M235.2 1162.4h0M226.9 1156.9h0M237.2 1174.5h0M229.6 1123.7h0M226.1 1183.7h0M235.5 1182.4h0M225.5 1160.3h0M226.7 1131h0M236.3 1156.3h0M229.9 1120.7h0M233.3 1168.5h0M234.6 1114.9h0M226.9 1101h0M226.5 1112.5h0M222.8 1184.5h0M224.2 1185.3h0M228.8 1179.6h0M222.2 1182.6h0M225 1177.5h0M225.1 1187.1h0M240.8 1221.1h0M244.4 1211.7h0M246.8 1234.7h0M232.9 1255.9h0M237.4 1272.9h0M244.2 1284.2h0M234.4 1249.1h0M228.1 1261.6h0M234.3 1245.4h0M247.4 1251.7h0M247.7 1267.4h0M232.3 1290.3h0M234 1222.2h0M246.6 1216.5h0M228.1 1225.2h0M240.7 1220.9h0M244.1 1260.6h0M230.4 1278.5h0M236.4 1277.6h0M228.9 1253.6h0M235.6 1246.7h0M233.5 1215.8h0M228 1243.9h0M235 1343.8h0M234.1 1315.1h0M232.3 1333.3h0M238.3 1342.9h0M161.2 1372h0M184.5 1371.4h0M180.2 1370.6h0M201.7 1367.1h0M196.3 1369.3h0M181.3 1357.8h0M171.1 1370.1h0M199.6 1369h0M193.4 1368.1h0M192.1 1369.8h0M162.9 1367.6h0M184.7 1368.2h0M165.7 1364h0M198.6 1359.1h0M171.6 1358.8h0M200.5 1360.9h0M194.2 1379.4h0M194.1 1383.9h0M170.2 1385.3h0M182.3 1384.5h0M165.1 1378.8h0M174 1386.1h0M163.4 1384h0M188.9 1378.1h0M179.2 1382.6h0M190.6 1381.1h0M171.8 1378.1h0M178.2 1382.4h0M195.6 1379h0M177.3 1382.7h0M231.7 1377.8h0M214.6 1379.4h0M224.3 1386.3h0M235.2 1384.4h0M246.2 1381.9h0M233.2 1380.5h0M229.5 1381.8h0M217.5 1379.5h0M235.8 1380.7h0M218.3 1377.8h0M217.8 1380.1h0M245.9 1385.1h0M230.4 1379.3h0M220.3 1385.8h0M228.6 1380.6h0M176.4 1395.6h0M169.3 1391.7h0M201.4 1389.3h0M166.2 1389.8h0M187.1 1394h0M191.4 1396.5h0M196.6 1390.5h0M166.8 1390.9h0M195.2 1397.9h0M177 1393.5h0M184.7 1397.2h0M192.4 1392h0M178.6 1398.3h0M179 1391.5h0M192.5 1391.6h0M172.9 1394.2h0M187.8 1394.6h0M182.8 1388.9h0M175.8 1393.5h0M224.2 1389.2h0M236.8 1397.5h0M234.9 1390.9h0M234.1 1392.1h0M215.1 1392.5h0M243.7 1389.3h0M230.4 1396.3h0M206.4 1420.3h0M209.4 1420h0M207.7 1426h0M207.7 1420.4h0M209.1 1416.8h0M240.6 1420.5h0M245.4 1429.1h0M242.9 1425h0M211 1437.8h0M214.1 1436.9h0M213.8 1435.4h0M223.8 1455.7h0M227.5 1456.4h0M225.5 1456.2h0M226.1 1441.9h0M228.9 1458.5h0M211.5 1459.8h0M230.8 1489h0M231.9 1490.5h0M233 1478.5h0M242.3 1504h0M244.3 1503.3h0M243.4 1505.8h0M249.7 1504.3h0M237 1504.6h0M240.2 1505.5h0M214.3 1505.1h0M187 1503.5h0M243.8 1507.3h0M249.2 1510h0M231.5 1508.4h0M234.6 1508.5h0M224.4 1507.4h0M243 1508.3h0M200.2 1507.3h0M235.5 1511.6h0M226.5 1513.7h0M227.3 1512.5h0M235.6 1512.4h0M239.3 1513.9h0M239.8 1512.6h0M208.1 1513.3h0M248.4 1516.9h0M232.4 1517.7h0M246.9 1515.7h0M243.5 1515.8h0M246.4 1517.1h0M240.3 1517.6h0M222.1 1515.6h0M233 1520.2h0M225.4 1520.7h0M231.8 1521.8h0M233.2 1518.8h0M248.7 1518.8h0M242.8 1520.1h0M214.1 1519.4h0M225 1530.2h0M228.1 1528.7h0M237.4 1529.1h0M236.1 1530.9h0M227.1 1530.8h0M228.9 1530.9h0M207.4 1529.2h0M234.6 1535h0M234.9 1533.7h0M249.7 1534.2h0M247.7 1533.9h0M236.7 1534.5h0M245.9 1534.1h0M215.3 1532.2h0M239.2 1536.9h0M240.2 1537.2h0M238.9 1536.7h0M238.9 1538.4h0M234.1 1536.9h0M246.7 1537.5h0M205.3 1538.5h0M231.2 1540.2h0M246.2 1541.8h0M241.2 1541.5h0M248.1 1540.3h0M239.5 1541.3h0M237.2 1540h0M222.5 1540.1h0M234.8 1552.1h0M224.7 1554.7h0M224.7 1552.4h0M227.9 1552.5h0M226.8 1553.8h0M234.7 1553.7h0M217.1 1554.3h0M182.6 1554.4h0M243.5 1558.5h0M242.9 1558.8h0M232.3 1557.3h0M225.8 1556.8h0M229.3 1558.7h0M231.2 1557.5h0M212.8 1557.2h0M248.3 1562.5h0M239.4 1563h0M242 1560.4h0M249.7 1562.3h0M236.5 1560.9h0M233.2 1561h0M209.2 1561.2h0M192.6 1560.6h0M240.9 1566.2h0M243.9 1564.5h0M238.5 1564.3h0M230.2 1566.6h0M228.5 1565.7h0M247.7 1565.8h0M207.1 1564.8h0M243.1 1568.2h0M233.8 1570.2h0M235.7 1570h0M227.5 1568.1h0M226 1570h0M224.5 1568.6h0M222.8 1570h0M224.3 1573h0M235.7 1573h0M248 1572h0M225.2 1574.3h0M242 1574.3h0M234.7 1572.9h0M204.9 1573h0M231.7 1577h0M246 1577h0M227.9 1575.9h0M245.8 1576.4h0M224.4 1575.7h0M232.8 1577.8h0M213.5 1578.4h0M228.1 1579.7h0M235.5 1579.9h0M227.2 1582.2h0M230.9 1580.7h0M242.5 1582.2h0M240.4 1580.5h0M217.3 1580.4h0M249.7 1585.3h0M242.4 1585.1h0M238.6 1584.9h0M229.4 1583.5h0M246.1 1586.3h0M244.7 1585.9h0M225.9 1585.7h0M244.8 1587.9h0M231.1 1588.5h0M238 1589.2h0M238.6 1587.9h0M249 1587.9h0M246.2 1588.7h0M214 1589.5h0M191.9 1589h0M246.1 1592.7h0M245 1591.6h0M239.7 1593.2h0M237.6 1593.9h0M239.4 1592h0M249.3 1593.4h0M209.6 1593.4h0M237.7 1595.9h0M236.5 1597.2h0M244.7 1597.6h0M235.6 1596h0M238.6 1595.2h0M242.9 1595.8h0M208.5 1597.2h0M232.5 1599.8h0M245.4 1598.9h0M248.9 1599.7h0M246.1 1599.8h0M234.6 1600.6h0M236.4 1600.4h0M211.7 1600.7h0M247 1605.2h0M248.7 1605.1h0M236.3 1604.5h0M236.3 1605.4h0M237.9 1604.3h0M238 1603.3h0M224 1605h0M239.5 1608h0M228.4 1606.8h0M235.8 1607.7h0M225.1 1607.4h0M240 1609.3h0M249.7 1608.2h0M219.4 1608.2h0M235 1611.1h0M243 1612.7h0M240.8 1613.6h0M224.5 1612.3h0M238.5 1612.6h0M229.4 1612.8h0M200.9 1613.4h0M240.6 1614.9h0M236.1 1617.6h0M238.8 1615.8h0M247.9 1616.7h0M232.4 1616.2h0M240.4 1616.7h0M219.6 1615.8h0M229.3 1620.5h0M228.7 1618.7h0M248.3 1619.8h0M244.6 1620.3h0M226.3 1619.9h0M229 1619.3h0M200.3 1620.2h0M241.8 1622.4h0M229.7 1623h0M240.1 1622.4h0M230.5 1624.3h0M226.8 1622.7h0M224.8 1625.3h0M212.3 1625h0M245.5 1626.3h0M245.7 1627.5h0M232.6 1628.2h0M248 1628.8h0M246.7 1626.7h0M242.7 1628h0M206.8 1627.8h0M238.8 1631.2h0M243.5 1631.3h0M230.7 1630.4h0M232.8 1631.8h0M225.1 1633.2h0M238 1630.2h0M213.5 1630.5h0M234.6 1635.8h0M237.7 1636.5h0M237.9 1634.5h0M239.7 1634.2h0M233.3 1634.1h0M235.6 1635.6h0M210.2 1636.2h0M239.4 1638.6h0M236.9 1640.3h0M230 1639.6h0M226.4 1640.7h0M244.4 1640.9h0M241.8 1639.5h0M209.5 1640.3h0M227.7 1643.3h0M236.9 1642.5h0M248.5 1642.5h0M225.5 1643.8h0M234.6 1643.6h0M249.7 1643.5h0M218.3 1643.5h0M244.2 1652.3h0M246.1 1653.7h0M233.3 1653.1h0M236.9 1651.4h0M237.3 1651.2h0M248.6 1652.2h0M211.9 1653.7h0M239.4 1657.4h0M233.7 1656.9h0M227.9 1657.1h0M237.1 1656.7h0M246.6 1656.4h0M241.7 1656.6h0M223.6 1655.7h0M226.4 1660.6h0M231.6 1659.2h0M226.8 1660.5h0M246.1 1661.8h0M244.4 1659.3h0M233.4 1659.1h0M221 1659.9h0M248.8 1665h0M240 1663.4h0M227 1665.3h0M248.8 1664.8h0M242.9 1664.1h0M240.6 1664.3h0M202.4 1663.2h0M228.6 1669h0M240.5 1669.4h0M242 1669.2h0M236.7 1669.6h0M235.2 1668.1h0M227.6 1668.9h0M215.4 1667.3h0M184.2 1668.2h0M242.5 1677.2h0M228.9 1678h0M236.1 1677.1h0M226.5 1677.2h0M237.6 1677.4h0M242.2 1677.6h0M204.8 1676.4h0M245.5 1679.6h0M243.2 1681.4h0M232.6 1681.6h0M245.7 1682.1h0M243.8 1682.4h0M224.3 1682.4h0M200.9 1681.4h0M231.8 1685.3h0M224.9 1684.4h0M228.3 1684.6h0M244.5 1683.8h0M242.6 1686h0M233.5 1684.5h0M204.3 1684.3h0M232.1 1689.7h0M235.5 1690h0M236.6 1687.5h0M236.4 1689.2h0M233.3 1689h0M227.6 1688.7h0M223.5 1689.7h0M227.8 1691.9h0M228 1693.8h0M243.8 1693.2h0M230.2 1692h0M244 1693.9h0M238.6 1694h0M220.7 1692.2h0M181.8 1609.5h0M183.6 1604.5h0M187.3 1606.7h0M179.8 1607.5h0M166.5 1592.9h0M175.2 1652.6h0M182.5 1650.6h0M186 1648.1h0M192.3 1649.6h0M188.9 1648.6h0M184.6 1652.2h0M193.7 1650h0M183.6 1667.4h0M183.5 1665.8h0M186.5 1666.3h0M169 1665.7h0M197.6 1666.9h0M163.1 1665.3h0M182.9 1667.4h0M199.4 1665.6h0M182.9 1667.3h0M160 1667.3h0M166 1683.5h0M200.6 1688h0M199.7 1686.1h0" stroke="#1a10c8" stroke-width="2.4" stroke-linecap="square" fill="none"/>
<path d="M200.5 281.4h0M236 281.2h0M157.5 308.2h0M159 308.3h0M176 329.5h0M193 329.7h0M200.5 330.3h0M162.8 402.7h0M164.1 402.8h0M161 407.2h0M165.2 405.4h0M165.8 403h0M162.7 407.6h0M202.5 403.5h0M188.5 413.7h0M194 413.2h0M167.9 428.4h0M165.9 427.5h0M173.4 429.3h0M170.7 429.7h0M167 429.9h0M169.6 430.3h0M171.1 429.3h0M168.1 428.8h0M178 437h0M180.5 437.3h0M165.5 455.4h0M164.1 452.9h0M166.5 453.3h0M163.5 452.5h0M163.5 453.8h0M167.1 452.6h0M176 461.8h0M183.5 462.5h0M185 487.7h0M203 501.1h0M205.5 500.6h0M172.5 502.4h0M187 505h0M201.5 505.1h0M172.5 521.1h0M175.3 520.1h0M173.9 520.5h0M169.7 521.3h0M167 520.6h0M176.2 519.7h0M174 520.3h0M172.7 519.4h0M172 520.4h0M166.8 520.2h0M168.7 520.2h0M174.6 519.5h0M191.5 520.2h0M194 520.4h0M167.8 526.4h0M166.7 531.6h0M167.7 525.3h0M173.1 528.1h0M165.5 533.4h0M170.1 530.8h0M166.2 531.6h0M164.1 525.5h0M173.8 544.8h0M173.3 525.8h0M171.3 544.6h0M170.4 526.3h0M166.5 533.1h0M164.1 535.4h0M172.4 543.3h0M176.2 537.2h0M167.3 537.7h0M165.8 529.2h0M185.5 534.1h0M177.5 550.6h0M180.5 551h0M218.5 572.4h0M225.6 579.4h0M230.7 578.7h0M231.3 582.7h0M229.6 578.3h0M229.2 579.9h0M211.5 598.6h0M217 628.7h0M249.3 658.1h0M246.2 653.4h0M250.2 653.1h0M248.8 658.1h0M247.1 654.8h0M248.8 654.1h0M246.8 659.9h0M246.1 653.3h0M250.4 655.5h0M247.7 658.6h0M248.3 698.6h0M242 696.2h0M242.6 695.1h0M248.9 702.5h0M242.6 696.7h0M245 706.2h0M242.2 699.4h0M250.2 697.9h0M243.5 695.9h0M249.5 705.9h0M245.5 708.5h0M246.7 709.3h0M245.4 698.6h0M248 705.5h0M242.8 696.1h0M242 709.3h0M244.2 707h0M243.4 698h0M250.4 701.5h0M249.1 696.4h0M242.6 699.1h0M244.2 705.9h0M245 697h0M249.2 707.1h0M241.1 703.2h0M246.8 706.2h0M250 708.4h0M249.1 699.2h0M248.8 719.1h0M247.4 724h0M248 725.8h0M250.6 723.9h0M250.2 730.5h0M243.5 726.4h0M243 723.5h0M248.7 729.8h0M249 728.5h0M247.6 730.9h0M248.3 722.8h0M246.7 722.1h0M249.4 720.9h0M243 724.9h0M240.9 730.1h0M248.3 730.2h0M248.4 720.8h0M250 725.9h0M244.7 726h0M241 730.2h0M241.1 728.3h0M241.3 722.3h0M244.9 729.5h0M242.8 727.7h0M247.1 727.8h0M245.4 720.2h0M242.4 727.7h0M243.1 726.9h0M250.1 723.4h0M250.6 730.3h0M246.3 724.1h0M248.3 728.7h0M249.5 724.5h0M250.5 723.8h0M241.3 724.7h0M198.3 746.4h0M198.7 745.2h0M205.1 746.5h0M201.7 743.6h0M203.7 745.1h0M200.7 746.1h0M199.5 746.8h0M204.5 744h0M199.5 743.9h0M233 751.9h0M188 769.9h0M192 770.2h0M195 769.5h0M218 770.5h0M229 769.4h0M231.5 868.7h0M242 869.2h0M209.6 919.3h0M222.5 923.1h0M231.1 921.4h0M226.6 918.8h0M229 920.6h0M212.5 920.5h0M214.9 923.3h0M230.3 922.1h0M226.5 919.4h0M213.3 920.2h0M233.7 919.2h0M221.3 920h0M207.7 920.8h0M227.9 922.1h0M217 922.8h0M216.7 919.2h0M225.4 922h0M221.7 920.2h0M241 920.4h0M243.5 920.1h0M245.1 942h0M248.8 947h0M247.7 948.3h0M246 942.3h0M236.9 944.5h0M246.2 943.4h0M247 948.3h0M234.2 946.5h0M241.8 941.1h0M237.4 941.7h0M233.9 940.6h0M235.2 947h0M237.3 948.4h0M236.7 948.4h0M238.5 942.3h0M239.3 939.6h0M231.2 943.5h0M238.1 948.5h0M249.2 939.5h0M235.8 941.9h0M232.9 939.8h0M242.1 947h0M235.7 944.8h0M249.4 942.5h0M249.8 943.4h0M233.4 948.8h0M231.4 948.4h0M246.4 947h0M241.4 946.8h0M233.9 948h0M236.1 945.2h0M234.6 943.7h0M241.9 946.9h0M242.9 947.7h0M248.5 945.8h0M241.8 948h0M248.6 942.9h0M232.9 943.4h0M244.4 943h0M243.3 949.3h0M248.8 946.5h0M239.5 947.7h0M245.4 944.3h0M233.1 942.8h0M246.4 946h0M242.2 954.1h0M240.1 956.4h0M247.3 955.1h0M238.2 957.1h0M243.9 953.5h0M240 957.2h0M242.8 956.6h0M249.1 955h0M245.7 966.5h0M237.3 964.6h0M244.4 971.9h0M234.3 970.6h0M242.8 966.5h0M243.2 967h0M244 967.5h0M245.1 969.4h0M236 972.9h0M228.2 972.9h0M228.6 972h0M236.2 969.1h0M234.6 971h0M244.5 966.3h0M243.9 969.2h0M228.8 968.7h0M232.6 971.1h0M228 968.5h0M242 966.7h0M241.4 971h0M243.4 968.3h0M232.3 970.2h0M240.6 969h0M232.2 970.7h0M235.2 967.1h0M235.3 965.3h0M240.1 970.7h0M243.4 966h0M243.8 965.5h0M230 965.8h0M238.8 966.6h0M246.6 966.8h0M234 972.5h0M242.6 970.9h0M233.4 969.3h0M248.1 972.6h0M234.9 964.6h0M232.2 967.2h0M246.9 968.2h0M245.6 964.7h0M228.3 967.1h0M233.7 972.1h0M230.5 966.3h0M230.5 967.6h0M233.3 966h0M232.3 977.3h0M239.3 982.6h0M242.9 980.3h0M236.4 979.6h0M248.2 976.6h0M237.3 984.5h0M238 980.5h0M248.5 977h0M236.5 983.6h0M244.9 978.7h0M240.7 983.3h0M236.3 979.8h0M248 983.3h0M234.1 983.8h0M250.2 981.5h0M240.5 982.6h0M233.1 977.7h0M233.3 982.7h0M244.3 983.4h0M248.5 980.5h0M243.4 984.4h0M242.9 977.3h0M236.6 980.1h0M245.5 984.4h0M236.2 977.5h0M242.6 979.4h0M240.1 979.3h0M235.4 983.4h0M238.1 982.6h0M249.6 984.5h0M243.2 979.3h0M239.6 977.4h0M243.8 981.8h0M232.6 979.4h0M242.4 977.6h0M237.7 978h0M248.7 981.8h0M236.7 980.9h0M247.1 989.5h0M242.6 989.7h0M248.6 993h0M241.7 993.4h0M247.5 989h0M243.6 992h0M244.3 989.1h0M245.9 990.2h0M242.1 993.9h0M246.9 989.4h0M236.8 1016.5h0M240.8 1020.4h0M232.9 1019.6h0M234.5 1019.8h0M236.7 1019.4h0M237.3 1020.9h0M233.3 1019.5h0M237.5 1022.7h0M232.9 1023.8h0M227.8 1017h0M228.9 1017.8h0M236.6 1018.2h0M240.5 1020.1h0M229.9 1018.8h0M228.3 1018.2h0M241.3 1051.4h0M250 1052.6h0M183.4 1041.2h0M203.6 1040.2h0M184.1 1036.3h0M219.3 1044h0M181.8 1038.6h0M185.5 1041.6h0M179.8 1038.1h0M239 1049.6h0M212.5 1036.7h0M228.9 1050.3h0M221 1041.1h0M175.8 1037.4h0M210.7 1052.2h0M236.2 1051.6h0M177.1 1036.8h0M197.7 1047h0M224.6 1047.3h0M201.8 1039.9h0M220.9 1039.6h0M224.5 1046.7h0M192.7 1046.6h0M236.6 1051.1h0M216 1044.8h0M223.5 1044.4h0M200.9 1045.1h0M197.2 1044.8h0M197.2 1036.1h0M233.1 1050.8h0M202.7 1039.6h0M217.5 1045.9h0M210.3 1043.8h0M235.7 1047.7h0M225.7 1044.8h0M197.4 1047.6h0M194.5 1040.4h0M206.2 1042h0M229.7 1041h0M211.6 1048.5h0M238.2 1047.9h0M207.2 1038.7h0M218.5 1052.3h0M237.5 1050.9h0M187.8 1041.4h0M216 1049.7h0M204.7 1042h0M237.6 1048.4h0M236.8 1051.6h0M194.7 1039h0M181.2 1036.1h0M190.1 1041.8h0M191.9 1044.1h0M211.1 1047.1h0M212.7 1040.2h0M182 1041.6h0M233.9 1050.3h0M212 1050.9h0M213.7 1040.5h0M223.7 1038.5h0M218 1047.1h0M186.7 1036.9h0M232.7 1043.2h0M204.9 1038.5h0M221.9 1037.3h0M234 1048.7h0M202.5 1048.7h0M180.2 1040.1h0M191.6 1045.4h0M185.4 1039.2h0M238.1 1051.6h0M228.1 1040.9h0M182.8 1038.7h0M222.7 1042.5h0M213.4 1037.7h0M227.2 1045.2h0M183.2 1041.7h0M210.1 1037.7h0M224.4 1044.6h0M190.9 1039.4h0M219.9 1039.6h0M199.8 1048h0M194.7 1048.3h0M197.9 1043.9h0M229.9 1049h0M201.4 1047.6h0M204.3 1036.7h0M192.3 1047.8h0M241 1050.3h0M207.8 1042.1h0M236.8 1047.1h0M216.3 1047h0M218.6 1049.1h0M199.4 1036.6h0M200.2 1043h0M193.9 1042.7h0M217.7 1041.3h0M220.4 1051.1h0M202.6 1050.4h0M223.7 1044.8h0M213.8 1049.3h0M224.1 1038.9h0M221.9 1046.4h0M187 1041.9h0M208.3 1045.7h0M230.9 1051.1h0M222.2 1048.8h0M200.3 1048.8h0M229.9 1052.9h0M198.4 1046.2h0M209 1037.5h0M226.1 1048.3h0M203 1040.3h0M226.1 1049.1h0M202.8 1051.5h0M194.9 1049.2h0M216.5 1046.6h0M194.2 1037.3h0M234.4 1047.4h0M198.8 1037.3h0M200.7 1049.5h0M244.7 1051.2h0M191.7 1041.8h0M186.3 1038.5h0M218.9 1043.1h0M227 1051.9h0M220.9 1052.2h0M190.7 1047.2h0M184.7 1043.1h0M215.4 1038.2h0M189.4 1037.9h0M213 1044.9h0M177.4 1036.5h0M211.5 1047.5h0M197.7 1037.6h0M232.2 1042.3h0M181.4 1036.8h0M200.8 1037.3h0M237.4 1048.7h0M236.6 1049h0M238.3 1050.2h0M242.4 1047.5h0M236.1 1052.5h0M241.8 1051h0M240.2 1049.4h0M239.5 1046.1h0M239.4 1049.7h0M239.4 1053h0M248.9 1105.6h0M234.2 1141h0M236.2 1144.6h0M243.3 1154.8h0M248.6 1173.5h0M244.1 1176.2h0M247.6 1162.9h0M240.9 1173.7h0M249.3 1184.1h0M235.8 1109.7h0M241.8 1151.4h0M220.5 1089.4h0M227 1173.5h0M248.8 1250.5h0M244.2 1269.5h0M243.2 1244.2h0M248.7 1243.4h0M243.2 1261.3h0M248.5 1259.5h0M241.7 1269.8h0M246.5 1253.8h0M245.3 1253.3h0M244.1 1253.7h0M221.5 1240.6h0M167.3 1262.1h0M192 1262.2h0M234.5 1342.3h0M235.7 1327.2h0M232.1 1349.5h0M247.4 1321.1h0M235.8 1338.8h0M240 1340h0M233.7 1308.6h0M236.6 1306.2h0M247.5 1324.1h0M240.8 1347.6h0M223.7 1371.1h0M218.3 1371.2h0M216.6 1371.5h0M204.4 1363.1h0M225.1 1366.8h0M225.3 1371.1h0M217.8 1363.6h0M218.8 1372h0M222.6 1369.8h0M222.7 1365.3h0M221.5 1362.3h0M205.6 1363.5h0M220.6 1369.4h0M212.2 1366.5h0M221.9 1360.9h0M217.4 1367h0M200.7 1369.3h0M222.2 1368.9h0M201.2 1359.1h0M206.8 1370h0M224.2 1365h0M212.9 1359.9h0M222.7 1357.9h0M211.4 1369.9h0M203.9 1368.9h0M221 1369.1h0M200.9 1367.9h0M217.2 1361.5h0M212.8 1369.5h0M211.8 1367.3h0M207.4 1365.7h0M222.6 1360h0M208.4 1365.3h0M208.8 1361.4h0M204.1 1364.8h0M209.1 1363.8h0M209.5 1362.8h0M223 1357.7h0M219.4 1361.5h0M209.9 1371.2h0M217.6 1362.2h0M213.9 1371.1h0M202.8 1366.7h0M211.8 1361.7h0M209.9 1366.8h0M221.8 1368.1h0M213.7 1360.7h0M208.3 1358.5h0M221.5 1365.7h0M220.8 1359.9h0M221.4 1366.9h0M213.4 1358h0M220.1 1359.2h0M206 1367.2h0M223.3 1371.8h0M205.6 1362.9h0M208.8 1368.6h0M207.2 1369.9h0M209.2 1369.8h0M208.2 1365.8h0M201.5 1366.3h0M209.2 1362.4h0M220.9 1365.9h0M224.8 1364.4h0M219.1 1359.3h0M205.5 1363h0M209.7 1362h0M212.7 1364.3h0M220.6 1368.9h0M220 1363h0M200.9 1366h0M223 1369.4h0M213.2 1366.6h0M225.5 1370.6h0M201.4 1365.7h0M205.3 1364.7h0M215.6 1364h0M201.7 1360.3h0M217.7 1364.4h0M221.2 1364.9h0M225.3 1372h0M211.7 1362h0M205.7 1365.7h0M220 1371.1h0M210 1371.5h0M213.5 1364.5h0M206.7 1358.5h0M224.1 1366.8h0M208.7 1357.9h0M210.7 1364.6h0M204.5 1361h0M201.5 1361.7h0M201.6 1361.2h0M216.8 1370.2h0M208.4 1364.4h0M208.9 1367.2h0M222 1369.6h0M213.4 1360.5h0M225.6 1362.5h0M201 1360.5h0M224.5 1360.4h0M219.1 1366.3h0M218.3 1364.3h0M213.7 1363.4h0M220.6 1366.8h0M216.6 1371.1h0M204.2 1369.4h0M223.7 1360.1h0M211.9 1358h0M214.2 1360.6h0M223.5 1361.5h0M221.5 1358.5h0M210.5 1371.3h0M216 1369.1h0M213.5 1360.4h0M208 1358.9h0M204.7 1358.1h0M213.2 1370.3h0M212 1370h0M212.7 1361.6h0M225.3 1362.4h0M205.2 1357.5h0M213.2 1360.3h0M203.1 1362.8h0M222.9 1366.2h0M208.8 1365.2h0M206.4 1364.5h0M207.9 1357.6h0M220.2 1362.7h0M222.7 1363.1h0M208.2 1358.8h0M220.5 1359.6h0M214.6 1359.5h0M219.1 1364.6h0M207.5 1364.9h0M212.6 1371.2h0M214.2 1359.5h0M202.5 1364.7h0M236.9 1354.2h0M233.9 1356.9h0M231.7 1356.6h0M243.5 1356.9h0M246.2 1356.1h0M234.3 1355.6h0M234.3 1354h0M243 1357.1h0M205.7 1380h0M204.5 1382.9h0M204.2 1379.8h0M205.1 1383.5h0M214.1 1380.2h0M209.1 1382.2h0M209.7 1380.6h0M207.7 1384.2h0M205.4 1379.1h0M209.2 1383.6h0M242.7 1412.3h0M243.3 1427.1h0M237.8 1423.5h0M238.5 1412.9h0M235.6 1414.1h0M241.1 1426.5h0M246.3 1429h0M247.8 1425.7h0M244.1 1414.9h0M240.5 1424h0M239.5 1414.3h0M243.6 1429.2h0M244.8 1429.7h0M237.6 1413.3h0M243.7 1428.1h0M238.6 1421.3h0M237 1419.5h0M238.9 1418.7h0M205.2 1436.5h0M207.5 1434.3h0M210.4 1435.7h0M213.4 1437.8h0M211.1 1434.5h0M242.2 1447.4h0M245.2 1444.3h0M237 1480.1h0M242.4 1455.9h0M244.3 1459.3h0M245.1 1441.8h0M238.7 1473.2h0M237.6 1443.9h0M241.6 1447.7h0M236.1 1447.8h0M222 1479.2h0M238 1516h0M240.4 1517.6h0M241.7 1530.7h0M235.4 1530h0M235.4 1552.2h0M236 1553.7h0M233.4 1569.4h0M234.7 1569.8h0M242.6 1572.9h0M238.7 1572.5h0M240.4 1586.3h0M234.6 1584.6h0M230.5 1592h0M247.6 1591.2h0M233.4 1595.6h0M233.5 1595.7h0M243.4 1604.2h0M230 1604.1h0M241.7 1607.5h0M235.3 1609.3h0M247.8 1612.3h0M247.6 1611.2h0M241.5 1652.4h0M246.3 1653.4h0M245.1 1663.7h0M247.6 1665.8h0M235.8 1668h0M247.9 1667.2h0M234.7 1678.3h0M243.9 1678.3h0M231 1680.8h0M247.7 1682.5h0M241.6 1685.5h0M230.5 1684.3h0" stroke="#0a0a0a" stroke-width="2.5" stroke-linecap="square" fill="none"/>
<line x1="202.75" y1="231.70" x2="202.75" y2="1696.00" stroke="#000" stroke-width="1.1" />
<line x1="154.00" y1="1695.60" x2="252.00" y2="1695.60" stroke="#000" stroke-width="1.4" />
<rect x="153" y="231.7" width="100.3" height="1467.8" fill="none" stroke="#b81a1a" stroke-width="2.6"/>
<path d="M175.25 215.6V231M202.75 215.6V231M230.4 215.6V231" stroke="#000" stroke-width="2" fill="none"/>
<text x="147.4" y="213" font-family='"Liberation Sans", Arial, Helvetica, sans-serif' font-size="32" fill="#000" stroke="#000" stroke-width="0.3" textLength="39.6" lengthAdjust="spacingAndGlyphs" >-50</text>
<text x="197.2" y="213" font-family='"Liberation Sans", Arial, Helvetica, sans-serif' font-size="32" fill="#000" stroke="#000" stroke-width="0.3" textLength="14.3" lengthAdjust="spacingAndGlyphs" >0</text>
<text x="219.7" y="213" font-family='"Liberation Sans", Arial, Helvetica, sans-serif' font-size="32" fill="#000" stroke="#000" stroke-width="0.3" textLength="29.3" lengthAdjust="spacingAndGlyphs" >50</text>
<rect x="256.60" y="231.90" width="39.70" height="1463.10" fill="#fff" />
<path d="M256.6 231.90H296.3V234.20H256.6zM256.6 237.75H296.3V255.50H256.6zM256.6 259.07H296.3V278.50H256.6zM256.6 283.95H296.3V303.35H256.6zM256.6 307.50H296.3V308.40H256.6zM256.6 309.60H296.3V310.60H256.6zM256.6 311.60H296.3V328.38H256.6zM256.6 347.75H296.3V401.75H256.6zM256.6 415.93H296.3V425.93H256.6zM256.6 441.25H296.3V450.50H256.6zM256.6 468.95H296.3V474.70H256.6zM256.6 496.57H296.3V499.70H256.6zM256.6 546.58H296.3V549.08H256.6zM256.6 562.80H296.3V573.75H256.6zM256.6 587.20H296.3V597.50H256.6zM256.6 605.50H296.3V622.33H256.6zM256.6 635.50H296.3V646.75H256.6zM256.6 664.50H296.3V670.75H256.6zM256.6 686.45H296.3V695.00H256.6zM256.6 711.05H296.3V719.12H256.6zM256.6 737.00H296.3V744.25H256.6zM256.6 761.45H296.3V816.88H256.6zM256.6 820.00H296.3V866.25H256.6zM256.6 874.25H296.3V890.62H256.6zM256.6 900.50H296.3V917.80H256.6zM256.6 923.42H296.3V939.70H256.6zM256.6 950.62H296.3V964.70H256.6zM256.6 974.08H296.3V996.05H256.6zM256.6 1011.38H296.3V1037.20H256.6zM256.6 1055.50H296.3V1062.75H256.6zM256.6 1355.30H296.3V1360.92H256.6zM256.6 1377.75H296.3V1386.25H256.6z" fill="#a8a8a8"/>
<path d="M256.6 234.20H296.3M256.6 237.75H296.3M256.6 255.50H296.3M256.6 259.07H296.3M256.6 278.50H296.3M256.6 283.95H296.3M256.6 573.75H296.3M256.6 587.20H296.3M256.6 597.50H296.3M256.6 605.50H296.3M256.6 622.33H296.3M256.6 635.50H296.3M256.6 646.75H296.3M256.6 664.50H296.3M256.6 670.75H296.3M256.6 686.45H296.3M256.6 695.00H296.3M256.6 711.05H296.3M256.6 719.12H296.3M256.6 737.00H296.3M256.6 744.25H296.3M256.6 761.45H296.3M256.6 816.88H296.3M256.6 820.00H296.3M256.6 866.25H296.3M256.6 874.25H296.3M256.6 890.62H296.3M256.6 900.50H296.3M256.6 996.05H296.3M256.6 1011.38H296.3M256.6 1062.75H296.3M256.6 1355.30H296.3M256.6 1386.25H296.3" stroke="#333" stroke-width="0.9" fill="none"/>
<path d="M256.6 303.35H296.3V307.50H256.6zM256.6 308.40H296.3V309.60H256.6zM256.6 310.60H296.3V311.60H256.6zM256.6 328.38H296.3V347.75H256.6zM256.6 401.75H296.3V415.93H256.6zM256.6 425.93H296.3V441.25H256.6zM256.6 450.50H296.3V468.95H256.6zM256.6 474.70H296.3V496.57H256.6zM256.6 499.70H296.3V546.58H256.6zM256.6 549.08H296.3V562.80H256.6zM256.6 917.80H296.3V923.42H256.6zM256.6 939.70H296.3V950.62H256.6zM256.6 964.70H296.3V974.08H256.6zM256.6 1037.20H296.3V1055.50H256.6zM256.6 1360.92H296.3V1377.75H256.6zM256.6 1435.60H296.3V1440.60H256.6z" fill="#000"/>
<rect x="256.6" y="231.9" width="39.7" height="1463.1" fill="none" stroke="#222" stroke-width="1.1"/>
<text x="316.7" y="267.5" font-family='"DejaVu Sans", Verdana, sans-serif' font-size="29.5" fill="#000" stroke="#000" stroke-width="0.3" >R2</text>
<text x="314.8" y="445.0" font-family='"DejaVu Sans", Verdana, sans-serif' font-size="29.5" fill="#000" stroke="#000" stroke-width="0.3" >N2</text>
<text x="314.8" y="750.0" font-family='"DejaVu Sans", Verdana, sans-serif' font-size="29.5" fill="#000" stroke="#000" stroke-width="0.3" >R3</text>
<text x="313.3" y="998.1" font-family='"DejaVu Sans", Verdana, sans-serif' font-size="29.5" fill="#000" stroke="#000" stroke-width="0.3" >N3</text>
<text x="313.3" y="1218.6" font-family='"DejaVu Sans", Verdana, sans-serif' font-size="29.5" fill="#000" stroke="#000" stroke-width="0.3" >R4</text>
<text x="311.1" y="1380.0" font-family='"DejaVu Sans", Verdana, sans-serif' font-size="29.5" fill="#000" stroke="#000" stroke-width="0.3" >N4</text>
<text x="311.7" y="1553.6" font-family='"DejaVu Sans", Verdana, sans-serif' font-size="29.5" fill="#000" stroke="#000" stroke-width="0.3" >R5</text>
<path d="M296.5 230.6H304.4V284.4H296.5M304.4 257.5H310.6M296.5 303.75H304.4V562.5H296.5M304.4 433.1H310.6M296.5 574H304.4V900.6H296.5M304.4 737.5H310.6M296.5 916.5H304.4V1055H296.5M304.4 985.6H310.6M296.5 1063H304.4V1354.4H296.5M304.4 1208H310.6M296.5 1361.25H304.4V1376.9H296.5M304.4 1368.75H310.6M296.5 1388.75H304.4V1695H296.5M304.4 1541.25H310.6" stroke="#000" stroke-width="1.5" fill="none"/>
<rect x="360.50" y="227.00" width="90.00" height="1471.00" fill="#fff" />
<rect x="360.50" y="227.00" width="68.25" height="31.10" fill="url(#pd)" />
<rect x="360.50" y="232.60" width="68.25" height="3.70" fill="#fff" />
<rect x="360.50" y="232.60" width="16.40" height="3.70" fill="url(#py)" />
<rect x="376.90" y="232.60" width="30.00" height="3.70" fill="url(#pm)" />
<line x1="360.50" y1="236.30" x2="428.75" y2="236.30" stroke="#2c7a1c" stroke-width="0.8" />
<rect x="360.50" y="258.10" width="16.40" height="316.30" fill="url(#py)" />
<rect x="376.90" y="258.10" width="30.00" height="316.30" fill="url(#pm)" />
<rect x="368.10" y="457.50" width="9.30" height="16.25" fill="url(#pm)" />
<rect x="368.10" y="504.40" width="9.30" height="15.00" fill="url(#pm)" />
<rect x="368.10" y="529.40" width="9.30" height="25.60" fill="url(#pm)" />
<rect x="360.50" y="574.40" width="29.50" height="13.10" fill="url(#py)" />
<rect x="390.00" y="574.40" width="60.50" height="13.10" fill="url(#pd)" />
<line x1="360.50" y1="574.40" x2="450.50" y2="574.40" stroke="#3b3b1a" stroke-width="0.8" />
<rect x="360.50" y="587.50" width="16.40" height="13.50" fill="url(#py)" />
<rect x="376.90" y="587.50" width="30.00" height="13.50" fill="url(#pm)" />
<line x1="360.50" y1="587.50" x2="406.90" y2="587.50" stroke="#3b3b1a" stroke-width="0.8" />
<rect x="360.50" y="601.00" width="29.50" height="100.50" fill="url(#py)" />
<rect x="390.00" y="601.00" width="60.50" height="100.50" fill="url(#pd)" />
<line x1="360.50" y1="601.00" x2="450.50" y2="601.00" stroke="#3b3b1a" stroke-width="0.8" />
<rect x="360.50" y="701.50" width="16.40" height="4.50" fill="url(#py)" />
<rect x="376.90" y="701.50" width="30.00" height="4.50" fill="url(#pm)" />
<line x1="360.50" y1="701.50" x2="406.90" y2="701.50" stroke="#3b3b1a" stroke-width="0.8" />
<rect x="360.50" y="706.00" width="29.50" height="38.00" fill="url(#py)" />
<rect x="390.00" y="706.00" width="60.50" height="38.00" fill="url(#pd)" />
<line x1="360.50" y1="706.00" x2="450.50" y2="706.00" stroke="#3b3b1a" stroke-width="0.8" />
<rect x="360.50" y="744.00" width="16.40" height="4.50" fill="url(#py)" />
<rect x="376.90" y="744.00" width="30.00" height="4.50" fill="url(#pm)" />
<line x1="360.50" y1="744.00" x2="406.90" y2="744.00" stroke="#3b3b1a" stroke-width="0.8" />
<rect x="360.50" y="748.50" width="29.50" height="7.50" fill="url(#py)" />
<rect x="390.00" y="748.50" width="60.50" height="7.50" fill="url(#pd)" />
<line x1="360.50" y1="748.50" x2="450.50" y2="748.50" stroke="#3b3b1a" stroke-width="0.8" />
<rect x="360.50" y="756.00" width="16.40" height="3.20" fill="url(#py)" />
<rect x="376.90" y="756.00" width="30.00" height="3.20" fill="url(#pm)" />
<line x1="360.50" y1="756.00" x2="406.90" y2="756.00" stroke="#3b3b1a" stroke-width="0.8" />
<rect x="360.50" y="759.20" width="29.50" height="6.10" fill="url(#py)" />
<rect x="390.00" y="759.20" width="60.50" height="6.10" fill="url(#pd)" />
<line x1="360.50" y1="759.20" x2="450.50" y2="759.20" stroke="#3b3b1a" stroke-width="0.8" />
<rect x="360.50" y="765.30" width="16.40" height="4.70" fill="url(#py)" />
<rect x="376.90" y="765.30" width="30.00" height="4.70" fill="url(#pm)" />
<line x1="360.50" y1="765.30" x2="406.90" y2="765.30" stroke="#3b3b1a" stroke-width="0.8" />
<rect x="360.50" y="770.00" width="16.40" height="96.90" fill="url(#pc)" />
<rect x="376.90" y="770.00" width="30.00" height="96.90" fill="url(#pm)" />
<rect x="360.50" y="866.90" width="16.40" height="60.60" fill="url(#pc)" />
<rect x="376.90" y="866.90" width="30.00" height="60.60" fill="url(#pm)" />
<rect x="360.50" y="867.40" width="90.00" height="4.40" fill="#58a636" />
<line x1="360.50" y1="867.70" x2="450.50" y2="867.70" stroke="#2a6420" stroke-width="0.8" />
<line x1="360.50" y1="871.50" x2="450.50" y2="871.50" stroke="#2a6420" stroke-width="0.8" />
<line x1="360.50" y1="869.60" x2="450.50" y2="869.60" stroke="#357d26" stroke-width="0.8" />
<rect x="360.50" y="874.25" width="90.00" height="4.40" fill="#58a636" />
<line x1="360.50" y1="874.55" x2="450.50" y2="874.55" stroke="#2a6420" stroke-width="0.8" />
<line x1="360.50" y1="878.35" x2="450.50" y2="878.35" stroke="#2a6420" stroke-width="0.8" />
<line x1="360.50" y1="876.45" x2="450.50" y2="876.45" stroke="#357d26" stroke-width="0.8" />
<rect x="360.50" y="881.10" width="90.00" height="4.40" fill="#58a636" />
<line x1="360.50" y1="881.40" x2="450.50" y2="881.40" stroke="#2a6420" stroke-width="0.8" />
<line x1="360.50" y1="885.20" x2="450.50" y2="885.20" stroke="#2a6420" stroke-width="0.8" />
<line x1="360.50" y1="883.30" x2="450.50" y2="883.30" stroke="#357d26" stroke-width="0.8" />
<rect x="360.50" y="887.95" width="90.00" height="4.40" fill="#58a636" />
<line x1="360.50" y1="888.25" x2="450.50" y2="888.25" stroke="#2a6420" stroke-width="0.8" />
<line x1="360.50" y1="892.05" x2="450.50" y2="892.05" stroke="#2a6420" stroke-width="0.8" />
<line x1="360.50" y1="890.15" x2="450.50" y2="890.15" stroke="#357d26" stroke-width="0.8" />
<rect x="360.50" y="894.80" width="90.00" height="4.40" fill="#58a636" />
<line x1="360.50" y1="895.10" x2="450.50" y2="895.10" stroke="#2a6420" stroke-width="0.8" />
<line x1="360.50" y1="898.90" x2="450.50" y2="898.90" stroke="#2a6420" stroke-width="0.8" />
<line x1="360.50" y1="897.00" x2="450.50" y2="897.00" stroke="#357d26" stroke-width="0.8" />
<rect x="360.50" y="901.65" width="90.00" height="4.40" fill="#58a636" />
<line x1="360.50" y1="901.95" x2="450.50" y2="901.95" stroke="#2a6420" stroke-width="0.8" />
<line x1="360.50" y1="905.75" x2="450.50" y2="905.75" stroke="#2a6420" stroke-width="0.8" />
<line x1="360.50" y1="903.85" x2="450.50" y2="903.85" stroke="#357d26" stroke-width="0.8" />
<rect x="360.50" y="908.50" width="90.00" height="4.40" fill="#58a636" />
<line x1="360.50" y1="908.80" x2="450.50" y2="908.80" stroke="#2a6420" stroke-width="0.8" />
<line x1="360.50" y1="912.60" x2="450.50" y2="912.60" stroke="#2a6420" stroke-width="0.8" />
<line x1="360.50" y1="910.70" x2="450.50" y2="910.70" stroke="#357d26" stroke-width="0.8" />
<rect x="360.50" y="915.35" width="90.00" height="4.40" fill="#58a636" />
<line x1="360.50" y1="915.65" x2="450.50" y2="915.65" stroke="#2a6420" stroke-width="0.8" />
<line x1="360.50" y1="919.45" x2="450.50" y2="919.45" stroke="#2a6420" stroke-width="0.8" />
<line x1="360.50" y1="917.55" x2="450.50" y2="917.55" stroke="#357d26" stroke-width="0.8" />
<rect x="360.50" y="922.20" width="90.00" height="4.40" fill="#58a636" />
<line x1="360.50" y1="922.50" x2="450.50" y2="922.50" stroke="#2a6420" stroke-width="0.8" />
<line x1="360.50" y1="926.30" x2="450.50" y2="926.30" stroke="#2a6420" stroke-width="0.8" />
<line x1="360.50" y1="924.40" x2="450.50" y2="924.40" stroke="#357d26" stroke-width="0.8" />
<rect x="360.50" y="927.50" width="29.50" height="84.50" fill="url(#pc)" />
<rect x="390.00" y="927.50" width="60.50" height="84.50" fill="url(#pd)" />
<line x1="360.50" y1="927.50" x2="450.50" y2="927.50" stroke="#2f6b22" stroke-width="1" />
<rect x="360.50" y="1012.00" width="90.00" height="686.00" fill="url(#pd)" />
<line x1="360.50" y1="1012.30" x2="450.50" y2="1012.30" stroke="#2a5a1c" stroke-width="1.2" />
<rect x="360.50" y="1163.20" width="90.00" height="2.40" fill="#7c9a6c" />
<line x1="360.50" y1="1163.20" x2="450.50" y2="1163.20" stroke="#3f6b35" stroke-width="0.7" />
<line x1="360.50" y1="1165.60" x2="450.50" y2="1165.60" stroke="#3f6b35" stroke-width="0.7" />
<rect x="360.50" y="1167.60" width="90.00" height="4.00" fill="#7c9a6c" />
<line x1="360.50" y1="1167.60" x2="450.50" y2="1167.60" stroke="#3f6b35" stroke-width="0.7" />
<line x1="360.50" y1="1171.60" x2="450.50" y2="1171.60" stroke="#3f6b35" stroke-width="0.7" />
<rect x="360.50" y="1178.80" width="47.30" height="10.60" fill="url(#pm)" />
<rect x="407.80" y="1178.80" width="42.70" height="10.60" fill="#fff" />
<line x1="407.80" y1="1178.80" x2="407.80" y2="1189.40" stroke="#555" stroke-width="0.8" />
<rect x="360.50" y="1355.60" width="48.30" height="28.20" fill="url(#pm)" />
<rect x="408.80" y="1355.60" width="41.70" height="28.20" fill="#fff" />
<line x1="408.80" y1="1355.60" x2="408.80" y2="1383.80" stroke="#555" stroke-width="0.8" />
<line x1="360.50" y1="1355.60" x2="450.50" y2="1355.60" stroke="#444" stroke-width="0.8" />
<line x1="360.50" y1="1383.80" x2="450.50" y2="1383.80" stroke="#444" stroke-width="0.8" />
<rect x="360.50" y="1465.20" width="48.30" height="2.20" fill="#8f8f8f" />
<rect x="408.80" y="1465.20" width="41.70" height="2.20" fill="#ffffff" />
<line x1="360.50" y1="1465.20" x2="450.50" y2="1465.20" stroke="#3c4a38" stroke-width="0.6" />
<rect x="360.50" y="1467.40" width="48.30" height="3.00" fill="#5f7a55" />
<rect x="408.80" y="1467.40" width="41.70" height="3.00" fill="#7fae6a" />
<line x1="360.50" y1="1467.40" x2="450.50" y2="1467.40" stroke="#3c4a38" stroke-width="0.6" />
<rect x="360.50" y="1470.40" width="48.30" height="2.60" fill="#8a8a8a" />
<rect x="408.80" y="1470.40" width="41.70" height="2.60" fill="#9aa694" />
<line x1="360.50" y1="1470.40" x2="450.50" y2="1470.40" stroke="#3c4a38" stroke-width="0.6" />
<rect x="360.50" y="1473.00" width="48.30" height="3.20" fill="#5f7f52" />
<rect x="408.80" y="1473.00" width="41.70" height="3.20" fill="#86b070" />
<line x1="360.50" y1="1473.00" x2="450.50" y2="1473.00" stroke="#3c4a38" stroke-width="0.6" />
<rect x="360.50" y="1476.20" width="48.30" height="2.60" fill="#6e8a62" />
<rect x="408.80" y="1476.20" width="41.70" height="2.60" fill="#8fb47c" />
<line x1="360.50" y1="1476.20" x2="450.50" y2="1476.20" stroke="#3c4a38" stroke-width="0.6" />
<rect x="360.50" y="1478.80" width="48.30" height="3.00" fill="#c7d8c0" />
<rect x="408.80" y="1478.80" width="41.70" height="3.00" fill="#cfe3c6" />
<line x1="360.50" y1="1478.80" x2="450.50" y2="1478.80" stroke="#3c4a38" stroke-width="0.6" />
<rect x="360.50" y="1481.80" width="48.30" height="3.20" fill="#5d8a4c" />
<rect x="408.80" y="1481.80" width="41.70" height="3.20" fill="#6fa95c" />
<line x1="360.50" y1="1481.80" x2="450.50" y2="1481.80" stroke="#3c4a38" stroke-width="0.6" />
<rect x="360.50" y="1485.00" width="48.30" height="3.00" fill="#6a9a58" />
<rect x="408.80" y="1485.00" width="41.70" height="3.00" fill="#79b564" />
<line x1="360.50" y1="1485.00" x2="450.50" y2="1485.00" stroke="#3c4a38" stroke-width="0.6" />
<rect x="360.50" y="1488.00" width="48.30" height="3.60" fill="#9a9a9a" />
<rect x="408.80" y="1488.00" width="41.70" height="3.60" fill="#ffffff" />
<line x1="360.50" y1="1488.00" x2="450.50" y2="1488.00" stroke="#3c4a38" stroke-width="0.6" />
<rect x="360.50" y="1491.60" width="48.30" height="2.60" fill="#707070" />
<rect x="408.80" y="1491.60" width="41.70" height="2.60" fill="#8a9a84" />
<line x1="360.50" y1="1491.60" x2="450.50" y2="1491.60" stroke="#3c4a38" stroke-width="0.6" />
<rect x="360.50" y="1494.20" width="48.30" height="3.20" fill="#5f8a50" />
<rect x="408.80" y="1494.20" width="41.70" height="3.20" fill="#6fae5a" />
<line x1="360.50" y1="1494.20" x2="450.50" y2="1494.20" stroke="#3c4a38" stroke-width="0.6" />
<line x1="408.80" y1="1465.00" x2="408.80" y2="1497.50" stroke="#444" stroke-width="0.7" />
<rect x="360.50" y="1694.80" width="90.00" height="4.20" fill="#fff" />
<path d="M359.7 224.8V1700.8M358.2 226.3H453M451.4 224.8V1700.8M358.2 1699.2H501" stroke="#000" stroke-width="3.2" fill="none"/>
<path d="M450 259.7H501M499.4 258.1V1700.8" stroke="#000" stroke-width="3.2" fill="none"/>
<line x1="451.00" y1="576.00" x2="500.50" y2="576.00" stroke="#000" stroke-width="3.2" />
<line x1="451.00" y1="772.80" x2="500.50" y2="772.80" stroke="#000" stroke-width="3.2" />
<line x1="451.00" y1="869.00" x2="500.50" y2="869.00" stroke="#000" stroke-width="3.2" />
<line x1="451.00" y1="1014.30" x2="500.50" y2="1014.30" stroke="#000" stroke-width="3.2" />
<line x1="451.00" y1="1491.90" x2="500.50" y2="1491.90" stroke="#000" stroke-width="3.2" />
<text x="456" y="422.8" font-family='"DejaVu Sans", Verdana, sans-serif' font-size="29.5" fill="#000" stroke="#000" stroke-width="0.3" >4B</text>
<text x="456" y="685.9" font-family='"DejaVu Sans", Verdana, sans-serif' font-size="29.5" fill="#000" stroke="#000" stroke-width="0.3" >4A</text>
<text x="456" y="826.5" font-family='"DejaVu Sans", Verdana, sans-serif' font-size="29.5" fill="#000" stroke="#000" stroke-width="0.3" >3B</text>
<text x="456" y="953.4" font-family='"DejaVu Sans", Verdana, sans-serif' font-size="29.5" fill="#000" stroke="#000" stroke-width="0.3" >3A</text>
<text x="463.3" y="1269.2" font-family='"DejaVu Sans", Verdana, sans-serif' font-size="30" fill="#000" stroke="#000" stroke-width="0.3" >2</text>
<text x="466.5" y="1612.1" font-family='"DejaVu Sans", Verdana, sans-serif' font-size="30" fill="#000" stroke="#000" stroke-width="0.3" >1</text>
<text transform="translate(494.9 45.4) rotate(-90)" font-family='"Liberation Sans", Arial, Helvetica, sans-serif' font-size="21" fill="#000" stroke="#000" stroke-width="0.3" textLength="30.4" lengthAdjust="spacingAndGlyphs" >Ma</text>
<path d="M523.5 54.2V69.3M529.3 63.3V69.3M535.1 63.3V69.3M540.9 63.3V69.3M546.7 63.3V69.3M552.5 60.2V69.3M558.3 63.3V69.3M564.2 63.3V69.3M570.0 63.3V69.3M575.8 63.3V69.3M581.6 60.2V69.3M587.4 63.3V69.3M593.2 63.3V69.3M599.0 63.3V69.3M604.8 63.3V69.3M610.6 60.2V69.3M616.4 63.3V69.3M622.2 63.3V69.3M628.0 63.3V69.3M633.9 63.3V69.3M639.7 60.2V69.3M645.5 63.3V69.3M651.3 63.3V69.3M657.1 63.3V69.3M662.9 63.3V69.3M668.7 60.2V69.3M674.5 63.3V69.3M680.3 63.3V69.3M686.1 63.3V69.3M691.9 63.3V69.3M697.7 60.2V69.3M703.5 63.3V69.3M709.4 63.3V69.3M715.2 63.3V69.3M721.0 63.3V69.3M726.8 60.2V69.3M732.6 63.3V69.3M738.4 63.3V69.3M744.2 63.3V69.3M750.0 63.3V69.3M755.8 60.2V69.3M761.6 63.3V69.3M767.4 63.3V69.3M773.2 63.3V69.3M779.1 63.3V69.3M784.9 60.2V69.3M790.7 63.3V69.3M796.5 63.3V69.3M802.3 63.3V69.3M808.1 63.3V69.3M813.9 54.2V69.3M819.7 63.3V69.3M825.5 63.3V69.3M831.3 63.3V69.3M837.1 63.3V69.3M842.9 60.2V69.3M848.7 63.3V69.3M854.6 63.3V69.3M860.4 63.3V69.3M866.2 63.3V69.3M872.0 60.2V69.3M877.8 63.3V69.3M883.6 63.3V69.3M889.4 63.3V69.3M895.2 63.3V69.3M901.0 60.2V69.3M906.8 63.3V69.3M912.6 63.3V69.3M918.4 63.3V69.3M924.3 63.3V69.3M930.1 60.2V69.3M935.9 63.3V69.3M941.7 63.3V69.3M947.5 63.3V69.3M953.3 63.3V69.3M959.1 60.2V69.3M964.9 63.3V69.3M970.7 63.3V69.3M976.5 63.3V69.3M982.3 63.3V69.3M988.1 60.2V69.3M993.9 63.3V69.3M999.8 63.3V69.3M1005.6 63.3V69.3M1011.4 63.3V69.3M1017.2 60.2V69.3M1023.0 63.3V69.3M1028.8 63.3V69.3M1034.6 63.3V69.3M1040.4 63.3V69.3M1046.2 60.2V69.3M1052.0 63.3V69.3M1057.8 63.3V69.3M1063.6 63.3V69.3M1069.5 63.3V69.3M1075.3 60.2V69.3M1081.1 63.3V69.3M1086.9 63.3V69.3M1092.7 63.3V69.3M1098.5 63.3V69.3M1104.3 54.2V69.3M1110.1 63.3V69.3M1115.9 63.3V69.3M1121.7 63.3V69.3M1127.5 63.3V69.3M1133.3 60.2V69.3M1139.1 63.3V69.3M1145.0 63.3V69.3M1150.8 63.3V69.3M1156.6 63.3V69.3M1162.4 60.2V69.3M1168.2 63.3V69.3M1174.0 63.3V69.3M1179.8 63.3V69.3M1185.6 63.3V69.3M1191.4 60.2V69.3M1197.2 63.3V69.3M1203.0 63.3V69.3M1208.8 63.3V69.3M1214.7 63.3V69.3M1220.5 60.2V69.3M1226.3 63.3V69.3M1232.1 63.3V69.3M1237.9 63.3V69.3M1243.7 63.3V69.3M1249.5 60.2V69.3M1255.3 63.3V69.3M1261.1 63.3V69.3M1266.9 63.3V69.3M1272.7 63.3V69.3M1278.5 60.2V69.3M1284.3 63.3V69.3M1290.2 63.3V69.3M1296.0 63.3V69.3M1301.8 63.3V69.3M1307.6 60.2V69.3M1313.4 63.3V69.3M1319.2 63.3V69.3M1325.0 63.3V69.3M1330.8 63.3V69.3M1336.6 60.2V69.3M1342.4 63.3V69.3M1348.2 63.3V69.3M1354.0 63.3V69.3M1359.9 63.3V69.3M1365.7 60.2V69.3M1371.5 63.3V69.3M1377.3 63.3V69.3M1383.1 63.3V69.3M1388.9 63.3V69.3M1394.7 54.2V69.3M1400.5 63.3V69.3M1406.3 63.3V69.3M1412.1 63.3V69.3M1417.9 63.3V69.3M1423.7 60.2V69.3M1429.5 63.3V69.3M1435.4 63.3V69.3M1441.2 63.3V69.3M1447.0 63.3V69.3M1452.8 60.2V69.3M1458.6 63.3V69.3M1464.4 63.3V69.3M1470.2 63.3V69.3M1476.0 63.3V69.3M1481.8 60.2V69.3M1487.6 63.3V69.3M1493.4 63.3V69.3M1499.2 63.3V69.3M1505.1 63.3V69.3M1510.9 60.2V69.3M1516.7 63.3V69.3M1522.5 63.3V69.3M1528.3 63.3V69.3M1534.1 63.3V69.3M1539.9 60.2V69.3M1545.7 63.3V69.3M1551.5 63.3V69.3M1557.3 63.3V69.3M1563.1 63.3V69.3M1568.9 60.2V69.3M1574.7 63.3V69.3M1580.6 63.3V69.3M1586.4 63.3V69.3M1592.2 63.3V69.3M1598.0 60.2V69.3M1603.8 63.3V69.3M1609.6 63.3V69.3M1615.4 63.3V69.3M1621.2 63.3V69.3M1627.0 60.2V69.3M1632.8 63.3V69.3M1638.6 63.3V69.3M1644.4 63.3V69.3M1650.3 63.3V69.3M1656.1 60.2V69.3M1661.9 63.3V69.3M1667.7 63.3V69.3M1673.5 63.3V69.3M1679.3 63.3V69.3M1685.1 54.2V69.3M1690.9 63.3V69.3M1696.7 63.3V69.3M1702.5 63.3V69.3M1708.3 63.3V69.3M1714.1 60.2V69.3M1719.9 63.3V69.3M1725.8 63.3V69.3M1731.6 63.3V69.3M1737.4 63.3V69.3M1743.2 60.2V69.3M1749.0 63.3V69.3M1754.8 63.3V69.3M1760.6 63.3V69.3M1766.4 63.3V69.3M1772.2 60.2V69.3M1778.0 63.3V69.3M1783.8 63.3V69.3M1789.6 63.3V69.3M1795.5 63.3V69.3M1801.3 60.2V69.3M1807.1 63.3V69.3M1812.9 63.3V69.3M1818.7 63.3V69.3M1824.5 63.3V69.3M1830.3 60.2V69.3M1836.1 63.3V69.3M1841.9 63.3V69.3M1847.7 63.3V69.3M1853.5 63.3V69.3M1859.3 60.2V69.3M1865.1 63.3V69.3M1871.0 63.3V69.3M1876.8 63.3V69.3M1882.6 63.3V69.3M1888.4 60.2V69.3M1894.2 63.3V69.3M1900.0 63.3V69.3M1905.8 63.3V69.3M1911.6 63.3V69.3M1917.4 60.2V69.3M1923.2 63.3V69.3M1929.0 63.3V69.3M1934.8 63.3V69.3M1940.7 63.3V69.3M1946.5 60.2V69.3M1952.3 63.3V69.3M1958.1 63.3V69.3M1963.9 63.3V69.3M1969.7 63.3V69.3M1975.5 54.2V69.3M1981.3 63.3V69.3M1987.1 63.3V69.3M1992.9 63.3V69.3M1998.7 63.3V69.3M2004.5 60.2V69.3M2010.3 63.3V69.3M2016.2 63.3V69.3M2022.0 63.3V69.3M2027.8 63.3V69.3M2033.6 60.2V69.3M2039.4 63.3V69.3M2045.2 63.3V69.3M2051.0 63.3V69.3M2056.8 63.3V69.3M2062.6 60.2V69.3M2068.4 63.3V69.3M2074.2 63.3V69.3M2080.0 63.3V69.3M2085.9 63.3V69.3M2091.7 60.2V69.3M2097.5 63.3V69.3M2103.3 63.3V69.3M2109.1 63.3V69.3M2114.9 63.3V69.3M2120.7 60.2V69.3" stroke="#000" stroke-width="2.4" fill="none"/>
<line x1="522.30" y1="69.40" x2="2119.50" y2="69.40" stroke="#000" stroke-width="2.6" />
<text transform="translate(528.8 44.8) rotate(-90)" font-family='"Liberation Sans", Arial, Helvetica, sans-serif' font-size="21.3" fill="#000" stroke="#000" stroke-width="0.3" textLength="20.6" lengthAdjust="spacingAndGlyphs" >14</text>
<text transform="translate(586.9 48.8) rotate(-90)" font-family='"Liberation Sans", Arial, Helvetica, sans-serif' font-size="21.3" fill="#000" stroke="#000" stroke-width="0.3" textLength="41.6" lengthAdjust="spacingAndGlyphs" >14.2</text>
<text transform="translate(645.0 48.8) rotate(-90)" font-family='"Liberation Sans", Arial, Helvetica, sans-serif' font-size="21.3" fill="#000" stroke="#000" stroke-width="0.3" textLength="41.6" lengthAdjust="spacingAndGlyphs" >14.4</text>
<text transform="translate(703.0 48.8) rotate(-90)" font-family='"Liberation Sans", Arial, Helvetica, sans-serif' font-size="21.3" fill="#000" stroke="#000" stroke-width="0.3" textLength="41.6" lengthAdjust="spacingAndGlyphs" >14.6</text>
<text transform="translate(761.1 48.8) rotate(-90)" font-family='"Liberation Sans", Arial, Helvetica, sans-serif' font-size="21.3" fill="#000" stroke="#000" stroke-width="0.3" textLength="41.6" lengthAdjust="spacingAndGlyphs" >14.8</text>
<text transform="translate(819.2 44.8) rotate(-90)" font-family='"Liberation Sans", Arial, Helvetica, sans-serif' font-size="21.3" fill="#000" stroke="#000" stroke-width="0.3" textLength="20.6" lengthAdjust="spacingAndGlyphs" >15</text>
<text transform="translate(877.3 48.8) rotate(-90)" font-family='"Liberation Sans", Arial, Helvetica, sans-serif' font-size="21.3" fill="#000" stroke="#000" stroke-width="0.3" textLength="41.6" lengthAdjust="spacingAndGlyphs" >15.2</text>
<text transform="translate(935.4 48.8) rotate(-90)" font-family='"Liberation Sans", Arial, Helvetica, sans-serif' font-size="21.3" fill="#000" stroke="#000" stroke-width="0.3" textLength="41.6" lengthAdjust="spacingAndGlyphs" >15.4</text>
<text transform="translate(993.4 48.8) rotate(-90)" font-family='"Liberation Sans", Arial, Helvetica, sans-serif' font-size="21.3" fill="#000" stroke="#000" stroke-width="0.3" textLength="41.6" lengthAdjust="spacingAndGlyphs" >15.6</text>
<text transform="translate(1051.5 48.8) rotate(-90)" font-family='"Liberation Sans", Arial, Helvetica, sans-serif' font-size="21.3" fill="#000" stroke="#000" stroke-width="0.3" textLength="41.6" lengthAdjust="spacingAndGlyphs" >15.8</text>
<text transform="translate(1109.6 44.8) rotate(-90)" font-family='"Liberation Sans", Arial, Helvetica, sans-serif' font-size="21.3" fill="#000" stroke="#000" stroke-width="0.3" textLength="20.6" lengthAdjust="spacingAndGlyphs" >16</text>
<text transform="translate(1167.7 48.8) rotate(-90)" font-family='"Liberation Sans", Arial, Helvetica, sans-serif' font-size="21.3" fill="#000" stroke="#000" stroke-width="0.3" textLength="41.6" lengthAdjust="spacingAndGlyphs" >16.2</text>
<text transform="translate(1225.8 48.8) rotate(-90)" font-family='"Liberation Sans", Arial, Helvetica, sans-serif' font-size="21.3" fill="#000" stroke="#000" stroke-width="0.3" textLength="41.6" lengthAdjust="spacingAndGlyphs" >16.4</text>
<text transform="translate(1283.8 48.8) rotate(-90)" font-family='"Liberation Sans", Arial, Helvetica, sans-serif' font-size="21.3" fill="#000" stroke="#000" stroke-width="0.3" textLength="41.6" lengthAdjust="spacingAndGlyphs" >16.6</text>
<text transform="translate(1341.9 48.8) rotate(-90)" font-family='"Liberation Sans", Arial, Helvetica, sans-serif' font-size="21.3" fill="#000" stroke="#000" stroke-width="0.3" textLength="41.6" lengthAdjust="spacingAndGlyphs" >16.8</text>
<text transform="translate(1400.0 44.8) rotate(-90)" font-family='"Liberation Sans", Arial, Helvetica, sans-serif' font-size="21.3" fill="#000" stroke="#000" stroke-width="0.3" textLength="20.6" lengthAdjust="spacingAndGlyphs" >17</text>
<text transform="translate(1458.1 48.8) rotate(-90)" font-family='"Liberation Sans", Arial, Helvetica, sans-serif' font-size="21.3" fill="#000" stroke="#000" stroke-width="0.3" textLength="41.6" lengthAdjust="spacingAndGlyphs" >17.2</text>
<text transform="translate(1516.2 48.8) rotate(-90)" font-family='"Liberation Sans", Arial, Helvetica, sans-serif' font-size="21.3" fill="#000" stroke="#000" stroke-width="0.3" textLength="41.6" lengthAdjust="spacingAndGlyphs" >17.4</text>
<text transform="translate(1574.2 48.8) rotate(-90)" font-family='"Liberation Sans", Arial, Helvetica, sans-serif' font-size="21.3" fill="#000" stroke="#000" stroke-width="0.3" textLength="41.6" lengthAdjust="spacingAndGlyphs" >17.6</text>
<text transform="translate(1632.3 48.8) rotate(-90)" font-family='"Liberation Sans", Arial, Helvetica, sans-serif' font-size="21.3" fill="#000" stroke="#000" stroke-width="0.3" textLength="41.6" lengthAdjust="spacingAndGlyphs" >17.8</text>
<text transform="translate(1690.4 44.8) rotate(-90)" font-family='"Liberation Sans", Arial, Helvetica, sans-serif' font-size="21.3" fill="#000" stroke="#000" stroke-width="0.3" textLength="20.6" lengthAdjust="spacingAndGlyphs" >18</text>
<text transform="translate(1748.5 48.8) rotate(-90)" font-family='"Liberation Sans", Arial, Helvetica, sans-serif' font-size="21.3" fill="#000" stroke="#000" stroke-width="0.3" textLength="41.6" lengthAdjust="spacingAndGlyphs" >18.2</text>
<text transform="translate(1806.6 48.8) rotate(-90)" font-family='"Liberation Sans", Arial, Helvetica, sans-serif' font-size="21.3" fill="#000" stroke="#000" stroke-width="0.3" textLength="41.6" lengthAdjust="spacingAndGlyphs" >18.4</text>
<text transform="translate(1864.6 48.8) rotate(-90)" font-family='"Liberation Sans", Arial, Helvetica, sans-serif' font-size="21.3" fill="#000" stroke="#000" stroke-width="0.3" textLength="41.6" lengthAdjust="spacingAndGlyphs" >18.6</text>
<text transform="translate(1922.7 48.8) rotate(-90)" font-family='"Liberation Sans", Arial, Helvetica, sans-serif' font-size="21.3" fill="#000" stroke="#000" stroke-width="0.3" textLength="41.6" lengthAdjust="spacingAndGlyphs" >18.8</text>
<text transform="translate(1980.8 44.8) rotate(-90)" font-family='"Liberation Sans", Arial, Helvetica, sans-serif' font-size="21.3" fill="#000" stroke="#000" stroke-width="0.3" textLength="20.6" lengthAdjust="spacingAndGlyphs" >19</text>
<text transform="translate(2038.9 48.8) rotate(-90)" font-family='"Liberation Sans", Arial, Helvetica, sans-serif' font-size="21.3" fill="#000" stroke="#000" stroke-width="0.3" textLength="41.6" lengthAdjust="spacingAndGlyphs" >19.2</text>
<text transform="translate(2097.0 48.8) rotate(-90)" font-family='"Liberation Sans", Arial, Helvetica, sans-serif' font-size="21.3" fill="#000" stroke="#000" stroke-width="0.3" textLength="41.6" lengthAdjust="spacingAndGlyphs" >19.4</text>
<line x1="572.10" y1="69.00" x2="572.10" y2="98.50" stroke="#000" stroke-width="2.6" />
<line x1="748.60" y1="69.00" x2="748.60" y2="98.50" stroke="#000" stroke-width="2.6" />
<line x1="1102.00" y1="69.00" x2="1102.00" y2="98.50" stroke="#000" stroke-width="2.6" />
<line x1="1438.75" y1="69.00" x2="1438.75" y2="98.50" stroke="#000" stroke-width="2.6" />
<line x1="1687.00" y1="69.00" x2="1687.00" y2="98.50" stroke="#000" stroke-width="2.6" />
<line x1="1869.00" y1="69.00" x2="1869.00" y2="98.50" stroke="#000" stroke-width="2.6" />
<text x="524.6" y="93.4" font-family='"Liberation Sans", Arial, Helvetica, sans-serif' font-size="22" fill="#000" stroke="#000" stroke-width="0.3" text-anchor="middle" >C5AC</text>
<text x="658.6" y="93.4" font-family='"Liberation Sans", Arial, Helvetica, sans-serif' font-size="22" fill="#000" stroke="#000" stroke-width="0.3" text-anchor="middle" >C5AD</text>
<text x="923" y="93.4" font-family='"Liberation Sans", Arial, Helvetica, sans-serif' font-size="22" fill="#000" stroke="#000" stroke-width="0.3" text-anchor="middle" >C5B</text>
<text x="1277" y="93.4" font-family='"Liberation Sans", Arial, Helvetica, sans-serif' font-size="22" fill="#000" stroke="#000" stroke-width="0.3" text-anchor="middle" >C5C</text>
<text x="1575.9" y="93.4" font-family='"Liberation Sans", Arial, Helvetica, sans-serif' font-size="22" fill="#000" stroke="#000" stroke-width="0.3" text-anchor="middle" >C5D</text>
<text x="1769.7" y="93.4" font-family='"Liberation Sans", Arial, Helvetica, sans-serif' font-size="22" fill="#000" stroke="#000" stroke-width="0.3" text-anchor="middle" >C5E</text>
<text x="2004.4" y="93.4" font-family='"Liberation Sans", Arial, Helvetica, sans-serif' font-size="22" fill="#000" stroke="#000" stroke-width="0.3" text-anchor="middle" >C6</text>
<rect x="522.00" y="98.00" width="1597.50" height="39.60" fill="#fff" stroke="#000" stroke-width="1.6" />
<path d="M522 97.6H543.5V138H522zM571.2 97.6H699.7V138H571.2zM748.6 97.6H775.7V138H748.6zM825.5 97.6H868V138H825.5zM1102 97.6H1181.25V138H1102zM1205.75 97.6H1228.25V138H1205.75zM1258 97.6H1288.25V138H1258zM1438.75 97.6H1530.3V138H1438.75zM1578.8 97.6H1589.7V138H1578.8zM1687.6 97.6H1829.4V138H1687.6zM1869.1 97.6H2119.5V138H1869.1z" fill="#000"/>
<text transform="translate(539.6 226.7) rotate(-90)" font-family='"Liberation Sans", Arial, Helvetica, sans-serif' font-size="21.5" fill="#000" stroke="#000" stroke-width="0.3" >C5ACn</text>
<text transform="translate(565.2 226.7) rotate(-90)" font-family='"Liberation Sans", Arial, Helvetica, sans-serif' font-size="21.5" fill="#000" stroke="#000" stroke-width="0.3" >C5ACr</text>
<text transform="translate(640.5 226.7) rotate(-90)" font-family='"Liberation Sans", Arial, Helvetica, sans-serif' font-size="21.5" fill="#000" stroke="#000" stroke-width="0.3" >C5ADn</text>
<text transform="translate(732.8 226.7) rotate(-90)" font-family='"Liberation Sans", Arial, Helvetica, sans-serif' font-size="21.5" fill="#000" stroke="#000" stroke-width="0.3" >C5ADr</text>
<text transform="translate(769 226.7) rotate(-90)" font-family='"Liberation Sans", Arial, Helvetica, sans-serif' font-size="21.5" fill="#000" stroke="#000" stroke-width="0.3" >C5Bn.1n</text>
<text transform="translate(807.5 226.7) rotate(-90)" font-family='"Liberation Sans", Arial, Helvetica, sans-serif' font-size="21.5" fill="#000" stroke="#000" stroke-width="0.3" >C5Bn.1r</text>
<text transform="translate(856 226.7) rotate(-90)" font-family='"Liberation Sans", Arial, Helvetica, sans-serif' font-size="21.5" fill="#000" stroke="#000" stroke-width="0.3" >C5Bn.2n</text>
<text transform="translate(987 224) rotate(-90)" font-family='"Liberation Sans", Arial, Helvetica, sans-serif' font-size="21.5" fill="#000" stroke="#000" stroke-width="0.3" >C5Br</text>
<text transform="translate(1155.7 228.3) rotate(-90)" font-family='"Liberation Sans", Arial, Helvetica, sans-serif' font-size="21.5" fill="#000" stroke="#000" stroke-width="0.3" >C5BN.1n</text>
<text transform="translate(1201 228.3) rotate(-90)" font-family='"Liberation Sans", Arial, Helvetica, sans-serif' font-size="21.5" fill="#000" stroke="#000" stroke-width="0.3" >C5BN.1n</text>
<text transform="translate(1225.3 228.3) rotate(-90)" font-family='"Liberation Sans", Arial, Helvetica, sans-serif' font-size="21.5" fill="#000" stroke="#000" stroke-width="0.3" >C5BN.1n</text>
<text transform="translate(1250.4 228.3) rotate(-90)" font-family='"Liberation Sans", Arial, Helvetica, sans-serif' font-size="21.5" fill="#000" stroke="#000" stroke-width="0.3" >C5BN.1n</text>
<text transform="translate(1282.4 228.3) rotate(-90)" font-family='"Liberation Sans", Arial, Helvetica, sans-serif' font-size="21.5" fill="#000" stroke="#000" stroke-width="0.3" >C5BN.1n</text>
<text transform="translate(1371.3 225.6) rotate(-90)" font-family='"Liberation Sans", Arial, Helvetica, sans-serif' font-size="21.5" fill="#000" stroke="#000" stroke-width="0.3" >C5Cr</text>
<text transform="translate(1492.7 225.3) rotate(-90)" font-family='"Liberation Sans", Arial, Helvetica, sans-serif' font-size="21.5" fill="#000" stroke="#000" stroke-width="0.3" >C5Dn</text>
<text transform="translate(1562.4 225) rotate(-90)" font-family='"Liberation Sans", Arial, Helvetica, sans-serif' font-size="21.5" fill="#000" stroke="#000" stroke-width="0.3" >C5Dr.1r</text>
<text transform="translate(1591.2 225) rotate(-90)" font-family='"Liberation Sans", Arial, Helvetica, sans-serif' font-size="21.5" fill="#000" stroke="#000" stroke-width="0.3" >C5Dr.1n</text>
<text transform="translate(1643.2 225) rotate(-90)" font-family='"Liberation Sans", Arial, Helvetica, sans-serif' font-size="21.5" fill="#000" stroke="#000" stroke-width="0.3" >C5Dr.2r</text>
<text transform="translate(1768.2 224) rotate(-90)" font-family='"Liberation Sans", Arial, Helvetica, sans-serif' font-size="21.5" fill="#000" stroke="#000" stroke-width="0.3" >C5En</text>
<text transform="translate(1856.8 224) rotate(-90)" font-family='"Liberation Sans", Arial, Helvetica, sans-serif' font-size="21.5" fill="#000" stroke="#000" stroke-width="0.3" >C5Er</text>
<text transform="translate(2004.4 220) rotate(-90)" font-family='"Liberation Sans", Arial, Helvetica, sans-serif' font-size="21.5" fill="#000" stroke="#000" stroke-width="0.3" >C6n</text>
<rect x="523.80" y="231.40" width="1597.50" height="1467.80" fill="#fff" />
<path d="M523.8 231.4H543.5V1699.2H523.8zM571.2 231.4H699.7V1699.2H571.2zM748.6 231.4H775.7V1699.2H748.6zM825.5 231.4H868.0V1699.2H825.5zM1102.0 231.4H1181.2V1699.2H1102.0zM1205.8 231.4H1228.2V1699.2H1205.8zM1258.0 231.4H1288.2V1699.2H1258.0zM1438.8 231.4H1530.3V1699.2H1438.8zM1578.8 231.4H1589.7V1699.2H1578.8zM1687.6 231.4H1829.4V1699.2H1687.6zM1869.1 231.4H2120.0V1699.2H1869.1z" fill="#e5e5e5"/>
<rect x="1288.60" y="772.00" width="148.60" height="145.30" fill="#fddd8e" />
<rect x="1439.40" y="917.30" width="91.20" height="96.70" fill="#f1d082" />
<path d="M1086.4 260L1096 260L1105.3 308.7L1184.6 562.5L1181.8 562.5z" fill="#f4cd72"/>
<path d="M1086.4 260L1181.75 562.5L1203.2 772" stroke="#000" stroke-width="2.6" fill="none"/>
<path d="M1226 772L1250 867.5L1273.75 1013.75" stroke="#000" stroke-width="3" fill="none" stroke-dasharray="4.4 3.6"/>
<path d="M1400 772L1430 865L1438.25 918.25L1455 1013.75" stroke="#000" stroke-width="2.6" fill="none"/>
<path d="M1506.5 1015L1531.8 1150L1576.2 1415L1594 1491L1605.8 1491L1594.3 1415L1580 1363L1546 1150L1526.6 1058L1518.6 1015z" fill="#66e7fa"/>
<path d="M1513 1015L1601.4 1491" stroke="#0a70d0" stroke-width="3.4" fill="none"/>
<path d="M1523.5 1014L1531.4 1058L1580.1 1363.1L1591 1377.8L1608.8 1491" stroke="#000" stroke-width="2.7" fill="none"/>
<path d="M523.5 259.6H566.9M572.5 259.6H615.9M621.4 259.6H664.8M670.4 259.6H713.8M719.3 259.6H762.7M768.3 259.6H811.7M817.3 259.6H860.7M866.2 259.6H909.6M915.2 259.6H958.6M964.1 259.6H1007.5M1013.1 259.6H1056.5M1062.1 259.6H1102.5" stroke="#de1a16" stroke-width="4.5" fill="none"/>
<text x="1111.5" y="271.8" font-family='"Liberation Sans", Arial, Helvetica, sans-serif' font-size="30.5" fill="#de1a16" stroke="#de1a16" stroke-width="0.3" textLength="83" lengthAdjust="spacingAndGlyphs" >RSU4</text>
<path d="M1162.7 773.2H1197.7M1201.9 773.2H1236.9M1241.1 773.2H1276.1M1280.3 773.2H1315.3M1319.5 773.2H1354.5M1358.7 773.2H1393.7M1397.9 773.2H1432.9M1437.1 773.2H1461.5" stroke="#de1a16" stroke-width="4.5" fill="none"/>
<path d="M1467.8 773.2H1471.2" stroke="#de1a16" stroke-width="4.5" fill="none"/>
<text x="1479" y="784.3" font-family='"Liberation Sans", Arial, Helvetica, sans-serif' font-size="30.5" fill="#de1a16" stroke="#de1a16" stroke-width="0.3" textLength="100" lengthAdjust="spacingAndGlyphs" >RSU4a</text>
<path d="M1234.8 1014.4H1267.6M1272.9 1014.4H1305.7M1311.0 1014.4H1343.8M1349.1 1014.4H1381.9M1387.2 1014.4H1420.0M1425.3 1014.4H1458.1M1463.4 1014.4H1496.2M1501.5 1014.4H1534.3M1539.6 1014.4H1572.4M1577.7 1014.4H1589.7" stroke="#de1a16" stroke-width="4.5" fill="none"/>
<text x="1598" y="1028.4" font-family='"Liberation Sans", Arial, Helvetica, sans-serif' font-size="30.5" fill="#de1a16" stroke="#de1a16" stroke-width="0.3" textLength="49.5" lengthAdjust="spacingAndGlyphs" >D-b</text>
<path d="M1533.9 1491.6H1567.8M1572.3 1491.6H1606.2M1610.7 1491.6H1644.6M1649.1 1491.6H1683.0M1687.5 1491.6H1703.7" stroke="#de1a16" stroke-width="4.5" fill="none"/>
<text x="1720" y="1499.3" font-family='"Liberation Sans", Arial, Helvetica, sans-serif' font-size="30.5" fill="#de1a16" stroke="#de1a16" stroke-width="0.3" textLength="84" lengthAdjust="spacingAndGlyphs" >RSU5</text>
<text x="1634" y="1541.3" font-family='"Liberation Serif", "DejaVu Serif", serif' font-size="33" fill="#000" stroke="#000" stroke-width="0.3" textLength="23.5" lengthAdjust="spacingAndGlyphs" >??</text>
<path d="M1058.25 601.75H1582.4" stroke="#283c74" stroke-width="2.1" fill="none" stroke-dasharray="4.8 3.3"/>
<path d="M1058.25 595.75V607.75M1582.4 595.75V607.75" stroke="#283c74" stroke-width="2" fill="none"/>
<circle cx="1320.0" cy="601.8" r="8.3" fill="#fff" stroke="#0a10b8" stroke-width="4.1"/>
<path d="M1070 728.25H1768.2" stroke="#283c74" stroke-width="2.1" fill="none" stroke-dasharray="4.8 3.3"/>
<path d="M1070 722.25V734.25M1768.2 722.25V734.25" stroke="#283c74" stroke-width="2" fill="none"/>
<circle cx="1418.8" cy="728.2" r="8.3" fill="#fff" stroke="#0a10b8" stroke-width="4.1"/>
<path d="M1925.4 992.1H2120" stroke="#283c74" stroke-width="2.1" fill="none" stroke-dasharray="4.8 3.3"/>
<path d="M1925.4 986.1V998.1" stroke="#283c74" stroke-width="2" fill="none"/>
<circle cx="2027.1" cy="992.1" r="8.3" fill="#fff" stroke="#0a10b8" stroke-width="4.1"/>
<path d="M1043.0 402.5H1187.0" stroke="#222" stroke-width="1.2" fill="none"/>
<path d="M1043.0 396.0V409.0M1187.0 396.0V409.0" stroke="#222" stroke-width="1.2" fill="none"/>
<path d="M1094.2 411.2H1235.5" stroke="#222" stroke-width="1.2" fill="none"/>
<path d="M1094.2 404.8V417.8M1235.5 404.8V417.8" stroke="#222" stroke-width="1.2" fill="none"/>
<path d="M1113.8 411.2H1252.5" stroke="#222" stroke-width="1.2" fill="none"/>
<path d="M1113.8 404.8V417.8M1252.5 404.8V417.8" stroke="#222" stroke-width="1.2" fill="none"/>
<path d="M1052.5 509.2H1197.5" stroke="#222" stroke-width="1.2" fill="none"/>
<path d="M1052.5 502.8V515.8M1197.5 502.8V515.8" stroke="#222" stroke-width="1.2" fill="none"/>
<path d="M1065.5 506.2H1209.5" stroke="#222" stroke-width="1.2" fill="none"/>
<path d="M1065.5 499.8V512.8M1209.5 499.8V512.8" stroke="#222" stroke-width="1.2" fill="none"/>
<path d="M1075.5 510.0H1218.8" stroke="#222" stroke-width="1.2" fill="none"/>
<path d="M1075.5 503.5V516.5M1218.8 503.5V516.5" stroke="#222" stroke-width="1.2" fill="none"/>
<path d="M1089.5 510.5H1231.2" stroke="#222" stroke-width="1.2" fill="none"/>
<path d="M1089.5 504.0V517.0M1231.2 504.0V517.0" stroke="#222" stroke-width="1.2" fill="none"/>
<path d="M1128.8 506.2H1264.5" stroke="#222" stroke-width="1.2" fill="none"/>
<path d="M1128.8 499.8V512.8M1264.5 499.8V512.8" stroke="#222" stroke-width="1.2" fill="none"/>
<path d="M1109.2 542.5H1248.2" stroke="#222" stroke-width="1.2" fill="none"/>
<path d="M1109.2 536.0V549.0M1248.2 536.0V549.0" stroke="#222" stroke-width="1.2" fill="none"/>
<path d="M1124.2 735.8H1260.0" stroke="#222" stroke-width="1.2" fill="none"/>
<path d="M1124.2 729.2V742.2M1260.0 729.2V742.2" stroke="#222" stroke-width="1.2" fill="none"/>
<circle cx="1114.5" cy="402.5" r="7.6" fill="#000"/>
<circle cx="1165.0" cy="411.2" r="7.6" fill="#000"/>
<circle cx="1182.5" cy="411.2" r="7.6" fill="#000"/>
<circle cx="1124.2" cy="509.2" r="7.6" fill="#000"/>
<circle cx="1137.5" cy="506.2" r="7.6" fill="#000"/>
<circle cx="1147.0" cy="510.0" r="7.6" fill="#000"/>
<circle cx="1160.0" cy="510.5" r="7.6" fill="#000"/>
<circle cx="1196.8" cy="506.2" r="7.6" fill="#000"/>
<circle cx="1178.8" cy="542.5" r="7.6" fill="#000"/>
<circle cx="1192.0" cy="735.8" r="7.6" fill="#000"/>
<path d="M565.0 253.3H652.0" stroke="#111" stroke-width="1.8" fill="none"/>
<path d="M565.0 247.8V258.8" stroke="#111" stroke-width="1.8" fill="none"/>
<path d="M812.0 253.3H1045.0" stroke="#111" stroke-width="1.8" fill="none"/>
<path d="M812.0 247.8V258.8" stroke="#111" stroke-width="1.8" fill="none"/>
<line x1="965.50" y1="247.80" x2="965.50" y2="258.80" stroke="#111" stroke-width="1.3" />
<path d="M652.1 253.3L668.1 245.0V261.6z" fill="#2ca24c" stroke="#000" stroke-width="2.8" stroke-linejoin="miter"/>
<path d="M732.1 253.3L748.9 245.0V261.6z" fill="#2ca24c" stroke="#000" stroke-width="2.8" stroke-linejoin="miter"/>
<path d="M1013.1 253.3L1029.1 245.0V261.6z" fill="#2ca24c" stroke="#000" stroke-width="2.8" stroke-linejoin="miter"/>
<path d="M1043.1 253.3L1060.1 245.0V261.6z" fill="#2ca24c" stroke="#000" stroke-width="2.8" stroke-linejoin="miter"/>
<path d="M1063.8 767.0H1078.0" stroke="#111" stroke-width="1.8" fill="none"/>
<path d="M1063.8 761.5V772.5" stroke="#111" stroke-width="1.8" fill="none"/>
<path d="M1077.1 767.0L1094.1 758.7V775.3z" fill="#2ca24c" stroke="#000" stroke-width="2.8" stroke-linejoin="miter"/>
<path d="M1225.8 767.0H1247.0" stroke="#111" stroke-width="1.8" fill="none"/>
<path d="M1225.8 761.5V772.5" stroke="#111" stroke-width="1.8" fill="none"/>
<path d="M1262.4 767.0L1246.2 758.7V775.3z" fill="#2ca24c" stroke="#000" stroke-width="2.8" stroke-linejoin="miter"/>
<path d="M1328.2 767.0H1430.0" stroke="#111" stroke-width="1.8" fill="none"/>
<path d="M1328.2 761.5V772.5" stroke="#111" stroke-width="1.8" fill="none"/>
<path d="M1365.8 767.0L1382.1 758.7V775.3z" fill="#2ca24c" stroke="#000" stroke-width="2.8" stroke-linejoin="miter"/>
<path d="M1398.3 767.0L1414.6 758.7V775.3z" fill="#2ca24c" stroke="#000" stroke-width="2.8" stroke-linejoin="miter"/>
<path d="M1429.6 767.0L1447.1 758.7V775.3z" fill="#2ca24c" stroke="#000" stroke-width="2.8" stroke-linejoin="miter"/>
<path d="M1504.2 1186.8L1487.5 1178.3V1195.3z" fill="#2ca24c" stroke="#000" stroke-width="2.8" stroke-linejoin="miter"/>
<path d="M1608.3 1186.6L1625.0 1178.1V1195.1z" fill="#2ca24c" stroke="#000" stroke-width="2.8" stroke-linejoin="miter"/>
<path d="M1521.0 1479.4H1671.8" stroke="#111" stroke-width="2.1" fill="none"/>
<path d="M1671.8 1473.4V1485.4" stroke="#111" stroke-width="2.1" fill="none"/>
<path d="M1519.0 1479.7L1503.8 1471.3V1488.1z" fill="#fff" stroke="#000" stroke-width="2.9" stroke-linejoin="miter"/>
<line x1="1101.75" y1="284.25" x2="1101.75" y2="303.00" stroke="#222" stroke-width="1.2" />
<line x1="1098.50" y1="284.25" x2="1105.00" y2="284.25" stroke="#222" stroke-width="1.2" />
<line x1="1438.25" y1="901.00" x2="1438.25" y2="912.00" stroke="#222" stroke-width="1.2" />
<line x1="1436.00" y1="901.00" x2="1441.50" y2="901.00" stroke="#222" stroke-width="1.2" />
<rect x="1095.75" y="302.75" width="12.00" height="12.00" fill="#fff" stroke="#000" stroke-width="2.1" />
<rect x="1175.75" y="556.50" width="12.00" height="12.00" fill="#fff" stroke="#000" stroke-width="2.1" />
<rect x="1432.25" y="912.25" width="12.00" height="12.00" fill="#fff" stroke="#000" stroke-width="2.1" />
<rect x="1525.40" y="1052.00" width="12.00" height="12.00" fill="#fff" stroke="#000" stroke-width="2.1" />
<rect x="1574.10" y="1357.10" width="12.00" height="12.00" fill="#fff" stroke="#000" stroke-width="2.1" />
<rect x="1585.00" y="1371.80" width="12.00" height="12.00" fill="#fff" stroke="#000" stroke-width="2.1" />
<text x="663" y="291" font-family='"Liberation Sans", Arial, Helvetica, sans-serif' font-size="29" fill="#000" stroke="#000" stroke-width="0.3" text-anchor="middle" >A</text>
<text x="743" y="291" font-family='"Liberation Sans", Arial, Helvetica, sans-serif' font-size="29" fill="#000" stroke="#000" stroke-width="0.3" text-anchor="middle" >B</text>
<text x="1021" y="285.3" font-family='"Liberation Sans", Arial, Helvetica, sans-serif' font-size="29" fill="#000" stroke="#000" stroke-width="0.3" text-anchor="middle" >C</text>
<text x="1055.8" y="289" font-family='"Liberation Sans", Arial, Helvetica, sans-serif' font-size="29" fill="#000" stroke="#000" stroke-width="0.3" text-anchor="middle" >D</text>
<text x="1090.6" y="339.8" font-family='"Liberation Sans", Arial, Helvetica, sans-serif' font-size="29" fill="#000" stroke="#000" stroke-width="0.3" text-anchor="middle" >E</text>
<text x="1200" y="577.5" font-family='"Liberation Sans", Arial, Helvetica, sans-serif' font-size="29" fill="#000" stroke="#000" stroke-width="0.3" text-anchor="middle" >O</text>
<text x="1342" y="627.5" font-family='"Liberation Sans", Arial, Helvetica, sans-serif' font-size="29" fill="#000" stroke="#000" stroke-width="0.3" text-anchor="middle" >P</text>
<text x="1418.75" y="713.75" font-family='"Liberation Sans", Arial, Helvetica, sans-serif' font-size="29" fill="#000" stroke="#000" stroke-width="0.3" text-anchor="middle" >Q</text>
<text x="1079.5" y="753.75" font-family='"Liberation Sans", Arial, Helvetica, sans-serif' font-size="29" fill="#000" stroke="#000" stroke-width="0.3" text-anchor="middle" >S</text>
<text x="1187.6" y="768.4" font-family='"Liberation Sans", Arial, Helvetica, sans-serif' font-size="29" fill="#000" stroke="#000" stroke-width="0.3" text-anchor="middle" >R</text>
<text x="1262.5" y="759.6" font-family='"Liberation Sans", Arial, Helvetica, sans-serif' font-size="29" fill="#000" stroke="#000" stroke-width="0.3" text-anchor="middle" >T</text>
<text x="1371.75" y="756.6" font-family='"Liberation Sans", Arial, Helvetica, sans-serif' font-size="29" fill="#000" stroke="#000" stroke-width="0.3" text-anchor="middle" >U</text>
<text x="1408.75" y="756.8" font-family='"Liberation Sans", Arial, Helvetica, sans-serif' font-size="29" fill="#000" stroke="#000" stroke-width="0.3" text-anchor="middle" >V</text>
<text x="1451.25" y="757" font-family='"Liberation Sans", Arial, Helvetica, sans-serif' font-size="29" fill="#000" stroke="#000" stroke-width="0.3" text-anchor="middle" >W</text>
<text x="1455.6" y="912.5" font-family='"Liberation Sans", Arial, Helvetica, sans-serif' font-size="29" fill="#000" stroke="#000" stroke-width="0.3" text-anchor="middle" >X</text>
<text x="2027" y="975" font-family='"Liberation Sans", Arial, Helvetica, sans-serif' font-size="29" fill="#000" stroke="#000" stroke-width="0.3" text-anchor="middle" >Y</text>
<text x="1547.6" y="1065" font-family='"Liberation Sans", Arial, Helvetica, sans-serif' font-size="29" fill="#000" stroke="#000" stroke-width="0.3" text-anchor="middle" >Z</text>
<text x="1651.8" y="1196.2" font-family='"Liberation Sans", Arial, Helvetica, sans-serif' font-size="29" fill="#000" stroke="#000" stroke-width="0.3" text-anchor="middle" >AA</text>
<text x="1548.5" y="1374.4" font-family='"Liberation Sans", Arial, Helvetica, sans-serif' font-size="29" fill="#000" stroke="#000" stroke-width="0.3" text-anchor="middle" >AB</text>
<text x="1627.5" y="1390.4" font-family='"Liberation Sans", Arial, Helvetica, sans-serif' font-size="29" fill="#000" stroke="#000" stroke-width="0.3" text-anchor="middle" >AC</text>
<text x="1471.8" y="1490.2" font-family='"Liberation Sans", Arial, Helvetica, sans-serif' font-size="29" fill="#000" stroke="#000" stroke-width="0.3" text-anchor="middle" >AD</text>
<rect x="1874.60" y="247.00" width="230.70" height="330.60" fill="#fff" stroke="#000" stroke-width="2" />
<path d="M1891.2 555.3V263.2H2058M1891.2 263.2L2058 336.5M1891.2 263.2L2058 409.8M1891.2 263.2L2058 556.4" stroke="#000" stroke-width="2.4" fill="none"/>
<text transform="translate(1955.3 286.4) rotate(23.7)" font-family='"DejaVu Sans", Verdana, sans-serif' font-size="27.5" fill="#000" stroke="#000" stroke-width="0.3" >5 cm kyr<tspan font-size="16" dy="-11">-1</tspan></text>
<text transform="translate(1966.6 322.8) rotate(41.3)" font-family='"DejaVu Sans", Verdana, sans-serif' font-size="27.5" fill="#000" stroke="#000" stroke-width="0.3" >10 cm kyr<tspan font-size="16" dy="-11">-1</tspan></text>
<text transform="translate(1981.9 411.8) rotate(60.4)" font-family='"DejaVu Sans", Verdana, sans-serif' font-size="27.5" fill="#000" stroke="#000" stroke-width="0.3" >20 cm kyr<tspan font-size="16" dy="-11">-1</tspan></text>
<rect x="546.70" y="1030.20" width="375.50" height="232.00" fill="#fff" stroke="#000" stroke-width="2" />
<rect x="558.40" y="1051.50" width="52.50" height="35.00" fill="url(#py)" stroke="#333" stroke-width="1.2" />
<rect x="558.40" y="1106.00" width="52.50" height="34.50" fill="url(#pm)" stroke="#333" stroke-width="1.2" />
<rect x="558.40" y="1161.80" width="52.50" height="35.60" fill="url(#pc)" stroke="#333" stroke-width="1.2" />
<rect x="558.40" y="1217.80" width="52.50" height="35.00" fill="url(#pd)" stroke="#333" stroke-width="1.2" />
<text x="626.6" y="1063.3" font-family='"Liberation Sans", Arial, Helvetica, sans-serif' font-size="31.4" fill="#000" stroke="#000" stroke-width="0.3" textLength="288" lengthAdjust="spacingAndGlyphs" >Diatom-bearing/rich,</text>
<text x="626.6" y="1093.4" font-family='"Liberation Sans", Arial, Helvetica, sans-serif' font-size="31.4" fill="#000" stroke="#000" stroke-width="0.3" textLength="128.5" lengthAdjust="spacingAndGlyphs" >diatomite</text>
<text x="626.6" y="1132.3" font-family='"Liberation Sans", Arial, Helvetica, sans-serif' font-size="31.4" fill="#000" stroke="#000" stroke-width="0.3" textLength="211" lengthAdjust="spacingAndGlyphs" >Mud/Mudstone</text>
<text x="626.6" y="1188" font-family='"Liberation Sans", Arial, Helvetica, sans-serif' font-size="31.4" fill="#000" stroke="#000" stroke-width="0.3" textLength="78.5" lengthAdjust="spacingAndGlyphs" >Chert</text>
<text x="626.6" y="1244.4" font-family='"Liberation Sans", Arial, Helvetica, sans-serif' font-size="31.4" fill="#000" stroke="#000" stroke-width="0.3" textLength="255" lengthAdjust="spacingAndGlyphs" >Diamict/Diamictite</text>
<rect x="547.60" y="1277.60" width="533.10" height="390.30" fill="#fff" stroke="#000" stroke-width="2" />
<rect x="562.70" y="1298.00" width="32.10" height="18.50" fill="#3ee6fb" />
<line x1="562.70" y1="1307.20" x2="594.80" y2="1307.20" stroke="#0a70d0" stroke-width="3" />
<circle cx="575.3" cy="1365.3" r="8" fill="#000"/>
<rect x="568.30" y="1420.40" width="14.00" height="14.00" fill="#fff" stroke="#000" stroke-width="1.7" />
<circle cx="573.0" cy="1493.0" r="8.2" fill="#fff" stroke="#0a10b8" stroke-width="4.1"/>
<path d="M583.1 1564.6L565.2 1556.9V1572.3z" fill="#2ca24c" stroke="#000" stroke-width="2.8" stroke-linejoin="miter"/>
<path d="M562.5 1638.0L580.4 1630.3V1645.7z" fill="#2ca24c" stroke="#000" stroke-width="2.8" stroke-linejoin="miter"/>
<text x="613.2" y="1318.6" font-family='"DejaVu Sans", Verdana, sans-serif' font-size="29.5" fill="#000" stroke="#000" stroke-width="0.3" textLength="432.5" lengthAdjust="spacingAndGlyphs" >Astrochronological anchoring</text>
<text x="613.2" y="1373.1" font-family='"DejaVu Sans", Verdana, sans-serif' font-size="29.5" fill="#000" stroke="#000" stroke-width="0.3" ><tspan x="613.2" y="1373.1" textLength="163" lengthAdjust="spacingAndGlyphs">Macrofossil</tspan> <tspan x="788.5" y="1361.5" font-size="19" textLength="21.5" lengthAdjust="spacingAndGlyphs">87</tspan><tspan x="811.6" y="1373.1" textLength="46" lengthAdjust="spacingAndGlyphs">Sr/</tspan><tspan x="860.2" y="1361.5" font-size="19" textLength="22.5" lengthAdjust="spacingAndGlyphs">86</tspan><tspan x="884.6" y="1373.1" textLength="108.5" lengthAdjust="spacingAndGlyphs">Sr date</tspan></text>
<text x="613.2" y="1434.4" font-family='"DejaVu Sans", Verdana, sans-serif' font-size="29.5" fill="#000" stroke="#000" stroke-width="0.3" textLength="263" lengthAdjust="spacingAndGlyphs" >Magnetic reversal</text>
<text x="613.2" y="1503" font-family='"DejaVu Sans", Verdana, sans-serif' font-size="29.5" fill="#000" stroke="#000" stroke-width="0.3" textLength="454" lengthAdjust="spacingAndGlyphs" >Detrital hornblende Ar-Ar date</text>
<text x="613.2" y="1573.3" font-family='"DejaVu Sans", Verdana, sans-serif' font-size="29.5" fill="#000" stroke="#000" stroke-width="0.3" textLength="446" lengthAdjust="spacingAndGlyphs" >Last appearance datum (LAD)</text>
<text x="613.2" y="1645.4" font-family='"DejaVu Sans", Verdana, sans-serif' font-size="29.5" fill="#000" stroke="#000" stroke-width="0.3" textLength="450" lengthAdjust="spacingAndGlyphs" >First appearance datum (FAD)</text>
<rect x="523.8" y="231.4" width="1597.5" height="1467.8" fill="none" stroke="#000" stroke-width="3.2"/>
</svg>
</body>
</html>
